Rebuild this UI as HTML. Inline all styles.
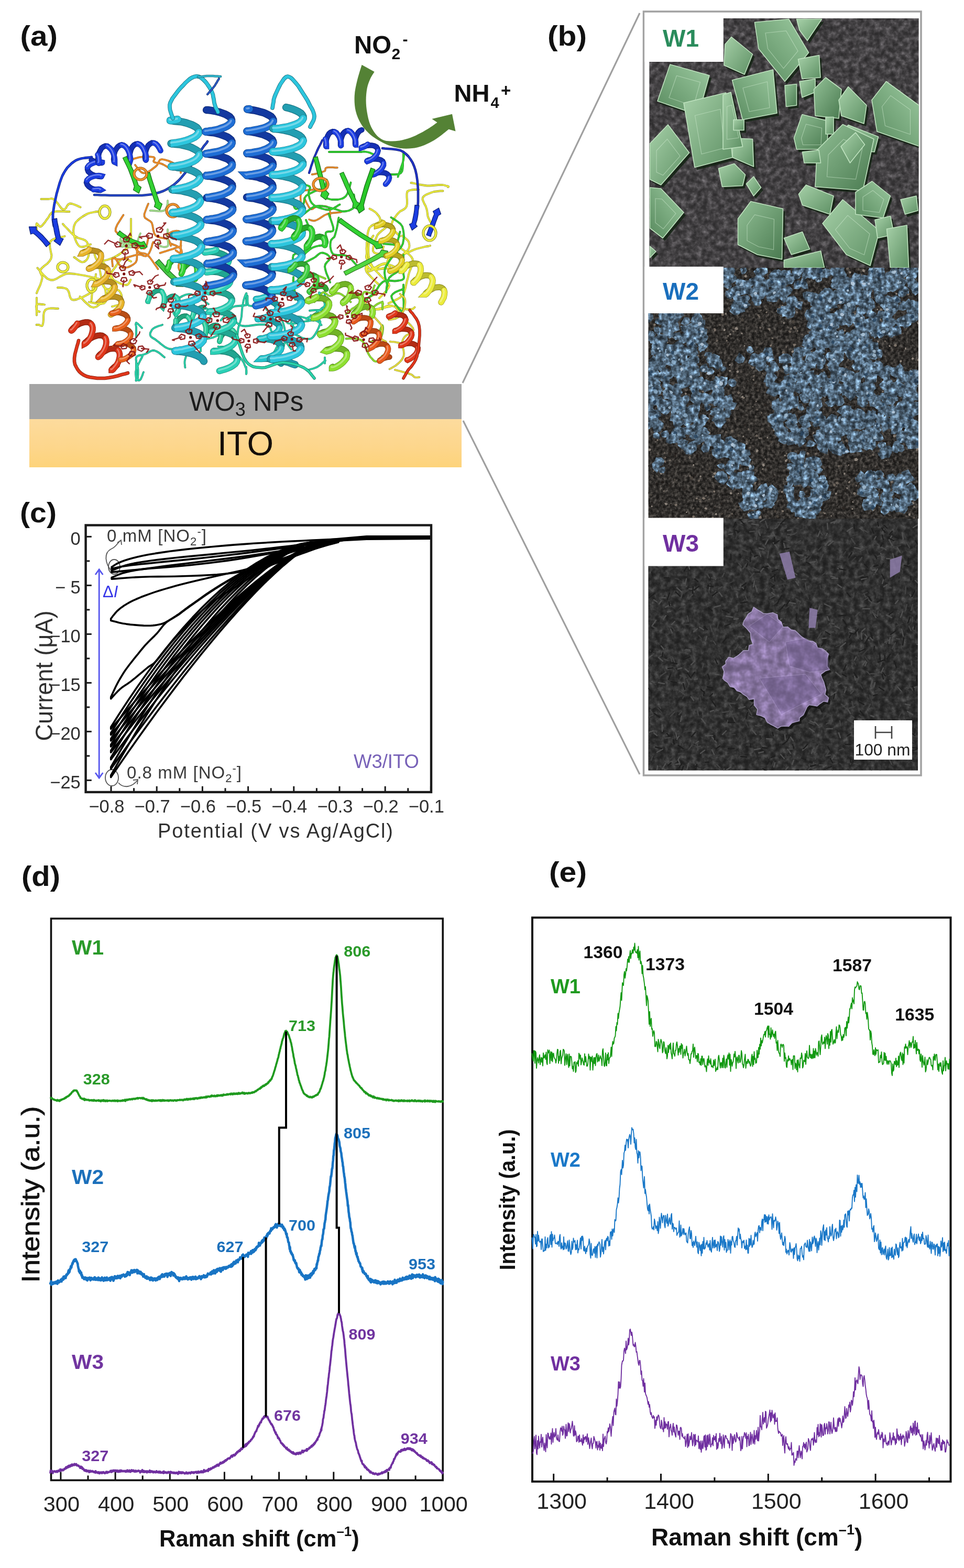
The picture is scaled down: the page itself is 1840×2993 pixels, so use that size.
<!DOCTYPE html>
<html><head><meta charset="utf-8"><title>Figure</title>
<style>html,body{margin:0;padding:0;background:#fff;} svg{display:block;}</style>
</head><body>
<svg width="1840" height="2993" viewBox="0 0 1840 2993">
<defs><linearGradient id="itog" x1="0" y1="0" x2="0" y2="1"><stop offset="0" stop-color="#fddb9d"/><stop offset="0.6" stop-color="#fdd68b"/><stop offset="1" stop-color="#fdd37a"/></linearGradient><filter id="n1" x="0" y="0" width="100%" height="100%" color-interpolation-filters="sRGB"><feTurbulence type="fractalNoise" baseFrequency="0.1" numOctaves="3" seed="5"/><feColorMatrix type="matrix" values="1 0 0 0 0 1 0 0 0 0 1 0 0 0 0 0 0 0 0 1"/><feComponentTransfer><feFuncR type="gamma" amplitude="0.4" exponent="2" offset="0.165"/><feFuncG type="gamma" amplitude="0.388" exponent="2" offset="0.16005"/><feFuncB type="gamma" amplitude="0.4" exponent="2" offset="0.165"/></feComponentTransfer></filter><clipPath id="c1"><rect x="1239.5" y="35" width="514.0" height="476"/></clipPath><linearGradient id="gc1" x1="0" y1="0" x2="1" y2="1"><stop offset="0" stop-color="#a6d0a8"/><stop offset="1" stop-color="#5e9064"/></linearGradient><linearGradient id="gc2" x1="0" y1="0" x2="1" y2="1"><stop offset="0" stop-color="#92c096"/><stop offset="1" stop-color="#4a7a50"/></linearGradient><linearGradient id="gc3" x1="1" y1="0" x2="0" y2="1"><stop offset="0" stop-color="#9ccaa0"/><stop offset="1" stop-color="#588a5e"/></linearGradient><filter id="n2" x="0" y="0" width="100%" height="100%" color-interpolation-filters="sRGB"><feTurbulence type="fractalNoise" baseFrequency="0.17" numOctaves="3" seed="9"/><feColorMatrix type="matrix" values="1 0 0 0 0 1 0 0 0 0 1 0 0 0 0 0 0 0 0 1"/><feComponentTransfer><feFuncR type="gamma" amplitude="0.45" exponent="2" offset="0.08"/><feFuncG type="gamma" amplitude="0.4275" exponent="2" offset="0.076"/><feFuncB type="gamma" amplitude="0.405" exponent="2" offset="0.07200000000000001"/></feComponentTransfer></filter><filter id="n2b" x="0" y="0" width="100%" height="100%" color-interpolation-filters="sRGB"><feTurbulence type="fractalNoise" baseFrequency="0.12" numOctaves="3" seed="13"/><feColorMatrix type="matrix" values="1 0 0 0 0 1 0 0 0 0 1 0 0 0 0 0 0 0 0 1"/><feComponentTransfer><feFuncR type="gamma" amplitude="0.81" exponent="2" offset="0.11399999999999999"/><feFuncG type="gamma" amplitude="1.026" exponent="2" offset="0.1444"/><feFuncB type="gamma" amplitude="1.215" exponent="2" offset="0.171"/></feComponentTransfer></filter><clipPath id="c2"><rect x="1237.5" y="511" width="515.5" height="479"/></clipPath><clipPath id="c2b"><path d="M1644,791l11,3l-3,11l-5,5l-10,7l-2,-12l0,-10zM1608,553l-9,1l-3,-9l2,-10l10,2l6,3l2,9zM1452,545l10,3l1,8l-4,7l-8,4l-9,-5l4,-10zM1740,833l6,3l-1,8l-8,3l-7,-3l-1,-8l6,-4zM1334,830l6,0l1,7l-4,3l-5,2l-2,-4l-1,-5zM1678,845l5,-2l8,2l0,8l-7,2l-6,1l-4,-6zM1360,736l5,-3l4,-4l4,4l2,6l-5,3l-6,0zM1648,810l-13,1l-12,5l-5,-13l7,-11l12,-4l7,10zM1635,587l9,-4l7,4l5,7l-6,6l-6,1l-10,-3zM1615,743l7,3l-2,7l-6,1l-7,1l0,-7l2,-7zM1511,701l-2,-12l8,-9l9,5l10,4l-3,12l-10,-1zM1577,646l-8,-1l-12,0l1,-12l9,-6l8,4l10,6zM1718,847l7,3l2,8l-5,5l-7,-1l-3,-5l-4,-10zM1536,711l-11,-3l6,-10l4,-7l8,3l7,6l-6,9zM1654,630l5,-7l7,3l3,4l-1,5l-4,4l-5,-4zM1607,550l-11,-1l-1,-11l3,-10l10,2l4,6l0,6zM1554,663l-8,7l-7,-5l-9,-6l4,-12l12,1l5,7zM1521,824l8,-6l7,8l1,7l-4,5l-8,2l-2,-8zM1625,793l-1,-5l1,-4l4,-2l3,3l2,4l-3,4zM1644,556l9,-6l7,4l3,6l0,7l-9,7l-9,-7zM1298,854l-5,-4l4,-5l6,-1l6,3l-3,5l-3,6zM1393,913l0,-10l11,-1l6,7l2,10l-9,5l-10,-1zM1603,812l-2,9l-2,6l-8,3l-4,-7l1,-8l6,-4zM1539,959l3,-7l6,-8l9,6l4,9l-9,4l-7,1zM1676,520l-6,3l-7,-4l-5,-9l9,-8l11,2l4,10zM1753,726l-8,-4l-2,-8l5,-5l8,-5l5,9l0,9zM1373,913l-4,-6l2,-6l6,-2l4,4l1,5l-3,3zM1625,549l9,-2l9,3l2,10l-8,5l-8,-2l-4,-5zM1631,670l7,7l-5,8l-8,3l-7,-4l-5,-10l10,-5zM1522,745l-4,-10l5,-11l11,3l10,4l-5,10l-7,3zM1586,673l4,-6l7,1l1,5l2,5l-5,1l-6,0zM1541,688l1,-5l5,0l4,2l1,5l-4,5l-7,0zM1547,787l6,7l-7,5l-7,5l-4,-7l2,-6l3,-6zM1252,873l10,0l6,5l-1,7l-4,4l-7,1l-8,-7zM1324,712l1,-7l7,0l4,5l0,7l-6,4l-5,-5zM1681,978l0,-8l4,-5l9,-5l8,9l-6,9l-8,6zM1588,680l-2,-5l4,-4l6,-1l4,5l1,8l-8,3zM1620,729l-1,-5l5,-2l6,0l2,6l-5,4l-5,2zM1524,834l-4,8l-5,6l-12,2l-4,-12l5,-12l13,-3zM1540,512l-3,6l-4,2l-7,1l-3,-7l5,-6l5,3zM1666,740l-2,8l-5,8l-10,-4l-6,-9l5,-11l11,5zM1249,722l-10,3l-4,-9l-1,-9l8,-5l9,4l5,9zM1722,505l8,4l9,2l-5,8l-5,7l-7,-5l-3,-7zM1550,617l-10,-6l-5,-10l5,-10l12,-1l8,7l1,13zM1385,835l11,-3l5,9l3,7l-4,10l-11,-2l-5,-9zM1255,659l-4,-12l5,-9l10,0l7,4l2,10l-8,7zM1703,701l2,8l-5,5l-8,4l-9,-6l4,-11l9,-3zM1701,743l3,-13l12,-2l9,5l5,10l-9,7l-9,-2zM1531,687l-1,6l-6,-2l-2,-4l0,-4l4,-3l5,1zM1653,667l-2,9l-6,3l-8,0l-5,-8l5,-8l9,-2zM1666,695l-3,6l-7,4l-8,-4l1,-9l6,-9l9,5zM1303,699l4,9l-1,9l-10,2l-10,-3l0,-11l7,-10zM1255,689l0,9l-8,3l-5,-3l-3,-4l0,-8l9,-4zM1560,917l-1,7l-6,1l-8,0l1,-8l5,-3l6,-2zM1589,626l-7,-5l0,-9l7,-5l8,3l7,7l-6,8zM1447,967l-2,-8l9,-1l7,3l-3,7l-4,4l-6,1zM1499,841l-1,-8l6,-9l8,7l8,8l-7,10l-10,-2zM1400,882l2,12l-1,8l-7,6l-8,-6l-5,-9l7,-9zM1528,885l10,1l-2,9l-3,9l-10,-1l-9,-7l7,-9zM1325,788l7,4l2,7l-3,8l-9,-1l-4,-6l1,-8zM1267,673l1,-4l5,-2l3,3l2,5l-4,4l-6,-1zM1577,648l-6,-7l0,-12l12,-2l6,7l1,7l-4,7zM1363,775l-4,-9l6,-6l7,-7l6,9l-1,7l-5,5zM1248,653l-1,-5l0,-5l5,0l6,1l-3,5l-2,3zM1412,513l6,-2l6,0l2,6l-4,5l-6,2l-2,-6zM1601,615l3,-13l1,-13l13,5l8,6l1,13l-12,2zM1513,774l-3,6l-3,6l-5,-5l-1,-4l1,-5l6,-3zM1709,962l6,-1l2,6l0,6l-6,1l-5,-3l-1,-6zM1471,699l-2,-10l10,0l5,7l3,7l-6,6l-9,-2zM1494,770l4,-9l9,3l8,2l1,11l-9,6l-8,-5zM1732,716l1,-7l8,-1l2,7l3,7l-7,6l-7,-6zM1565,573l2,-9l5,-2l6,-2l5,6l-5,5l-5,6zM1528,912l-4,9l-11,-2l-1,-9l2,-7l8,-5l10,4zM1416,859l7,-1l8,1l2,9l-8,5l-8,1l-7,-8zM1396,878l-5,-6l3,-7l7,-11l12,7l-1,12l-7,7zM1260,692l10,-2l0,10l3,12l-12,-3l-5,-4l-3,-8zM1601,532l-3,6l-6,2l-6,-3l3,-6l3,-3l5,0zM1703,751l1,10l-5,6l-7,2l-9,-3l0,-10l8,-8zM1288,754l4,5l-5,5l-5,-1l-3,-3l-1,-5l5,-3zM1451,943l-6,-9l7,-9l11,-3l3,10l5,10l-11,3zM1537,760l-4,-7l4,-6l8,-5l6,7l-1,8l-5,6zM1568,901l-4,3l-6,0l0,-6l3,-4l5,-2l5,4zM1725,943l2,-12l12,2l4,10l-1,8l-8,4l-9,-3zM1681,550l6,-10l9,-5l9,7l1,10l-8,5l-9,2zM1645,534l-5,2l-8,0l2,-7l3,-4l6,-3l2,7zM1576,570l2,-9l10,-2l6,7l-2,8l-6,3l-8,1zM1607,842l4,6l3,7l-7,7l-9,-2l-5,-9l8,-5zM1365,769l-4,2l-6,-1l-1,-7l5,-4l6,-1l1,7zM1636,624l2,-6l6,1l6,4l-4,5l-5,4l-5,-3zM1586,614l7,-1l9,2l0,10l-8,5l-8,-1l-5,-8zM1658,572l3,9l-4,9l-10,0l-3,-8l1,-5l4,-6zM1707,517l3,10l-5,9l-10,1l-3,-9l-2,-7l7,-3zM1339,822l8,-3l8,6l-5,8l-6,4l-7,-2l-6,-8zM1426,588l-7,1l-6,-4l-1,-8l6,-8l7,7l8,6zM1312,768l-6,-1l-6,-5l4,-6l7,-2l5,3l0,7zM1632,747l-3,5l-6,-2l-4,-4l1,-6l6,-3l6,4zM1581,618l-7,0l-6,-2l2,-6l4,-4l6,-1l5,6zM1700,576l1,-8l8,-5l9,5l-2,9l-5,5l-10,5zM1391,893l-3,-9l8,-7l9,0l7,7l-2,12l-11,2zM1296,841l-6,5l-8,0l-7,-9l7,-8l8,1l6,4zM1288,633l-5,5l-7,2l-9,-3l3,-10l8,-2l7,1zM1723,567l-7,0l-3,-6l2,-6l7,-6l7,6l1,8zM1645,604l5,0l1,5l-1,6l-6,-1l-6,-2l0,-8zM1659,675l-2,-9l4,-6l8,-7l5,10l2,9l-8,4zM1509,907l3,-4l5,-5l5,5l-2,5l-2,5l-7,0zM1287,697l-10,1l-7,-3l-1,-8l5,-6l10,-5l5,11zM1710,625l9,1l2,11l-10,4l-7,-2l-7,-6l4,-10zM1524,956l4,-4l5,-6l6,5l-3,6l-3,5l-7,0zM1518,840l-3,-6l4,-7l7,1l9,4l-5,8l-6,5zM1733,835l-1,-7l1,-6l7,-1l5,5l-3,5l-2,7zM1505,583l-6,-8l6,-9l11,-2l7,8l-3,10l-8,2zM1623,834l-10,-5l-9,-6l4,-11l10,-7l10,8l-2,10zM1740,790l-7,2l-5,-3l-1,-5l2,-5l6,-1l6,4zM1307,605l8,1l3,8l-5,5l-6,2l-8,-3l4,-7zM1539,820l-1,4l-3,5l-5,-3l-1,-4l0,-7l7,1zM1733,511l9,0l10,0l2,11l-6,10l-12,-2l-6,-9zM1689,699l5,-2l4,2l4,5l-4,4l-6,2l-4,-5zM1237,702l2,-8l6,-8l9,5l3,9l-6,6l-8,3zM1540,689l0,-8l5,-5l6,3l7,5l-5,7l-7,-1zM1424,904l1,8l-8,2l-5,-1l-3,-5l3,-6l6,-2zM1521,924l-5,-11l2,-11l10,-1l10,2l4,11l-10,4zM1529,796l6,-5l5,5l3,5l-3,8l-8,0l-7,-6zM1633,545l-5,-2l-3,-6l5,-4l7,-2l6,6l-2,9zM1746,725l-6,-5l2,-7l4,-6l9,1l4,9l-5,7zM1466,742l7,-2l8,1l5,9l-7,8l-9,-4l-8,-4zM1612,729l7,-5l7,7l6,9l-11,3l-7,0l-10,-6zM1563,647l-6,7l-7,5l-5,-6l-4,-8l8,-3l6,1zM1364,768l-12,-3l4,-11l5,-7l11,-4l6,11l-3,12zM1605,564l9,1l3,8l-6,6l-7,2l-3,-6l0,-6zM1562,972l-8,-5l-9,-9l10,-7l9,-1l7,6l-2,9zM1667,549l5,-5l5,5l0,6l-3,2l-5,2l-2,-5zM1411,673l7,6l4,5l-3,8l-9,2l-8,-6l5,-8zM1741,583l-5,5l-3,-6l-5,-6l6,-6l6,4l3,4zM1322,688l-1,-6l5,-3l6,0l3,6l-1,8l-9,1zM1505,959l-3,-5l-2,-8l8,-2l7,2l2,8l-5,4zM1264,641l8,6l-2,10l-10,3l-6,-6l-6,-7l7,-7zM1738,706l7,5l5,7l-5,7l-8,2l-5,-7l-1,-8zM1612,517l5,8l-5,7l-9,8l-11,-7l6,-11l5,-10zM1530,678l-5,4l-8,0l1,-8l1,-7l7,-1l6,5zM1588,750l-10,0l-9,-7l2,-12l11,-5l9,7l4,9zM1497,745l0,6l-7,0l-3,-3l-2,-5l4,-6l5,5zM1614,821l-6,3l-7,-5l0,-9l9,-5l8,4l4,9zM1309,835l-7,1l-7,2l1,-8l0,-8l7,3l3,3zM1326,823l5,-5l7,-1l6,4l-4,6l-4,3l-5,-1zM1619,831l-5,-6l-1,-9l8,-5l6,5l2,6l1,10zM1641,707l-2,-10l9,-3l10,2l-1,9l-3,8l-9,1zM1728,776l10,5l-2,12l-8,4l-10,3l-3,-11l4,-8zM1304,700l5,-1l8,3l-5,6l-4,7l-8,-2l-1,-9zM1301,732l0,12l-1,8l-9,7l-6,-10l-4,-9l8,-8zM1634,649l8,3l-3,8l-5,6l-8,-2l-3,-8l4,-7zM1729,849l-4,-9l9,-6l8,4l4,6l-3,7l-8,6zM1302,665l8,3l4,7l-3,8l-8,3l-9,-4l-1,-11zM1362,832l5,-3l9,0l0,8l-4,9l-9,0l-6,-8zM1337,738l-3,-2l-1,-5l3,-3l5,0l1,5l2,7zM1516,676l-1,-12l11,-2l13,2l2,13l-11,5l-11,6zM1537,969l0,-7l7,0l5,2l2,6l-4,4l-6,-2zM1514,891l7,-7l8,7l3,10l-9,5l-8,-3l-7,-5zM1652,948l3,-6l4,-5l7,2l2,8l-5,5l-6,0zM1492,524l1,13l2,12l-13,2l-7,-8l1,-9l5,-4zM1272,627l-1,-12l13,-6l11,8l2,13l-11,4l-9,1zM1513,877l-1,-5l1,-7l8,-1l2,6l1,6l-6,4zM1395,522l3,3l0,6l-6,-1l-5,-2l-1,-6l5,-5zM1373,777l8,0l0,8l-7,2l-5,1l-3,-5l3,-5zM1611,791l4,10l3,9l-9,4l-9,-2l-3,-9l4,-8zM1258,733l7,10l-5,10l-10,4l-6,-7l-3,-8l7,-5zM1629,662l-5,-10l9,-6l9,3l9,5l-5,9l-9,3zM1536,832l0,8l-7,5l-7,-2l-2,-6l3,-6l6,-4zM1283,709l4,-8l10,-2l6,8l0,10l-10,1l-8,-1zM1536,527l1,-10l8,-5l7,5l8,7l-6,10l-10,-3zM1685,934l-11,-2l-1,-13l12,-9l11,7l2,10l-4,8zM1412,933l-8,0l-6,-8l7,-6l7,-6l7,7l1,9zM1595,567l2,-12l11,-2l7,7l4,9l-9,4l-7,0zM1379,766l-8,5l-5,-7l-8,-7l8,-7l8,2l7,5zM1679,698l5,10l-5,10l-9,-3l-10,-1l4,-9l5,-5zM1503,885l8,-1l7,2l3,8l-8,3l-5,1l-6,-4zM1733,811l4,-9l10,-1l9,6l-6,9l-6,4l-9,0zM1647,620l8,-10l8,-9l8,10l3,8l-7,6l-9,2zM1283,831l-2,-6l5,-6l6,4l6,5l-4,6l-7,6zM1342,791l4,1l3,5l-5,5l-5,-2l-3,-3l1,-5zM1489,829l12,-4l13,4l1,14l-11,4l-8,1l-11,-6zM1640,691l1,-7l8,0l3,7l-1,7l-6,1l-5,-3zM1495,819l6,2l3,6l-4,6l-8,3l-7,-7l2,-9zM1332,737l8,-5l7,-2l7,4l-1,9l-8,2l-7,0zM1629,654l-1,8l-3,6l-9,1l-2,-8l-1,-8l8,-3zM1546,639l4,-8l5,-7l11,1l0,10l-3,9l-8,-2zM1558,756l-9,-5l3,-9l4,-10l9,6l4,7l0,10zM1453,555l8,2l0,8l-4,5l-7,3l-7,-6l4,-7zM1440,891l-1,4l-2,3l-6,1l-2,-5l2,-6l6,-1zM1672,966l-6,9l-10,-8l-5,-11l10,-10l10,5l3,8zM1501,746l9,2l5,5l2,10l-9,7l-13,-4l0,-12zM1492,772l9,9l-13,4l-8,1l-7,-7l0,-13l13,-6zM1685,790l-3,-10l2,-9l9,1l6,4l0,6l-4,7zM1526,897l-3,-7l0,-7l8,-1l7,2l2,9l-7,5zM1386,510l6,-11l7,9l5,8l-4,10l-9,-4l-6,-5zM1495,730l3,7l-4,5l-6,0l-4,-4l-1,-6l6,-1zM1616,604l-4,8l-6,8l-9,-4l-1,-9l2,-11l10,5zM1625,710l-5,10l-5,12l-12,-5l-3,-11l3,-11l12,-3zM1745,616l-12,0l-5,-12l5,-12l13,-2l6,10l1,10zM1582,664l-11,-2l-6,-5l0,-8l6,-7l8,4l2,7zM1759,553l-6,6l-6,5l-6,-5l-1,-8l6,-5l6,3zM1660,732l-3,4l-6,-1l0,-5l1,-6l6,-1l5,4zM1602,535l8,-6l9,-1l5,9l-3,8l-8,8l-10,-7zM1501,746l-2,-10l3,-8l7,-3l9,4l0,9l-6,7zM1612,566l-5,8l-4,6l-10,-1l2,-9l2,-5l6,-3zM1507,711l9,2l5,3l2,7l-5,7l-9,-2l-4,-8zM1622,863l-7,3l-6,1l-6,-3l1,-8l7,-5l6,5zM1708,811l-6,1l-6,-4l3,-7l6,-1l8,-1l-1,8zM1410,578l-7,-1l-3,-5l-2,-7l7,-5l8,4l2,8zM1364,792l10,-3l8,5l5,10l-8,9l-10,-5l-11,-5zM1636,680l-5,-5l4,-6l7,0l3,4l-1,5l-3,2zM1471,563l6,-4l6,3l4,7l-4,7l-9,1l-6,-7zM1649,557l-3,-8l-1,-5l4,-6l6,3l6,5l-3,9zM1531,648l7,-9l8,-2l13,1l-6,12l-5,5l-8,-1zM1495,839l-10,-3l-7,-8l2,-12l13,-5l11,8l-1,12zM1626,842l12,0l4,9l5,12l-12,0l-12,2l-2,-12zM1254,774l-9,-3l4,-8l5,-6l9,-1l3,10l-3,8zM1597,697l-5,-3l-5,-5l6,-5l6,1l3,4l1,6zM1655,900l10,3l7,3l1,9l-7,6l-7,-5l-3,-6zM1257,607l4,3l5,5l-5,5l-6,-1l-5,-3l1,-7zM1597,731l-7,3l-4,-7l3,-6l6,-6l5,6l1,7zM1690,927l8,0l2,7l-3,6l-5,1l-6,-3l-1,-6zM1647,841l7,-6l7,-1l7,4l-1,8l-6,7l-6,-6zM1373,692l-8,7l-11,2l-2,-11l-1,-12l12,-3l11,5zM1276,684l-6,2l-5,-2l-2,-5l1,-7l6,2l6,2zM1641,653l-12,0l-3,-10l-3,-11l10,-6l8,8l5,8zM1550,693l-6,-5l1,-7l4,-8l7,6l3,5l-1,8zM1408,686l2,-6l6,1l6,1l-2,5l-2,5l-4,-3zM1709,705l2,5l-3,5l-7,2l-3,-7l1,-7l6,-2zM1644,910l3,-4l7,-3l1,8l-2,4l-3,7l-8,-4zM1631,856l-2,-8l6,-7l7,3l5,6l-5,5l-5,3zM1613,653l5,8l-2,10l-10,0l-6,-5l0,-7l5,-4zM1309,859l3,-10l5,-5l9,-4l5,10l-2,10l-10,5zM1484,809l-12,2l-6,-11l3,-9l7,-2l12,-3l-1,12zM1260,737l-7,1l-4,-5l-3,-5l5,-5l6,2l4,5zM1642,738l3,-6l5,-3l6,1l3,5l-4,6l-6,-1zM1739,587l9,4l-2,9l-1,9l-8,-5l-9,-2l6,-8zM1689,560l-5,-3l-1,-4l1,-6l6,-3l5,5l-2,6zM1522,726l4,-5l5,4l3,7l-6,3l-6,1l-2,-5zM1403,927l-4,9l-7,-7l-6,-5l4,-8l9,-6l7,9zM1648,953l10,-2l12,3l-2,12l-7,7l-12,2l-4,-11zM1259,716l7,-5l11,-2l0,10l2,11l-11,2l-8,-6zM1664,730l-5,-5l-4,-5l4,-5l5,1l7,2l-4,6zM1720,714l3,6l1,6l-6,3l-5,-3l-1,-5l2,-4zM1633,539l-9,-3l2,-9l5,-7l8,3l6,7l-6,6zM1638,720l-11,7l-9,-1l-7,-6l0,-11l10,-3l9,4zM1635,843l-5,-5l3,-8l7,3l8,0l-3,7l-4,3zM1276,767l-1,-6l6,-3l6,-1l0,6l2,7l-8,1zM1348,694l4,9l-5,8l-8,-1l-6,-3l3,-6l4,-4zM1552,559l7,8l-7,8l-8,0l-5,-4l0,-7l4,-8zM1632,567l3,7l-6,8l-9,-2l-6,-8l6,-6l6,-6zM1247,775l-1,9l-8,3l-6,-2l-2,-6l2,-6l8,-3zM1488,760l0,-8l3,-7l7,3l4,5l1,8l-8,2zM1380,845l3,5l-5,4l-6,-1l0,-6l1,-4l4,-1zM1677,560l-11,-7l2,-13l13,0l8,2l0,9l-2,9zM1566,564l6,-2l4,7l-6,5l-5,0l-5,-3l-1,-7zM1261,786l1,8l-6,4l-8,1l-3,-7l0,-9l9,-1zM1572,957l-10,-5l-3,-12l11,-6l9,3l6,8l-5,9zM1329,737l-10,-4l4,-10l8,-3l10,-1l6,11l-8,9zM1236,751l11,1l3,9l1,10l-10,2l-7,-5l-1,-8zM1660,929l-7,-3l2,-8l7,-3l6,5l1,5l-4,6zM1653,800l0,-8l4,-9l11,3l9,9l-8,10l-10,4zM1716,834l2,-6l7,0l6,4l-2,7l-6,1l-6,0zM1496,598l5,-9l7,-9l9,7l1,9l-3,9l-12,4zM1293,674l-1,11l-5,6l-8,1l-6,-5l0,-9l9,-3zM1681,811l-7,-4l-3,-5l2,-6l6,0l5,2l1,6zM1529,749l1,-5l4,-5l5,3l3,4l-1,6l-7,-1zM1531,901l5,5l-1,7l-3,7l-8,-3l-3,-7l1,-8zM1547,797l-3,9l-4,7l-9,-1l-8,-8l6,-10l9,1zM1567,585l1,10l-9,3l-10,2l-3,-11l6,-6l8,-6zM1382,844l0,13l-13,3l-8,-6l-2,-9l3,-12l12,2zM1360,853l9,-9l11,-2l12,6l-5,12l-9,8l-10,-5zM1469,740l-7,-3l-1,-6l3,-10l10,2l3,8l-1,8zM1633,830l5,5l-3,8l-7,6l-7,-6l-6,-10l10,-4zM1378,781l-5,2l-3,-4l-1,-4l2,-4l7,-1l1,6zM1551,911l8,4l2,11l-8,7l-8,-6l-10,-5l7,-10zM1725,547l-7,3l-10,-1l1,-10l5,-6l10,-3l6,9zM1275,747l3,-4l5,0l2,5l1,8l-7,-2l-4,-3zM1426,545l-3,-4l2,-5l5,-1l8,1l1,8l-7,4zM1737,953l6,10l-11,4l-11,5l-3,-12l0,-13l12,-6zM1620,574l7,3l1,8l-7,1l-5,2l-6,-5l4,-6zM1694,546l5,-10l11,2l3,8l-1,7l-6,4l-8,-3zM1526,783l-4,-4l1,-7l7,-2l3,6l3,5l-5,3zM1659,512l9,-2l1,9l0,6l-6,1l-5,-2l-2,-6zM1316,639l-9,-2l-6,-5l-2,-10l10,-1l7,2l4,7zM1553,805l5,-4l6,2l-2,7l-2,5l-6,0l-3,-5zM1627,652l-5,12l-12,-1l-11,-4l-1,-14l11,-8l9,8zM1560,683l1,-6l5,0l5,2l1,5l-3,6l-6,-2zM1552,830l10,-2l9,1l-1,9l-3,8l-9,0l-4,-7zM1640,691l-12,-4l-4,-9l-1,-12l12,-3l11,5l-1,12zM1628,841l5,3l4,7l-7,5l-8,-1l-4,-7l3,-7zM1366,849l-11,3l-9,-10l11,-8l7,-3l11,3l-4,10zM1744,793l-6,3l-3,-5l0,-5l2,-6l7,3l1,5zM1419,919l13,-4l5,12l0,12l-12,3l-6,-6l-5,-8zM1705,611l-5,7l-9,6l-6,-9l-1,-9l7,-8l11,3zM1708,784l-2,7l-9,1l-4,-8l4,-6l6,-7l7,6zM1383,862l-3,-8l5,-7l8,-1l3,6l2,7l-7,4zM1606,616l-11,2l-5,-9l0,-9l8,-9l7,10l4,6zM1515,765l4,3l4,5l-3,6l-8,0l-4,-5l2,-6zM1671,687l-11,-2l-9,-8l6,-9l8,-8l12,5l3,13zM1664,911l-6,1l-8,-1l1,-8l5,-5l8,-1l2,8zM1723,574l9,3l2,8l-4,6l-7,2l-10,-2l4,-10zM1247,677l7,7l3,8l-5,9l-10,0l-4,-9l4,-6zM1442,951l-3,-8l6,-5l7,2l6,5l-4,6l-6,2zM1253,661l-5,0l-4,-5l4,-6l5,1l5,2l-1,6zM1320,807l-7,9l-10,-7l4,-10l4,-8l7,4l6,6zM1640,631l-3,-14l10,-6l10,-3l6,8l1,11l-11,2zM1665,936l-3,5l-5,2l-4,-3l-1,-4l4,-3l4,-1zM1329,840l5,-3l5,5l-2,6l-5,1l-5,0l-3,-6zM1272,603l1,-11l10,-2l7,7l0,8l-4,11l-10,-6zM1514,957l1,6l1,8l-8,1l-7,-3l2,-7l5,-3zM1261,696l0,-4l3,-4l4,2l5,4l-3,6l-6,1zM1708,615l5,-7l7,-4l7,4l1,8l-5,7l-9,0zM1572,824l-8,-8l8,-9l8,-5l8,6l5,11l-10,9zM1570,838l-8,-1l-5,-7l1,-9l9,-2l7,5l2,8zM1525,806l7,-8l9,0l4,7l3,8l-8,6l-9,-5zM1647,704l-7,3l-9,0l-6,-8l7,-8l9,-4l9,7zM1270,662l-2,6l0,8l-9,0l-2,-8l0,-7l7,-1zM1653,669l6,-9l5,-8l12,2l1,11l-4,10l-10,-2zM1501,700l5,3l2,5l-2,5l-6,2l-4,-5l0,-6zM1674,601l3,-8l8,0l6,3l1,7l-7,3l-8,4zM1717,959l1,-11l9,-7l7,8l6,6l-6,6l-8,4zM1522,532l-11,-6l1,-10l0,-11l11,1l11,6l-4,11zM1666,708l-5,-2l-1,-5l2,-6l8,-2l2,7l1,7zM1489,588l5,0l4,5l-3,6l-6,1l-6,-3l0,-8zM1357,679l6,3l-1,6l-4,6l-7,-1l-4,-6l4,-7zM1560,664l-7,-6l2,-9l5,-7l10,2l8,9l-10,7zM1744,723l-9,-3l3,-9l7,-5l9,1l-1,9l-1,8zM1714,747l0,-10l11,0l5,8l1,8l-8,6l-9,-3zM1687,572l10,-4l11,-2l5,10l-3,11l-11,-1l-10,-2zM1587,540l5,-4l7,3l0,6l-3,5l-7,1l-4,-5zM1719,924l-7,1l-7,-6l4,-9l7,-7l10,6l3,11zM1296,722l-10,-3l-8,-6l3,-11l10,-3l8,5l2,9zM1539,874l8,-2l9,2l4,10l-6,12l-14,-1l-4,-12zM1385,757l11,-5l3,12l-5,9l-8,2l-10,-4l-2,-11zM1653,969l0,-9l8,-3l10,-2l1,10l-5,6l-7,2zM1385,555l9,-1l8,4l-2,9l-6,4l-6,-2l-4,-6zM1747,832l-7,-4l-1,-8l4,-4l8,-4l6,6l-2,10zM1663,967l-7,-3l-4,-9l8,-4l10,-6l4,11l-2,9zM1422,587l0,8l-8,2l-6,-5l-1,-8l7,-2l7,-3zM1333,699l2,7l-3,7l-10,1l-4,-8l2,-7l7,-4zM1292,844l8,-6l7,1l7,3l-3,8l-6,6l-9,-3zM1554,707l-1,10l-2,10l-11,2l-4,-10l-1,-9l9,-2zM1529,710l12,-1l3,12l-8,10l-12,0l-3,-11l1,-8zM1318,739l-5,-11l11,-6l9,5l7,10l-7,9l-10,0zM1718,516l-7,6l-6,8l-8,-6l2,-8l3,-6l8,-1zM1508,770l-2,6l-8,5l-3,-9l-5,-9l10,-2l9,-1zM1489,530l-6,10l-11,-3l-6,-10l6,-8l8,-5l11,4zM1336,770l0,12l-4,12l-12,-4l-12,-5l7,-11l9,-2zM1420,551l4,-8l8,3l4,5l0,7l-7,5l-6,-5zM1429,890l-14,-2l-10,-9l6,-11l8,-10l8,11l7,8zM1681,861l8,-3l2,9l-1,7l-7,3l-5,-6l-3,-6zM1741,798l-5,-10l1,-9l9,-6l6,8l3,6l-6,5zM1276,670l2,-10l9,-4l10,3l-3,9l-2,8l-8,-2zM1429,944l-7,-2l4,-6l5,-4l6,2l3,7l-6,4zM1598,730l-7,4l-8,-1l-2,-8l5,-6l7,-3l7,6zM1402,922l-8,0l-3,-6l4,-6l6,-4l7,4l1,9zM1700,829l2,-11l2,-9l11,-5l9,10l-5,11l-8,3zM1706,744l1,8l-6,6l-8,-2l-6,-7l3,-10l11,-5zM1296,649l6,7l8,8l-9,6l-7,-1l-10,-4l4,-10zM1437,921l-7,-3l0,-8l7,-4l6,4l4,5l-4,5zM1733,929l4,4l-2,6l-6,-2l-3,-2l-2,-5l5,-4zM1542,612l11,-4l7,1l7,6l-1,11l-11,2l-8,-6zM1504,789l8,-1l0,9l-2,8l-8,-3l-5,-4l1,-6zM1483,943l-5,2l-6,1l-3,-7l5,-4l6,-2l6,3zM1450,508l7,4l-1,8l-5,6l-8,0l-5,-8l6,-5zM1238,726l10,-5l9,6l-1,9l-4,7l-7,-3l-8,-4zM1754,791l-12,5l-4,-12l0,-10l10,-2l13,-1l-4,12zM1661,532l-3,8l-6,8l-6,-9l-5,-6l5,-9l9,2zM1439,686l3,6l-2,8l-8,-4l-4,-3l2,-6l4,-3zM1716,806l3,7l-4,9l-10,-2l-5,-8l2,-9l8,-5zM1269,835l-6,-1l-2,-7l6,-4l7,-2l3,7l-2,6zM1280,712l3,5l-2,5l-6,2l-6,-3l-1,-7l7,-4zM1745,587l-8,0l0,-8l3,-7l7,3l6,3l-3,7zM1235,735l4,-8l6,-1l7,-1l0,8l-4,4l-7,5zM1539,922l4,-6l5,-3l4,3l2,5l-4,4l-6,3zM1512,542l-9,1l-3,-8l3,-8l8,-1l6,4l-1,7zM1539,520l-10,-4l7,-6l6,-2l8,0l2,9l-7,6zM1656,649l-7,6l-7,5l-8,-5l3,-9l5,-3l5,1zM1576,638l6,7l5,10l-9,10l-9,-9l-12,-6l9,-10zM1322,678l8,3l0,9l-7,7l-6,-6l-6,-4l5,-6zM1259,725l-8,2l-9,-1l-3,-10l6,-7l10,-1l7,8zM1313,756l1,12l-6,6l-9,6l-9,-7l3,-11l8,-4zM1545,889l3,5l-3,6l-6,0l-4,-4l0,-6l5,-2zM1747,837l2,7l-5,7l-8,-1l-4,-7l2,-8l7,0zM1663,840l-4,-6l4,-7l7,0l6,4l0,8l-7,4zM1553,953l5,-8l5,-6l9,1l0,9l-2,7l-7,-1zM1625,550l8,-2l7,7l-5,8l-7,2l-5,-4l-4,-6zM1475,801l8,-7l10,8l-5,10l-6,7l-9,-2l-1,-9zM1583,692l-1,-4l3,-5l7,-1l1,7l0,7l-7,3zM1630,686l6,-10l11,2l11,5l-3,12l-10,2l-12,2zM1614,745l-1,-4l1,-8l7,3l4,4l-1,6l-5,6zM1415,571l2,3l-2,4l-5,5l-5,-6l-1,-7l7,-1zM1450,688l1,8l-9,3l-6,-6l1,-7l5,-6l7,2zM1264,807l0,7l-3,10l-13,1l-3,-12l1,-11l11,1zM1277,627l6,4l1,7l-5,7l-8,-3l-5,-6l3,-8zM1390,919l4,-8l8,4l1,7l-3,7l-8,1l-3,-6zM1276,613l-12,0l0,-13l6,-6l9,-3l12,6l-6,11zM1279,625l-1,-7l0,-7l7,0l7,2l0,8l-6,3zM1257,752l-3,8l-8,2l-6,-4l-4,-9l6,-8l12,0zM1639,726l-6,3l-4,-5l2,-5l3,-8l7,5l1,6zM1570,928l-8,-7l1,-8l3,-6l8,0l3,6l-1,7zM1549,566l7,-7l9,4l0,8l-1,9l-9,1l-7,-6zM1686,627l-5,2l-5,-3l-2,-6l7,-2l4,0l2,4zM1375,702l3,-3l4,0l5,3l-3,5l-5,3l-4,-3zM1594,687l-7,3l-7,-2l-6,-7l5,-8l10,-2l2,9zM1242,800l-4,-8l2,-9l8,0l7,2l0,8l-4,8zM1580,722l-5,6l-7,-1l-3,-6l1,-7l7,-6l5,8zM1496,592l6,-4l5,6l-3,6l-4,5l-6,-4l-2,-5zM1413,571l9,-2l7,8l-5,8l-6,4l-9,-2l0,-9zM1399,540l-8,1l-3,-8l5,-5l6,-5l8,6l-3,8zM1508,699l6,4l4,3l1,7l-8,4l-5,-5l-4,-7zM1386,868l5,-7l8,0l8,4l-1,10l-9,6l-6,-7zM1636,626l8,5l6,8l-8,5l-7,1l-7,-4l-1,-10zM1446,558l-1,6l-6,-1l-3,-4l0,-3l3,-4l4,2zM1653,759l4,11l-10,8l-11,-6l0,-11l4,-7l7,1zM1686,725l0,-7l6,-4l7,3l0,6l0,7l-7,-2zM1528,697l-1,7l-3,9l-9,-4l-4,-6l4,-6l6,-3zM1612,661l7,-7l3,8l1,6l-4,4l-7,1l-5,-6zM1495,593l-2,-6l6,-3l6,-4l4,6l-2,6l-5,2zM1646,763l5,4l4,6l-5,5l-6,-3l-3,-3l-1,-6zM1501,835l7,-1l5,1l1,5l-2,4l-6,4l-6,-5zM1589,827l-3,-5l1,-6l6,-2l5,3l2,5l-4,6zM1314,812l12,-2l0,12l-1,12l-11,-4l-10,-2l1,-11zM1408,544l6,11l0,7l-5,6l-8,1l-8,-7l2,-12zM1508,729l3,-3l4,0l4,3l-1,5l-5,5l-5,-4zM1279,613l2,9l-6,6l-7,2l-5,-6l-2,-9l9,-4zM1506,568l6,-2l3,5l-2,5l-4,5l-6,-4l-1,-6zM1527,539l4,-8l8,5l2,5l2,10l-10,1l-6,-6zM1589,820l-9,-1l-5,-3l-3,-6l6,-3l6,-1l4,5zM1565,788l5,8l-4,9l-9,-1l-5,-4l-5,-9l9,-7zM1721,738l9,-5l11,8l-6,12l-10,3l-7,-4l-2,-8zM1303,699l3,11l-8,10l-9,-7l-8,-5l4,-8l8,-5zM1328,666l-5,1l-7,-1l1,-7l5,-2l5,-1l5,5zM1692,734l4,0l7,2l-4,5l-4,5l-5,-3l-1,-5zM1556,629l-2,-8l-1,-10l10,-3l7,7l2,8l-7,4zM1526,925l-10,2l-2,-10l0,-8l8,-4l8,4l5,10zM1330,710l3,10l-4,6l-6,5l-5,-6l-7,-8l8,-8zM1302,828l-5,6l-5,6l-6,-6l-2,-7l5,-7l9,0zM1397,857l-6,-4l3,-7l3,-8l7,7l7,5l-6,8zM1742,809l-8,0l-5,-6l-3,-10l10,-5l7,7l2,7zM1455,561l-2,8l-7,7l-8,-5l-7,-9l9,-6l10,-5zM1272,678l-9,1l-4,-9l1,-10l11,-5l13,5l-6,12zM1553,950l-6,-3l0,-6l0,-7l8,-1l3,7l0,5zM1717,798l-11,-5l-3,-14l12,-6l10,3l10,8l-7,11zM1737,954l-3,-9l2,-9l10,-6l8,8l0,11l-7,7zM1614,520l0,9l-8,-1l-5,-2l-3,-6l4,-7l7,2zM1660,647l-7,9l-12,-3l-4,-10l2,-11l11,0l8,4zM1674,519l3,-5l9,-4l3,9l0,10l-10,3l-8,-4zM1634,734l-6,-1l-8,-5l6,-7l7,-1l5,3l5,8zM1465,931l8,-6l8,6l6,12l-13,2l-11,5l-7,-11zM1555,735l-2,-6l4,-8l7,5l6,4l-1,9l-9,0zM1450,547l13,1l-6,12l-6,5l-13,4l-6,-13l7,-11zM1653,648l5,-1l7,0l0,7l-5,4l-6,-1l-3,-4zM1589,645l-3,-7l0,-8l8,-3l4,6l7,7l-8,4zM1422,945l5,-2l7,-3l3,8l-2,7l-8,1l-7,-4zM1457,550l-3,-13l11,-4l8,-3l7,7l1,12l-12,-1zM1732,857l-1,-11l4,-10l12,-4l3,12l4,11l-11,2zM1735,771l-8,10l-6,11l-11,-7l0,-10l4,-7l9,-3zM1293,784l-4,-10l10,-3l7,2l11,8l-10,8l-11,7zM1268,663l0,8l-1,6l-7,5l-4,-8l-3,-7l7,-3zM1730,785l9,1l5,9l-4,7l-7,0l-5,-2l-2,-6zM1349,638l-9,8l-7,-7l-3,-8l5,-5l6,-1l9,3zM1594,598l7,-3l7,1l3,8l-6,5l-6,2l-6,-6zM1545,669l5,4l6,4l-4,7l-6,0l-5,-3l1,-5zM1616,572l0,-6l6,-4l5,5l1,6l-3,5l-8,1zM1600,687l0,7l-8,2l-7,-5l4,-7l4,-5l6,3zM1519,842l-6,2l-4,-5l1,-6l4,-2l5,0l3,5zM1711,744l-5,-1l-7,-4l5,-5l5,-4l7,3l0,7zM1558,783l10,2l3,7l-3,6l-6,7l-5,-7l-1,-6zM1683,764l-5,-6l3,-8l9,0l4,7l-1,6l-5,5zM1320,868l-11,-1l-5,-9l4,-7l7,-5l11,1l2,12zM1358,780l10,-3l7,2l6,7l-6,6l-9,5l-5,-7zM1535,973l-1,-8l2,-6l7,-7l7,7l1,9l-7,5zM1619,840l1,-5l5,-4l5,4l-2,6l-2,6l-6,-1zM1703,788l-3,7l-8,1l-5,-5l0,-8l6,-6l8,4zM1660,816l10,-1l8,-2l5,8l-6,7l-9,4l-9,-5zM1694,962l5,-8l9,1l7,8l-5,9l-8,5l-9,-6zM1434,903l6,7l-5,9l-10,-2l-7,-5l1,-10l9,-1zM1659,740l8,7l6,9l-9,9l-12,1l-2,-11l3,-7zM1520,973l7,-8l7,7l9,5l-6,9l-10,2l-6,-6zM1503,562l0,8l-7,9l-8,-9l-5,-7l4,-13l13,1zM1498,765l1,7l-3,4l-4,3l-6,-2l0,-7l5,-4zM1242,772l2,-7l3,-8l9,0l2,9l-3,6l-6,2zM1681,721l-4,-8l-1,-6l3,-8l9,1l6,8l-4,9zM1538,688l7,-5l13,-3l-1,13l-2,9l-10,1l-6,-6zM1257,890l-1,7l-6,-3l-5,-2l-1,-7l6,-5l5,5zM1621,597l-4,10l-11,5l-11,-5l1,-12l8,-6l8,2zM1581,638l-1,8l-7,4l-5,-5l-2,-5l3,-3l6,-4zM1533,576l-2,7l-1,10l-8,-5l-9,-4l4,-9l8,0zM1661,917l6,10l-3,12l-11,-2l-6,-4l-7,-10l9,-9zM1566,524l1,-8l8,-4l10,3l1,10l-7,6l-7,-2zM1478,822l-5,-10l3,-8l8,-7l10,5l2,11l-8,6zM1589,515l7,1l5,3l0,6l-5,5l-6,-2l-4,-6zM1362,726l9,-7l8,-1l9,5l0,10l-9,5l-10,-2zM1246,797l-11,0l-4,-9l3,-9l8,-4l6,6l3,8zM1744,725l3,-5l5,2l6,2l-2,7l-5,4l-6,-4zM1574,834l13,7l-6,12l-2,14l-13,-4l-7,-9l4,-12zM1290,657l10,9l-1,13l-11,5l-9,-5l-3,-8l0,-13zM1669,902l6,-4l7,0l5,6l-2,8l-8,0l-6,-2zM1748,932l-1,5l-5,5l-6,-5l-4,-6l6,-6l7,0zM1688,852l9,-2l7,6l-2,9l-6,8l-9,-5l-5,-8zM1313,823l-6,8l-4,7l-9,-2l-5,-9l8,-6l8,-5zM1349,651l-9,-1l-4,-3l-2,-5l4,-4l7,-2l7,6zM1652,932l5,8l-5,9l-9,-1l-7,-5l1,-8l7,-7zM1564,539l-6,0l-2,-6l0,-7l8,-1l5,4l0,6zM1402,876l6,7l-4,9l-8,4l-4,-7l-4,-7l5,-5zM1362,732l3,-14l12,2l12,0l-1,12l-6,8l-12,3zM1498,549l-10,1l-4,-9l-1,-10l10,-6l12,5l-1,12zM1569,674l-3,6l-3,3l-7,1l-2,-6l2,-6l7,-1zM1497,518l6,-2l6,-1l0,6l-1,4l-4,3l-4,-4zM1444,520l1,-4l5,-5l7,3l-1,7l-4,4l-7,3zM1540,556l8,4l1,8l-6,4l-7,1l-3,-6l-1,-8zM1351,773l6,2l-2,7l-6,3l-4,-5l-1,-4l1,-6zM1488,791l-5,2l-6,-3l1,-6l5,-4l5,2l2,4zM1650,640l-4,8l-8,-1l-6,-5l-1,-9l9,-1l6,2zM1551,968l-10,-1l-11,-4l4,-12l9,-2l10,0l1,10zM1742,843l-4,-8l-2,-10l10,-4l10,2l-3,10l-1,9zM1496,541l-4,-11l-6,-11l11,-4l9,3l4,8l-1,12zM1297,634l5,7l-5,7l-8,1l-5,-5l-1,-7l7,-2zM1668,558l9,-3l10,2l2,11l-9,3l-7,4l-4,-8zM1461,724l3,-9l9,-1l7,3l0,8l-5,5l-6,-3zM1698,854l6,5l-4,7l-7,4l-7,-4l0,-8l5,-5zM1516,816l-8,4l-7,-6l-3,-8l8,-4l9,-5l4,10zM1688,630l3,-6l9,-3l5,8l-3,8l-6,4l-7,-4zM1668,836l3,-8l8,-2l5,4l3,8l-6,4l-8,0zM1493,780l2,4l-5,3l-6,1l-3,-7l3,-6l7,1zM1629,558l5,7l-2,6l-5,6l-6,-5l-5,-5l6,-6zM1418,584l-9,-3l-3,-10l8,-5l9,-2l6,7l-6,7zM1484,934l-7,5l-6,0l-7,-3l4,-8l5,-4l5,5zM1658,634l2,8l-8,4l-8,0l1,-9l0,-7l8,-3zM1247,656l-6,-1l-1,-6l4,-3l4,0l3,3l1,5zM1726,778l1,-9l7,-6l10,2l2,10l-4,9l-9,-3zM1371,522l-1,-11l9,-5l9,-2l6,8l-2,11l-10,8zM1472,567l-9,-5l4,-9l8,-5l9,3l-2,9l-1,9zM1326,808l6,-4l5,6l0,8l-7,5l-5,-6l-6,-5zM1678,941l-4,7l-8,3l-5,-6l-5,-9l9,-4l8,2zM1520,729l-10,5l-8,-1l-6,-5l0,-10l9,-2l8,4zM1453,936l2,12l3,13l-13,5l-12,-7l0,-12l7,-10zM1628,808l6,-9l10,1l8,4l2,12l-11,4l-10,-2zM1715,589l-7,-2l-7,-1l3,-6l3,-7l6,4l2,5zM1672,785l-1,6l0,7l-7,1l-3,-7l1,-4l3,-6zM1668,606l-8,0l-8,-3l3,-8l3,-9l7,7l8,5zM1535,753l-5,-9l8,-6l6,-2l5,5l4,9l-9,4zM1452,674l4,7l2,7l-6,4l-8,2l0,-9l1,-7zM1608,586l9,-5l11,5l-2,12l-8,4l-9,2l-2,-10zM1746,929l1,9l-5,10l-11,-3l-5,-9l4,-9l9,-7zM1294,774l-4,-9l10,-2l9,0l0,9l-2,8l-11,6zM1484,720l-7,10l-9,3l-11,-4l4,-10l4,-10l11,2zM1439,543l-4,-9l8,-8l12,-2l6,11l-7,9l-8,7zM1595,524l8,-1l8,-1l-1,8l-1,8l-9,0l-3,-7zM1667,822l9,0l-3,9l-3,7l-8,-3l-5,-5l5,-6zM1516,938l-2,10l-12,-1l-7,-9l2,-12l12,1l7,3zM1519,867l9,4l-2,9l-2,9l-9,-4l-6,-5l2,-9zM1270,685l-6,-4l-1,-6l4,-4l7,-3l2,6l1,7zM1465,696l5,4l2,5l-2,7l-7,-2l-4,-4l3,-5zM1580,857l-8,-4l-4,-4l0,-6l6,-3l6,1l1,7zM1717,560l1,-9l3,-8l8,4l6,4l0,10l-9,-1zM1359,673l-1,5l-1,8l-6,-5l-7,-2l3,-7l6,0zM1568,710l8,8l7,8l-6,10l-12,2l-5,-10l0,-9zM1255,763l5,7l-7,3l-6,-2l-3,-5l3,-4l5,-5zM1707,965l-3,-4l-1,-6l6,-5l7,3l2,8l-6,3zM1715,852l-6,3l-5,-3l1,-5l2,-4l6,-2l5,5zM1704,644l-7,0l-3,-6l2,-5l4,-5l7,3l0,7zM1599,803l-8,6l-7,-3l-5,-4l2,-7l6,-5l9,3zM1579,921l-7,8l-8,-3l-10,-3l3,-10l10,-1l8,0zM1728,542l-5,7l-7,-5l0,-6l-1,-9l9,2l6,4zM1280,687l5,2l5,3l-1,6l-6,1l-4,-1l0,-5zM1441,975l5,6l2,10l-10,2l-8,-3l-4,-9l8,-4zM1402,859l-1,13l-13,2l-13,-3l3,-13l5,-10l11,5zM1652,633l-1,-10l3,-9l10,-2l4,8l-1,7l-5,5zM1555,651l6,-10l12,0l7,10l-2,13l-12,2l-12,-3zM1270,635l-5,1l-5,-2l0,-5l3,-6l5,4l6,3zM1626,544l8,8l-6,9l-8,5l-12,-2l-1,-13l9,-8zM1443,957l5,4l-5,4l-4,2l-4,-3l-4,-7l7,-3zM1688,788l-1,7l-8,4l-4,-7l0,-6l3,-6l7,3zM1375,725l3,10l-1,9l-9,3l-10,-3l0,-10l5,-11zM1653,824l-2,5l-2,6l-5,-2l-5,-4l3,-6l5,0zM1547,874l8,-2l8,5l1,9l-8,4l-7,-1l-4,-6zM1541,731l-1,-9l2,-9l9,1l12,2l-5,11l-8,4zM1334,805l5,6l2,9l-9,2l-10,2l1,-10l1,-9zM1753,839l4,6l-1,5l-2,5l-6,-1l-1,-6l0,-5zM1372,734l-5,8l-8,-2l-10,-1l2,-10l8,-2l6,1zM1708,629l8,6l-8,6l-6,1l-6,-3l0,-8l5,-8zM1733,741l3,-7l7,0l5,2l1,7l-5,7l-6,-5zM1604,693l-9,-1l-6,-7l2,-10l10,-3l4,7l6,7zM1286,666l9,0l0,9l-2,7l-9,7l-5,-10l-2,-10zM1639,710l7,-1l5,7l-5,6l-6,2l-6,-4l-1,-7zM1574,679l-6,10l-5,7l-9,-2l-3,-8l1,-11l12,-4zM1586,648l1,-9l9,-5l6,7l7,8l-10,4l-9,4zM1443,694l6,-5l9,-1l6,8l-5,9l-10,4l-7,-6zM1305,656l-11,-2l3,-10l6,-8l10,2l7,9l-9,6zM1649,707l-2,-7l0,-7l7,2l5,1l1,6l-4,4zM1736,737l2,6l1,6l-6,1l-5,-3l-1,-5l3,-5zM1703,591l-1,6l-3,3l-6,1l-3,-6l0,-7l7,1zM1428,957l7,8l-6,9l-9,2l-6,-6l-5,-10l10,-4zM1401,865l1,-12l8,-10l13,5l-1,11l0,12l-12,0zM1569,812l-6,-3l-2,-8l7,-4l8,-1l1,8l1,9zM1660,816l-11,1l-3,-11l2,-11l10,-1l11,3l2,13zM1541,908l5,-9l9,2l7,5l2,11l-11,4l-10,-3zM1384,854l4,-11l10,-8l10,6l1,11l-6,7l-8,-2zM1758,773l-3,6l-6,-1l-4,-2l-4,-7l7,-2l6,0zM1534,520l6,2l6,4l-6,5l-5,4l-4,-6l-1,-5zM1339,645l-8,3l-8,-5l0,-10l7,-8l13,1l5,12zM1515,551l0,-9l2,-5l6,-2l7,2l1,9l-7,6zM1659,901l10,-2l5,6l2,7l-4,8l-9,-1l-6,-8zM1657,544l1,6l-6,3l-5,-1l-5,-5l5,-4l6,-6zM1686,807l-3,-10l10,-4l5,8l4,8l-5,8l-10,-2zM1281,792l1,-10l10,3l4,6l5,11l-12,2l-11,-1zM1521,522l4,1l4,4l-3,4l-6,3l-3,-5l0,-5zM1627,571l3,-10l10,-5l8,8l4,10l-8,9l-13,-1zM1631,743l4,8l-7,7l-7,-6l-5,-5l4,-7l7,-4zM1337,643l2,8l-4,7l-7,-3l-9,-2l5,-8l6,-7zM1560,728l2,6l0,6l-6,7l-6,-7l-5,-7l6,-7zM1468,557l-7,5l-6,0l-4,-5l-3,-9l9,-1l10,0zM1443,986l-3,-5l3,-5l6,-3l4,5l-2,5l-3,4zM1723,523l0,6l-6,3l-8,-1l-2,-8l7,-4l6,-2zM1591,582l-6,-6l4,-7l6,-2l6,3l0,6l-3,6zM1626,726l-5,-10l12,-3l10,-2l1,10l-1,9l-9,2zM1577,569l12,-2l4,10l6,10l-11,2l-8,-1l-7,-7zM1266,662l8,6l0,11l-11,1l-8,-2l-10,-10l11,-8zM1283,720l-11,3l-11,3l-4,-12l7,-8l10,-3l8,6zM1636,779l12,4l7,11l-6,12l-13,3l-4,-11l-5,-10zM1700,706l-3,6l-5,6l-10,-3l1,-10l7,-4l8,-4zM1421,911l-8,3l-6,-2l-4,-6l5,-5l5,0l6,2zM1570,758l-8,7l-11,-3l-2,-9l5,-6l7,-5l7,6zM1564,572l0,8l-7,6l-10,-3l0,-10l5,-5l7,-3zM1715,922l-1,6l0,7l-7,1l-6,-5l2,-7l5,-3zM1540,908l9,7l-5,10l-10,7l-6,-9l-6,-9l8,-7zM1466,702l8,2l3,5l0,6l-5,1l-8,2l-1,-8zM1755,759l-4,6l-6,-4l-1,-4l0,-5l5,-3l6,4zM1310,622l7,-5l11,-2l3,11l-2,12l-13,3l-8,-10zM1493,787l7,1l3,6l0,7l-7,0l-5,-3l0,-5zM1353,695l0,-12l12,0l11,2l4,12l-10,9l-9,-6zM1502,799l-11,-4l-5,-6l2,-7l5,-8l10,4l1,9zM1716,589l-6,8l-7,7l-9,-4l2,-9l3,-8l9,-1zM1583,689l7,-3l11,1l0,11l-7,7l-9,-1l-7,-7zM1333,662l5,-4l6,0l0,6l1,6l-6,-1l-6,0zM1461,949l4,-10l11,-1l9,5l-2,11l-6,7l-10,-4zM1245,726l6,9l-3,8l-8,3l-9,-1l1,-9l3,-8zM1312,708l-7,-10l-2,-12l12,-3l8,4l8,7l-7,11zM1645,669l12,-1l8,5l0,10l-7,4l-9,3l-3,-9zM1491,560l-5,5l-7,2l-7,-4l2,-8l6,-6l10,0zM1686,826l-4,-10l0,-8l6,-5l11,-1l5,11l-9,6zM1499,729l4,6l2,7l-7,3l-5,-3l-4,-5l4,-4zM1413,588l-4,3l-6,3l-2,-6l1,-6l5,-1l6,1zM1330,728l-5,3l-4,5l-4,-4l0,-6l3,-5l5,3zM1574,549l9,3l5,7l-6,6l-6,5l-8,-5l1,-9zM1585,763l5,4l-4,5l-3,3l-4,-2l-5,-5l6,-3zM1736,721l-2,12l-12,-3l-11,-4l1,-13l11,-4l12,0zM1401,782l-11,0l-6,-4l-3,-8l4,-10l10,4l8,6zM1661,661l6,5l5,6l-6,5l-6,1l-8,-3l3,-8zM1712,612l-4,9l-7,5l-11,0l1,-11l4,-7l9,-1zM1249,746l-9,6l-4,-11l2,-7l6,-3l10,-1l0,10zM1331,653l-11,3l-6,-11l4,-13l13,-2l9,8l3,12zM1721,843l-8,-1l-3,-8l3,-10l11,-2l4,10l3,10zM1229,765l6,-8l9,5l3,6l0,9l-9,4l-10,-5zM1746,750l4,7l-1,6l-6,3l-7,-2l-2,-7l4,-7zM1690,626l-4,8l-10,4l-5,-10l-4,-10l11,-4l11,1zM1741,816l7,-3l11,1l3,14l-12,5l-11,2l-6,-12zM1385,783l-4,-9l4,-9l9,2l13,2l-5,11l-9,3zM1614,617l-1,-7l4,-8l8,4l3,5l-1,7l-7,7zM1519,748l-4,-5l1,-7l7,-1l9,1l-1,9l-5,7zM1441,567l7,1l4,4l2,6l-5,6l-9,-1l-3,-8zM1666,747l-8,-1l-3,-6l-3,-8l9,-6l8,7l4,8zM1577,688l-3,8l-8,0l-8,-3l4,-8l5,-2l7,-1zM1724,701l3,11l-10,3l-7,-3l-8,-6l8,-6l8,-7zM1546,853l-8,0l3,-9l4,-5l6,3l8,5l-7,5zM1493,605l-2,-10l-1,-11l10,0l6,6l3,7l-6,5zM1580,933l-3,8l-11,0l-2,-10l6,-6l5,-2l8,3zM1368,745l-5,-4l1,-7l7,-1l4,3l4,5l-5,4zM1345,833l-5,0l-5,-3l-1,-8l8,-2l4,4l1,4zM1708,578l-6,8l-9,-2l-9,-3l1,-11l9,-7l10,5zM1636,635l-4,-10l-4,-11l11,-1l8,3l5,8l-4,11zM1266,745l5,-3l9,2l-2,8l-4,5l-7,1l-2,-6zM1520,965l-4,2l-4,-2l-3,-4l3,-6l7,0l1,6zM1339,628l-5,3l-6,-2l-1,-4l0,-6l6,0l5,3zM1473,746l1,-7l6,-1l4,3l3,4l-3,5l-7,3zM1570,514l8,7l-6,10l-11,-3l-9,-4l0,-12l11,-4zM1526,969l-5,8l-10,1l-5,-8l1,-8l7,-5l9,3zM1544,769l-11,1l-5,-8l-3,-8l8,-5l8,1l2,8zM1730,528l9,-3l6,6l-1,7l-5,4l-7,1l-3,-7zM1502,929l1,-6l1,-6l5,1l7,2l-3,7l-4,4zM1703,597l-4,6l-5,6l-6,-4l-3,-7l6,-4l6,-3zM1679,580l-6,-2l-4,-7l7,-5l9,-6l7,9l-4,11zM1537,961l8,5l-5,10l-10,-1l-4,-6l-4,-7l8,-4zM1333,800l7,4l7,6l-7,6l-8,4l-8,-6l3,-9zM1511,811l10,-1l4,8l3,10l-10,5l-6,-7l-5,-7zM1335,752l-11,4l-5,-9l-4,-8l8,-4l7,1l3,6zM1292,760l-4,-7l0,-6l5,-3l6,-1l4,6l-4,6zM1282,754l-6,8l-9,-1l-2,-8l0,-7l7,-4l8,3zM1701,759l5,-3l4,0l5,3l-1,6l-6,1l-5,-1zM1250,673l9,-7l9,5l9,9l-9,9l-11,5l-5,-11zM1430,535l2,12l3,9l-10,2l-11,1l-6,-12l8,-11zM1539,691l2,-10l9,-6l9,6l2,10l-6,8l-10,-1zM1498,803l-5,3l-4,-5l0,-7l6,-3l6,2l2,6zM1713,614l8,-10l11,2l9,4l-2,10l-8,6l-8,-4zM1454,569l-8,8l-11,-2l0,-11l2,-8l8,-3l7,6zM1560,941l-3,-5l3,-4l4,-4l4,5l3,5l-5,6zM1599,605l-2,10l-10,3l-11,-3l4,-10l4,-7l9,0zM1598,774l-2,-7l6,-3l6,0l2,5l-2,5l-5,1zM1616,715l6,3l2,6l-1,6l-7,2l-6,-4l2,-7zM1751,553l-7,3l-5,-7l1,-9l8,0l9,0l2,9zM1664,532l4,6l-4,4l-4,2l-5,-1l0,-6l3,-3zM1327,653l2,10l-9,1l-9,4l-1,-10l1,-8l9,-4zM1694,540l2,12l-3,9l-11,5l-9,-8l1,-11l8,-7zM1705,784l1,4l-3,3l-4,0l-3,-3l-1,-7l7,-2zM1560,606l-5,-5l-3,-7l4,-8l9,2l7,7l-4,8zM1671,636l-7,-2l-4,-7l2,-10l11,-2l7,8l-3,9zM1648,857l2,-7l6,-4l4,5l1,4l-2,3l-5,2zM1594,710l-9,0l-5,-8l6,-5l6,-8l6,7l1,7zM1489,705l-7,3l-6,4l-6,-7l2,-8l7,-4l6,5zM1681,533l-10,4l-6,-6l-5,-6l4,-8l10,-2l2,9zM1567,942l-9,2l-5,-6l1,-7l3,-8l7,5l2,6zM1584,818l10,3l5,9l-4,8l-9,6l-9,-7l-2,-11zM1390,916l-9,9l-11,-5l-7,-10l7,-10l10,-1l7,6zM1534,666l4,-4l8,-1l1,7l-3,5l-6,5l-4,-6zM1318,614l4,-12l9,-8l8,8l3,7l-1,12l-13,1zM1616,634l9,0l10,2l-4,10l-5,7l-8,-3l-8,-7zM1275,764l8,5l7,6l-5,7l-7,2l-6,-5l-3,-7zM1704,851l6,-4l9,3l-2,8l-4,7l-8,-2l-4,-6zM1567,626l5,4l-1,5l-2,6l-6,-2l-5,-4l3,-6zM1404,552l-1,9l-7,3l-5,-4l-2,-5l3,-4l5,0zM1399,506l2,9l-3,9l-10,3l-4,-9l-6,-11l11,-7zM1655,570l9,-1l5,7l2,11l-11,7l-9,-8l-4,-9zM1671,672l3,-7l9,3l2,8l-3,8l-8,-2l-9,-3zM1692,709l1,5l-2,10l-9,-2l-6,-8l5,-7l6,-1zM1283,711l2,4l-4,4l-6,0l-2,-5l2,-5l5,0zM1527,937l7,0l3,7l-3,4l-5,3l-5,-4l1,-5zM1697,547l5,-2l7,1l-3,6l-1,6l-5,-2l-5,-3zM1731,932l1,5l-2,6l-6,-4l-2,-4l-1,-7l6,0zM1547,631l4,-2l7,2l-2,7l-5,3l-4,-2l-4,-4zM1695,954l8,0l4,9l-4,10l-10,-3l-10,-4l4,-10zM1692,553l-8,-5l3,-9l7,-7l7,6l6,8l-5,9zM1734,808l4,-1l5,1l-2,6l-3,4l-5,-3l-1,-3zM1748,734l-1,6l-3,7l-7,-3l-5,-5l1,-9l9,-2zM1354,791l4,-5l3,-3l6,0l2,7l-5,2l-4,1zM1685,952l0,-8l6,-6l5,6l4,4l-3,5l-6,3zM1441,956l6,0l5,3l0,5l-4,3l-5,-1l-4,-4zM1652,848l-10,5l-11,-8l0,-13l12,-4l8,4l8,7zM1525,818l9,-2l9,4l1,10l-8,7l-11,-1l-4,-9zM1645,825l5,-3l7,1l3,8l-6,5l-7,4l-3,-8zM1520,908l-8,0l-6,-6l3,-8l8,-3l9,2l4,11zM1546,883l6,-2l4,1l4,4l-1,7l-7,2l-7,-4zM1484,794l1,-7l3,-6l9,-4l5,9l-5,7l-5,8zM1667,758l4,7l0,4l-2,7l-8,0l-2,-7l0,-8zM1264,761l12,4l-2,12l-7,7l-13,2l1,-12l-2,-11zM1598,756l8,-1l4,6l1,8l-8,0l-7,1l-1,-8zM1527,968l8,5l5,6l-1,11l-11,-3l-11,-1l0,-12zM1667,526l9,1l7,7l-3,10l-9,0l-6,-3l-6,-8zM1375,842l6,10l1,9l-6,9l-12,-2l-3,-11l6,-6zM1429,916l5,-4l5,1l1,5l-1,5l-5,2l-5,-3zM1346,841l9,6l0,8l-3,8l-9,1l-6,-7l4,-7zM1644,531l2,8l-6,4l-7,5l-4,-7l-1,-8l8,-1zM1558,799l7,-7l10,2l3,11l-5,8l-10,1l-5,-8zM1662,802l-4,-5l1,-6l4,-5l5,5l5,5l-4,5zM1646,913l-7,3l-4,-7l4,-5l4,-6l6,5l1,6zM1699,746l6,-2l7,0l5,6l-5,6l-8,4l-6,-6zM1658,621l-7,3l-8,1l-4,-8l5,-6l7,-2l9,2zM1325,659l5,7l3,10l-10,7l-8,-8l-3,-7l5,-6zM1592,766l2,7l-7,4l-7,-1l-2,-6l3,-6l6,0zM1703,555l-6,-10l2,-11l12,-5l6,9l5,9l-8,6zM1637,538l8,11l0,14l-13,5l-14,-3l2,-13l3,-13zM1713,963l5,3l1,6l-3,5l-6,1l-4,-6l3,-5zM1650,752l-11,-2l-8,-6l4,-8l5,-8l8,6l8,7zM1732,583l8,-8l13,0l0,12l0,11l-11,0l-12,-3zM1687,959l-7,-6l1,-9l8,-9l10,7l5,10l-6,11zM1656,711l8,1l10,4l-1,13l-12,4l-10,-5l0,-10zM1471,686l-6,0l-7,-5l6,-6l5,-3l6,3l2,7zM1517,911l1,9l-8,0l-9,-1l1,-8l5,-5l9,-5zM1694,745l-10,-1l-7,-9l8,-8l9,-7l10,7l-5,11zM1675,701l-5,7l-9,-1l-5,-7l6,-5l4,-4l5,3zM1612,769l-6,5l-7,1l-6,-5l0,-9l8,-3l9,2zM1279,848l-8,-4l1,-8l3,-5l7,-4l2,9l3,8zM1499,548l8,-2l7,7l-5,8l-7,5l-8,-4l-5,-10zM1500,706l-6,-4l-1,-5l4,-4l5,0l3,4l1,6zM1603,745l-5,4l-6,2l-3,-6l1,-6l5,-3l8,1zM1353,702l6,2l5,4l-3,6l-5,1l-5,-2l-4,-6zM1284,805l-4,-6l8,-3l8,-3l3,9l-5,5l-6,5zM1612,590l0,-6l4,-6l6,3l4,5l-2,7l-8,2zM1685,768l7,0l-1,8l-2,5l-6,2l-7,-4l1,-9zM1490,752l-12,3l-6,-9l-5,-9l8,-9l11,4l5,8zM1559,696l5,-3l6,1l2,4l-1,5l-5,2l-6,-2zM1536,868l-1,11l-2,11l-10,-3l-10,-5l4,-10l8,-6zM1632,819l-9,4l-7,-9l6,-9l7,-3l11,2l1,11zM1732,767l5,-1l3,3l5,5l-5,6l-7,-3l-4,-4zM1565,832l6,2l5,6l-5,8l-9,2l-6,-8l5,-6zM1503,586l-3,-11l7,-6l9,-1l2,7l1,6l-6,6zM1497,590l6,1l-2,6l-1,4l-5,0l-2,-4l0,-4zM1647,621l5,2l-2,5l-3,4l-6,0l0,-6l3,-3zM1597,851l13,-3l0,13l-4,10l-9,-3l-9,-3l-3,-12zM1685,740l8,-4l7,3l5,7l-7,4l-5,1l-5,-3zM1633,565l-3,-9l10,-5l10,5l-4,10l-3,8l-8,-2zM1611,675l-1,9l-8,-4l-4,-4l-2,-8l8,0l9,-3zM1511,837l5,-5l7,3l2,4l-1,5l-5,5l-5,-5zM1473,663l2,12l3,11l-12,6l-8,-9l-3,-9l5,-11zM1595,687l-3,4l-7,-1l-2,-7l5,-6l6,2l4,3zM1510,733l4,12l1,11l-12,7l-10,-8l0,-11l4,-10zM1382,850l11,-5l10,-3l8,9l-7,8l-8,2l-8,-1zM1761,707l1,10l-7,6l-9,0l-6,-7l1,-11l11,1zM1691,630l-6,-1l-7,-4l5,-8l8,-4l7,6l-3,8zM1329,650l10,-5l8,6l6,8l-7,8l-9,-1l-5,-7zM1688,594l2,-7l7,-4l6,5l2,7l-4,7l-9,-1zM1588,832l-7,-5l1,-7l5,-4l8,-1l1,7l-2,5zM1468,540l2,-5l6,0l2,5l0,5l-5,4l-6,-2zM1722,907l10,-2l3,9l0,7l-7,5l-7,-4l-3,-7zM1511,740l3,-2l4,2l-1,4l-1,5l-6,0l-1,-5zM1666,530l6,6l0,7l-6,2l-6,0l-4,-5l2,-8zM1561,608l13,-3l11,7l0,13l-9,8l-10,-4l-11,-8zM1530,833l5,3l4,6l-5,6l-8,6l-6,-10l2,-8zM1300,591l6,10l-7,7l-7,9l-8,-9l-1,-9l5,-11zM1359,830l9,0l4,10l-9,4l-7,3l-10,-5l2,-12zM1624,535l-3,10l-10,0l-7,-6l0,-9l8,-3l7,1zM1575,646l-4,-4l-2,-6l6,-7l7,5l4,6l-3,9zM1691,760l-2,-10l10,-6l12,5l1,12l-6,11l-14,1zM1295,688l3,8l-6,10l-11,-1l-3,-10l2,-8l8,-5zM1615,806l-4,-7l7,-4l8,-4l2,9l1,8l-8,4zM1728,506l3,10l3,8l-8,6l-10,-2l-4,-10l6,-8zM1397,546l-4,6l-7,-2l-5,-3l3,-6l4,-2l7,0zM1598,523l-11,3l-3,-11l6,-6l7,-2l6,3l2,8zM1432,962l5,-7l8,2l4,6l-1,7l-7,4l-5,-6zM1678,633l5,1l5,6l-5,5l-5,1l-3,-4l-2,-5zM1267,612l-8,-1l-3,-11l8,-7l10,1l5,8l-6,7zM1599,575l-11,-2l0,-10l4,-9l11,0l2,9l3,9zM1506,903l2,-7l7,0l5,4l1,7l-6,1l-6,1zM1586,583l-1,6l-3,5l-7,2l-1,-7l0,-6l6,-4zM1309,845l-4,5l-5,-1l-7,-2l3,-7l5,-2l6,1zM1353,764l-2,-6l5,-4l5,1l5,3l-2,6l-6,4zM1259,761l7,3l3,5l-2,5l-5,1l-8,1l-1,-9zM1284,819l12,-5l11,3l3,10l-5,8l-9,1l-8,-5zM1631,662l3,11l-11,7l-11,-7l0,-9l3,-10l12,-4zM1739,829l6,-9l8,6l4,7l-3,6l-7,5l-7,-6zM1697,634l-6,7l-8,-3l-4,-4l2,-6l5,-4l5,4zM1273,659l-7,8l-11,1l-3,-11l0,-9l9,-6l7,8zM1243,613l-8,5l-3,-9l0,-7l6,-7l8,5l1,8zM1732,547l3,-8l9,-7l9,7l0,11l-6,8l-9,-6zM1332,826l0,8l-5,4l-6,1l-6,-4l3,-8l6,-5zM1261,903l-4,-3l1,-6l5,-2l6,-1l1,7l-3,5zM1412,550l-6,-6l-3,-13l13,2l7,3l2,8l-5,6zM1610,716l-11,4l-14,0l1,-13l7,-6l8,-2l8,5zM1486,514l7,4l-2,7l-5,2l-4,-1l-3,-4l1,-5zM1273,684l-8,5l-6,-8l1,-8l6,-6l8,4l11,7zM1613,831l-6,2l-6,-4l-1,-6l5,-6l6,3l6,4zM1570,655l5,8l-1,11l-9,3l-7,-6l-1,-7l1,-10zM1339,816l6,-1l6,4l-4,6l-4,6l-7,-3l-2,-8zM1592,676l-4,-6l3,-5l4,-5l6,4l3,6l-5,5zM1670,623l11,1l2,11l-6,6l-8,5l-3,-9l-5,-9zM1253,812l-12,4l-7,-12l5,-11l12,-6l5,10l3,8zM1719,915l2,-14l13,-5l6,11l8,9l-11,4l-12,7zM1650,618l3,6l-5,3l-4,1l-5,-1l0,-6l5,-3zM1661,712l-4,4l-4,-2l-3,-4l2,-5l5,-3l6,4zM1751,577l-4,7l-6,3l-5,-5l-3,-6l6,-3l5,0zM1287,737l-3,7l-8,5l-6,-5l-1,-8l5,-4l6,2zM1368,761l-9,-10l2,-10l6,-7l10,2l6,8l-1,13zM1358,755l4,-7l7,4l2,6l-4,5l-6,2l-7,-3zM1638,911l6,-1l1,6l-4,4l-5,1l-3,-4l-1,-6zM1558,680l-6,-1l1,-6l4,-5l4,4l4,3l-2,6zM1718,727l3,5l-2,6l-6,3l-6,-5l1,-6l4,-5zM1576,841l6,-3l3,6l-3,5l-4,3l-5,-3l-3,-6zM1253,637l-4,-4l-1,-8l8,-2l6,4l-1,7l-2,7zM1538,862l-1,5l-2,7l-6,-3l-3,-5l2,-5l5,-1zM1664,836l-9,-3l-5,-7l2,-8l7,-4l9,3l0,10zM1545,969l2,-10l10,-1l6,6l5,9l-8,10l-10,-7zM1707,916l-7,3l-7,-4l-1,-8l6,-2l6,-1l5,5zM1582,794l8,6l7,7l-7,6l-8,2l-6,-5l0,-8zM1604,616l-5,-8l5,-7l5,-7l11,3l-1,11l-7,4zM1665,625l-9,-8l5,-9l4,-12l9,7l6,8l-6,7zM1340,769l-6,-12l10,-8l11,4l4,8l-3,8l-8,6zM1545,966l-5,-9l7,-9l9,0l12,3l-3,12l-9,8zM1695,968l3,-6l5,-4l5,3l6,6l-6,7l-8,-1zM1588,655l-7,-10l2,-10l7,-5l9,2l1,8l-3,7zM1695,941l4,-3l5,0l3,4l-3,4l-5,5l-4,-5zM1387,523l8,1l7,7l-5,10l-10,2l-12,-4l3,-13zM1720,577l-6,2l-7,-1l0,-7l3,-4l5,-1l4,4zM1266,727l0,-7l0,-7l7,1l7,3l-2,7l-5,4zM1611,521l-8,11l-9,-10l-10,-6l5,-13l13,1l10,5zM1457,946l-5,5l-7,-3l-2,-7l4,-6l7,1l4,4zM1561,615l-11,-3l5,-10l7,-5l10,-1l4,10l-3,11zM1326,772l-9,-8l3,-12l8,-7l8,7l9,7l-10,6zM1682,772l-8,7l-9,-3l-6,-9l3,-11l12,-2l7,9zM1680,523l13,-1l4,12l-2,8l-6,8l-10,-5l-3,-10zM1614,608l3,11l-11,3l-8,-5l-4,-8l4,-10l12,0zM1306,676l-1,8l-2,10l-10,-2l-8,-7l3,-11l10,-1zM1406,729l-2,8l-7,2l-5,-4l-4,-6l5,-6l8,0zM1367,814l-4,-8l4,-9l9,3l4,4l0,6l-4,9zM1674,642l-5,1l-7,-1l-2,-9l7,-6l9,2l2,8zM1679,859l5,-7l9,4l10,7l-6,11l-11,-1l-7,-5zM1579,813l0,-12l7,-7l12,-1l0,11l3,10l-11,4zM1720,846l-7,-2l-3,-8l5,-5l7,0l7,4l-1,9zM1665,695l7,-7l8,1l5,5l3,9l-10,3l-5,-5zM1648,604l0,8l-9,6l-8,-6l0,-10l6,-7l9,2zM1269,741l-6,-4l3,-7l7,-2l5,4l-1,6l-2,5zM1731,759l-6,-7l4,-9l9,-4l5,7l3,8l-8,3zM1667,553l-6,-1l-1,-7l5,-5l7,-1l4,7l-4,5zM1668,538l-7,5l-6,-6l-2,-10l8,-5l9,3l2,8zM1556,966l-7,2l-9,3l-1,-9l3,-7l8,-2l6,5zM1357,744l-12,5l-7,-8l-7,-8l7,-6l10,-3l11,6zM1638,595l1,-9l3,-7l9,-3l3,10l2,10l-10,3zM1368,888l6,-3l4,-1l5,2l-1,7l-5,2l-5,-2zM1544,887l5,11l0,10l-9,7l-13,-2l-4,-14l7,-12zM1622,568l2,-7l5,-5l8,2l2,8l-6,4l-5,4zM1473,956l6,7l-6,7l-7,0l-7,-2l-1,-8l7,-6zM1567,580l-10,-5l3,-11l9,-10l11,8l3,10l-5,12zM1252,638l-5,8l-8,5l-11,-4l0,-13l10,-3l8,1zM1666,734l3,5l-1,5l-6,0l-6,-1l-1,-7l6,-3zM1294,734l-4,-14l13,-5l13,0l4,13l-6,10l-12,4zM1523,708l6,-3l6,-2l1,7l0,5l-5,3l-5,-4zM1721,632l-6,6l-7,-4l-1,-6l2,-5l6,-2l4,4zM1690,804l5,-5l11,-3l-1,11l1,12l-11,-1l-11,-4zM1698,590l-11,-2l-7,-10l8,-8l9,-1l8,3l1,10zM1521,870l-4,8l-7,1l-7,-4l0,-8l6,-4l8,0zM1346,758l2,5l-5,2l-6,3l-2,-7l2,-5l5,-2zM1616,653l1,-10l8,-4l9,2l4,9l-5,9l-9,-3zM1585,669l-4,-9l9,-4l9,-2l6,8l-7,7l-6,7zM1412,911l5,-12l11,-2l12,3l-1,13l-9,5l-11,3zM1326,647l0,7l-6,8l-8,-5l-6,-9l6,-8l11,-2zM1578,590l-6,4l-8,1l-7,-9l6,-11l11,0l4,9zM1393,587l6,-10l4,-10l11,2l0,11l-3,6l-6,2zM1294,792l-9,2l-5,-8l3,-7l6,-4l6,4l7,7zM1752,750l-1,6l-3,5l-5,0l-8,-4l2,-9l9,-3zM1340,796l7,-2l7,5l-5,6l-4,7l-7,-3l-5,-8zM1438,957l1,-8l8,-4l4,8l3,7l-6,4l-8,-1zM1431,930l2,12l0,9l-8,5l-8,-6l-1,-8l2,-11zM1432,683l3,-6l5,-2l8,2l0,9l-4,9l-10,-4zM1620,774l5,1l0,5l-3,3l-4,1l-4,-4l-1,-7zM1320,785l3,9l-9,8l-12,-4l0,-12l6,-6l9,-3zM1341,611l3,7l-4,6l-7,4l-5,-6l-1,-8l6,-3zM1574,735l11,-5l12,-1l-1,12l-3,7l-8,3l-5,-6zM1632,783l3,6l-1,7l-8,7l-11,-4l-2,-13l10,-7zM1649,715l5,-2l5,3l1,5l-3,6l-6,-3l-2,-4zM1627,836l3,-7l8,1l2,7l-3,6l-6,2l-6,-3zM1686,589l-6,-5l-3,-7l7,-3l5,0l9,4l-7,6zM1676,964l-3,-3l-3,-6l7,-3l5,3l2,5l-2,6zM1283,627l3,9l-1,7l-7,3l-6,-3l-7,-7l8,-7zM1304,786l6,3l4,5l-2,8l-8,0l-5,-5l-2,-7zM1300,666l12,-3l7,0l9,6l-5,10l-10,0l-7,-3zM1283,825l9,-1l6,3l6,6l-8,4l-6,3l-4,-6zM1275,724l-6,-5l-3,-9l9,-3l8,0l3,8l-3,7zM1703,938l3,-12l9,-5l10,1l2,10l0,13l-13,-2zM1464,687l-3,11l-11,-3l-5,-7l-1,-9l9,-6l11,3zM1577,587l8,5l-1,8l-3,9l-9,-4l-4,-6l3,-6zM1624,542l5,8l-9,3l-7,0l-5,-6l3,-8l8,0zM1444,963l-2,11l-11,-2l-7,-4l-5,-12l12,-2l8,2zM1272,676l-7,2l-1,-7l-2,-6l6,-3l5,5l3,5zM1546,975l8,2l4,8l-1,9l-9,-2l-10,-1l0,-11zM1719,716l-10,5l-8,-5l-1,-9l5,-6l7,1l3,6zM1723,812l-11,-6l6,-11l9,-2l8,2l2,8l-4,9zM1639,534l3,3l1,7l-6,1l-5,-3l-2,-6l5,-3zM1631,652l-7,-6l-1,-9l8,-6l9,3l5,8l-7,7zM1600,557l-7,-8l-4,-11l11,-5l11,-1l5,11l-6,9zM1682,759l-2,7l-6,2l-8,2l1,-9l3,-5l7,-3zM1494,733l9,1l4,8l-5,6l-5,3l-8,-1l-2,-10zM1625,530l11,3l8,7l-6,8l-7,5l-11,-1l1,-11zM1564,746l6,-3l6,1l4,4l0,7l-7,3l-6,-5zM1729,752l5,7l3,5l-4,4l-6,4l-5,-6l0,-8zM1647,844l2,-11l11,2l7,5l1,10l-8,7l-11,-3zM1587,938l-2,9l-2,5l-6,0l-4,-4l0,-6l5,-5zM1539,624l3,-10l8,-3l6,5l0,6l-1,9l-8,-2zM1676,514l2,-6l6,3l5,1l-2,5l-4,3l-4,-1zM1284,776l-8,-10l12,-7l9,6l4,7l-2,11l-10,-1zM1680,785l-8,-5l-4,-5l2,-6l6,-6l8,4l3,10zM1251,818l-5,-9l6,-8l9,2l6,5l-1,8l-7,5zM1249,796l4,12l-8,7l-8,5l-8,-6l-4,-11l11,-4zM1386,845l3,7l-5,6l-8,0l-7,-5l2,-9l8,-5zM1306,716l7,-12l14,-1l4,13l0,9l-9,6l-11,-3zM1336,634l3,6l-5,6l-8,0l-3,-7l4,-5l5,-5zM1297,766l5,-6l5,-2l7,3l-2,6l-3,8l-7,-4zM1596,632l-9,2l-7,-3l0,-8l4,-4l6,1l6,3zM1544,879l10,-1l9,0l5,10l-6,10l-10,-4l-10,-4zM1597,838l3,10l-5,8l-10,6l-6,-10l2,-9l5,-9zM1551,782l-8,-9l4,-11l11,-1l10,2l2,12l-8,9zM1654,747l2,-7l6,1l4,4l2,6l-6,3l-7,0zM1522,713l6,8l-7,6l-6,0l-8,0l2,-8l5,-5zM1720,513l6,-6l8,1l3,7l-3,6l-5,0l-4,-2zM1728,741l-2,-11l3,-12l12,5l7,6l-2,9l-8,4zM1517,773l-9,-2l0,-9l7,-6l9,0l0,9l1,8zM1615,599l-3,-10l6,-7l7,-4l8,4l0,10l-7,5zM1256,711l-9,6l-8,-7l-3,-8l5,-9l11,-1l5,9zM1669,917l10,-2l6,9l-8,7l-8,2l-4,-5l-2,-7zM1504,967l1,-8l2,-11l10,5l10,6l-8,8l-8,6zM1710,780l7,2l4,9l-7,7l-9,-2l-6,-6l4,-7zM1435,675l7,-1l5,4l-1,6l-5,2l-5,0l-4,-5zM1576,625l-5,-9l-1,-10l10,-6l8,6l7,9l-7,10zM1461,522l-2,5l-5,-1l-4,-1l-2,-6l6,-4l6,1zM1408,576l8,9l2,10l-8,5l-8,2l-10,-8l7,-10zM1655,799l-1,-7l5,-3l5,-4l5,6l-3,6l-4,4zM1551,895l8,6l-7,6l-7,3l-4,-6l-4,-8l8,-5zM1638,847l-8,-5l-9,-9l8,-11l13,2l9,7l-1,13zM1664,683l-3,-6l-1,-6l5,-4l8,1l2,7l-4,6zM1702,725l3,7l-6,4l-5,4l-8,-3l2,-9l6,-5zM1627,792l-5,1l-5,-1l-4,-5l4,-6l6,2l3,3zM1379,861l2,12l-12,4l-9,-8l-2,-10l9,-5l8,0zM1647,912l9,-5l8,3l3,8l-6,5l-7,4l-4,-7zM1739,748l-5,-5l2,-8l8,-4l8,6l-4,7l-2,7zM1602,727l-3,7l-6,9l-8,-7l-2,-9l5,-8l11,-3zM1352,830l-4,11l-9,4l-11,-1l-5,-11l10,-6l9,-6zM1620,596l9,1l5,9l-5,11l-10,-3l-11,-3l6,-10zM1604,641l-6,-1l0,-6l4,-3l6,-3l4,6l-3,6zM1676,807l5,5l0,7l-5,6l-9,0l-1,-9l0,-10zM1589,744l10,-5l5,11l-3,9l-8,8l-12,-5l-4,-13zM1622,719l5,4l5,6l-5,6l-8,1l-4,-7l3,-5zM1277,788l-7,5l-7,-5l-6,-11l11,-4l11,-2l1,11zM1301,686l-7,-2l3,-7l5,-5l7,4l3,7l-5,6zM1558,744l6,7l-5,9l-12,3l-7,-9l-1,-11l11,-8zM1656,548l8,1l1,7l-4,7l-7,-1l-4,-5l-1,-7zM1429,947l12,2l-2,12l-3,12l-10,-7l-10,-4l3,-12zM1285,633l-8,7l-9,-7l2,-10l7,-7l9,3l3,8zM1625,737l3,10l-7,7l-8,-3l-5,-5l-1,-9l10,0zM1329,630l-2,-12l3,-8l7,-1l9,2l0,9l-4,11zM1536,738l-4,7l-7,1l-9,-1l2,-10l6,-6l9,0zM1709,588l-9,5l-6,2l-9,-4l1,-10l9,-8l9,6zM1513,682l-3,11l-11,1l-12,-1l-1,-12l9,-6l9,0zM1465,805l-1,-12l12,0l8,0l3,9l-5,6l-8,2zM1250,733l-6,7l-8,3l-6,-7l1,-9l7,-3l5,4zM1580,721l7,4l6,4l-1,9l-9,-1l-9,-1l4,-8zM1652,750l0,9l-9,0l-7,-1l-5,-7l8,-5l8,-3zM1334,631l6,5l-4,7l-6,4l-8,-3l0,-9l5,-6zM1305,636l8,-7l8,8l3,10l-10,3l-7,2l-9,-7zM1694,770l-7,-4l5,-7l5,-3l5,4l4,6l-5,6zM1311,699l6,5l0,6l-4,3l-4,0l-5,-3l1,-7zM1456,964l-4,5l-5,-1l-7,-2l2,-7l6,-2l7,0zM1574,551l8,-2l6,3l4,8l-5,9l-11,-1l-10,-8zM1601,654l-7,7l-8,-3l-8,-6l7,-8l8,-8l12,7zM1269,658l-9,4l-7,5l-10,-6l5,-10l7,-5l9,2zM1319,764l1,-12l10,-5l11,4l0,11l-4,10l-11,0zM1294,771l-5,-4l-2,-10l10,-3l6,6l0,7l-2,7zM1726,741l4,-11l12,-3l6,10l1,10l-10,3l-8,-2zM1259,830l1,8l-7,-1l-6,-2l-1,-6l5,-5l5,2zM1657,672l-9,0l-7,-5l3,-7l6,-4l8,-1l0,9zM1452,513l5,-3l8,2l1,9l-8,4l-7,-1l-3,-6zM1557,559l7,3l1,10l-9,6l-8,-5l-1,-8l3,-6zM1336,673l-2,-11l-1,-6l6,-8l7,6l6,7l-7,6zM1262,672l-8,4l-11,2l-1,-11l4,-9l9,1l12,2zM1530,974l4,-5l5,0l6,1l1,7l-7,2l-5,1zM1665,952l-2,-5l4,-3l4,0l7,3l-1,8l-8,1zM1464,575l-2,-9l5,-5l7,-5l8,7l-2,9l-7,4zM1580,853l-5,5l-7,-3l0,-7l2,-6l7,-1l6,6zM1429,564l3,5l-3,5l-6,1l-3,-4l0,-5l4,-3zM1249,898l-5,-6l6,-3l5,-1l5,3l-3,6l-3,6zM1448,537l-5,7l-7,1l-3,-5l-4,-7l7,-3l7,0zM1658,716l-6,2l-10,2l-2,-10l4,-9l10,1l8,5zM1718,813l1,-8l8,-1l7,1l2,9l-7,3l-5,-1zM1310,715l-9,8l-9,-8l1,-13l10,-3l12,-3l2,12zM1624,722l9,5l13,5l-10,9l-8,11l-9,-10l-1,-10zM1396,790l-4,7l-9,1l-6,-7l5,-7l5,-3l8,0zM1310,700l-5,1l-5,1l1,-6l1,-5l5,0l3,4zM1642,532l6,-1l6,5l-5,5l-4,6l-6,-4l-2,-7zM1548,741l6,-3l7,-1l1,8l-2,6l-7,-1l-7,-2zM1731,962l2,10l-7,9l-11,-5l-3,-9l1,-12l12,-3zM1728,828l5,3l1,5l-1,6l-6,-1l-8,-3l2,-8zM1741,824l1,-8l0,-9l9,-1l4,8l2,8l-7,5zM1422,556l-9,0l-5,-6l-5,-10l10,-6l8,8l9,6zM1532,519l6,-6l6,-5l8,4l0,9l-6,6l-9,-1zM1500,525l7,-6l7,5l8,6l-7,6l-8,6l-6,-8zM1724,934l-7,-1l-6,-5l5,-6l4,-2l5,2l4,6zM1618,581l-7,-6l6,-7l9,-5l3,10l0,6l-5,7zM1469,555l9,1l-1,8l-2,7l-8,4l-3,-9l-1,-7zM1295,791l-6,2l-5,-4l2,-5l4,-3l4,0l2,5zM1410,921l-4,7l-7,4l-5,-7l-2,-8l8,-2l6,1zM1421,562l-9,2l-3,-10l5,-7l9,-5l8,7l-1,11zM1557,577l-7,1l-9,-3l2,-9l7,-9l10,5l0,9zM1566,954l-2,4l-5,-1l-3,-3l1,-5l4,-2l6,1zM1536,688l4,-12l13,-5l11,9l-5,11l-3,12l-13,-4zM1457,933l8,10l-3,12l-12,3l-7,-6l-7,-10l10,-7zM1724,603l11,-6l7,11l-4,11l-11,8l-9,-9l-1,-10zM1652,835l12,3l7,4l2,10l-8,8l-9,-6l-8,-7zM1434,661l3,5l2,5l-6,4l-6,-2l-3,-6l4,-6zM1267,774l7,3l-2,7l-4,5l-6,-1l-2,-6l0,-7zM1659,847l-6,11l-12,-3l-3,-11l1,-11l10,3l8,2zM1595,753l-7,-8l3,-11l11,-2l10,4l-2,11l-6,5zM1569,914l10,3l2,10l-7,7l-9,-2l-3,-7l-1,-8zM1521,673l5,4l-1,8l-8,2l-4,-6l-1,-5l4,-4zM1494,739l-5,-9l9,-7l11,1l2,10l-2,10l-10,6zM1501,776l-2,6l-7,4l-4,-7l-3,-7l7,-5l7,2zM1668,740l0,10l-7,5l-10,2l0,-10l2,-5l6,-8zM1646,820l10,1l8,3l4,10l-10,5l-11,2l-3,-11zM1267,675l-9,8l-9,-8l-5,-12l11,-9l12,3l6,10zM1555,808l-8,-4l-4,-6l0,-11l11,-5l5,11l0,7zM1461,942l1,5l-1,7l-7,-2l-3,-5l0,-6l6,-3zM1386,755l9,6l4,11l-10,6l-9,1l-6,-8l1,-11zM1617,618l-3,-5l1,-7l7,-5l5,6l3,7l-6,4zM1554,805l-1,-5l-2,-7l7,-1l6,3l0,6l-3,6zM1385,864l-8,0l1,-7l1,-7l8,0l5,5l-1,7zM1619,789l-7,7l-7,-5l-8,-5l6,-8l9,-5l6,8zM1602,826l4,5l-1,10l-11,3l-8,-7l5,-9l4,-7zM1608,712l-5,-1l-2,-5l3,-5l5,0l5,3l-1,6zM1661,531l7,-5l6,-1l7,4l-3,7l-5,4l-8,0zM1595,712l8,-5l8,-4l6,7l-2,9l-7,5l-7,-5zM1500,799l8,-6l9,-4l4,9l2,9l-9,5l-9,-5zM1667,617l-7,-2l-2,-8l7,-5l8,-2l5,8l-3,8zM1608,751l11,-5l8,0l9,5l-6,9l-7,5l-6,-6zM1565,874l5,13l-10,10l-11,-2l-12,-6l5,-12l10,-7zM1540,776l6,0l5,4l-1,7l-6,2l-5,-3l0,-5zM1731,739l7,4l-2,9l-8,1l-6,-3l-2,-7l6,-3zM1698,791l8,-7l11,-1l3,9l0,10l-9,0l-11,0zM1626,530l4,9l-2,9l-9,5l-9,-6l-2,-11l8,-6zM1256,706l4,8l-8,5l-8,-3l1,-7l0,-6l7,0zM1543,922l1,-5l5,-3l5,2l2,5l-3,7l-6,-2zM1299,800l10,6l-9,7l-8,8l-7,-10l0,-8l5,-9zM1458,553l7,-4l3,6l3,7l-7,2l-7,1l0,-7zM1739,830l-7,-2l-8,-1l3,-8l5,-6l6,5l5,5z"/></clipPath><filter id="n3" x="0" y="0" width="100%" height="100%" color-interpolation-filters="sRGB"><feTurbulence type="fractalNoise" baseFrequency="0.1" numOctaves="4" seed="17"/><feColorMatrix type="matrix" values="1 0 0 0 0 1 0 0 0 0 1 0 0 0 0 0 0 0 0 1"/><feComponentTransfer><feFuncR type="gamma" amplitude="0.3" exponent="2" offset="0.116"/><feFuncG type="gamma" amplitude="0.3" exponent="2" offset="0.116"/><feFuncB type="gamma" amplitude="0.3" exponent="2" offset="0.116"/></feComponentTransfer></filter><clipPath id="c3"><rect x="1237.5" y="990" width="514.5" height="480.5"/></clipPath><filter id="n3p" x="0" y="0" width="100%" height="100%" color-interpolation-filters="sRGB"><feTurbulence type="fractalNoise" baseFrequency="0.06" numOctaves="3" seed="23"/><feColorMatrix type="matrix" values="1 0 0 0 0 1 0 0 0 0 1 0 0 0 0 0 0 0 0 1"/><feComponentTransfer><feFuncR type="gamma" amplitude="0.44000000000000006" exponent="2" offset="0.41200000000000003"/><feFuncG type="gamma" amplitude="0.3795" exponent="2" offset="0.35535"/><feFuncB type="gamma" amplitude="0.5225" exponent="2" offset="0.48924999999999996"/></feComponentTransfer></filter><clipPath id="c3p"><path d="M1418,1192.5l2,-7.5l4.5,-6.5l3.5,-6.5l7,-4.5l3.5,-8.5l6,4l6.5,4l6,4l7.5,0.5l10,-2l9,3.5l1.5,9l6.5,5.5l3,9.5l9,-0.5l6.5,5.5l7.5,1.5l6,5.5l6,6l7,4.5l6.5,3.5l8.5,1l6,4l3,9l8.5,1l6,4l6.5,6.5l-2.5,8l0,7.5l0,8l4,6l-8,3l-8.5,6.5l2.5,7l3.5,7.5l2,7.5l2,7.5l-2,8.5l7,6.5l-2,8l-7.5,-1.5l-6.5,4.5l-6,5l-7.5,-1.5l-7.5,-1l-4,4l-3.5,7.5l-3.5,7.5l-7.5,5.5l-0.5,6l-7.5,2l-6.5,2l-6,6.5l-8,-0.5l-7,0.5l-6,3.5l-7,-4l-7,-3.5l-6.5,-4.5l-4,-8l-7,-3.5l-9,-2.5l2,-10l-6.5,-8l0,-12l-9.5,1.5l-4.5,-6l-6.5,-4l-5.5,-4.5l-7,-2.5l-5,-6l-8,-2l-4.5,-7.5l-6,-4l-3.5,-4l1.5,-6.5l1,-7l-3.5,-8.5l7,-5.5l-0.5,-5.5l6,-7.5l9,2l7.5,-4.5l6,-5l5.5,-5l9.5,-0.5l1.5,-9.5l7,-2.5l-3.5,-9.5l-1,-11.5l-6.5,-8z"/></clipPath></defs>
<rect width="1840" height="2993" fill="#fff"/>
<text x="38.5" y="87" font-family="Liberation Sans, sans-serif" font-size="54" font-weight="bold" fill="#111" text-anchor="start" textLength="71.5" lengthAdjust="spacingAndGlyphs">(a)</text>
<text x="1045" y="87" font-family="Liberation Sans, sans-serif" font-size="54" font-weight="bold" fill="#111" text-anchor="start" textLength="75" lengthAdjust="spacingAndGlyphs">(b)</text>
<text x="38" y="996.8" font-family="Liberation Sans, sans-serif" font-size="54" font-weight="bold" fill="#111" text-anchor="start" textLength="70" lengthAdjust="spacingAndGlyphs">(c)</text>
<text x="41" y="1690.5" font-family="Liberation Sans, sans-serif" font-size="54" font-weight="bold" fill="#111" text-anchor="start" textLength="74" lengthAdjust="spacingAndGlyphs">(d)</text>
<text x="1048" y="1682.7" font-family="Liberation Sans, sans-serif" font-size="54" font-weight="bold" fill="#111" text-anchor="start" textLength="72" lengthAdjust="spacingAndGlyphs">(e)</text>
<line x1="883" y1="731" x2="1221" y2="25" stroke="#a0a0a0" stroke-width="3.2" />
<line x1="884" y1="803" x2="1221" y2="1478" stroke="#a0a0a0" stroke-width="3.2" />
<rect x="56" y="733" width="825" height="67" fill="#a5a5a5"/>
<rect x="56" y="800" width="825" height="92" fill="url(#itog)"/>
<text x="361" y="784" font-family="Liberation Sans, sans-serif" font-size="51" fill="#1c1c1c">WO<tspan font-size="36" dy="10">3</tspan><tspan dy="-10"> NPs</tspan></text>
<text x="415" y="869.3" font-family="Liberation Sans, sans-serif" font-size="65" fill="#150f0a">ITO</text>
<text x="676" y="102.4" font-family="Liberation Sans, sans-serif" font-size="48" font-weight="bold" fill="#111" text-anchor="start" textLength="71" lengthAdjust="spacingAndGlyphs">NO</text>
<text x="747.5" y="112.6" font-family="Liberation Sans, sans-serif" font-size="30" font-weight="bold" fill="#111" text-anchor="start" >2</text>
<text x="768.5" y="85" font-family="Liberation Sans, sans-serif" font-size="30" font-weight="bold" fill="#111" text-anchor="start" >-</text>
<text x="866.5" y="193.6" font-family="Liberation Sans, sans-serif" font-size="46" font-weight="bold" fill="#111" text-anchor="start" textLength="68" lengthAdjust="spacingAndGlyphs">NH</text>
<text x="936.5" y="205.5" font-family="Liberation Sans, sans-serif" font-size="29" font-weight="bold" fill="#111" text-anchor="start" >4</text>
<text x="956" y="183.5" font-family="Liberation Sans, sans-serif" font-size="33" font-weight="bold" fill="#111" text-anchor="start" >+</text>
<path d="M690.6,123.8 C689.1,128.8 684.1,143.8 681.8,153.6 C679.5,163.4 677.2,173 676.7,182.7 C676.2,192.4 676.8,202.8 678.9,211.8 C681,220.8 685,229.6 689.1,236.6 C693.2,243.6 698.3,248.9 703.6,254 C708.9,259.1 714.8,263.2 721.1,267.1 C727.4,271 734.2,274.6 741.5,277.3 C748.8,280 757.3,282.1 764.8,283.1 C772.3,284.1 779.8,283.8 786.6,283.1 C793.4,282.4 799.2,281 805.5,278.8 C811.8,276.6 818.3,273.4 824.4,270 C830.5,266.6 836.6,262.3 841.9,258.4 C847.2,254.5 854,248.7 856.4,246.8 L869.5,250.4 L863.0,217.7 L824.4,227.1 L834.6,233.7 C832.2,235.4 825.3,240.5 820,243.9 C814.7,247.3 808.6,250.8 802.6,254 C796.6,257.1 790.5,260.4 783.7,262.8 C776.9,265.2 768.8,267.5 761.8,268.6 C754.8,269.7 747.1,269.8 741.5,269.3 C735.9,268.8 732.5,268 728.4,265.7 C724.3,263.4 720.3,260.1 716.7,255.5 C713.1,250.9 709.3,244.8 706.6,238 C703.9,231.2 702,222.6 700.7,214.8 C699.4,207.1 698.6,199.3 698.6,191.5 C698.6,183.7 699.4,175 700.7,168.2 C702,161.4 704.3,155.9 706.6,150.7 C708.9,145.5 713.3,139.2 714.6,136.9 Z" fill="#548235"/>
<path d="M240,466.5l1.5,-3l2,-4l2.5,-4.5l2,-4l1.5,-2l0.5,0.5l0.5,2l-0.5,3l0,2.5l0,1l0,0.5l0,-1l0,-1.5l0,-2.5l0,-4l0,-5.5l0,-6l0,-5.5l0,-4.5l0,-3.5l0,-2.5l0,-1.5l0,-1.5l0,-1M75.5,595l-1,-0.5l-1,0l-1.5,-0.5l-1,-0.5l-1,-1l-0.5,-2l0,-2l0,-2.5l0.5,-2.5l0,-2.5l0,-3l0,-3.5l0,-3l0,-2l0,-1l0,1.5l0,3l0,4l0,3l0,2l0,-0.5l0,-2l0,-2.5l0,-2l0,-2M190,493l1.5,1.5l2.5,2.5l2.5,3l2.5,3.5l2.5,4l3.5,5l3.5,6.5l3.5,6.5l3,6l1,5.5l0,4.5l-2,4l-2.5,3.5l-2.5,3.5l-2,3.5l-1.5,5l-1,5l-1.5,5.5l-1.5,4.5l-3,3l-5,1l-6.5,-0.5l-6.5,-1l-6,-1l-4.5,-1M141.5,491l2.5,1.5l3,2.5l3.5,2.5l3.5,2l3,1l3,-0.5l2.5,-1.5l2.5,-2l2,-3l1.5,-3.5l1,-4.5l0,-6l-0.5,-6.5l-1,-6l-2,-5l-3,-3l-4.5,-2l-5,-1.5l-5,-1.5l-5,-3l-5,-4l-5.5,-5.5l-5,-5.5l-5,-5l-3,-3.5M152.5,566l3.5,3.5l5,5.5l6,5.5l6,5l5.5,1.5l5.5,-1.5l5.5,-4l5.5,-5.5l4,-6l2.5,-5l0.5,-5.5l-1,-6.5l-2,-6l-3,-5l-2.5,-3.5l-2.5,-1.5l-3,-0.5l-3.5,1l-3,1.5l-2,3l-2,5.5l-1,7l-1,7.5l-0.5,7l-0.5,5M211,539l-3,-1l-4.5,-1.5l-5,-1.5l-5.5,-1.5l-5.5,-1.5l-6,-1.5l-6.5,-1.5l-6.5,-1.5l-7,-1.5l-6,-1l-6,-1l-6,-1l-5.5,-0.5l-5.5,-0.5l-6,0.5l-6,2.5l-6,3l-6.5,4l-6,2.5l-5.5,0l-6,-2.5l-5.5,-5l-5.5,-6l-4.5,-5.5l-3.5,-4M111,589l-4,0l-5,-0.5l-6,0l-5.5,1l-4,2l-2.5,4.5l-1,6.5l0,7l-0.5,6l-1,4.5l-1,2l-1.5,0l-2,-0.5l-1.5,-1l-1,-0.5l-1.5,0l-1,0l-0.5,0l-1,0l-0.5,0l-0.5,0l0.5,0M153.5,395.5l-2.5,-1l-4,-2l-5,-2l-4.5,-1.5l-4,-0.5l-3,1.5l-2.5,3l-2,4l-2.5,2.5l-2.5,0.5l-3.5,-2l-3.5,-4.5l-3.5,-5l-4,-4.5l-3,-3l-3,-1.5l-2.5,-0.5l-2.5,0.5l-2.5,0.5l-2.5,0l-2.5,0l-3,0l-2.5,0l-2.5,0l-1.5,0M179.5,477l0.5,3.5l0.5,5l1.5,5l2,4.5l3,3l5,0.5l6,-1l7,-1.5l7,-2.5l6,-2.5l5.5,-3l5,-3l5,-4l4,-3.5l3.5,-3l3,-2l2,-1l2,-1.5l1,-1l1,-1.5l0.5,-2.5l0,-2.5l0,-2.5l-0.5,-2l0,-1.5M188,404l-3,0l-4,0.5l-4.5,1l-5,1l-4.5,1.5l-4.5,2.5l-5,3l-5,3.5l-4.5,4l-3.5,3.5l-2,4l-1.5,4l-0.5,4l-0.5,4l0.5,4.5l1,5.5l2,6l2.5,6l3,5l3,3l4,1l4.5,-0.5l5,-2l4.5,-1.5l3,-1M249.5,534l-1,1.5l-1,3l-2,3l-2,2l-3.5,0.5l-5,-1l-7,-2.5l-7,-3.5l-6,-4l-3.5,-3.5l-0.5,-4l1.5,-4.5l2.5,-4.5l3.5,-4.5l3,-4l2,-3.5l2.5,-3.5l3,-3.5l2.5,-2.5l3,-1.5l3,0l3.5,1l4,2l3,1.5l2,1M123.5,451l-4.5,1l-6,1l-7,2l-6,2.5l-4,3.5l-1,5.5l0.5,6.5l1.5,7.5l1.5,7l-1,6l-3,5l-4.5,5l-5.5,4l-4.5,4l-3,4l-0.5,3.5l1,2.5l1.5,3l1.5,3l0,4l-1.5,5.5l-2,6.5l-3,6.5l-2.5,5.5l-1.5,4M132.5,404l-4.5,0l-6.5,-0.5l-7.5,0l-6.5,0l-5.5,1l-3.5,1.5l-2,2.5l-2,2.5l-1.5,3l-2,3l-2.5,3l-2.5,4l-3,3.5l-2.5,3l-2.5,2l-2,0l-2,-1.5l-1.5,-2.5l-1.5,-1.5l-1,-0.5l-0.5,2l0,2.5l0,3.5l0.5,3.5l0,2M110,549l2.5,0l4,0l4.5,0.5l4,1l3,1.5l2.5,3.5l1.5,4l1,5l1.5,4l2,3l2.5,1l3,0l3.5,-0.5l3.5,-1.5l4,-1.5l5,-2l6,-3l5.5,-3l5.5,-4l4,-4.5l2,-5.5l1.5,-6.5l0,-7l0,-6l0.5,-4M85,581.5l-2.5,-0.5l-3,0l-3.5,-0.5l-3.5,0l-2,0.5l-1,1.5l-0.5,2.5l0.5,3l0.5,2.5l0,2.5l0,1.5l0,1.5l0,1.5l0,1l0,1l0,1l0,0.5l0,0.5l0,-1l0,-2l0,-3.5l0,-4l0,-3.5l0,-2.5M189.5,507.5l0.5,3l0.5,5l1,5l1,5.5l1,4.5l1,4.5l0.5,4.5l1,4l2,4l2.5,2.5l4.5,2l6,0.5l6.5,0l6,0.5l4,2l2.5,3.5l2,5l0.5,5.5l0,5l-1,4l-2.5,2.5l-4,2l-4.5,1l-3.5,1l-3,0.5" fill="none" stroke="#8d8d24" stroke-width="3.8" stroke-linecap="round" stroke-linejoin="round"/>
<path d="M240,466.5l1.5,-3l2,-4l2.5,-4.5l2,-4l1.5,-2l0.5,0.5l0.5,2l-0.5,3l0,2.5l0,1l0,0.5l0,-1l0,-1.5l0,-2.5l0,-4l0,-5.5l0,-6l0,-5.5l0,-4.5l0,-3.5l0,-2.5l0,-1.5l0,-1.5l0,-1M75.5,595l-1,-0.5l-1,0l-1.5,-0.5l-1,-0.5l-1,-1l-0.5,-2l0,-2l0,-2.5l0.5,-2.5l0,-2.5l0,-3l0,-3.5l0,-3l0,-2l0,-1l0,1.5l0,3l0,4l0,3l0,2l0,-0.5l0,-2l0,-2.5l0,-2l0,-2M190,493l1.5,1.5l2.5,2.5l2.5,3l2.5,3.5l2.5,4l3.5,5l3.5,6.5l3.5,6.5l3,6l1,5.5l0,4.5l-2,4l-2.5,3.5l-2.5,3.5l-2,3.5l-1.5,5l-1,5l-1.5,5.5l-1.5,4.5l-3,3l-5,1l-6.5,-0.5l-6.5,-1l-6,-1l-4.5,-1M141.5,491l2.5,1.5l3,2.5l3.5,2.5l3.5,2l3,1l3,-0.5l2.5,-1.5l2.5,-2l2,-3l1.5,-3.5l1,-4.5l0,-6l-0.5,-6.5l-1,-6l-2,-5l-3,-3l-4.5,-2l-5,-1.5l-5,-1.5l-5,-3l-5,-4l-5.5,-5.5l-5,-5.5l-5,-5l-3,-3.5M152.5,566l3.5,3.5l5,5.5l6,5.5l6,5l5.5,1.5l5.5,-1.5l5.5,-4l5.5,-5.5l4,-6l2.5,-5l0.5,-5.5l-1,-6.5l-2,-6l-3,-5l-2.5,-3.5l-2.5,-1.5l-3,-0.5l-3.5,1l-3,1.5l-2,3l-2,5.5l-1,7l-1,7.5l-0.5,7l-0.5,5M211,539l-3,-1l-4.5,-1.5l-5,-1.5l-5.5,-1.5l-5.5,-1.5l-6,-1.5l-6.5,-1.5l-6.5,-1.5l-7,-1.5l-6,-1l-6,-1l-6,-1l-5.5,-0.5l-5.5,-0.5l-6,0.5l-6,2.5l-6,3l-6.5,4l-6,2.5l-5.5,0l-6,-2.5l-5.5,-5l-5.5,-6l-4.5,-5.5l-3.5,-4M111,589l-4,0l-5,-0.5l-6,0l-5.5,1l-4,2l-2.5,4.5l-1,6.5l0,7l-0.5,6l-1,4.5l-1,2l-1.5,0l-2,-0.5l-1.5,-1l-1,-0.5l-1.5,0l-1,0l-0.5,0l-1,0l-0.5,0l-0.5,0l0.5,0M153.5,395.5l-2.5,-1l-4,-2l-5,-2l-4.5,-1.5l-4,-0.5l-3,1.5l-2.5,3l-2,4l-2.5,2.5l-2.5,0.5l-3.5,-2l-3.5,-4.5l-3.5,-5l-4,-4.5l-3,-3l-3,-1.5l-2.5,-0.5l-2.5,0.5l-2.5,0.5l-2.5,0l-2.5,0l-3,0l-2.5,0l-2.5,0l-1.5,0M179.5,477l0.5,3.5l0.5,5l1.5,5l2,4.5l3,3l5,0.5l6,-1l7,-1.5l7,-2.5l6,-2.5l5.5,-3l5,-3l5,-4l4,-3.5l3.5,-3l3,-2l2,-1l2,-1.5l1,-1l1,-1.5l0.5,-2.5l0,-2.5l0,-2.5l-0.5,-2l0,-1.5M188,404l-3,0l-4,0.5l-4.5,1l-5,1l-4.5,1.5l-4.5,2.5l-5,3l-5,3.5l-4.5,4l-3.5,3.5l-2,4l-1.5,4l-0.5,4l-0.5,4l0.5,4.5l1,5.5l2,6l2.5,6l3,5l3,3l4,1l4.5,-0.5l5,-2l4.5,-1.5l3,-1M249.5,534l-1,1.5l-1,3l-2,3l-2,2l-3.5,0.5l-5,-1l-7,-2.5l-7,-3.5l-6,-4l-3.5,-3.5l-0.5,-4l1.5,-4.5l2.5,-4.5l3.5,-4.5l3,-4l2,-3.5l2.5,-3.5l3,-3.5l2.5,-2.5l3,-1.5l3,0l3.5,1l4,2l3,1.5l2,1M123.5,451l-4.5,1l-6,1l-7,2l-6,2.5l-4,3.5l-1,5.5l0.5,6.5l1.5,7.5l1.5,7l-1,6l-3,5l-4.5,5l-5.5,4l-4.5,4l-3,4l-0.5,3.5l1,2.5l1.5,3l1.5,3l0,4l-1.5,5.5l-2,6.5l-3,6.5l-2.5,5.5l-1.5,4M132.5,404l-4.5,0l-6.5,-0.5l-7.5,0l-6.5,0l-5.5,1l-3.5,1.5l-2,2.5l-2,2.5l-1.5,3l-2,3l-2.5,3l-2.5,4l-3,3.5l-2.5,3l-2.5,2l-2,0l-2,-1.5l-1.5,-2.5l-1.5,-1.5l-1,-0.5l-0.5,2l0,2.5l0,3.5l0.5,3.5l0,2M110,549l2.5,0l4,0l4.5,0.5l4,1l3,1.5l2.5,3.5l1.5,4l1,5l1.5,4l2,3l2.5,1l3,0l3.5,-0.5l3.5,-1.5l4,-1.5l5,-2l6,-3l5.5,-3l5.5,-4l4,-4.5l2,-5.5l1.5,-6.5l0,-7l0,-6l0.5,-4M85,581.5l-2.5,-0.5l-3,0l-3.5,-0.5l-3.5,0l-2,0.5l-1,1.5l-0.5,2.5l0.5,3l0.5,2.5l0,2.5l0,1.5l0,1.5l0,1.5l0,1l0,1l0,1l0,0.5l0,0.5l0,-1l0,-2l0,-3.5l0,-4l0,-3.5l0,-2.5M189.5,507.5l0.5,3l0.5,5l1,5l1,5.5l1,4.5l1,4.5l0.5,4.5l1,4l2,4l2.5,2.5l4.5,2l6,0.5l6.5,0l6,0.5l4,2l2.5,3.5l2,5l0.5,5.5l0,5l-1,4l-2.5,2.5l-4,2l-4.5,1l-3.5,1l-3,0.5" fill="none" stroke="#ecec3c" stroke-width="2.6" stroke-linecap="round" stroke-linejoin="round"/>
<path d="M741.5,579l3,-1.5l5,-2l5,-2.5l5,-2.5l4,-2.5l2.5,-2l2,-1.5l1.5,-2l1,-2.5l1.5,-3.5l1.5,-5.5l1.5,-6.5l1.5,-7l2,-7l1.5,-7l2,-6l2.5,-6l2,-6l1.5,-6l-0.5,-5l-2.5,-4.5l-5,-5l-5,-4l-5,-3.5l-3.5,-2.5M791.5,586.5l-0.5,0.5l-1,1l-1,1l-1,0.5l-2,0.5l-1.5,0.5l-2,0l-2.5,0l-3,0l-4,-0.5l-5,-1l-6,-1.5l-7,-2l-6.5,-1.5l-5,-0.5l-4.5,0.5l-3.5,1.5l-3.5,2l-3,1.5l-3,1l-3.5,0.5l-3,0l-3.5,0l-2.5,-0.5l-2,0M724,569l3.5,-3.5l4.5,-4.5l5,-5.5l4,-5.5l2,-4.5l-1,-4l-3,-3.5l-4,-4l-4.5,-3.5l-4,-4l-4,-4.5l-4.5,-4.5l-4.5,-5l-3.5,-5.5l-3,-5.5l-2,-6.5l-1.5,-7l-0.5,-7.5l0,-6.5l0.5,-6l1,-5l2,-4l2.5,-4l2,-3l1.5,-2M845.5,364.5l-2.5,0l-3,0l-4,0.5l-4,0.5l-4,0.5l-4.5,1.5l-5,2l-5,2l-4,2.5l-2.5,3l-0.5,3.5l1.5,4l2,4.5l2.5,4.5l1.5,4.5l1,3.5l0.5,3.5l0.5,3.5l0.5,4l1.5,4l2.5,5l3.5,6l3.5,6l3,5l2,4M729.5,420.5l1.5,1.5l2.5,2.5l2.5,2l2,3l0,2.5l-2,3l-3.5,2.5l-4.5,3.5l-4,3.5l-3.5,4l-2.5,5.5l-2.5,7l-2,7l-1.5,6.5l0,4.5l2,3l3,1.5l4,1l3.5,0l2.5,-0.5l2,-2l1,-3l1,-3.5l0.5,-3l0.5,-2M700.5,494l0,-3l-0.5,-5l0,-5.5l-0.5,-6l0.5,-6l0.5,-6.5l0.5,-7l0.5,-7.5l1.5,-7l2,-5.5l3.5,-3.5l5,-3l5,-2l4.5,-2l2.5,-2.5l0.5,-2.5l-1,-3.5l-1.5,-3l-2.5,-3l-2,-2.5l-2.5,-2.5l-3,-2l-3,-2l-3,-1.5l-2,-1M799,362l-3.5,0l-4.5,0l-5.5,0.5l-4.5,1l-3.5,2l-1,4.5l0,6l0.5,6.5l0,6.5l-1,5l-2,3l-3,2.5l-3.5,2l-4,2l-3,3l-3.5,4l-3.5,5l-3.5,5l-2,5.5l-1,4.5l2,5l3.5,4.5l4,4.5l4.5,4l2.5,2.5M753,516.5l-2.5,-0.5l-3.5,-1.5l-4,-1l-4.5,-1l-4,-0.5l-4,0l-4,1l-4,1l-4,0.5l-3.5,-1l-3.5,-2.5l-3.5,-4l-3.5,-4.5l-2.5,-5l-2,-3.5l-1,-3l0,-2l0.5,-2.5l0.5,-2l0,-2.5l0,-4l0,-4l0,-4.5l0,-3.5l0,-3M784.5,349l4,0.5l6,1.5l7,1.5l7,1l6.5,1l5.5,0l5.5,-0.5l5.5,-0.5l5,-0.5l4.5,0l4,0l3,0.5l3,1l2.5,0.5l1.5,0.5l1,0.5l0,0.5l-0.5,0.5l-0.5,0l0,-0.5l0,-0.5l0,-0.5M746.5,584.5l-4,1l-5.5,1l-6.5,1.5l-6.5,1l-5,1l-3.5,0.5l-3.5,0l-2.5,0l-2.5,-0.5l-2,0l-1.5,0.5l-1.5,0.5l-1,0.5l-0.5,-0.5l-0.5,-1l-0.5,-2.5l-1,-4l-0.5,-4.5l0.5,-4.5l1.5,-3.5l3,-3l5,-2.5l5,-2.5l5,-2l3,-1.5M821,469l-3.5,1l-4.5,0.5l-6,1.5l-6,1.5l-6,1.5l-5.5,2l-6.5,3l-6.5,2.5l-6,3l-5.5,2l-5,1l-5,0.5l-4.5,0.5l-4,0.5l-3,2l-2.5,3l-1.5,4l-1,4.5l-1,4l-2,3l-3,2l-4,0.5l-4,0.5l-3.5,0l-2,0M771.5,502.5l-1,1.5l-2.5,2l-2,2.5l-3,2l-2.5,1l-2.5,0l-3,-1l-3,-1.5l-3,-1.5l-2.5,-1l-3,-1l-2.5,-0.5l-3,-1l-3,0l-4,0.5l-5,2l-5.5,3.5l-6,3.5l-5.5,3l-4,1.5l-2.5,-0.5l-1.5,-2.5l-0.5,-3l0,-3l-0.5,-2M746.5,513.5l-1,-1.5l-2,-3l-2.5,-3l-3,-2.5l-3.5,-1l-4.5,1l-5.5,2.5l-6,3.5l-5.5,2.5l-4.5,1.5l-3,-0.5l-2,-2l-1.5,-2l-1,-2l-1,-0.5l-1,1l-0.5,2l-0.5,3l0.5,3.5l1.5,3.5l3.5,4l5,5.5l5.5,5.5l5,5l3.5,3M767.5,450l1.5,1.5l3,2l2.5,2l3,2.5l2,2.5l1,2.5l0.5,3l0.5,3l-0.5,3l-1,3l-2.5,3.5l-4,3.5l-4,3.5l-3.5,3.5l-2,4l-0.5,3.5l0,4.5l1,4l2,3.5l3,2l4.5,0l7,-1l7.5,-2l6.5,-1.5l4.5,-1" fill="none" stroke="#8d8d24" stroke-width="3.8" stroke-linecap="round" stroke-linejoin="round"/>
<path d="M741.5,579l3,-1.5l5,-2l5,-2.5l5,-2.5l4,-2.5l2.5,-2l2,-1.5l1.5,-2l1,-2.5l1.5,-3.5l1.5,-5.5l1.5,-6.5l1.5,-7l2,-7l1.5,-7l2,-6l2.5,-6l2,-6l1.5,-6l-0.5,-5l-2.5,-4.5l-5,-5l-5,-4l-5,-3.5l-3.5,-2.5M791.5,586.5l-0.5,0.5l-1,1l-1,1l-1,0.5l-2,0.5l-1.5,0.5l-2,0l-2.5,0l-3,0l-4,-0.5l-5,-1l-6,-1.5l-7,-2l-6.5,-1.5l-5,-0.5l-4.5,0.5l-3.5,1.5l-3.5,2l-3,1.5l-3,1l-3.5,0.5l-3,0l-3.5,0l-2.5,-0.5l-2,0M724,569l3.5,-3.5l4.5,-4.5l5,-5.5l4,-5.5l2,-4.5l-1,-4l-3,-3.5l-4,-4l-4.5,-3.5l-4,-4l-4,-4.5l-4.5,-4.5l-4.5,-5l-3.5,-5.5l-3,-5.5l-2,-6.5l-1.5,-7l-0.5,-7.5l0,-6.5l0.5,-6l1,-5l2,-4l2.5,-4l2,-3l1.5,-2M845.5,364.5l-2.5,0l-3,0l-4,0.5l-4,0.5l-4,0.5l-4.5,1.5l-5,2l-5,2l-4,2.5l-2.5,3l-0.5,3.5l1.5,4l2,4.5l2.5,4.5l1.5,4.5l1,3.5l0.5,3.5l0.5,3.5l0.5,4l1.5,4l2.5,5l3.5,6l3.5,6l3,5l2,4M729.5,420.5l1.5,1.5l2.5,2.5l2.5,2l2,3l0,2.5l-2,3l-3.5,2.5l-4.5,3.5l-4,3.5l-3.5,4l-2.5,5.5l-2.5,7l-2,7l-1.5,6.5l0,4.5l2,3l3,1.5l4,1l3.5,0l2.5,-0.5l2,-2l1,-3l1,-3.5l0.5,-3l0.5,-2M700.5,494l0,-3l-0.5,-5l0,-5.5l-0.5,-6l0.5,-6l0.5,-6.5l0.5,-7l0.5,-7.5l1.5,-7l2,-5.5l3.5,-3.5l5,-3l5,-2l4.5,-2l2.5,-2.5l0.5,-2.5l-1,-3.5l-1.5,-3l-2.5,-3l-2,-2.5l-2.5,-2.5l-3,-2l-3,-2l-3,-1.5l-2,-1M799,362l-3.5,0l-4.5,0l-5.5,0.5l-4.5,1l-3.5,2l-1,4.5l0,6l0.5,6.5l0,6.5l-1,5l-2,3l-3,2.5l-3.5,2l-4,2l-3,3l-3.5,4l-3.5,5l-3.5,5l-2,5.5l-1,4.5l2,5l3.5,4.5l4,4.5l4.5,4l2.5,2.5M753,516.5l-2.5,-0.5l-3.5,-1.5l-4,-1l-4.5,-1l-4,-0.5l-4,0l-4,1l-4,1l-4,0.5l-3.5,-1l-3.5,-2.5l-3.5,-4l-3.5,-4.5l-2.5,-5l-2,-3.5l-1,-3l0,-2l0.5,-2.5l0.5,-2l0,-2.5l0,-4l0,-4l0,-4.5l0,-3.5l0,-3M784.5,349l4,0.5l6,1.5l7,1.5l7,1l6.5,1l5.5,0l5.5,-0.5l5.5,-0.5l5,-0.5l4.5,0l4,0l3,0.5l3,1l2.5,0.5l1.5,0.5l1,0.5l0,0.5l-0.5,0.5l-0.5,0l0,-0.5l0,-0.5l0,-0.5M746.5,584.5l-4,1l-5.5,1l-6.5,1.5l-6.5,1l-5,1l-3.5,0.5l-3.5,0l-2.5,0l-2.5,-0.5l-2,0l-1.5,0.5l-1.5,0.5l-1,0.5l-0.5,-0.5l-0.5,-1l-0.5,-2.5l-1,-4l-0.5,-4.5l0.5,-4.5l1.5,-3.5l3,-3l5,-2.5l5,-2.5l5,-2l3,-1.5M821,469l-3.5,1l-4.5,0.5l-6,1.5l-6,1.5l-6,1.5l-5.5,2l-6.5,3l-6.5,2.5l-6,3l-5.5,2l-5,1l-5,0.5l-4.5,0.5l-4,0.5l-3,2l-2.5,3l-1.5,4l-1,4.5l-1,4l-2,3l-3,2l-4,0.5l-4,0.5l-3.5,0l-2,0M771.5,502.5l-1,1.5l-2.5,2l-2,2.5l-3,2l-2.5,1l-2.5,0l-3,-1l-3,-1.5l-3,-1.5l-2.5,-1l-3,-1l-2.5,-0.5l-3,-1l-3,0l-4,0.5l-5,2l-5.5,3.5l-6,3.5l-5.5,3l-4,1.5l-2.5,-0.5l-1.5,-2.5l-0.5,-3l0,-3l-0.5,-2M746.5,513.5l-1,-1.5l-2,-3l-2.5,-3l-3,-2.5l-3.5,-1l-4.5,1l-5.5,2.5l-6,3.5l-5.5,2.5l-4.5,1.5l-3,-0.5l-2,-2l-1.5,-2l-1,-2l-1,-0.5l-1,1l-0.5,2l-0.5,3l0.5,3.5l1.5,3.5l3.5,4l5,5.5l5.5,5.5l5,5l3.5,3M767.5,450l1.5,1.5l3,2l2.5,2l3,2.5l2,2.5l1,2.5l0.5,3l0.5,3l-0.5,3l-1,3l-2.5,3.5l-4,3.5l-4,3.5l-3.5,3.5l-2,4l-0.5,3.5l0,4.5l1,4l2,3.5l3,2l4.5,0l7,-1l7.5,-2l6.5,-1.5l4.5,-1" fill="none" stroke="#ecec3c" stroke-width="2.6" stroke-linecap="round" stroke-linejoin="round"/>
<path d="M292.5,462l-1.5,3.5l-1.5,6l-2.5,6.5l-2.5,5.5l-3,4l-3,1.5l-3.5,-0.5l-3.5,-1.5l-4,-1l-5,0l-6,1.5l-7,2l-7,2l-7,2.5l-5.5,1l-4.5,0l-3.5,-0.5l-3,-1l-2,-0.5l-2,0.5l-1,2l0,3.5l0.5,4l0.5,3.5l0,2M335.5,478l1.5,1l2,1.5l2.5,1.5l2,1l1.5,0l0.5,-1l0,-1.5l0,-2.5l-0.5,-3l0,-3.5l0,-5l0.5,-6l0.5,-6.5l0,-5.5l-1,-4.5l-2,-2l-2.5,-1l-3.5,-0.5l-3,0.5l-3,0.5l-3,1l-3,1.5l-3,2l-3,1.5l-1.5,1.5M326,469l-0.5,-1.5l-0.5,-2.5l-1,-3l-1.5,-3l-2.5,-2.5l-3.5,-1l-5,-1l-5.5,-1l-5,-1.5l-4,-2.5l-2.5,-3.5l-1.5,-5.5l-1,-5.5l-1,-5.5l-1.5,-4.5l-3,-3l-3.5,-2l-3,-2l-3,-2l-1.5,-3l0,-4.5l2,-5.5l2,-5.5l2,-5l1.5,-3.5M326,322.5l-2.5,-1.5l-3.5,-2l-4,-2.5l-4.5,-2.5l-3.5,-1.5l-3.5,-1l-3.5,-0.5l-3,-0.5l-2.5,-0.5l-2,-1l-0.5,-1.5l1,-2l1,-2l0,-2l-1.5,-1.5l-3.5,-0.5l-5.5,-0.5l-6,0l-6.5,0.5l-5.5,0.5l-5.5,1.5l-5.5,1.5l-5.5,2.5l-4.5,2l-3.5,1M301.5,513.5l-2.5,-4l-4,-5.5l-4.5,-6.5l-4.5,-6l-4,-4.5l-4,-2.5l-4,-1l-4,-0.5l-4,-1l-3,-2.5l-3,-3.5l-2.5,-5l-2,-5l-2.5,-5l-3.5,-4.5l-5.5,-3l-7,-3l-7.5,-2.5l-5.5,-3l-3.5,-4l0.5,-5.5l3,-7l4.5,-7l4,-6.5l3,-4.5M305.5,483l4.5,-1.5l6.5,-2l7.5,-2.5l7,-2l5,-2l3.5,-1l2,-0.5l1.5,-0.5l1,-0.5l1,0l0.5,-1l0,-0.5l0,-1l-0.5,0l0,1l0,2l0,3.5l0,4l0,4l0,3l0,3l0,3l0,3l0,2l0,2M323,463.5l3,1.5l5,2l5.5,2l5,3l3.5,2.5l1.5,3.5l0.5,3.5l-0.5,4l-1,3.5l-0.5,3.5l-0.5,3.5l-1.5,3.5l-1,3.5l-1,3l0,3l0,2.5l1,3l1,2l1.5,2l0.5,1.5l0.5,0.5l0,0.5l-0.5,-0.5l0,-0.5M258,315l2,2.5l3,4l3.5,4l3.5,3.5l4,1.5l4.5,-0.5l5,-2.5l5,-3l4.5,-3.5l4,-3l3,-3l2,-4l1.5,-3l2,-3l3.5,-1l5.5,1l7,2l7.5,3.5l6.5,3l5,3l2.5,3l1.5,3l0.5,3l0,2.5l0,2M283.5,454l-1,3l-1,4.5l-1,5l-1.5,4l-2,3l-2.5,1l-3,-1l-3.5,-1l-3,-0.5l-2.5,1.5l-1,4l0,6l0,6.5l-0.5,6.5l-2,4.5l-4,3.5l-5,3l-5.5,2.5l-5.5,1l-4.5,0l-4,-2.5l-3.5,-4l-3,-5l-2.5,-4.5l-2,-3" fill="none" stroke="#905619" stroke-width="3.5999999999999996" stroke-linecap="round" stroke-linejoin="round"/>
<path d="M292.5,462l-1.5,3.5l-1.5,6l-2.5,6.5l-2.5,5.5l-3,4l-3,1.5l-3.5,-0.5l-3.5,-1.5l-4,-1l-5,0l-6,1.5l-7,2l-7,2l-7,2.5l-5.5,1l-4.5,0l-3.5,-0.5l-3,-1l-2,-0.5l-2,0.5l-1,2l0,3.5l0.5,4l0.5,3.5l0,2M335.5,478l1.5,1l2,1.5l2.5,1.5l2,1l1.5,0l0.5,-1l0,-1.5l0,-2.5l-0.5,-3l0,-3.5l0,-5l0.5,-6l0.5,-6.5l0,-5.5l-1,-4.5l-2,-2l-2.5,-1l-3.5,-0.5l-3,0.5l-3,0.5l-3,1l-3,1.5l-3,2l-3,1.5l-1.5,1.5M326,469l-0.5,-1.5l-0.5,-2.5l-1,-3l-1.5,-3l-2.5,-2.5l-3.5,-1l-5,-1l-5.5,-1l-5,-1.5l-4,-2.5l-2.5,-3.5l-1.5,-5.5l-1,-5.5l-1,-5.5l-1.5,-4.5l-3,-3l-3.5,-2l-3,-2l-3,-2l-1.5,-3l0,-4.5l2,-5.5l2,-5.5l2,-5l1.5,-3.5M326,322.5l-2.5,-1.5l-3.5,-2l-4,-2.5l-4.5,-2.5l-3.5,-1.5l-3.5,-1l-3.5,-0.5l-3,-0.5l-2.5,-0.5l-2,-1l-0.5,-1.5l1,-2l1,-2l0,-2l-1.5,-1.5l-3.5,-0.5l-5.5,-0.5l-6,0l-6.5,0.5l-5.5,0.5l-5.5,1.5l-5.5,1.5l-5.5,2.5l-4.5,2l-3.5,1M301.5,513.5l-2.5,-4l-4,-5.5l-4.5,-6.5l-4.5,-6l-4,-4.5l-4,-2.5l-4,-1l-4,-0.5l-4,-1l-3,-2.5l-3,-3.5l-2.5,-5l-2,-5l-2.5,-5l-3.5,-4.5l-5.5,-3l-7,-3l-7.5,-2.5l-5.5,-3l-3.5,-4l0.5,-5.5l3,-7l4.5,-7l4,-6.5l3,-4.5M305.5,483l4.5,-1.5l6.5,-2l7.5,-2.5l7,-2l5,-2l3.5,-1l2,-0.5l1.5,-0.5l1,-0.5l1,0l0.5,-1l0,-0.5l0,-1l-0.5,0l0,1l0,2l0,3.5l0,4l0,4l0,3l0,3l0,3l0,3l0,2l0,2M323,463.5l3,1.5l5,2l5.5,2l5,3l3.5,2.5l1.5,3.5l0.5,3.5l-0.5,4l-1,3.5l-0.5,3.5l-0.5,3.5l-1.5,3.5l-1,3.5l-1,3l0,3l0,2.5l1,3l1,2l1.5,2l0.5,1.5l0.5,0.5l0,0.5l-0.5,-0.5l0,-0.5M258,315l2,2.5l3,4l3.5,4l3.5,3.5l4,1.5l4.5,-0.5l5,-2.5l5,-3l4.5,-3.5l4,-3l3,-3l2,-4l1.5,-3l2,-3l3.5,-1l5.5,1l7,2l7.5,3.5l6.5,3l5,3l2.5,3l1.5,3l0.5,3l0,2.5l0,2M283.5,454l-1,3l-1,4.5l-1,5l-1.5,4l-2,3l-2.5,1l-3,-1l-3.5,-1l-3,-0.5l-2.5,1.5l-1,4l0,6l0,6.5l-0.5,6.5l-2,4.5l-4,3.5l-5,3l-5.5,2.5l-5.5,1l-4.5,0l-4,-2.5l-3.5,-4l-3,-5l-2.5,-4.5l-2,-3" fill="none" stroke="#f0902a" stroke-width="2.4" stroke-linecap="round" stroke-linejoin="round"/>
<path d="M624,367.5l-2.5,-1l-3.5,-1.5l-3.5,-1.5l-4,-1l-3.5,-1l-2.5,-0.5l-2.5,0.5l-2.5,0l-2.5,0.5l-3,0.5l-3.5,0.5l-4.5,0l-4.5,0.5l-4,1l-2.5,2l-1,4.5l-0.5,6l0.5,6.5l0.5,6l0.5,4M590,419l1.5,0.5l2,1l2.5,0.5l3,0.5l3,-0.5l3.5,-1.5l4.5,-2.5l4.5,-3l4.5,-3l4.5,-2l5.5,-1.5l6,-1l6,-0.5l5,-0.5l3.5,-0.5l2,-0.5l0,-0.5l-0.5,-0.5l-0.5,-0.5l-0.5,-0.5M581,378l1.5,3.5l2,4.5l3,5.5l2.5,4.5l3,2.5l2,1l2.5,-1l2.5,-2l3,-1.5l3,-1l4,0l5,-0.5l4.5,0l4.5,1l3,1.5l2,3l1,4.5l0,4.5l0,4l0.5,3M595.5,333l3.5,-0.5l5,-1l5.5,-1.5l5,-1.5l4,-1.5l2,-1l0.5,-2l0,-1.5l0.5,-1.5l2,-1l3,-0.5l4.5,0l4.5,0l4,0.5l3,0l1.5,0l-0.5,0l-0.5,0" fill="none" stroke="#905619" stroke-width="3.4000000000000004" stroke-linecap="round" stroke-linejoin="round"/>
<path d="M624,367.5l-2.5,-1l-3.5,-1.5l-3.5,-1.5l-4,-1l-3.5,-1l-2.5,-0.5l-2.5,0.5l-2.5,0l-2.5,0.5l-3,0.5l-3.5,0.5l-4.5,0l-4.5,0.5l-4,1l-2.5,2l-1,4.5l-0.5,6l0.5,6.5l0.5,6l0.5,4M590,419l1.5,0.5l2,1l2.5,0.5l3,0.5l3,-0.5l3.5,-1.5l4.5,-2.5l4.5,-3l4.5,-3l4.5,-2l5.5,-1.5l6,-1l6,-0.5l5,-0.5l3.5,-0.5l2,-0.5l0,-0.5l-0.5,-0.5l-0.5,-0.5l-0.5,-0.5M581,378l1.5,3.5l2,4.5l3,5.5l2.5,4.5l3,2.5l2,1l2.5,-1l2.5,-2l3,-1.5l3,-1l4,0l5,-0.5l4.5,0l4.5,1l3,1.5l2,3l1,4.5l0,4.5l0,4l0.5,3M595.5,333l3.5,-0.5l5,-1l5.5,-1.5l5,-1.5l4,-1.5l2,-1l0.5,-2l0,-1.5l0.5,-1.5l2,-1l3,-0.5l4.5,0l4.5,0l4,0.5l3,0l1.5,0l-0.5,0l-0.5,0" fill="none" stroke="#f0902a" stroke-width="2.2" stroke-linecap="round" stroke-linejoin="round"/>
<path d="M398,580.5l-1.5,-1l-2,-1.5l-3,-2l-3,-2.5l-3.5,-2l-4.5,-2l-5,-3l-5,-2.5l-5.5,-2l-5,-0.5l-5.5,1l-6,2.5l-6,3.5l-5,4l-3.5,4l-2,5l-1.5,6l0,6l1,5l2.5,4l5.5,2l7.5,1l8.5,0l7.5,0l5,0M370.5,599.5l2.5,-2l2.5,-2.5l3.5,-3l4,-2.5l3,-1l4,0l4,0.5l4,2l3,2.5l2,3.5l-0.5,5l-2,7l-3,7.5l-2.5,7l-2.5,5.5l-2,4l-2,2l-1.5,2l-1.5,2.5l-1.5,3.5l-0.5,5l-0.5,6l0,7l0,5.5l0,4M338.5,667.5l-3,-0.5l-3.5,0l-4.5,-0.5l-4.5,-0.5l-4,-1.5l-4,-2l-4,-3l-4,-3l-4,-3.5l-3.5,-2.5l-3,-2.5l-3.5,-2l-2.5,-1.5l-2.5,-2l-1,-2l-0.5,-2.5l0.5,-3l1.5,-2.5l1.5,-3l2,-2l3,-2l4.5,-2l4,-1.5l4,-1l2.5,-1M421.5,611.5l3,-3.5l4,-5.5l5,-6l5,-5.5l5,-4.5l5.5,-2l6,-0.5l6,-0.5l5.5,-0.5l3.5,-1.5l1.5,-2.5l0.5,-4l-0.5,-4l-1,-3.5l-0.5,-2.5l0,-1.5l0,-0.5l0,-0.5l0,0.5l0,1.5l0,2.5l0,4l0,4.5l0,4l0,3M452.5,644.5l0.5,-3l0.5,-4.5l0.5,-4.5l0.5,-5l1,-4l1,-3l0.5,-2l1,-2.5l1,-3l1,-3.5l1,-5.5l0.5,-6.5l0.5,-7l1,-7l1,-5.5l1,-5l1.5,-4.5l1.5,-4l1,-2.5l1,-2l0.5,0l0,1l0,2l-0.5,2l0,1M314,682l-2.5,-2l-4,-3.5l-4.5,-3.5l-4.5,-2.5l-4,-1.5l-3.5,0l-4,1.5l-3.5,2l-3.5,2l-3.5,1.5l-3.5,1l-4,1l-4,0.5l-3,1.5l-2,2l-0.5,4l0.5,4.5l1.5,5.5l1.5,5l0.5,5l0,4.5l0,4.5l-0.5,4l0,3.5l-0.5,2.5M271,626l-1.5,-1.5l-2.5,-2.5l-3,-3l-2.5,-2l-1.5,-1l-0.5,1l-0.5,2l0.5,2.5l0.5,2.5l0,1.5l0,1.5l0,0.5l0,1l0,0.5l0,0.5l0,0.5l0,0.5l0,0.5l0,1l0,1.5l0,3l0,3l0,2.5l0,1.5M425,635l-2.5,1.5l-3.5,2l-4,2l-4.5,2l-4.5,2l-4.5,1l-5,1l-5,1l-5,1l-4.5,2l-4.5,2.5l-4,3l-4,3.5l-4,3.5l-3,3.5l-3,4l-2,4.5l-2,4l-1.5,4.5l-1,3.5l-0.5,3.5l0,3.5l0.5,3l0,2.5l0.5,2M274,710.5l-1,2l-1,3.5l-1.5,3.5l-1.5,3.5l-1.5,2l-1.5,1l-2,0l-1.5,-0.5l-1.5,-0.5l-1,0l-0.5,0.5l0,0.5l0,0.5l0.5,0l0,-1.5l0,-3.5l0,-4.5l0,-5.5l0,-5.5l0,-4.5l0,-3.5l0,-3.5l0,-3l0,-2.5l0,-1.5M272.5,678l-1.5,4l-3,5.5l-3,6l-3,6.5l-2,5.5l-1,4.5l0,4.5l0.5,4.5l0.5,3.5l0,2.5l0,1.5l0,-0.5l0,-0.5l0,-0.5M416.5,661.5l3,0.5l4.5,0l5,0.5l5,1l5,1.5l4.5,3.5l5,4l4.5,4.5l4.5,4.5l3.5,4.5l3,4l2,4l1.5,4l1.5,3.5l1,3l0.5,3l0,2.5l0,2.5l-0.5,1.5l0,-1.5l0,-3l0,-3.5l0,-3l0,-2.5" fill="none" stroke="#197e66" stroke-width="3.8" stroke-linecap="round" stroke-linejoin="round"/>
<path d="M398,580.5l-1.5,-1l-2,-1.5l-3,-2l-3,-2.5l-3.5,-2l-4.5,-2l-5,-3l-5,-2.5l-5.5,-2l-5,-0.5l-5.5,1l-6,2.5l-6,3.5l-5,4l-3.5,4l-2,5l-1.5,6l0,6l1,5l2.5,4l5.5,2l7.5,1l8.5,0l7.5,0l5,0M370.5,599.5l2.5,-2l2.5,-2.5l3.5,-3l4,-2.5l3,-1l4,0l4,0.5l4,2l3,2.5l2,3.5l-0.5,5l-2,7l-3,7.5l-2.5,7l-2.5,5.5l-2,4l-2,2l-1.5,2l-1.5,2.5l-1.5,3.5l-0.5,5l-0.5,6l0,7l0,5.5l0,4M338.5,667.5l-3,-0.5l-3.5,0l-4.5,-0.5l-4.5,-0.5l-4,-1.5l-4,-2l-4,-3l-4,-3l-4,-3.5l-3.5,-2.5l-3,-2.5l-3.5,-2l-2.5,-1.5l-2.5,-2l-1,-2l-0.5,-2.5l0.5,-3l1.5,-2.5l1.5,-3l2,-2l3,-2l4.5,-2l4,-1.5l4,-1l2.5,-1M421.5,611.5l3,-3.5l4,-5.5l5,-6l5,-5.5l5,-4.5l5.5,-2l6,-0.5l6,-0.5l5.5,-0.5l3.5,-1.5l1.5,-2.5l0.5,-4l-0.5,-4l-1,-3.5l-0.5,-2.5l0,-1.5l0,-0.5l0,-0.5l0,0.5l0,1.5l0,2.5l0,4l0,4.5l0,4l0,3M452.5,644.5l0.5,-3l0.5,-4.5l0.5,-4.5l0.5,-5l1,-4l1,-3l0.5,-2l1,-2.5l1,-3l1,-3.5l1,-5.5l0.5,-6.5l0.5,-7l1,-7l1,-5.5l1,-5l1.5,-4.5l1.5,-4l1,-2.5l1,-2l0.5,0l0,1l0,2l-0.5,2l0,1M314,682l-2.5,-2l-4,-3.5l-4.5,-3.5l-4.5,-2.5l-4,-1.5l-3.5,0l-4,1.5l-3.5,2l-3.5,2l-3.5,1.5l-3.5,1l-4,1l-4,0.5l-3,1.5l-2,2l-0.5,4l0.5,4.5l1.5,5.5l1.5,5l0.5,5l0,4.5l0,4.5l-0.5,4l0,3.5l-0.5,2.5M271,626l-1.5,-1.5l-2.5,-2.5l-3,-3l-2.5,-2l-1.5,-1l-0.5,1l-0.5,2l0.5,2.5l0.5,2.5l0,1.5l0,1.5l0,0.5l0,1l0,0.5l0,0.5l0,0.5l0,0.5l0,0.5l0,1l0,1.5l0,3l0,3l0,2.5l0,1.5M425,635l-2.5,1.5l-3.5,2l-4,2l-4.5,2l-4.5,2l-4.5,1l-5,1l-5,1l-5,1l-4.5,2l-4.5,2.5l-4,3l-4,3.5l-4,3.5l-3,3.5l-3,4l-2,4.5l-2,4l-1.5,4.5l-1,3.5l-0.5,3.5l0,3.5l0.5,3l0,2.5l0.5,2M274,710.5l-1,2l-1,3.5l-1.5,3.5l-1.5,3.5l-1.5,2l-1.5,1l-2,0l-1.5,-0.5l-1.5,-0.5l-1,0l-0.5,0.5l0,0.5l0,0.5l0.5,0l0,-1.5l0,-3.5l0,-4.5l0,-5.5l0,-5.5l0,-4.5l0,-3.5l0,-3.5l0,-3l0,-2.5l0,-1.5M272.5,678l-1.5,4l-3,5.5l-3,6l-3,6.5l-2,5.5l-1,4.5l0,4.5l0.5,4.5l0.5,3.5l0,2.5l0,1.5l0,-0.5l0,-0.5l0,-0.5M416.5,661.5l3,0.5l4.5,0l5,0.5l5,1l5,1.5l4.5,3.5l5,4l4.5,4.5l4.5,4.5l3.5,4.5l3,4l2,4l1.5,4l1.5,3.5l1,3l0.5,3l0,2.5l0,2.5l-0.5,1.5l0,-1.5l0,-3l0,-3.5l0,-3l0,-2.5" fill="none" stroke="#2ad2aa" stroke-width="2.6" stroke-linecap="round" stroke-linejoin="round"/>
<path d="M523,672.5l1.5,-2.5l1.5,-3l2,-4l2.5,-4l2,-4l2.5,-3.5l2.5,-3l3,-3.5l2,-3.5l1.5,-4.5l0,-5l-1,-6l-1.5,-6l-2,-6l-2.5,-5l-4,-3.5l-5.5,-3l-5.5,-2.5l-5.5,-2.5l-4,-3l-3.5,-3.5l-2.5,-4l-2,-4l-1.5,-3.5l-1,-2M584.5,608.5l1.5,-1l2.5,-1.5l3,-1.5l3.5,-2l3,-1.5l2.5,-2l3,-2l3,-2.5l3,-2l2.5,-2l2,-2l2.5,-1.5l2,-1.5l1,-2l0.5,-3l-1,-3.5l-2.5,-5l-3.5,-4.5l-2.5,-4.5l-1.5,-3l0,-1.5l0.5,0l1,0.5l1.5,0.5l0.5,0.5M539.5,668l1.5,-5l2,-7.5l2,-8l3,-7l3.5,-4l5,-0.5l6,2l6.5,3l6,3.5l5.5,1.5l4,1l3.5,0l3.5,0l3,-1l3,-2.5l3.5,-4.5l3.5,-6l3.5,-7l2.5,-6.5l1,-5l-2,-4l-4,-3l-5,-2.5l-4.5,-1.5l-3,-1.5M591,593l4,-0.5l6.5,-0.5l6.5,0l6.5,0l4.5,0l2,1l0.5,2l-0.5,1.5l-0.5,1.5l-0.5,-0.5l0,-2l0,-3.5l0,-4l0,-4l0,-4l0,-3.5l0,-3.5l0,-3.5l0,-3l0,-2.5l0,-1.5l0,-1l0,-0.5l0,-0.5l0,-0.5M588.5,706l2,-0.5l3.5,-1l4,-1l4,-1.5l3.5,-1.5l3,-2l3.5,-2.5l3.5,-3l2.5,-2.5l2,-1.5l1,-1l0,0.5l-0.5,0l-0.5,0.5l0,-1l0,-2l0,-1.5l0,-1.5l0,-0.5l0,1.5l0,2l0,3l0,2.5l0,2M519,634l-1,-2l-1,-2.5l-1,-3.5l-1.5,-2.5l-2.5,-2.5l-2.5,-1l-3,-0.5l-3.5,0l-4,0l-4.5,0l-5.5,0.5l-7,1l-7,1l-7,0.5l-5.5,-0.5l-5,-1.5l-4,-3l-3.5,-3.5l-3,-3l-2.5,-2.5l-2,-1.5l-1,-1l-0.5,-0.5l-0.5,-0.5l-0.5,-0.5M556,667l-2.5,-3.5l-4,-5.5l-4.5,-6.5l-3,-5.5l-1.5,-5l2.5,-3l4.5,-2.5l5.5,-2.5l5,-2l3,-2l0.5,-3l-1.5,-3l-2,-3.5l-2,-3l0,-2.5l1.5,-2.5l2,-2.5l3,-2.5l3.5,-1.5l4,-0.5l5.5,0.5l6,1.5l7,2.5l5.5,2l4,1M513,594.5l3.5,0l6,-0.5l6,0l6,0.5l5,1.5l2.5,3.5l1.5,5l1.5,5l1.5,4.5l3,3l5,1l6,-0.5l7,-1l6.5,-1.5l6,-1l5,-1l5,-0.5l4.5,-1l4.5,0l3.5,0l3,1.5l3,2l2,2l2,2l1,1.5M472.5,565l0,2.5l0,4l0,4.5l0.5,4l1,2.5l2,1l3,0.5l3,0l3.5,-0.5l3.5,-1l4,-1.5l5,-2l4.5,-2l4,-2.5l3,-2.5l1.5,-2.5l0,-2.5l-0.5,-3l0,-2.5l0.5,-1.5l1.5,-1l2.5,0l2.5,0.5l2,0.5l1.5,0" fill="none" stroke="#197e66" stroke-width="3.8" stroke-linecap="round" stroke-linejoin="round"/>
<path d="M523,672.5l1.5,-2.5l1.5,-3l2,-4l2.5,-4l2,-4l2.5,-3.5l2.5,-3l3,-3.5l2,-3.5l1.5,-4.5l0,-5l-1,-6l-1.5,-6l-2,-6l-2.5,-5l-4,-3.5l-5.5,-3l-5.5,-2.5l-5.5,-2.5l-4,-3l-3.5,-3.5l-2.5,-4l-2,-4l-1.5,-3.5l-1,-2M584.5,608.5l1.5,-1l2.5,-1.5l3,-1.5l3.5,-2l3,-1.5l2.5,-2l3,-2l3,-2.5l3,-2l2.5,-2l2,-2l2.5,-1.5l2,-1.5l1,-2l0.5,-3l-1,-3.5l-2.5,-5l-3.5,-4.5l-2.5,-4.5l-1.5,-3l0,-1.5l0.5,0l1,0.5l1.5,0.5l0.5,0.5M539.5,668l1.5,-5l2,-7.5l2,-8l3,-7l3.5,-4l5,-0.5l6,2l6.5,3l6,3.5l5.5,1.5l4,1l3.5,0l3.5,0l3,-1l3,-2.5l3.5,-4.5l3.5,-6l3.5,-7l2.5,-6.5l1,-5l-2,-4l-4,-3l-5,-2.5l-4.5,-1.5l-3,-1.5M591,593l4,-0.5l6.5,-0.5l6.5,0l6.5,0l4.5,0l2,1l0.5,2l-0.5,1.5l-0.5,1.5l-0.5,-0.5l0,-2l0,-3.5l0,-4l0,-4l0,-4l0,-3.5l0,-3.5l0,-3.5l0,-3l0,-2.5l0,-1.5l0,-1l0,-0.5l0,-0.5l0,-0.5M588.5,706l2,-0.5l3.5,-1l4,-1l4,-1.5l3.5,-1.5l3,-2l3.5,-2.5l3.5,-3l2.5,-2.5l2,-1.5l1,-1l0,0.5l-0.5,0l-0.5,0.5l0,-1l0,-2l0,-1.5l0,-1.5l0,-0.5l0,1.5l0,2l0,3l0,2.5l0,2M519,634l-1,-2l-1,-2.5l-1,-3.5l-1.5,-2.5l-2.5,-2.5l-2.5,-1l-3,-0.5l-3.5,0l-4,0l-4.5,0l-5.5,0.5l-7,1l-7,1l-7,0.5l-5.5,-0.5l-5,-1.5l-4,-3l-3.5,-3.5l-3,-3l-2.5,-2.5l-2,-1.5l-1,-1l-0.5,-0.5l-0.5,-0.5l-0.5,-0.5M556,667l-2.5,-3.5l-4,-5.5l-4.5,-6.5l-3,-5.5l-1.5,-5l2.5,-3l4.5,-2.5l5.5,-2.5l5,-2l3,-2l0.5,-3l-1.5,-3l-2,-3.5l-2,-3l0,-2.5l1.5,-2.5l2,-2.5l3,-2.5l3.5,-1.5l4,-0.5l5.5,0.5l6,1.5l7,2.5l5.5,2l4,1M513,594.5l3.5,0l6,-0.5l6,0l6,0.5l5,1.5l2.5,3.5l1.5,5l1.5,5l1.5,4.5l3,3l5,1l6,-0.5l7,-1l6.5,-1.5l6,-1l5,-1l5,-0.5l4.5,-1l4.5,0l3.5,0l3,1.5l3,2l2,2l2,2l1,1.5M472.5,565l0,2.5l0,4l0,4.5l0.5,4l1,2.5l2,1l3,0.5l3,0l3.5,-0.5l3.5,-1l4,-1.5l5,-2l4.5,-2l4,-2.5l3,-2.5l1.5,-2.5l0,-2.5l-0.5,-3l0,-2.5l0.5,-1.5l1.5,-1l2.5,0l2.5,0.5l2,0.5l1.5,0" fill="none" stroke="#2ad2aa" stroke-width="2.6" stroke-linecap="round" stroke-linejoin="round"/>
<path d="M669.5,348.5l-1,4l-1.5,5.5l-2,6l-2,6l-3,4.5l-3,2.5l-3.5,2l-4,1l-4.5,1l-3.5,0l-4,0l-4.5,0l-4,-1l-3.5,-1l-2.5,-1.5l-1.5,-2.5l-1,-3l0,-3.5l0,-3.5l0,-4l0.5,-3.5l0.5,-4l1,-4.5l0.5,-3.5l0.5,-2.5M627.5,408l1.5,5l2.5,6.5l2.5,7.5l2,6.5l0.5,5l-1.5,2.5l-3.5,1l-4,0l-3.5,0.5l-2,1.5l-0.5,3.5l1.5,4.5l1.5,5l1,5l-1,3.5l-3.5,2l-5.5,1l-6.5,0.5l-6.5,1.5l-5.5,2l-5.5,3.5l-6,5l-5.5,5.5l-4.5,4.5l-3.5,3.5M746.5,415l3,2l5,3l5,3.5l5,4l3.5,5l1.5,6l1,6.5l0.5,7l-1,7l-1,6l-2.5,5l-3,4l-4,4l-4,4l-3.5,4.5l-4,5l-4,5.5l-4,6l-3.5,6l-2,5.5l-0.5,6.5l1,7.5l2,7l1.5,6l1,4M610,361.5l-3.5,1.5l-6,2l-6,3l-6,3l-4,2.5l-2.5,3.5l-1,3l-0.5,3.5l-0.5,3.5l-1,2.5l-2.5,3l-3,2.5l-3,2l-3,1.5l-2.5,0.5l-1.5,-1l-1.5,-2l-1,-2.5l-0.5,-3l-0.5,-2.5l-0.5,-3.5l0,-4l0.5,-4l0,-3.5l0,-2.5M695,574l3,-1.5l3.5,-3l4,-3l4.5,-3.5l4,-3.5l3.5,-4l3,-5l3,-5l4,-4.5l4,-3.5l5,-1.5l5.5,-0.5l6,0.5l5.5,0.5l4.5,-0.5l3.5,-0.5l3,-0.5l2.5,-0.5l1.5,-1l1.5,-1l1,-2l0,-2.5l-0.5,-2.5l-0.5,-2.5l0,-1.5M570.5,351l3,0.5l4.5,0.5l5.5,1l4.5,1.5l3,1.5l1,2.5l-1,2.5l-1,3l-1,3.5l0,3.5l1,4l1,4l1.5,4.5l2.5,4l3.5,3.5l4.5,3l6,2.5l6.5,2l6,1.5l5.5,0.5l5,-1l5,-2l5,-3l3.5,-2.5l3,-1.5M763.5,442.5l-1,4l-1.5,6.5l-2,7l-1.5,7l-1,5.5l0,4l0.5,2.5l1,2.5l1,2.5l1.5,3.5l1.5,5l2,6l2.5,6l2,5.5l1.5,4l0.5,2l0,1l0,-0.5l-0.5,-1l0,-2l0,-4.5l0,-6l0,-6.5l0,-6l0,-4M736,332.5l4,0l6.5,0.5l7,0l6.5,-0.5l5,-2l2.5,-3.5l1,-5l0.5,-6l0,-5.5l0.5,-4.5l0.5,-4.5l0,-4l0,-4l0,-2.5l0,-1l0,1l0.5,2l0.5,3.5l-0.5,4.5l-0.5,4.5l-1.5,6l-2.5,7l-2.5,7.5l-2.5,7l-1.5,4.5M768.5,552l-3.5,1.5l-5.5,2l-5.5,2.5l-4.5,3.5l-2.5,3.5l1,4.5l3,6l4,6l4.5,5.5l3,3.5l2,2l2,1.5l1.5,0l1,-0.5l1,-2l0.5,-4l0,-5.5l0,-6l-0.5,-6.5l0,-5.5l0,-5l0,-4.5l0,-4.5l0,-4l0,-2.5M571,506.5l4,-2l5.5,-2.5l6,-3l6.5,-3.5l5,-2.5l4,-2.5l3.5,-3l3,-2.5l3,-2l3,-0.5l3.5,0.5l4,1.5l3.5,2l3,3l1.5,2.5l-0.5,2.5l-2.5,3l-3,3l-3,4l-1,4.5l1,5.5l2,7l3,7l2.5,6l1.5,4.5M564,563l-0.5,-3l-1,-4.5l-1,-5l-1,-5l-0.5,-4l0,-3.5l-0.5,-3l0.5,-2.5l0,-2l0,-1l0,-0.5l0,0.5l0,1.5l0,2l0,2.5l0,3l0,4.5l-0.5,5l0.5,4.5l0,4.5l0.5,3.5l1,3.5l0.5,3.5l1,3l0.5,1.5M713.5,294.5l-2,-0.5l-2.5,-1l-3,-1.5l-3.5,-1l-3,-0.5l-3,-0.5l-3,0l-3,0.5l-3.5,0l-4,0l-4.5,0l-4.5,0l-5.5,0l-5,0l-4.5,0l-4.5,0l-4,0l-4,0l-3.5,0l-3.5,0l-3,0l-2.5,0l-2.5,0l-2,0l-1.5,0M646.5,415.5l-1,5l-1,7l-1.5,8l-2,7.5l-1.5,5.5l-1.5,4l-2.5,2l-2,2l-1.5,2l-1,3l-0.5,4.5l0,5l1,5.5l1.5,4.5l2.5,4l4,1.5l5.5,0.5l5.5,0l6,0l5.5,1.5l4.5,3l4.5,4l4,4.5l3.5,4l2.5,2.5M675.5,371.5l0.5,3.5l0.5,5l0.5,5.5l0.5,5.5l-1.5,4l-2.5,3l-3.5,2l-4,2l-4.5,1l-4,0.5l-4,0l-4,-1l-4,-1.5l-4.5,-1.5l-5,-1.5l-6,-1.5l-6.5,-1.5l-7,-1.5l-6.5,-0.5l-6.5,0.5l-6,2l-6,4l-6,4.5l-5,4l-3.5,2.5M580.5,521.5l-2,-0.5l-3,0l-3.5,-0.5l-3.5,-1.5l-2.5,-2.5l-2.5,-4.5l-2,-6.5l-2,-7l-0.5,-6.5l1,-5l3.5,-2.5l6,-1.5l6.5,-0.5l6.5,-1.5l4.5,-2.5l3.5,-4l2,-5l1.5,-5.5l1,-6l0,-6l-1.5,-6.5l-2,-7.5l-3,-7.5l-2.5,-6l-2,-4.5M731.5,465l4,0.5l6,0.5l6,0.5l6,1l4,2l1,2l0,3l-1,3.5l-1,4l0.5,4l2.5,4.5l3.5,4.5l4,5l2.5,4.5l0.5,5l-3,4l-6,4l-6.5,4l-6.5,4l-5,4.5l-2.5,5.5l-1.5,6.5l-1,6.5l-0.5,5.5l-0.5,4" fill="none" stroke="#1e7e1e" stroke-width="3.8" stroke-linecap="round" stroke-linejoin="round"/>
<path d="M669.5,348.5l-1,4l-1.5,5.5l-2,6l-2,6l-3,4.5l-3,2.5l-3.5,2l-4,1l-4.5,1l-3.5,0l-4,0l-4.5,0l-4,-1l-3.5,-1l-2.5,-1.5l-1.5,-2.5l-1,-3l0,-3.5l0,-3.5l0,-4l0.5,-3.5l0.5,-4l1,-4.5l0.5,-3.5l0.5,-2.5M627.5,408l1.5,5l2.5,6.5l2.5,7.5l2,6.5l0.5,5l-1.5,2.5l-3.5,1l-4,0l-3.5,0.5l-2,1.5l-0.5,3.5l1.5,4.5l1.5,5l1,5l-1,3.5l-3.5,2l-5.5,1l-6.5,0.5l-6.5,1.5l-5.5,2l-5.5,3.5l-6,5l-5.5,5.5l-4.5,4.5l-3.5,3.5M746.5,415l3,2l5,3l5,3.5l5,4l3.5,5l1.5,6l1,6.5l0.5,7l-1,7l-1,6l-2.5,5l-3,4l-4,4l-4,4l-3.5,4.5l-4,5l-4,5.5l-4,6l-3.5,6l-2,5.5l-0.5,6.5l1,7.5l2,7l1.5,6l1,4M610,361.5l-3.5,1.5l-6,2l-6,3l-6,3l-4,2.5l-2.5,3.5l-1,3l-0.5,3.5l-0.5,3.5l-1,2.5l-2.5,3l-3,2.5l-3,2l-3,1.5l-2.5,0.5l-1.5,-1l-1.5,-2l-1,-2.5l-0.5,-3l-0.5,-2.5l-0.5,-3.5l0,-4l0.5,-4l0,-3.5l0,-2.5M695,574l3,-1.5l3.5,-3l4,-3l4.5,-3.5l4,-3.5l3.5,-4l3,-5l3,-5l4,-4.5l4,-3.5l5,-1.5l5.5,-0.5l6,0.5l5.5,0.5l4.5,-0.5l3.5,-0.5l3,-0.5l2.5,-0.5l1.5,-1l1.5,-1l1,-2l0,-2.5l-0.5,-2.5l-0.5,-2.5l0,-1.5M570.5,351l3,0.5l4.5,0.5l5.5,1l4.5,1.5l3,1.5l1,2.5l-1,2.5l-1,3l-1,3.5l0,3.5l1,4l1,4l1.5,4.5l2.5,4l3.5,3.5l4.5,3l6,2.5l6.5,2l6,1.5l5.5,0.5l5,-1l5,-2l5,-3l3.5,-2.5l3,-1.5M763.5,442.5l-1,4l-1.5,6.5l-2,7l-1.5,7l-1,5.5l0,4l0.5,2.5l1,2.5l1,2.5l1.5,3.5l1.5,5l2,6l2.5,6l2,5.5l1.5,4l0.5,2l0,1l0,-0.5l-0.5,-1l0,-2l0,-4.5l0,-6l0,-6.5l0,-6l0,-4M736,332.5l4,0l6.5,0.5l7,0l6.5,-0.5l5,-2l2.5,-3.5l1,-5l0.5,-6l0,-5.5l0.5,-4.5l0.5,-4.5l0,-4l0,-4l0,-2.5l0,-1l0,1l0.5,2l0.5,3.5l-0.5,4.5l-0.5,4.5l-1.5,6l-2.5,7l-2.5,7.5l-2.5,7l-1.5,4.5M768.5,552l-3.5,1.5l-5.5,2l-5.5,2.5l-4.5,3.5l-2.5,3.5l1,4.5l3,6l4,6l4.5,5.5l3,3.5l2,2l2,1.5l1.5,0l1,-0.5l1,-2l0.5,-4l0,-5.5l0,-6l-0.5,-6.5l0,-5.5l0,-5l0,-4.5l0,-4.5l0,-4l0,-2.5M571,506.5l4,-2l5.5,-2.5l6,-3l6.5,-3.5l5,-2.5l4,-2.5l3.5,-3l3,-2.5l3,-2l3,-0.5l3.5,0.5l4,1.5l3.5,2l3,3l1.5,2.5l-0.5,2.5l-2.5,3l-3,3l-3,4l-1,4.5l1,5.5l2,7l3,7l2.5,6l1.5,4.5M564,563l-0.5,-3l-1,-4.5l-1,-5l-1,-5l-0.5,-4l0,-3.5l-0.5,-3l0.5,-2.5l0,-2l0,-1l0,-0.5l0,0.5l0,1.5l0,2l0,2.5l0,3l0,4.5l-0.5,5l0.5,4.5l0,4.5l0.5,3.5l1,3.5l0.5,3.5l1,3l0.5,1.5M713.5,294.5l-2,-0.5l-2.5,-1l-3,-1.5l-3.5,-1l-3,-0.5l-3,-0.5l-3,0l-3,0.5l-3.5,0l-4,0l-4.5,0l-4.5,0l-5.5,0l-5,0l-4.5,0l-4.5,0l-4,0l-4,0l-3.5,0l-3.5,0l-3,0l-2.5,0l-2.5,0l-2,0l-1.5,0M646.5,415.5l-1,5l-1,7l-1.5,8l-2,7.5l-1.5,5.5l-1.5,4l-2.5,2l-2,2l-1.5,2l-1,3l-0.5,4.5l0,5l1,5.5l1.5,4.5l2.5,4l4,1.5l5.5,0.5l5.5,0l6,0l5.5,1.5l4.5,3l4.5,4l4,4.5l3.5,4l2.5,2.5M675.5,371.5l0.5,3.5l0.5,5l0.5,5.5l0.5,5.5l-1.5,4l-2.5,3l-3.5,2l-4,2l-4.5,1l-4,0.5l-4,0l-4,-1l-4,-1.5l-4.5,-1.5l-5,-1.5l-6,-1.5l-6.5,-1.5l-7,-1.5l-6.5,-0.5l-6.5,0.5l-6,2l-6,4l-6,4.5l-5,4l-3.5,2.5M580.5,521.5l-2,-0.5l-3,0l-3.5,-0.5l-3.5,-1.5l-2.5,-2.5l-2.5,-4.5l-2,-6.5l-2,-7l-0.5,-6.5l1,-5l3.5,-2.5l6,-1.5l6.5,-0.5l6.5,-1.5l4.5,-2.5l3.5,-4l2,-5l1.5,-5.5l1,-6l0,-6l-1.5,-6.5l-2,-7.5l-3,-7.5l-2.5,-6l-2,-4.5M731.5,465l4,0.5l6,0.5l6,0.5l6,1l4,2l1,2l0,3l-1,3.5l-1,4l0.5,4l2.5,4.5l3.5,4.5l4,5l2.5,4.5l0.5,5l-3,4l-6,4l-6.5,4l-6.5,4l-5,4.5l-2.5,5.5l-1.5,6.5l-1,6.5l-0.5,5.5l-0.5,4" fill="none" stroke="#32d232" stroke-width="2.6" stroke-linecap="round" stroke-linejoin="round"/>
<path d="M621,532l-3,-1.5l-5,-2l-5,-2l-4.5,-2l-3.5,-1.5l-1,-0.5l-0.5,0l0.5,0l0.5,0.5l0.5,1l0,2l0,2.5l0,2.5l0,2.5l0,1.5l0,0.5l0,-0.5l0,0.5l0,2l0,2.5l0,3l0,3l0,1.5M706,631.5l2.5,1l3,1.5l3.5,1l3.5,1l2.5,-0.5l2.5,-2l2,-4l2,-4l1.5,-3.5l1,-1l0.5,1l0.5,2.5l0,3.5l-0.5,4l-0.5,3l-0.5,3l-1,2.5l-1,3l-1.5,2l-2,2l-3,1.5l-4,1.5l-4.5,0.5l-3.5,1l-2.5,0.5M669.5,576.5l-3,-2.5l-4.5,-4l-5,-4.5l-5,-3.5l-4.5,-2l-4,-0.5l-4,1.5l-3.5,1.5l-3.5,2l-3,0.5l-3,-1l-2.5,-2l-2.5,-2l-2.5,-2l-2,0l-2,1l-1.5,2l-2,2.5l-1.5,3l-1.5,2l-2,2l-2,2l-2,1.5l-1.5,1.5l-1,1M660.5,600l1.5,-1.5l2,-2l3,-2l2.5,-2.5l2.5,-2.5l3,-1.5l3,-2l2.5,-2l3,-2.5l2.5,-2.5l2,-4l1.5,-5l1.5,-5l1.5,-4l2,-3l2.5,-1l3,0.5l3,1l3,0.5l2.5,0l1.5,-2l2,-3.5l1,-3.5l1,-3l1,-2M707,595l1,-1.5l1.5,-2.5l2,-3l2,-2.5l2.5,-2l2.5,-2l3.5,-2l3,-1.5l3,-1l1.5,0l1,1l0.5,2l-0.5,2.5l-0.5,2l0,0.5l0,-1l0,-2.5l0,-2.5l0,-2l0,-1l0,2l0,3l0,3.5l0,3.5l0,2.5M660.5,646.5l2.5,0l3.5,-0.5l4.5,0l4,0l3.5,0.5l3.5,0.5l3,0.5l2.5,1l3,1.5l2.5,2.5l2.5,4l2,5.5l2.5,5.5l2,5.5l2.5,4.5l2.5,4l3,3l2.5,3l2.5,2l2.5,0.5l3,-0.5l3,-2.5l2.5,-3.5l2.5,-2.5l1.5,-2" fill="none" stroke="#55861c" stroke-width="3.8" stroke-linecap="round" stroke-linejoin="round"/>
<path d="M621,532l-3,-1.5l-5,-2l-5,-2l-4.5,-2l-3.5,-1.5l-1,-0.5l-0.5,0l0.5,0l0.5,0.5l0.5,1l0,2l0,2.5l0,2.5l0,2.5l0,1.5l0,0.5l0,-0.5l0,0.5l0,2l0,2.5l0,3l0,3l0,1.5M706,631.5l2.5,1l3,1.5l3.5,1l3.5,1l2.5,-0.5l2.5,-2l2,-4l2,-4l1.5,-3.5l1,-1l0.5,1l0.5,2.5l0,3.5l-0.5,4l-0.5,3l-0.5,3l-1,2.5l-1,3l-1.5,2l-2,2l-3,1.5l-4,1.5l-4.5,0.5l-3.5,1l-2.5,0.5M669.5,576.5l-3,-2.5l-4.5,-4l-5,-4.5l-5,-3.5l-4.5,-2l-4,-0.5l-4,1.5l-3.5,1.5l-3.5,2l-3,0.5l-3,-1l-2.5,-2l-2.5,-2l-2.5,-2l-2,0l-2,1l-1.5,2l-2,2.5l-1.5,3l-1.5,2l-2,2l-2,2l-2,1.5l-1.5,1.5l-1,1M660.5,600l1.5,-1.5l2,-2l3,-2l2.5,-2.5l2.5,-2.5l3,-1.5l3,-2l2.5,-2l3,-2.5l2.5,-2.5l2,-4l1.5,-5l1.5,-5l1.5,-4l2,-3l2.5,-1l3,0.5l3,1l3,0.5l2.5,0l1.5,-2l2,-3.5l1,-3.5l1,-3l1,-2M707,595l1,-1.5l1.5,-2.5l2,-3l2,-2.5l2.5,-2l2.5,-2l3.5,-2l3,-1.5l3,-1l1.5,0l1,1l0.5,2l-0.5,2.5l-0.5,2l0,0.5l0,-1l0,-2.5l0,-2.5l0,-2l0,-1l0,2l0,3l0,3.5l0,3.5l0,2.5M660.5,646.5l2.5,0l3.5,-0.5l4.5,0l4,0l3.5,0.5l3.5,0.5l3,0.5l2.5,1l3,1.5l2.5,2.5l2.5,4l2,5.5l2.5,5.5l2,5.5l2.5,4.5l2.5,4l3,3l2.5,3l2.5,2l2.5,0.5l3,-0.5l3,-2.5l2.5,-3.5l2.5,-2.5l1.5,-2" fill="none" stroke="#8ee030" stroke-width="2.6" stroke-linecap="round" stroke-linejoin="round"/>
<path d="M264.5,465l-2.5,0l-3.5,-0.5l-4,0l-4,-0.5l-4,0l-3.5,-1l-4,-1l-3.5,-1l-3.5,-1l-2,0.5l-1,1.5l0,2.5l0,3l0.5,2l0.5,0.5l0,-1.5l0,-3.5l0,-4l0,-3.5l0,-2.5M246.5,458.5l-2,2l-3,2.5l-3,2.5l-2.5,3l-2,1.5l-0.5,0.5l-0.5,0.5l0,-0.5l1,-0.5l1.5,0l3,0.5l4.5,0.5l5,1l4.5,-0.5l4,-1.5l3,-3.5l3,-5.5l2,-6.5l2,-5.5l1.5,-3.5M240,459l0.5,1.5l1.5,2l1.5,2.5l1.5,2.5l2,1.5l2,1l3,0l3,0l2,0l1,0l-0.5,0l-1.5,0.5l-2,0l-3,0l-2.5,-0.5l-3.5,-1l-4,-1.5l-4.5,-1.5l-4,-1.5l-2.5,-1M286.5,402l4,0l5.5,0.5l6.5,0.5l6,0l4.5,-1l2.5,-2l2,-3l1,-3.5l1,-3.5l0.5,-1.5l0.5,0l0,1l0,1.5l-0.5,1l0,-1l0,-2l0,-2.5l0,-2l0,-1.5M302.5,462.5l0.5,1l0.5,2l0.5,1.5l1,2l1.5,1l2,0.5l3,1l3.5,0l3,-0.5l2,-1l1,-2.5l0,-3l-0.5,-4l-0.5,-4l0,-3.5l0,-3l0,-4l0,-3l0,-3l0,-2" fill="none" stroke="#648b56" stroke-width="3.4000000000000004" stroke-linecap="round" stroke-linejoin="round"/>
<path d="M264.5,465l-2.5,0l-3.5,-0.5l-4,0l-4,-0.5l-4,0l-3.5,-1l-4,-1l-3.5,-1l-3.5,-1l-2,0.5l-1,1.5l0,2.5l0,3l0.5,2l0.5,0.5l0,-1.5l0,-3.5l0,-4l0,-3.5l0,-2.5M246.5,458.5l-2,2l-3,2.5l-3,2.5l-2.5,3l-2,1.5l-0.5,0.5l-0.5,0.5l0,-0.5l1,-0.5l1.5,0l3,0.5l4.5,0.5l5,1l4.5,-0.5l4,-1.5l3,-3.5l3,-5.5l2,-6.5l2,-5.5l1.5,-3.5M240,459l0.5,1.5l1.5,2l1.5,2.5l1.5,2.5l2,1.5l2,1l3,0l3,0l2,0l1,0l-0.5,0l-1.5,0.5l-2,0l-3,0l-2.5,-0.5l-3.5,-1l-4,-1.5l-4.5,-1.5l-4,-1.5l-2.5,-1M286.5,402l4,0l5.5,0.5l6.5,0.5l6,0l4.5,-1l2.5,-2l2,-3l1,-3.5l1,-3.5l0.5,-1.5l0.5,0l0,1l0,1.5l-0.5,1l0,-1l0,-2l0,-2.5l0,-2l0,-1.5M302.5,462.5l0.5,1l0.5,2l0.5,1.5l1,2l1.5,1l2,0.5l3,1l3.5,0l3,-0.5l2,-1l1,-2.5l0,-3l-0.5,-4l-0.5,-4l0,-3.5l0,-3l0,-4l0,-3l0,-3l0,-2" fill="none" stroke="#a8e890" stroke-width="2.2" stroke-linecap="round" stroke-linejoin="round"/>
<path d="M754.5,585.5l2,3l3.5,4.5l3.5,5l4,5l3.5,5l4.5,4.5l4.5,4.5l4.5,4.5l3.5,4.5l1,3.5l-1,3.5l-4,2.5l-4.5,2.5l-4.5,2.5l-3,3l-2,3l-1.5,3.5l-1,3l-0.5,3l-0.5,2M754,706l4,1l6,1.5l7,2l6.5,1.5l5,2l3,1l2,1.5l1.5,1.5l1,1l1.5,1l2,0.5l2,0l2,0l1.5,-0.5l1,0l0.5,0l-0.5,0M704,579l1,2.5l0.5,4l1.5,5l1.5,4.5l2,5l3.5,4.5l4,4.5l4.5,5l4,4.5l2.5,4.5l0.5,4.5l-0.5,5l-1.5,4.5l-1,4l0,3.5l1.5,2.5l2.5,2l2.5,1.5l2.5,1l1.5,1M743.5,704.5l2,-1l2.5,-1.5l3.5,-2l3.5,-2l3,-2.5l3,-2.5l3,-3l3,-3.5l2,-3.5l1.5,-3.5l0.5,-4.5l-0.5,-5l-1,-5l-1.5,-5l-2.5,-3.5l-3.5,-2l-5,-1l-5,-1l-4.5,0l-3,-0.5M742.5,610.5l3,-0.5l3.5,-0.5l4.5,-1l4,-1.5l3.5,-2l2.5,-2l2.5,-3l2,-3l2,-3.5l1.5,-3.5l1,-4l0.5,-4l0.5,-4l0,-4l-0.5,-3l-1.5,-3l-2,-2l-2.5,-2l-2,-1.5l-1.5,-1.5" fill="none" stroke="#8b8626" stroke-width="3.5999999999999996" stroke-linecap="round" stroke-linejoin="round"/>
<path d="M754.5,585.5l2,3l3.5,4.5l3.5,5l4,5l3.5,5l4.5,4.5l4.5,4.5l4.5,4.5l3.5,4.5l1,3.5l-1,3.5l-4,2.5l-4.5,2.5l-4.5,2.5l-3,3l-2,3l-1.5,3.5l-1,3l-0.5,3l-0.5,2M754,706l4,1l6,1.5l7,2l6.5,1.5l5,2l3,1l2,1.5l1.5,1.5l1,1l1.5,1l2,0.5l2,0l2,0l1.5,-0.5l1,0l0.5,0l-0.5,0M704,579l1,2.5l0.5,4l1.5,5l1.5,4.5l2,5l3.5,4.5l4,4.5l4.5,5l4,4.5l2.5,4.5l0.5,4.5l-0.5,5l-1.5,4.5l-1,4l0,3.5l1.5,2.5l2.5,2l2.5,1.5l2.5,1l1.5,1M743.5,704.5l2,-1l2.5,-1.5l3.5,-2l3.5,-2l3,-2.5l3,-2.5l3,-3l3,-3.5l2,-3.5l1.5,-3.5l0.5,-4.5l-0.5,-5l-1,-5l-1.5,-5l-2.5,-3.5l-3.5,-2l-5,-1l-5,-1l-4.5,0l-3,-0.5M742.5,610.5l3,-0.5l3.5,-0.5l4.5,-1l4,-1.5l3.5,-2l2.5,-2l2.5,-3l2,-3l2,-3.5l1.5,-3.5l1,-4l0.5,-4l0.5,-4l0,-4l-0.5,-3l-1.5,-3l-2,-2l-2.5,-2l-2,-1.5l-1.5,-1.5" fill="none" stroke="#e8e040" stroke-width="2.4" stroke-linecap="round" stroke-linejoin="round"/>
<path d="M175,300l-3.5,0.5l-4.5,0.5l-5.5,0.5l-6,1l-5.5,1.5l-5,2l-4.5,3l-4,3l-4,4l-4,4l-3.5,5l-3,5l-3,5.5l-2.5,6.5l-2.5,7l-2,7l-2,7l-2,7l-1.5,7l-1.5,7l-1.5,7l-1,7l-1,6.5l-0.5,5.5l0,5l0,4.5l0.5,4l0.5,3.5l0.5,3l0.5,2" fill="none" stroke="#0e217c" stroke-width="4.800000000000001" stroke-linecap="round" stroke-linejoin="round"/>
<path d="M175,300l-3.5,0.5l-4.5,0.5l-5.5,0.5l-6,1l-5.5,1.5l-5,2l-4.5,3l-4,3l-4,4l-4,4l-3.5,5l-3,5l-3,5.5l-2.5,6.5l-2.5,7l-2,7l-2,7l-2,7l-1.5,7l-1.5,7l-1.5,7l-1,7l-1,6.5l-0.5,5.5l0,5l0,4.5l0.5,4l0.5,3.5l0.5,3l0.5,2" fill="none" stroke="#1b3de2" stroke-width="3.2" stroke-linecap="round" stroke-linejoin="round"/>
<path d="M180,372l5.5,0l7,0.5l8.5,0l9.5,0.5l10,0l9.5,0l9.5,0l10.5,0l10.5,0l10.5,0l10,-1l9,-1l8,-2l7,-2l7,-2.5l6,-3l6,-3.5l6,-4l5.5,-4.5l5.5,-5l5,-5.5l5,-6l4.5,-5.5l4.5,-5.5l4,-5l3.5,-5.5l3.5,-5l3,-5l3,-5l3,-4.5l3,-4.5l3,-4l3,-4.5l3,-3.5l2.5,-3l1.5,-2.5" fill="none" stroke="#13266e" stroke-width="4.6" stroke-linecap="round" stroke-linejoin="round"/>
<path d="M180,372l5.5,0l7,0.5l8.5,0l9.5,0.5l10,0l9.5,0l9.5,0l10.5,0l10.5,0l10.5,0l10,-1l9,-1l8,-2l7,-2l7,-2.5l6,-3l6,-3.5l6,-4l5.5,-4.5l5.5,-5l5,-5.5l5,-6l4.5,-5.5l4.5,-5.5l4,-5l3.5,-5.5l3.5,-5l3,-5l3,-5l3,-4.5l3,-4.5l3,-4l3,-4.5l3,-3.5l2.5,-3l1.5,-2.5" fill="none" stroke="#2446c8" stroke-width="3.0" stroke-linecap="round" stroke-linejoin="round"/>
<path d="M99.5,419l1,4l1,5.5l1,6.5l1,6l1,5l1.5,5.5l1,4.5l-4,4l11.5,8.5l6.5,-12.5l-5.5,-2l-1,-4.5l-1,-5.5l-1,-5l-1,-5.5l-1.5,-6.5l-1,-5.5l-0.5,-4.5z" fill="#1b3de2" stroke="#0e217c" stroke-width="1.3" stroke-linejoin="round"/>
<path d="M95.5,465l-2.5,-3l-3.5,-4l-4.5,-5l-4,-4.5l-4,-3.5l-4,-3.5l-3.5,-3l0,-5.5l-14,0l3,14l5,-1.5l4,3l4,3.5l3.5,3.5l3.5,3.5l4,4.5l3.5,4.5l2.5,3z" fill="#1b3de2" stroke="#0e217c" stroke-width="1.3" stroke-linejoin="round"/>
<path d="M191.5,363l-3,0l-4.5,-0.5l-5,-1.5l-5,-2l-4.5,-3l-3,-3.5l-1.5,-4l1,-4M193.5,337l-2.5,0l-4,-0.5l-5,-1l-5.5,-2l-4.5,-3l-3.5,-3l-1.5,-4l0,-4M195,310.5l-1.5,0.5l-4,0l-4.5,-1l-5.5,-2l-5,-2.5" fill="none" stroke="#102487" stroke-width="10.4" stroke-linecap="round"/>
<path d="M191.5,363l-3,0l-4.5,-0.5l-5,-1.5l-5,-2l-4.5,-3l-3,-3.5l-1.5,-4l1,-4M193.5,337l-2.5,0l-4,-0.5l-5,-1l-5.5,-2l-4.5,-3l-3.5,-3l-1.5,-4l0,-4M195,310.5l-1.5,0.5l-4,0l-4.5,-1l-5.5,-2l-5,-2.5" fill="none" stroke="#1530b4" stroke-width="8" stroke-linecap="round"/>
<path d="M178.5,362l5,-0.5l4.5,-0.5l3,0.5l1.5,1l-1,0.5M166,344.5l3,-3.5l4,-2.5l5.5,-2l5.5,-1l4.5,-0.5l3.5,0.5l2,0.5l-0.5,1M167,319.5l2.5,-3.5l4,-3l5,-2l5.5,-1.5l5,-0.5l4,0.5l2,0.5l0,0.5" fill="none" stroke="#122999" stroke-width="10.6" stroke-linecap="round"/>
<path d="M178.5,362l5,-0.5l4.5,-0.5l3,0.5l1.5,1l-1,0.5M166,344.5l3,-3.5l4,-2.5l5.5,-2l5.5,-1l4.5,-0.5l3.5,0.5l2,0.5l-0.5,1M167,319.5l2.5,-3.5l4,-3l5,-2l5.5,-1.5l5,-0.5l4,0.5l2,0.5l0,0.5" fill="none" stroke="#1b3de2" stroke-width="9" stroke-linecap="round"/>
<path d="M178.5,362l5,-0.5l4.5,-0.5l3,0.5l1.5,1l-1,0.5M166,344.5l3,-3.5l4,-2.5l5.5,-2l5.5,-1l4.5,-0.5l3.5,0.5l2,0.5l-0.5,1M167,319.5l2.5,-3.5l4,-3l5,-2l5.5,-1.5l5,-0.5l4,0.5l2,0.5l0,0.5" fill="none" stroke="#6a80ec" stroke-width="2.5200000000000005" stroke-linecap="round" transform="translate(-1,-1.5)"/>
<path d="M188.5,311.5l-1,-1.5l-0.5,-3l0,-4.5l1,-5l1,-5.5l2.5,-5l2.5,-4.5l3.5,-2.5l3.5,-1.5l4,0.5M218,309l-0.5,-1.5l-0.5,-3.5l0.5,-4.5l0.5,-5.5l1.5,-5.5l2.5,-4.5l3,-4l3.5,-2.5l3.5,-1M248,307l-0.5,-2.5l-0.5,-3.5l0.5,-5l1,-5l1.5,-5.5l2.5,-5l3,-3.5l3.5,-2l4,-0.5M278.5,305.5l-1,-1l-0.5,-2.5l0,-4l0.5,-5l1,-5.5l2,-5.5l2.5,-4.5l3.5,-3l3.5,-2l4,0.5" fill="none" stroke="#102487" stroke-width="10.4" stroke-linecap="round"/>
<path d="M188.5,311.5l-1,-1.5l-0.5,-3l0,-4.5l1,-5l1,-5.5l2.5,-5l2.5,-4.5l3.5,-2.5l3.5,-1.5l4,0.5M218,309l-0.5,-1.5l-0.5,-3.5l0.5,-4.5l0.5,-5.5l1.5,-5.5l2.5,-4.5l3,-4l3.5,-2.5l3.5,-1M248,307l-0.5,-2.5l-0.5,-3.5l0.5,-5l1,-5l1.5,-5.5l2.5,-5l3,-3.5l3.5,-2l4,-0.5M278.5,305.5l-1,-1l-0.5,-2.5l0,-4l0.5,-5l1,-5.5l2,-5.5l2.5,-4.5l3.5,-3l3.5,-2l4,0.5" fill="none" stroke="#1530b4" stroke-width="8" stroke-linecap="round"/>
<path d="M186.5,295.5l2,5l0.5,5l0.5,3.5l-0.5,2l-0.5,0.5M205,279l3.5,2.5l3.5,3.5l3,4.5l2,5.5l1.5,5l0.5,4.5l0,3l0,2l-1,-0.5M232,276.5l4,1l3.5,2.5l3.5,4l2.5,5l2,5l1,5l0.5,4.5l0,2.5l-0.5,1.5l-0.5,-0.5M263,274.5l4,1.5l3.5,3l3,4l2.5,5.5l2,5l1,5l0,3.5l0,2.5l-0.5,1M294,273l3.5,1.5l3.5,3.5l3,4.5l2.5,5" fill="none" stroke="#122999" stroke-width="10.6" stroke-linecap="round"/>
<path d="M186.5,295.5l2,5l0.5,5l0.5,3.5l-0.5,2l-0.5,0.5M205,279l3.5,2.5l3.5,3.5l3,4.5l2,5.5l1.5,5l0.5,4.5l0,3l0,2l-1,-0.5M232,276.5l4,1l3.5,2.5l3.5,4l2.5,5l2,5l1,5l0.5,4.5l0,2.5l-0.5,1.5l-0.5,-0.5M263,274.5l4,1.5l3.5,3l3,4l2.5,5.5l2,5l1,5l0,3.5l0,2.5l-0.5,1M294,273l3.5,1.5l3.5,3.5l3,4.5l2.5,5" fill="none" stroke="#1b3de2" stroke-width="9" stroke-linecap="round"/>
<path d="M186.5,295.5l2,5l0.5,5l0.5,3.5l-0.5,2l-0.5,0.5M205,279l3.5,2.5l3.5,3.5l3,4.5l2,5.5l1.5,5l0.5,4.5l0,3l0,2l-1,-0.5M232,276.5l4,1l3.5,2.5l3.5,4l2.5,5l2,5l1,5l0.5,4.5l0,2.5l-0.5,1.5l-0.5,-0.5M263,274.5l4,1.5l3.5,3l3,4l2.5,5.5l2,5l1,5l0,3.5l0,2.5l-0.5,1M294,273l3.5,1.5l3.5,3.5l3,4.5l2.5,5" fill="none" stroke="#6a80ec" stroke-width="2.5200000000000005" stroke-linecap="round" transform="translate(-1,-1.5)"/>
<path d="M234.5,301.5l2.5,5.5l4,8l4,8.5l3,8l3,8l3,8.5l2.5,8l-2,6.5l10.5,6.5l4.5,-11.5l-5.5,-4l-2.5,-8l-2.5,-8.5l-3,-8.5l-4,-8.5l-4,-8.5l-4,-8l-2.5,-5z" fill="#32d232" stroke="#1b731b" stroke-width="1.3" stroke-linejoin="round"/>
<path d="M278,331l2,6l2.5,8.5l3,9l2.5,8.5l3,8.5l3,9l2.5,7.5l-2,6.5l10.5,6.5l4.5,-11.5l-5.5,-4l-2.5,-8l-3,-8.5l-2.5,-8l-3,-9l-3,-9l-2.5,-8.5l-1.5,-5.5z" fill="#32d232" stroke="#1b731b" stroke-width="1.3" stroke-linejoin="round"/>
<path d="M223.5,447.5l4,2.5l5,3.5l6.5,4.5l6.5,3.5l6.5,3l7.5,3l6.5,2.5l3,5.5l12,-4l-6,-11l-6,2l-7,-2.5l-7,-2.5l-6.5,-3l-5.5,-3.5l-6,-4l-5,-3.5l-3.5,-3z" fill="#32d232" stroke="#1b731b" stroke-width="1.3" stroke-linejoin="round"/>
<path d="M296.5,501l3.5,4l5.5,6l5.5,6l6,6.5l6,5.5l6.5,5.5l5.5,5.5l1,6.5l14,0.5l-2,-13.5l-7,-0.5l-6,-5l-6,-5.5l-6,-6l-5.5,-5.5l-5.5,-6.5l-5,-5.5l-3.5,-4z" fill="#44c844" stroke="#256e25" stroke-width="1.3" stroke-linejoin="round"/>
<path d="M280,332l0,0.5l0,0.5l-0.5,1l0,1l0,0.5l-0.5,1l-0.5,0.5l-0.5,1l-0.5,0.5l-0.5,0.5l-0.5,0.5l-0.5,0.5l-0.5,0.5l-1,0.5l-0.5,0.5l-1,0.5l-0.5,0l-1,0.5l-0.5,0l-1,0.5l-0.5,0l-1,0l-1,0l-1,0l-0.5,0l-1,-0.5l-0.5,0l-1,-0.5l-1,0l-0.5,-0.5l-0.5,-0.5l-1,-0.5l-0.5,-0.5l-0.5,-0.5l-0.5,-0.5l-0.5,-0.5l-0.5,-0.5l-0.5,-1l-0.5,-0.5l-0.5,-0.5l0,-1l0,-0.5l-0.5,-1l0,-0.5l0,-1l0,-1l0,-0.5l0.5,-1l0,-0.5l0,-1l0.5,-0.5l0.5,-0.5l0.5,-1l0.5,-0.5l0.5,-0.5l0.5,-0.5l0.5,-0.5l0.5,-0.5l1,-0.5l0.5,-0.5l0.5,-0.5l1,0l1,-0.5l0.5,0l1,-0.5l0.5,0l1,0l1,0l1,0l0.5,0l1,0.5l0.5,0l1,0.5l0.5,0l1,0.5l0.5,0.5l1,0.5l0.5,0.5l0.5,0.5l0.5,0.5l0.5,0.5l0.5,0.5l0.5,1l0.5,0.5l0.5,1l0,0.5l0,1l0.5,1l0,0.5l0,0.5" fill="none" stroke="#844f17" stroke-width="5.1" stroke-linecap="round" stroke-linejoin="round"/>
<path d="M280,332l0,0.5l0,0.5l-0.5,1l0,1l0,0.5l-0.5,1l-0.5,0.5l-0.5,1l-0.5,0.5l-0.5,0.5l-0.5,0.5l-0.5,0.5l-0.5,0.5l-1,0.5l-0.5,0.5l-1,0.5l-0.5,0l-1,0.5l-0.5,0l-1,0.5l-0.5,0l-1,0l-1,0l-1,0l-0.5,0l-1,-0.5l-0.5,0l-1,-0.5l-1,0l-0.5,-0.5l-0.5,-0.5l-1,-0.5l-0.5,-0.5l-0.5,-0.5l-0.5,-0.5l-0.5,-0.5l-0.5,-0.5l-0.5,-1l-0.5,-0.5l-0.5,-0.5l0,-1l0,-0.5l-0.5,-1l0,-0.5l0,-1l0,-1l0,-0.5l0.5,-1l0,-0.5l0,-1l0.5,-0.5l0.5,-0.5l0.5,-1l0.5,-0.5l0.5,-0.5l0.5,-0.5l0.5,-0.5l0.5,-0.5l1,-0.5l0.5,-0.5l0.5,-0.5l1,0l1,-0.5l0.5,0l1,-0.5l0.5,0l1,0l1,0l1,0l0.5,0l1,0.5l0.5,0l1,0.5l0.5,0l1,0.5l0.5,0.5l1,0.5l0.5,0.5l0.5,0.5l0.5,0.5l0.5,0.5l0.5,0.5l0.5,1l0.5,0.5l0.5,1l0,0.5l0,1l0.5,1l0,0.5l0,0.5" fill="none" stroke="#f0902a" stroke-width="3.5" stroke-linecap="round" stroke-linejoin="round"/>
<path d="M342,402l0,0.5l0,1l-0.5,0.5l0,1l0,1l-0.5,1l-0.5,0.5l-0.5,1l-0.5,0.5l-0.5,0.5l-0.5,1l-0.5,0.5l-0.5,0.5l-1,0.5l-0.5,0.5l-1,0.5l-0.5,0l-1,0.5l-0.5,0l-1,0.5l-0.5,0l-1,0l-1,0l-1,0l-0.5,0l-1,-0.5l-0.5,0l-1,-0.5l-1,0l-0.5,-0.5l-0.5,-0.5l-1,-0.5l-0.5,-0.5l-0.5,-0.5l-0.5,-1l-0.5,-0.5l-0.5,-0.5l-0.5,-1l-0.5,-0.5l-0.5,-1l0,-0.5l0,-1l-0.5,-1l0,-0.5l0,-1l0,-1l0,-0.5l0.5,-1l0,-1l0,-0.5l0.5,-1l0.5,-0.5l0.5,-1l0.5,-0.5l0.5,-0.5l0.5,-1l0.5,-0.5l0.5,-0.5l1,-0.5l0.5,-0.5l0.5,-0.5l1,0l1,-0.5l0.5,0l1,-0.5l0.5,0l1,0l1,0l1,0l0.5,0l1,0.5l0.5,0l1,0.5l0.5,0l1,0.5l0.5,0.5l1,0.5l0.5,0.5l0.5,0.5l0.5,1l0.5,0.5l0.5,0.5l0.5,1l0.5,0.5l0.5,1l0,1l0,1l0.5,0.5l0,1l0,0.5" fill="none" stroke="#844f17" stroke-width="5.1" stroke-linecap="round" stroke-linejoin="round"/>
<path d="M342,402l0,0.5l0,1l-0.5,0.5l0,1l0,1l-0.5,1l-0.5,0.5l-0.5,1l-0.5,0.5l-0.5,0.5l-0.5,1l-0.5,0.5l-0.5,0.5l-1,0.5l-0.5,0.5l-1,0.5l-0.5,0l-1,0.5l-0.5,0l-1,0.5l-0.5,0l-1,0l-1,0l-1,0l-0.5,0l-1,-0.5l-0.5,0l-1,-0.5l-1,0l-0.5,-0.5l-0.5,-0.5l-1,-0.5l-0.5,-0.5l-0.5,-0.5l-0.5,-1l-0.5,-0.5l-0.5,-0.5l-0.5,-1l-0.5,-0.5l-0.5,-1l0,-0.5l0,-1l-0.5,-1l0,-0.5l0,-1l0,-1l0,-0.5l0.5,-1l0,-1l0,-0.5l0.5,-1l0.5,-0.5l0.5,-1l0.5,-0.5l0.5,-0.5l0.5,-1l0.5,-0.5l0.5,-0.5l1,-0.5l0.5,-0.5l0.5,-0.5l1,0l1,-0.5l0.5,0l1,-0.5l0.5,0l1,0l1,0l1,0l0.5,0l1,0.5l0.5,0l1,0.5l0.5,0l1,0.5l0.5,0.5l1,0.5l0.5,0.5l0.5,0.5l0.5,1l0.5,0.5l0.5,0.5l0.5,1l0.5,0.5l0.5,1l0,1l0,1l0.5,0.5l0,1l0,0.5" fill="none" stroke="#f0902a" stroke-width="3.5" stroke-linecap="round" stroke-linejoin="round"/>
<path d="M210,405l0,0.5l0,1l-0.5,0.5l0,1l0,1l-0.5,1l0,0.5l-0.5,1l-0.5,0.5l-0.5,0.5l-0.5,1l-0.5,0.5l-0.5,0.5l-0.5,0.5l-0.5,0.5l-0.5,0.5l-1,0l-0.5,0.5l-0.5,0l-1,0.5l-0.5,0l-0.5,0l-1,0l-0.5,0l-0.5,0l-1,-0.5l-0.5,0l-1,-0.5l-0.5,0l-0.5,-0.5l-0.5,-0.5l-0.5,-0.5l-0.5,-0.5l-0.5,-0.5l-0.5,-1l-0.5,-0.5l-0.5,-0.5l-0.5,-1l0,-0.5l-0.5,-1l0,-0.5l-0.5,-1l0,-1l0,-0.5l0,-1l0,-1l0,-0.5l0,-1l0.5,-1l0,-0.5l0.5,-1l0,-0.5l0.5,-1l0.5,-0.5l0.5,-0.5l0.5,-1l0.5,-0.5l0.5,-0.5l0.5,-0.5l0.5,-0.5l0.5,-0.5l0.5,0l1,-0.5l0.5,0l1,-0.5l0.5,0l0.5,0l1,0l0.5,0l0.5,0l1,0.5l0.5,0l0.5,0.5l1,0l0.5,0.5l0.5,0.5l0.5,0.5l0.5,0.5l0.5,0.5l0.5,1l0.5,0.5l0.5,0.5l0.5,1l0,0.5l0.5,1l0,1l0,1l0.5,0.5l0,1l0,0.5" fill="none" stroke="#818121" stroke-width="5.1" stroke-linecap="round" stroke-linejoin="round"/>
<path d="M210,405l0,0.5l0,1l-0.5,0.5l0,1l0,1l-0.5,1l0,0.5l-0.5,1l-0.5,0.5l-0.5,0.5l-0.5,1l-0.5,0.5l-0.5,0.5l-0.5,0.5l-0.5,0.5l-0.5,0.5l-1,0l-0.5,0.5l-0.5,0l-1,0.5l-0.5,0l-0.5,0l-1,0l-0.5,0l-0.5,0l-1,-0.5l-0.5,0l-1,-0.5l-0.5,0l-0.5,-0.5l-0.5,-0.5l-0.5,-0.5l-0.5,-0.5l-0.5,-0.5l-0.5,-1l-0.5,-0.5l-0.5,-0.5l-0.5,-1l0,-0.5l-0.5,-1l0,-0.5l-0.5,-1l0,-1l0,-0.5l0,-1l0,-1l0,-0.5l0,-1l0.5,-1l0,-0.5l0.5,-1l0,-0.5l0.5,-1l0.5,-0.5l0.5,-0.5l0.5,-1l0.5,-0.5l0.5,-0.5l0.5,-0.5l0.5,-0.5l0.5,-0.5l0.5,0l1,-0.5l0.5,0l1,-0.5l0.5,0l0.5,0l1,0l0.5,0l0.5,0l1,0.5l0.5,0l0.5,0.5l1,0l0.5,0.5l0.5,0.5l0.5,0.5l0.5,0.5l0.5,0.5l0.5,1l0.5,0.5l0.5,0.5l0.5,1l0,0.5l0.5,1l0,1l0,1l0.5,0.5l0,1l0,0.5" fill="none" stroke="#ecec3c" stroke-width="3.5" stroke-linecap="round" stroke-linejoin="round"/>
<path d="M130,510l0,0.5l0,0.5l-0.5,0.5l0,1l0,0.5l-0.5,0.5l0,0.5l-0.5,1l-0.5,0.5l-0.5,0.5l-0.5,0.5l-0.5,0l-0.5,0.5l-0.5,0.5l-0.5,0.5l-0.5,0l-1,0.5l-0.5,0l-0.5,0l-1,0.5l-0.5,0l-0.5,0l-1,0l-0.5,0l-0.5,0l-1,-0.5l-0.5,0l-1,0l-0.5,-0.5l-0.5,0l-0.5,-0.5l-0.5,-0.5l-0.5,-0.5l-0.5,-0.5l-0.5,0l-0.5,-0.5l-0.5,-0.5l-0.5,-1l0,-0.5l-0.5,-0.5l0,-0.5l-0.5,-0.5l0,-0.5l0,-1l0,-0.5l0,-0.5l0,-1l0,-0.5l0.5,-0.5l0,-0.5l0.5,-0.5l0,-0.5l0.5,-1l0.5,-0.5l0.5,-0.5l0.5,0l0.5,-0.5l0.5,-0.5l0.5,-0.5l0.5,-0.5l0.5,0l0.5,-0.5l1,0l0.5,0l1,-0.5l0.5,0l0.5,0l1,0l0.5,0l0.5,0l1,0.5l0.5,0l0.5,0l1,0.5l0.5,0l0.5,0.5l0.5,0.5l0.5,0.5l0.5,0l0.5,0.5l0.5,0.5l0.5,0.5l0.5,1l0,0.5l0.5,0.5l0,0.5l0,1l0.5,0.5l0,0.5l0,0.5" fill="none" stroke="#818121" stroke-width="5.1" stroke-linecap="round" stroke-linejoin="round"/>
<path d="M130,510l0,0.5l0,0.5l-0.5,0.5l0,1l0,0.5l-0.5,0.5l0,0.5l-0.5,1l-0.5,0.5l-0.5,0.5l-0.5,0.5l-0.5,0l-0.5,0.5l-0.5,0.5l-0.5,0.5l-0.5,0l-1,0.5l-0.5,0l-0.5,0l-1,0.5l-0.5,0l-0.5,0l-1,0l-0.5,0l-0.5,0l-1,-0.5l-0.5,0l-1,0l-0.5,-0.5l-0.5,0l-0.5,-0.5l-0.5,-0.5l-0.5,-0.5l-0.5,-0.5l-0.5,0l-0.5,-0.5l-0.5,-0.5l-0.5,-1l0,-0.5l-0.5,-0.5l0,-0.5l-0.5,-0.5l0,-0.5l0,-1l0,-0.5l0,-0.5l0,-1l0,-0.5l0.5,-0.5l0,-0.5l0.5,-0.5l0,-0.5l0.5,-1l0.5,-0.5l0.5,-0.5l0.5,0l0.5,-0.5l0.5,-0.5l0.5,-0.5l0.5,-0.5l0.5,0l0.5,-0.5l1,0l0.5,0l1,-0.5l0.5,0l0.5,0l1,0l0.5,0l0.5,0l1,0.5l0.5,0l0.5,0l1,0.5l0.5,0l0.5,0.5l0.5,0.5l0.5,0.5l0.5,0l0.5,0.5l0.5,0.5l0.5,0.5l0.5,1l0,0.5l0.5,0.5l0,0.5l0,1l0.5,0.5l0,0.5l0,0.5" fill="none" stroke="#ecec3c" stroke-width="3.5" stroke-linecap="round" stroke-linejoin="round"/>
<path d="M184,545l0,0.5l0,1l-0.5,0.5l0,1l0,1l-0.5,1l0,0.5l-0.5,1l0,0.5l-0.5,0.5l-0.5,1l-0.5,0.5l-0.5,0.5l-0.5,0.5l-0.5,0.5l-0.5,0.5l-0.5,0l-0.5,0.5l-1,0l-0.5,0.5l-0.5,0l-0.5,0l-1,0l-0.5,0l-0.5,0l-0.5,-0.5l-1,0l-0.5,-0.5l-0.5,0l-0.5,-0.5l-0.5,-0.5l-0.5,-0.5l-0.5,-0.5l-0.5,-0.5l-0.5,-1l-0.5,-0.5l0,-0.5l-0.5,-1l0,-0.5l-0.5,-1l0,-0.5l-0.5,-1l0,-1l0,-0.5l0,-1l0,-1l0,-0.5l0,-1l0.5,-1l0,-0.5l0.5,-1l0,-0.5l0.5,-1l0,-0.5l0.5,-0.5l0.5,-1l0.5,-0.5l0.5,-0.5l0.5,-0.5l0.5,-0.5l0.5,-0.5l0.5,0l0.5,-0.5l1,0l0.5,-0.5l0.5,0l0.5,0l1,0l0.5,0l0.5,0l0.5,0.5l1,0l0.5,0.5l0.5,0l0.5,0.5l0.5,0.5l0.5,0.5l0.5,0.5l0.5,0.5l0.5,1l0.5,0.5l0,0.5l0.5,1l0,0.5l0.5,1l0,1l0,1l0.5,0.5l0,1l0,0.5" fill="none" stroke="#818121" stroke-width="5.1" stroke-linecap="round" stroke-linejoin="round"/>
<path d="M184,545l0,0.5l0,1l-0.5,0.5l0,1l0,1l-0.5,1l0,0.5l-0.5,1l0,0.5l-0.5,0.5l-0.5,1l-0.5,0.5l-0.5,0.5l-0.5,0.5l-0.5,0.5l-0.5,0.5l-0.5,0l-0.5,0.5l-1,0l-0.5,0.5l-0.5,0l-0.5,0l-1,0l-0.5,0l-0.5,0l-0.5,-0.5l-1,0l-0.5,-0.5l-0.5,0l-0.5,-0.5l-0.5,-0.5l-0.5,-0.5l-0.5,-0.5l-0.5,-0.5l-0.5,-1l-0.5,-0.5l0,-0.5l-0.5,-1l0,-0.5l-0.5,-1l0,-0.5l-0.5,-1l0,-1l0,-0.5l0,-1l0,-1l0,-0.5l0,-1l0.5,-1l0,-0.5l0.5,-1l0,-0.5l0.5,-1l0,-0.5l0.5,-0.5l0.5,-1l0.5,-0.5l0.5,-0.5l0.5,-0.5l0.5,-0.5l0.5,-0.5l0.5,0l0.5,-0.5l1,0l0.5,-0.5l0.5,0l0.5,0l1,0l0.5,0l0.5,0l0.5,0.5l1,0l0.5,0.5l0.5,0l0.5,0.5l0.5,0.5l0.5,0.5l0.5,0.5l0.5,0.5l0.5,1l0.5,0.5l0,0.5l0.5,1l0,0.5l0.5,1l0,1l0,1l0.5,0.5l0,1l0,0.5" fill="none" stroke="#ecec3c" stroke-width="3.5" stroke-linecap="round" stroke-linejoin="round"/>
<path d="M157,483l2,-1l3.5,-1.5l4,-1l5.5,-1l5,-0.5l5,1l4.5,1l3.5,2.5l2.5,3M169.5,513l0.5,-0.5l2,-1.5l3.5,-1l4,-1.5l5,-1l5.5,0l5,0.5l4.5,1.5l3.5,2l2.5,3M183,541.5l2,-1l3.5,-1.5l4,-1l5,-1l5.5,0l5,0.5l4.5,1l3.5,2.5l2,3l1,3.5M196,571l2,-1.5l3,-1l4.5,-1.5l5,-0.5l5.5,-0.5l5,0.5l4.5,1.5l3.5,2l2,3.5l1,3.5" fill="none" stroke="#8b6c19" stroke-width="11.4" stroke-linecap="round"/>
<path d="M157,483l2,-1l3.5,-1.5l4,-1l5.5,-1l5,-0.5l5,1l4.5,1l3.5,2.5l2.5,3M169.5,513l0.5,-0.5l2,-1.5l3.5,-1l4,-1.5l5,-1l5.5,0l5,0.5l4.5,1.5l3.5,2l2.5,3M183,541.5l2,-1l3.5,-1.5l4,-1l5,-1l5.5,0l5,0.5l4.5,1l3.5,2.5l2,3l1,3.5M196,571l2,-1.5l3,-1l4.5,-1.5l5,-0.5l5.5,-0.5l5,0.5l4.5,1.5l3.5,2l2,3.5l1,3.5" fill="none" stroke="#b99021" stroke-width="9" stroke-linecap="round"/>
<path d="M170.5,476l-4,3.5l-3.5,2l-3.5,1.5l-2,1l-1,0l0.5,-1M192.5,485.5l0.5,3.5l-0.5,4l-2,4.5l-3,4l-4,4l-4,3l-3.5,2.5l-3.5,1.5l-2,0.5l-1,0M205.5,514.5l0.5,4l-0.5,4l-2,4.5l-3,4l-4,3.5l-4,3.5l-3.5,2l-3.5,2l-2,0.5l-1,0l0.5,-1M219,547.5l-0.5,4.5l-2,4l-3,4l-4,4l-4,3l-3.5,2.5l-3.5,1.5l-2,0.5l-1,0l0.5,-0.5M232,577l-0.5,4l-2,4.5l-3,4l-4,3.5l-4,3.5l-4,2.5l-3,1.5" fill="none" stroke="#9d7a1c" stroke-width="11.6" stroke-linecap="round"/>
<path d="M170.5,476l-4,3.5l-3.5,2l-3.5,1.5l-2,1l-1,0l0.5,-1M192.5,485.5l0.5,3.5l-0.5,4l-2,4.5l-3,4l-4,4l-4,3l-3.5,2.5l-3.5,1.5l-2,0.5l-1,0M205.5,514.5l0.5,4l-0.5,4l-2,4.5l-3,4l-4,3.5l-4,3.5l-3.5,2l-3.5,2l-2,0.5l-1,0l0.5,-1M219,547.5l-0.5,4.5l-2,4l-3,4l-4,4l-4,3l-3.5,2.5l-3.5,1.5l-2,0.5l-1,0l0.5,-0.5M232,577l-0.5,4l-2,4.5l-3,4l-4,3.5l-4,3.5l-4,2.5l-3,1.5" fill="none" stroke="#e8b42a" stroke-width="10" stroke-linecap="round"/>
<path d="M170.5,476l-4,3.5l-3.5,2l-3.5,1.5l-2,1l-1,0l0.5,-1M192.5,485.5l0.5,3.5l-0.5,4l-2,4.5l-3,4l-4,4l-4,3l-3.5,2.5l-3.5,1.5l-2,0.5l-1,0M205.5,514.5l0.5,4l-0.5,4l-2,4.5l-3,4l-4,3.5l-4,3.5l-3.5,2l-3.5,2l-2,0.5l-1,0l0.5,-1M219,547.5l-0.5,4.5l-2,4l-3,4l-4,4l-4,3l-3.5,2.5l-3.5,1.5l-2,0.5l-1,0l0.5,-0.5M232,577l-0.5,4l-2,4.5l-3,4l-4,3.5l-4,3.5l-4,2.5l-3,1.5" fill="none" stroke="#f0ce74" stroke-width="2.8000000000000003" stroke-linecap="round" transform="translate(-1,-1.5)"/>
<path d="M136,631l0.5,-1l1.5,-2l2.5,-2.5l3.5,-3l4.5,-2.5l4.5,-2.5l5,-1.5l5,-1l4.5,0l3.5,1l3,2.5M161.5,655.5l1,-1.5l2.5,-2l3,-3l4,-2.5l4.5,-2.5l5,-2l4.5,-1.5l5,-0.5l4,0.5l3.5,2l2.5,2.5M187.5,681.5l0.5,-1.5l1.5,-2l2.5,-2.5l3.5,-2.5l4.5,-2.5l4.5,-2.5l5,-2l5,-0.5l4.5,0l3.5,1l3,2M213,706l1,-1.5l2.5,-2.5l3,-2.5l4,-2.5" fill="none" stroke="#86200f" stroke-width="11.4" stroke-linecap="round"/>
<path d="M136,631l0.5,-1l1.5,-2l2.5,-2.5l3.5,-3l4.5,-2.5l4.5,-2.5l5,-1.5l5,-1l4.5,0l3.5,1l3,2.5M161.5,655.5l1,-1.5l2.5,-2l3,-3l4,-2.5l4.5,-2.5l5,-2l4.5,-1.5l5,-0.5l4,0.5l3.5,2l2.5,2.5M187.5,681.5l0.5,-1.5l1.5,-2l2.5,-2.5l3.5,-2.5l4.5,-2.5l4.5,-2.5l5,-2l5,-0.5l4.5,0l3.5,1l3,2M213,706l1,-1.5l2.5,-2.5l3,-2.5l4,-2.5" fill="none" stroke="#b32b14" stroke-width="9" stroke-linecap="round"/>
<path d="M147.5,617.5l-2.5,4l-3,4l-2.5,3l-2,2l-1,0.5l-0.5,0M174,618.5l2,3l1,4l0,4.5l-1,5l-1.5,5l-2.5,5l-2.5,4l-3,3.5l-2,2l-2,1.5l-1,0.5l0,-1M201,645l1.5,3.5l0.5,4.5l-0.5,5l-1.5,5l-2,4.5l-2.5,4.5l-3,4l-2.5,3l-2,1.5l-1.5,1M225.5,668.5l2,3.5l1,4l0,4.5l-1,5l-1.5,5l-2.5,4.5l-2.5,4l-3,3.5l-2,2.5l-2,1.5l-1,0l0,-0.5" fill="none" stroke="#982411" stroke-width="11.6" stroke-linecap="round"/>
<path d="M147.5,617.5l-2.5,4l-3,4l-2.5,3l-2,2l-1,0.5l-0.5,0M174,618.5l2,3l1,4l0,4.5l-1,5l-1.5,5l-2.5,5l-2.5,4l-3,3.5l-2,2l-2,1.5l-1,0.5l0,-1M201,645l1.5,3.5l0.5,4.5l-0.5,5l-1.5,5l-2,4.5l-2.5,4.5l-3,4l-2.5,3l-2,1.5l-1.5,1M225.5,668.5l2,3.5l1,4l0,4.5l-1,5l-1.5,5l-2.5,4.5l-2.5,4l-3,3.5l-2,2.5l-2,1.5l-1,0l0,-0.5" fill="none" stroke="#e0361a" stroke-width="10" stroke-linecap="round"/>
<path d="M147.5,617.5l-2.5,4l-3,4l-2.5,3l-2,2l-1,0.5l-0.5,0M174,618.5l2,3l1,4l0,4.5l-1,5l-1.5,5l-2.5,5l-2.5,4l-3,3.5l-2,2l-2,1.5l-1,0.5l0,-1M201,645l1.5,3.5l0.5,4.5l-0.5,5l-1.5,5l-2,4.5l-2.5,4.5l-3,4l-2.5,3l-2,1.5l-1.5,1M225.5,668.5l2,3.5l1,4l0,4.5l-1,5l-1.5,5l-2.5,4.5l-2.5,4l-3,3.5l-2,2.5l-2,1.5l-1,0l0,-0.5" fill="none" stroke="#ea7c6a" stroke-width="2.8000000000000003" stroke-linecap="round" transform="translate(-1,-1.5)"/>
<path d="M150,650l-1,4.5l-2,6.5l-2,7.5l-2,7.5l-1,7.5l0,6.5l1,5.5l2.5,5l2.5,4.5l3.5,4.5l4,3.5l4.5,3l5.5,2.5l6,1.5l7,1l7,1l7.5,0l7,0l7.5,-1l8.5,-1.5l8.5,-2l8,-2.5l6.5,-1.5l5,-1.5" fill="none" stroke="#7b1d0e" stroke-width="6.6" stroke-linecap="round" stroke-linejoin="round"/>
<path d="M150,650l-1,4.5l-2,6.5l-2,7.5l-2,7.5l-1,7.5l0,6.5l1,5.5l2.5,5l2.5,4.5l3.5,4.5l4,3.5l4.5,3l5.5,2.5l6,1.5l7,1l7,1l7.5,0l7,0l7.5,-1l8.5,-1.5l8.5,-2l8,-2.5l6.5,-1.5l5,-1.5" fill="none" stroke="#e0361a" stroke-width="5" stroke-linecap="round" stroke-linejoin="round"/>
<path d="M213.5,598l1.5,-0.5l2.5,-0.5l4,-0.5l4.5,0l4.5,1l5,1.5l4,2l3,3l1.5,3.5l0,3.5M219.5,627l1.5,-0.5l3,-0.5l4,0l4.5,0.5l5,1l4.5,1.5l4,2.5l2.5,3l1,3M225,656.5l2,-0.5l3.5,-0.5l4,0l5,0.5l4.5,1l4.5,2l3.5,2.5l2.5,3l0.5,3.5M230,686.5" fill="none" stroke="#8b3a10" stroke-width="10.4" stroke-linecap="round"/>
<path d="M213.5,598l1.5,-0.5l2.5,-0.5l4,-0.5l4.5,0l4.5,1l5,1.5l4,2l3,3l1.5,3.5l0,3.5M219.5,627l1.5,-0.5l3,-0.5l4,0l4.5,0.5l5,1l4.5,1.5l4,2.5l2.5,3l1,3M225,656.5l2,-0.5l3.5,-0.5l4,0l5,0.5l4.5,1l4.5,2l3.5,2.5l2.5,3l0.5,3.5M230,686.5" fill="none" stroke="#b94e16" stroke-width="8" stroke-linecap="round"/>
<path d="M227,594l-4,2l-4,1.5l-3,0.5l-2,0l-0.5,0M244,611l-1.5,3.5l-3,3.5l-3.5,3.5l-4.5,2.5l-4,2l-4,1l-2.5,0.5l-1.5,0l0,-0.5M249.5,637.5l-0.5,4l-1.5,3.5l-3.5,3.5l-3.5,3l-4.5,2.5l-4,1.5l-3.5,1l-2.5,0.5l-1.5,0l0.5,-0.5M255,668l-0.5,3.5l-2.5,4l-3,3l-4.5,3l-4,2.5l-4,1.5l-3.5,1l-2,0l-1,0" fill="none" stroke="#9d4213" stroke-width="10.6" stroke-linecap="round"/>
<path d="M227,594l-4,2l-4,1.5l-3,0.5l-2,0l-0.5,0M244,611l-1.5,3.5l-3,3.5l-3.5,3.5l-4.5,2.5l-4,2l-4,1l-2.5,0.5l-1.5,0l0,-0.5M249.5,637.5l-0.5,4l-1.5,3.5l-3.5,3.5l-3.5,3l-4.5,2.5l-4,1.5l-3.5,1l-2.5,0.5l-1.5,0l0.5,-0.5M255,668l-0.5,3.5l-2.5,4l-3,3l-4.5,3l-4,2.5l-4,1.5l-3.5,1l-2,0l-1,0" fill="none" stroke="#e8621c" stroke-width="9" stroke-linecap="round"/>
<path d="M227,594l-4,2l-4,1.5l-3,0.5l-2,0l-0.5,0M244,611l-1.5,3.5l-3,3.5l-3.5,3.5l-4.5,2.5l-4,2l-4,1l-2.5,0.5l-1.5,0l0,-0.5M249.5,637.5l-0.5,4l-1.5,3.5l-3.5,3.5l-3.5,3l-4.5,2.5l-4,1.5l-3.5,1l-2.5,0.5l-1.5,0l0.5,-0.5M255,668l-0.5,3.5l-2.5,4l-3,3l-4.5,3l-4,2.5l-4,1.5l-3.5,1l-2,0l-1,0" fill="none" stroke="#f0986b" stroke-width="2.5200000000000005" stroke-linecap="round" transform="translate(-1,-1.5)"/>
<path d="M282,575.5l0,-1l1,-2.5l2,-3.5l2.5,-4l3,-3.5l4,-3.5l4,-2l3.5,-1l4,0.5l3,1.5M310,586l0.5,-1.5l1,-2.5l2,-4l2.5,-3.5l3.5,-4l4,-3l4,-2l3.5,-0.5l3.5,1M338,596.5l0.5,-2l1.5,-3l2,-3.5l3,-4l3.5,-3.5l4,-2.5l4,-2l3.5,0l3.5,1M366,608l0,-1l1,-2.5l1.5,-3l2.5,-4l3,-3.5l3.5,-3.5l4,-2.5l4,-1.5l3.5,0" fill="none" stroke="#197e66" stroke-width="9.4" stroke-linecap="round"/>
<path d="M282,575.5l0,-1l1,-2.5l2,-3.5l2.5,-4l3,-3.5l4,-3.5l4,-2l3.5,-1l4,0.5l3,1.5M310,586l0.5,-1.5l1,-2.5l2,-4l2.5,-3.5l3.5,-4l4,-3l4,-2l3.5,-0.5l3.5,1M338,596.5l0.5,-2l1.5,-3l2,-3.5l3,-4l3.5,-3.5l4,-2.5l4,-2l3.5,0l3.5,1M366,608l0,-1l1,-2.5l1.5,-3l2.5,-4l3,-3.5l3.5,-3.5l4,-2.5l4,-1.5l3.5,0" fill="none" stroke="#21a888" stroke-width="7" stroke-linecap="round"/>
<path d="M285.5,562l-0.5,5l-1,4l-1,3l-0.5,1.5l-0.5,0M309,556.5l2,3.5l2,4l0.5,5l0,5l-0.5,4.5l-1,4l-1,2.5l-0.5,1.5l-0.5,-0.5M334.5,566l3,2l2,3.5l1.5,4.5l0.5,5l0,5l-1,4.5l-0.5,3.5l-1,2l-1,1l0,-0.5M363.5,577l2.5,2.5l2,4l1.5,4.5l0,5l0,4.5l-1,4.5l-1,3.5l-1,2l-0.5,0.5" fill="none" stroke="#1c8e73" stroke-width="9.6" stroke-linecap="round"/>
<path d="M285.5,562l-0.5,5l-1,4l-1,3l-0.5,1.5l-0.5,0M309,556.5l2,3.5l2,4l0.5,5l0,5l-0.5,4.5l-1,4l-1,2.5l-0.5,1.5l-0.5,-0.5M334.5,566l3,2l2,3.5l1.5,4.5l0.5,5l0,5l-1,4.5l-0.5,3.5l-1,2l-1,1l0,-0.5M363.5,577l2.5,2.5l2,4l1.5,4.5l0,5l0,4.5l-1,4.5l-1,3.5l-1,2l-0.5,0.5" fill="none" stroke="#2ad2aa" stroke-width="8" stroke-linecap="round"/>
<path d="M285.5,562l-0.5,5l-1,4l-1,3l-0.5,1.5l-0.5,0M309,556.5l2,3.5l2,4l0.5,5l0,5l-0.5,4.5l-1,4l-1,2.5l-0.5,1.5l-0.5,-0.5M334.5,566l3,2l2,3.5l1.5,4.5l0.5,5l0,5l-1,4.5l-0.5,3.5l-1,2l-1,1l0,-0.5M363.5,577l2.5,2.5l2,4l1.5,4.5l0,5l0,4.5l-1,4.5l-1,3.5l-1,2l-0.5,0.5" fill="none" stroke="#74e1c7" stroke-width="2.24" stroke-linecap="round" transform="translate(-1,-1.5)"/>
<path d="M333,625.5l0,-1.5l1,-2.5l1.5,-3.5l2,-4l3,-4l3.5,-3.5l4,-2.5l4,-1l3.5,0l3,2M361.5,634l0.5,-1.5l1,-3l1.5,-3.5l2.5,-4l3,-4l4,-3.5l3.5,-2l4,-1l3.5,0.5M390.5,642.5l0.5,-2l1,-3l2,-4l2.5,-4l3,-3.5l4,-3l4,-2l3.5,-0.5l3.5,0.5M419,652l0,-1l0.5,-2.5l1.5,-3l2,-4l3,-4l3.5,-4l3.5,-2.5l4,-1.5l3.5,-0.5l3.5,1.5" fill="none" stroke="#187a5d" stroke-width="9.4" stroke-linecap="round"/>
<path d="M333,625.5l0,-1.5l1,-2.5l1.5,-3.5l2,-4l3,-4l3.5,-3.5l4,-2.5l4,-1l3.5,0l3,2M361.5,634l0.5,-1.5l1,-3l1.5,-3.5l2.5,-4l3,-4l4,-3.5l3.5,-2l4,-1l3.5,0.5M390.5,642.5l0.5,-2l1,-3l2,-4l2.5,-4l3,-3.5l4,-3l4,-2l3.5,-0.5l3.5,0.5M419,652l0,-1l0.5,-2.5l1.5,-3l2,-4l3,-4l3.5,-4l3.5,-2.5l4,-1.5l3.5,-0.5l3.5,1.5" fill="none" stroke="#20a37c" stroke-width="7" stroke-linecap="round"/>
<path d="M335.5,611.5l0,5l-0.5,4l-1,3l-0.5,2l-0.5,0M358.5,605l2.5,3l2,4l1,4.5l0.5,5l-0.5,5l-0.5,3.5l-1,3l-0.5,1l-0.5,0M385,612l3,2l2.5,3.5l1.5,4.5l1,4.5l0,5l-0.5,4.5l-0.5,3.5l-1,2.5l-0.5,1l0,-0.5M414.5,621l3,2.5l2,3.5l1.5,4.5l0.5,5l0,5l-0.5,4.5l-0.5,3l-1,2l-0.5,1M444,630.5l2.5,2.5l2,4l1.5,4.5l0.5,5" fill="none" stroke="#1b8a6a" stroke-width="9.6" stroke-linecap="round"/>
<path d="M335.5,611.5l0,5l-0.5,4l-1,3l-0.5,2l-0.5,0M358.5,605l2.5,3l2,4l1,4.5l0.5,5l-0.5,5l-0.5,3.5l-1,3l-0.5,1l-0.5,0M385,612l3,2l2.5,3.5l1.5,4.5l1,4.5l0,5l-0.5,4.5l-0.5,3.5l-1,2.5l-0.5,1l0,-0.5M414.5,621l3,2.5l2,3.5l1.5,4.5l0.5,5l0,5l-0.5,4.5l-0.5,3l-1,2l-0.5,1M444,630.5l2.5,2.5l2,4l1.5,4.5l0.5,5" fill="none" stroke="#28cc9c" stroke-width="8" stroke-linecap="round"/>
<path d="M335.5,611.5l0,5l-0.5,4l-1,3l-0.5,2l-0.5,0M358.5,605l2.5,3l2,4l1,4.5l0.5,5l-0.5,5l-0.5,3.5l-1,3l-0.5,1l-0.5,0M385,612l3,2l2.5,3.5l1.5,4.5l1,4.5l0,5l-0.5,4.5l-0.5,3.5l-1,2.5l-0.5,1l0,-0.5M414.5,621l3,2.5l2,3.5l1.5,4.5l0.5,5l0,5l-0.5,4.5l-0.5,3l-1,2l-0.5,1M444,630.5l2.5,2.5l2,4l1.5,4.5l0.5,5" fill="none" stroke="#73ddbe" stroke-width="2.24" stroke-linecap="round" transform="translate(-1,-1.5)"/>
<path d="M319.5,513l0.5,-2l1,-3l2.5,-4l3,-4l3.5,-4l4,-3l4.5,-1.5l3.5,0.5l3.5,2M346,523l0,-1l1,-2.5l1.5,-4l2.5,-4l3.5,-4l4,-3.5l4,-2l4,-0.5l3.5,1" fill="none" stroke="#1e7e1e" stroke-width="10.4" stroke-linecap="round"/>
<path d="M319.5,513l0.5,-2l1,-3l2.5,-4l3,-4l3.5,-4l4,-3l4.5,-1.5l3.5,0.5l3.5,2M346,523l0,-1l1,-2.5l1.5,-4l2.5,-4l3.5,-4l4,-3.5l4,-2l4,-0.5l3.5,1" fill="none" stroke="#28a828" stroke-width="8" stroke-linecap="round"/>
<path d="M323.5,500l-0.5,5l-1,4.5l-1,2.5l-1,1.5l-0.5,-0.5M345.5,494l2,3l1.5,5l1,5l-0.5,5.5l-0.5,4.5l-1.5,3.5l-1,2l-0.5,0.5M370,502.5l3,2.5l2,4l1,5l0,5.5l-0.5,5l-1,4l-1,3l-1,1.5" fill="none" stroke="#228e22" stroke-width="10.6" stroke-linecap="round"/>
<path d="M323.5,500l-0.5,5l-1,4.5l-1,2.5l-1,1.5l-0.5,-0.5M345.5,494l2,3l1.5,5l1,5l-0.5,5.5l-0.5,4.5l-1.5,3.5l-1,2l-0.5,0.5M370,502.5l3,2.5l2,4l1,5l0,5.5l-0.5,5l-1,4l-1,3l-1,1.5" fill="none" stroke="#32d232" stroke-width="9" stroke-linecap="round"/>
<path d="M323.5,500l-0.5,5l-1,4.5l-1,2.5l-1,1.5l-0.5,-0.5M345.5,494l2,3l1.5,5l1,5l-0.5,5.5l-0.5,4.5l-1.5,3.5l-1,2l-0.5,0.5M370,502.5l3,2.5l2,4l1,5l0,5.5l-0.5,5l-1,4l-1,3l-1,1.5" fill="none" stroke="#79e179" stroke-width="2.5200000000000005" stroke-linecap="round" transform="translate(-1,-1.5)"/>
<path d="M391,481.5l0.5,-0.5l2.5,-0.5l3.5,0l5,0l5.5,0.5l6,1l5.5,1.5l5.5,2l5,2.5l3.5,2.5l2,3.5l1,3M394,519l1.5,0l2.5,-0.5l4,0l5,0l5.5,0.5l6,1l6,2l5,2l4.5,2.5l3.5,2.5l1.5,3.5l0.5,3.5M397.5,557l1.5,-0.5l3,0l4.5,0l5,0l6,1l6,1l5.5,1.5l5,2l4.5,3l2.5,3l1.5,3l0,3.5M401,594.5l2,0l3.5,-0.5l4.5,0l5.5,0.5l5.5,1l6,1l5.5,2l5,2l4,3l2.5,3l1,3.5l0,3.5M404,633l1,-0.5l2,-0.5l3.5,0l5,0l5.5,0.5l6,1l5.5,1.5l5.5,2l5,2l3.5,3l2,3l1,3.5M407.5,670.5l1,-0.5l2.5,0l4,0l5,0l5.5,0.5l6,1l6,1.5l5,2l4.5,2.5l3.5,3l2,3.5l0,3.5" fill="none" stroke="#197c6d" stroke-width="12.4" stroke-linecap="round"/>
<path d="M391,481.5l0.5,-0.5l2.5,-0.5l3.5,0l5,0l5.5,0.5l6,1l5.5,1.5l5.5,2l5,2.5l3.5,2.5l2,3.5l1,3M394,519l1.5,0l2.5,-0.5l4,0l5,0l5.5,0.5l6,1l6,2l5,2l4.5,2.5l3.5,2.5l1.5,3.5l0.5,3.5M397.5,557l1.5,-0.5l3,0l4.5,0l5,0l6,1l6,1l5.5,1.5l5,2l4.5,3l2.5,3l1.5,3l0,3.5M401,594.5l2,0l3.5,-0.5l4.5,0l5.5,0.5l5.5,1l6,1l5.5,2l5,2l4,3l2.5,3l1,3.5l0,3.5M404,633l1,-0.5l2,-0.5l3.5,0l5,0l5.5,0.5l6,1l5.5,1.5l5.5,2l5,2l3.5,3l2,3l1,3.5M407.5,670.5l1,-0.5l2.5,0l4,0l5,0l5.5,0.5l6,1l6,1.5l5,2l4.5,2.5l3.5,3l2,3.5l0,3.5" fill="none" stroke="#21a691" stroke-width="10" stroke-linecap="round"/>
<path d="M412.5,477l-5.5,2l-5.5,1l-4.5,1l-3.5,0.5l-2,0l-0.5,0M436.5,497l-1,3.5l-2,3.5l-3.5,3.5l-4.5,3l-5.5,2.5l-5.5,2.5l-5.5,1.5l-5,1.5l-4.5,0.5l-3,0.5l-2,0l-0.5,-0.5M439.5,536l-1,3.5l-2.5,3.5l-4,3l-4.5,3l-5.5,2.5l-5.5,2l-5.5,2l-5,1l-4,0.5l-3,0.5l-1.5,-0.5M442.5,574.5l-1.5,3.5l-2.5,3.5l-4,3l-5,3l-5.5,2.5l-6,2l-5,1.5l-5,1l-3.5,0.5l-2.5,0l-1.5,0l0.5,-0.5M446,613.5l-2,3.5l-3.5,3l-4,3.5l-5.5,2.5l-5.5,2.5l-5.5,2l-5,1l-4.5,1l-3.5,0.5l-2.5,0l-0.5,0M449.5,648.5l-1,3.5l-2,3.5l-3.5,3.5l-4.5,3l-5.5,2.5l-5.5,2.5l-5.5,1.5l-5,1.5l-4.5,0.5l-3,0.5l-2,0l0,-0.5M452.5,687.5l-1,3.5l-2.5,3.5l-4,3l-4.5,3l-5.5,2.5l-5.5,2l-5.5,1.5l-5,1.5" fill="none" stroke="#1c8d7b" stroke-width="12.6" stroke-linecap="round"/>
<path d="M412.5,477l-5.5,2l-5.5,1l-4.5,1l-3.5,0.5l-2,0l-0.5,0M436.5,497l-1,3.5l-2,3.5l-3.5,3.5l-4.5,3l-5.5,2.5l-5.5,2.5l-5.5,1.5l-5,1.5l-4.5,0.5l-3,0.5l-2,0l-0.5,-0.5M439.5,536l-1,3.5l-2.5,3.5l-4,3l-4.5,3l-5.5,2.5l-5.5,2l-5.5,2l-5,1l-4,0.5l-3,0.5l-1.5,-0.5M442.5,574.5l-1.5,3.5l-2.5,3.5l-4,3l-5,3l-5.5,2.5l-6,2l-5,1.5l-5,1l-3.5,0.5l-2.5,0l-1.5,0l0.5,-0.5M446,613.5l-2,3.5l-3.5,3l-4,3.5l-5.5,2.5l-5.5,2.5l-5.5,2l-5,1l-4.5,1l-3.5,0.5l-2.5,0l-0.5,0M449.5,648.5l-1,3.5l-2,3.5l-3.5,3.5l-4.5,3l-5.5,2.5l-5.5,2.5l-5.5,1.5l-5,1.5l-4.5,0.5l-3,0.5l-2,0l0,-0.5M452.5,687.5l-1,3.5l-2.5,3.5l-4,3l-4.5,3l-5.5,2.5l-5.5,2l-5.5,1.5l-5,1.5" fill="none" stroke="#2ad0b6" stroke-width="11" stroke-linecap="round"/>
<path d="M412.5,477l-5.5,2l-5.5,1l-4.5,1l-3.5,0.5l-2,0l-0.5,0M436.5,497l-1,3.5l-2,3.5l-3.5,3.5l-4.5,3l-5.5,2.5l-5.5,2.5l-5.5,1.5l-5,1.5l-4.5,0.5l-3,0.5l-2,0l-0.5,-0.5M439.5,536l-1,3.5l-2.5,3.5l-4,3l-4.5,3l-5.5,2.5l-5.5,2l-5.5,2l-5,1l-4,0.5l-3,0.5l-1.5,-0.5M442.5,574.5l-1.5,3.5l-2.5,3.5l-4,3l-5,3l-5.5,2.5l-6,2l-5,1.5l-5,1l-3.5,0.5l-2.5,0l-1.5,0l0.5,-0.5M446,613.5l-2,3.5l-3.5,3l-4,3.5l-5.5,2.5l-5.5,2.5l-5.5,2l-5,1l-4.5,1l-3.5,0.5l-2.5,0l-0.5,0M449.5,648.5l-1,3.5l-2,3.5l-3.5,3.5l-4.5,3l-5.5,2.5l-5.5,2.5l-5.5,1.5l-5,1.5l-4.5,0.5l-3,0.5l-2,0l0,-0.5M452.5,687.5l-1,3.5l-2.5,3.5l-4,3l-4.5,3l-5.5,2.5l-5.5,2l-5.5,1.5l-5,1.5" fill="none" stroke="#74e0cf" stroke-width="3.08" stroke-linecap="round" transform="translate(-1,-1.5)"/>
<path d="M489,571l0.5,0l2.5,0l3,0l4.5,0l5,0.5l5.5,1l5,1.5l5,2l4.5,2.5l3,2.5l2,3l1,3.5M492,609l1.5,0l2,-0.5l4,0.5l4.5,0l5,1l5.5,1l5,1.5l5,2l4,2.5l3,2.5l1.5,3l0.5,3.5M495.5,647l1.5,-0.5l3,0l3.5,0l5,0.5l5,1l5.5,1l5,1.5l5,2.5l3.5,2.5l3,2.5l1,3.5l0,3M499,684.5l2,0l3,0l4,0l5,0.5l5,1l5.5,1.5l5,1.5l4.5,2.5l3.5,2.5" fill="none" stroke="#15757a" stroke-width="12.4" stroke-linecap="round"/>
<path d="M489,571l0.5,0l2.5,0l3,0l4.5,0l5,0.5l5.5,1l5,1.5l5,2l4.5,2.5l3,2.5l2,3l1,3.5M492,609l1.5,0l2,-0.5l4,0.5l4.5,0l5,1l5.5,1l5,1.5l5,2l4,2.5l3,2.5l1.5,3l0.5,3.5M495.5,647l1.5,-0.5l3,0l3.5,0l5,0.5l5,1l5.5,1l5,1.5l5,2.5l3.5,2.5l3,2.5l1,3.5l0,3M499,684.5l2,0l3,0l4,0l5,0.5l5,1l5.5,1.5l5,1.5l4.5,2.5l3.5,2.5" fill="none" stroke="#1c9ca3" stroke-width="10" stroke-linecap="round"/>
<path d="M508.5,566.5l-5,1.5l-5,1.5l-4,1l-3,0.5l-2,0l-0.5,0M530.5,587.5l-1,3l-2,3.5l-3,3l-4,3l-5,2.5l-5,2l-5,2l-4.5,1l-4,1l-3,0.5l-1.5,0l-0.5,0M533.5,626l-1,3.5l-2,3l-3.5,3l-4.5,3l-5,2.5l-5,2l-5,1.5l-4.5,1.5l-3.5,0.5l-2.5,0.5l-1.5,0M536.5,664.5l-1,3.5l-3,3.5l-3.5,3l-4.5,2.5l-5,2.5l-5,2l-5,1.5l-4,1l-3.5,0.5l-2.5,0.5l-1,0l0.5,-0.5" fill="none" stroke="#18858a" stroke-width="12.6" stroke-linecap="round"/>
<path d="M508.5,566.5l-5,1.5l-5,1.5l-4,1l-3,0.5l-2,0l-0.5,0M530.5,587.5l-1,3l-2,3.5l-3,3l-4,3l-5,2.5l-5,2l-5,2l-4.5,1l-4,1l-3,0.5l-1.5,0l-0.5,0M533.5,626l-1,3.5l-2,3l-3.5,3l-4.5,3l-5,2.5l-5,2l-5,1.5l-4.5,1.5l-3.5,0.5l-2.5,0.5l-1.5,0M536.5,664.5l-1,3.5l-3,3.5l-3.5,3l-4.5,2.5l-5,2.5l-5,2l-5,1.5l-4,1l-3.5,0.5l-2.5,0.5l-1,0l0.5,-0.5" fill="none" stroke="#24c4cc" stroke-width="11" stroke-linecap="round"/>
<path d="M508.5,566.5l-5,1.5l-5,1.5l-4,1l-3,0.5l-2,0l-0.5,0M530.5,587.5l-1,3l-2,3.5l-3,3l-4,3l-5,2.5l-5,2l-5,2l-4.5,1l-4,1l-3,0.5l-1.5,0l-0.5,0M533.5,626l-1,3.5l-2,3l-3.5,3l-4.5,3l-5,2.5l-5,2l-5,1.5l-4.5,1.5l-3.5,0.5l-2.5,0.5l-1.5,0M536.5,664.5l-1,3.5l-3,3.5l-3.5,3l-4.5,2.5l-5,2.5l-5,2l-5,1.5l-4,1l-3.5,0.5l-2.5,0.5l-1,0l0.5,-0.5" fill="none" stroke="#70d8dd" stroke-width="3.08" stroke-linecap="round" transform="translate(-1,-1.5)"/>
<path d="M325,230l1.5,0l2.5,0.5l3.5,0.5l5,0.5l5.5,0.5l6,1l6,1.5l6,2l5.5,2l5,2.5l4,2.5l2.5,3l1.5,3l0,3M326.5,274l2,0.5l3,0l4,0.5l5.5,0.5l5.5,1l6.5,1.5l6,1.5l6,2l5,2.5l4.5,2.5l3.5,2.5l2,3l0.5,3M327,318l1,0l2.5,0.5l4,0l4.5,1l5.5,0.5l6,1l6.5,1.5l6,2l5.5,2l5,2.5l4,2.5l2.5,3l1.5,3l0,3M328.5,362l2,0.5l3,0l4,0.5l5.5,0.5l5.5,1l6,1.5l6.5,1.5l5.5,2l5.5,2l4.5,3l3,2.5l2.5,3l0.5,3M329,406l1,0l2.5,0.5l4,0l4.5,1l5.5,0.5l6,1l6,1.5l6.5,2l5.5,2l4.5,2.5l4,2.5l3,3l1,3l0,3M330.5,450l1.5,0.5l3,0l4.5,0.5l5,0.5l6,1l6,1.5l6,1.5l6,2l5.5,2l4.5,3l3,2.5l2,3l1,3M331,494l1,0l2.5,0.5l3.5,0l5,1l5.5,0.5l6,1l6,1.5l6,2l5.5,2l5,2.5l4,2.5l2.5,3l1.5,3l0,3M332,538l2,0l3,0.5l4.5,0.5l5,0.5l6,1l6,1.5l6,1.5l6,2l5,2l4.5,2.5l3.5,3l2,3l0.5,3M332.5,582l1.5,0l2.5,0.5l3.5,0l5,0.5l5.5,1l6,1l6,1.5l6,2l5.5,2l5,2.5l4,2.5l2.5,3l1.5,3l0,3M334,626l2,0l3,0.5l4,0.5l5.5,0.5l5.5,1l6.5,1.5l6,1.5l6,2l5,2l4.5,2.5l3.5,3l2,3l0.5,3M334.5,670l1,0l2.5,0.5l4,0l4.5,0.5l5.5,1l6,1l6.5,1.5l6,2l5.5,2l5,2.5l3.5,2.5l3,3l1.5,3" fill="none" stroke="#1a7685" stroke-width="14.4" stroke-linecap="round"/>
<path d="M325,230l1.5,0l2.5,0.5l3.5,0.5l5,0.5l5.5,0.5l6,1l6,1.5l6,2l5.5,2l5,2.5l4,2.5l2.5,3l1.5,3l0,3M326.5,274l2,0.5l3,0l4,0.5l5.5,0.5l5.5,1l6.5,1.5l6,1.5l6,2l5,2.5l4.5,2.5l3.5,2.5l2,3l0.5,3M327,318l1,0l2.5,0.5l4,0l4.5,1l5.5,0.5l6,1l6.5,1.5l6,2l5.5,2l5,2.5l4,2.5l2.5,3l1.5,3l0,3M328.5,362l2,0.5l3,0l4,0.5l5.5,0.5l5.5,1l6,1.5l6.5,1.5l5.5,2l5.5,2l4.5,3l3,2.5l2.5,3l0.5,3M329,406l1,0l2.5,0.5l4,0l4.5,1l5.5,0.5l6,1l6,1.5l6.5,2l5.5,2l4.5,2.5l4,2.5l3,3l1,3l0,3M330.5,450l1.5,0.5l3,0l4.5,0.5l5,0.5l6,1l6,1.5l6,1.5l6,2l5.5,2l4.5,3l3,2.5l2,3l1,3M331,494l1,0l2.5,0.5l3.5,0l5,1l5.5,0.5l6,1l6,1.5l6,2l5.5,2l5,2.5l4,2.5l2.5,3l1.5,3l0,3M332,538l2,0l3,0.5l4.5,0.5l5,0.5l6,1l6,1.5l6,1.5l6,2l5,2l4.5,2.5l3.5,3l2,3l0.5,3M332.5,582l1.5,0l2.5,0.5l3.5,0l5,0.5l5.5,1l6,1l6,1.5l6,2l5.5,2l5,2.5l4,2.5l2.5,3l1.5,3l0,3M334,626l2,0l3,0.5l4,0.5l5.5,0.5l5.5,1l6.5,1.5l6,1.5l6,2l5,2l4.5,2.5l3.5,3l2,3l0.5,3M334.5,670l1,0l2.5,0.5l4,0l4.5,0.5l5.5,1l6,1l6.5,1.5l6,2l5.5,2l5,2.5l3.5,2.5l3,3l1.5,3" fill="none" stroke="#239eb1" stroke-width="12" stroke-linecap="round"/>
<path d="M339,228l-5,1l-4,0.5l-3,0.5l-1.5,0l-0.5,0M379.5,252.5l-1.5,3l-2.5,3l-4,3l-5,2.5l-5.5,2.5l-6,2l-6,1.5l-6,1.5l-5.5,1l-4.5,0.5l-3.5,0.5l-2.5,0.5l-1,0l0.5,0M380.5,295l-0.5,3l-2.5,3l-3,3l-4.5,3l-5.5,2.5l-5.5,2l-6,2l-6.5,1.5l-5.5,1l-5,1l-4,0.5l-3,0l-1.5,0.5l-0.5,0M381.5,340.5l-1.5,3l-3,3l-3.5,3l-5,2.5l-5.5,2.5l-6,2l-6.5,1.5l-5.5,1.5l-5.5,1l-4.5,0.5l-3.5,0.5l-2.5,0.5l-1,0l0.5,0M382.5,383l-1,3l-2,3l-3,3l-4.5,3l-5.5,2.5l-5.5,2l-6.5,2l-6,1.5l-5.5,1l-5,1l-4,0.5l-3,0l-2,0.5M383,428.5l-1,3l-3,3l-4,3l-5,2.5l-5.5,2.5l-6,2l-6,1.5l-6,1.5l-5,1l-5,0.5l-3.5,0.5l-2,0.5l-1,0l0.5,0M384.5,471l-1,3l-2,3l-3.5,3l-4.5,3l-5,2l-6,2.5l-6,1.5l-6,1.5l-5.5,1.5l-5,1l-4.5,0.5l-2.5,0l-2,0.5M385,516.5l-1.5,3l-2.5,3l-4,3l-5,2.5l-5.5,2.5l-6,2l-6,1.5l-6,1.5l-5.5,1l-4.5,0.5l-3.5,0.5l-2.5,0.5l-1,0l0.5,0M386,559l-0.5,3l-2,3l-3.5,3l-4.5,3l-5,2l-6,2.5l-6,1.5l-6,1.5l-6,1.5l-5,0.5l-4,1l-3,0l-1.5,0.5l-0.5,0M387,604.5l-1.5,3l-2.5,3l-4,3l-5,2.5l-5.5,2.5l-6,2l-6,1.5l-6,1.5l-5.5,1l-4.5,0.5l-3.5,0.5l-2.5,0.5l-1,0l0.5,0M388,647l-0.5,3l-2.5,3l-3,3l-4.5,2.5l-5.5,2.5l-5.5,2.5l-6,1.5l-6.5,1.5l-5.5,1.5l-5,0.5l-4,1l-3,0l-1.5,0.5l-0.5,0" fill="none" stroke="#1d8696" stroke-width="14.6" stroke-linecap="round"/>
<path d="M339,228l-5,1l-4,0.5l-3,0.5l-1.5,0l-0.5,0M379.5,252.5l-1.5,3l-2.5,3l-4,3l-5,2.5l-5.5,2.5l-6,2l-6,1.5l-6,1.5l-5.5,1l-4.5,0.5l-3.5,0.5l-2.5,0.5l-1,0l0.5,0M380.5,295l-0.5,3l-2.5,3l-3,3l-4.5,3l-5.5,2.5l-5.5,2l-6,2l-6.5,1.5l-5.5,1l-5,1l-4,0.5l-3,0l-1.5,0.5l-0.5,0M381.5,340.5l-1.5,3l-3,3l-3.5,3l-5,2.5l-5.5,2.5l-6,2l-6.5,1.5l-5.5,1.5l-5.5,1l-4.5,0.5l-3.5,0.5l-2.5,0.5l-1,0l0.5,0M382.5,383l-1,3l-2,3l-3,3l-4.5,3l-5.5,2.5l-5.5,2l-6.5,2l-6,1.5l-5.5,1l-5,1l-4,0.5l-3,0l-2,0.5M383,428.5l-1,3l-3,3l-4,3l-5,2.5l-5.5,2.5l-6,2l-6,1.5l-6,1.5l-5,1l-5,0.5l-3.5,0.5l-2,0.5l-1,0l0.5,0M384.5,471l-1,3l-2,3l-3.5,3l-4.5,3l-5,2l-6,2.5l-6,1.5l-6,1.5l-5.5,1.5l-5,1l-4.5,0.5l-2.5,0l-2,0.5M385,516.5l-1.5,3l-2.5,3l-4,3l-5,2.5l-5.5,2.5l-6,2l-6,1.5l-6,1.5l-5.5,1l-4.5,0.5l-3.5,0.5l-2.5,0.5l-1,0l0.5,0M386,559l-0.5,3l-2,3l-3.5,3l-4.5,3l-5,2l-6,2.5l-6,1.5l-6,1.5l-6,1.5l-5,0.5l-4,1l-3,0l-1.5,0.5l-0.5,0M387,604.5l-1.5,3l-2.5,3l-4,3l-5,2.5l-5.5,2.5l-6,2l-6,1.5l-6,1.5l-5.5,1l-4.5,0.5l-3.5,0.5l-2.5,0.5l-1,0l0.5,0M388,647l-0.5,3l-2.5,3l-3,3l-4.5,2.5l-5.5,2.5l-5.5,2.5l-6,1.5l-6.5,1.5l-5.5,1.5l-5,0.5l-4,1l-3,0l-1.5,0.5l-0.5,0" fill="none" stroke="#2cc6de" stroke-width="13" stroke-linecap="round"/>
<path d="M339,228l-5,1l-4,0.5l-3,0.5l-1.5,0l-0.5,0M379.5,252.5l-1.5,3l-2.5,3l-4,3l-5,2.5l-5.5,2.5l-6,2l-6,1.5l-6,1.5l-5.5,1l-4.5,0.5l-3.5,0.5l-2.5,0.5l-1,0l0.5,0M380.5,295l-0.5,3l-2.5,3l-3,3l-4.5,3l-5.5,2.5l-5.5,2l-6,2l-6.5,1.5l-5.5,1l-5,1l-4,0.5l-3,0l-1.5,0.5l-0.5,0M381.5,340.5l-1.5,3l-3,3l-3.5,3l-5,2.5l-5.5,2.5l-6,2l-6.5,1.5l-5.5,1.5l-5.5,1l-4.5,0.5l-3.5,0.5l-2.5,0.5l-1,0l0.5,0M382.5,383l-1,3l-2,3l-3,3l-4.5,3l-5.5,2.5l-5.5,2l-6.5,2l-6,1.5l-5.5,1l-5,1l-4,0.5l-3,0l-2,0.5M383,428.5l-1,3l-3,3l-4,3l-5,2.5l-5.5,2.5l-6,2l-6,1.5l-6,1.5l-5,1l-5,0.5l-3.5,0.5l-2,0.5l-1,0l0.5,0M384.5,471l-1,3l-2,3l-3.5,3l-4.5,3l-5,2l-6,2.5l-6,1.5l-6,1.5l-5.5,1.5l-5,1l-4.5,0.5l-2.5,0l-2,0.5M385,516.5l-1.5,3l-2.5,3l-4,3l-5,2.5l-5.5,2.5l-6,2l-6,1.5l-6,1.5l-5.5,1l-4.5,0.5l-3.5,0.5l-2.5,0.5l-1,0l0.5,0M386,559l-0.5,3l-2,3l-3.5,3l-4.5,3l-5,2l-6,2.5l-6,1.5l-6,1.5l-6,1.5l-5,0.5l-4,1l-3,0l-1.5,0.5l-0.5,0M387,604.5l-1.5,3l-2.5,3l-4,3l-5,2.5l-5.5,2.5l-6,2l-6,1.5l-6,1.5l-5.5,1l-4.5,0.5l-3.5,0.5l-2.5,0.5l-1,0l0.5,0M388,647l-0.5,3l-2.5,3l-3,3l-4.5,2.5l-5.5,2.5l-5.5,2.5l-6,1.5l-6.5,1.5l-5.5,1.5l-5,0.5l-4,1l-3,0l-1.5,0.5l-0.5,0" fill="none" stroke="#75d9e9" stroke-width="3.6400000000000006" stroke-linecap="round" transform="translate(-1,-1.5)"/>
<path d="M394,210l3.5,0l4,0.5l5,1l6,1l6,1.5l6,2l5.5,2l4.5,2.5l4,2.5l2.5,3l1,3l0,3M392.5,251.5l1.5,0l3,0.5l4,0.5l5,0.5l5.5,1l6,1.5l6,2l5.5,2l5,2l4,3l3,2.5l1.5,3l0,3M393,293.5l1,0l2.5,0.5l4,0.5l4.5,0.5l5.5,1l6,1l6,2l5.5,2l5.5,2l4,2.5l3.5,3l1.5,3l0.5,3M393.5,335.5l1,0l2,0.5l3.5,0l4.5,1l5,0.5l6,1.5l6,1.5l5.5,2l5.5,2l4.5,2.5l3.5,2.5l2.5,3l0.5,3l-0.5,3M394.5,377.5l2,0.5l3,0l4,0.5l5,1l6,1l6,1.5l6,2l5.5,2l4.5,2.5l4,2.5l2.5,3l1,3l0,3M394.5,419.5l1.5,0l3,0.5l4,0.5l5,0.5l5.5,1l6,1.5l6,2l5.5,2l5,2l4,3l3,2.5l1.5,3l0,3M395,461.5l1,0l2.5,0.5l4,0.5l4.5,0.5l5.5,1l6,1l6,2l5.5,2l5.5,2l4,2.5l3.5,3l1.5,3l0.5,3M395.5,503.5l1,0l2,0.5l3.5,0l4.5,1l5,0.5l6,1.5l6,1.5l6,1.5l5,2.5l4.5,2.5l3.5,2.5l2.5,3l0.5,3l-0.5,3" fill="none" stroke="#0e2b78" stroke-width="14.4" stroke-linecap="round"/>
<path d="M394,210l3.5,0l4,0.5l5,1l6,1l6,1.5l6,2l5.5,2l4.5,2.5l4,2.5l2.5,3l1,3l0,3M392.5,251.5l1.5,0l3,0.5l4,0.5l5,0.5l5.5,1l6,1.5l6,2l5.5,2l5,2l4,3l3,2.5l1.5,3l0,3M393,293.5l1,0l2.5,0.5l4,0.5l4.5,0.5l5.5,1l6,1l6,2l5.5,2l5.5,2l4,2.5l3.5,3l1.5,3l0.5,3M393.5,335.5l1,0l2,0.5l3.5,0l4.5,1l5,0.5l6,1.5l6,1.5l5.5,2l5.5,2l4.5,2.5l3.5,2.5l2.5,3l0.5,3l-0.5,3M394.5,377.5l2,0.5l3,0l4,0.5l5,1l6,1l6,1.5l6,2l5.5,2l4.5,2.5l4,2.5l2.5,3l1,3l0,3M394.5,419.5l1.5,0l3,0.5l4,0.5l5,0.5l5.5,1l6,1.5l6,2l5.5,2l5,2l4,3l3,2.5l1.5,3l0,3M395,461.5l1,0l2.5,0.5l4,0.5l4.5,0.5l5.5,1l6,1l6,2l5.5,2l5.5,2l4,2.5l3.5,3l1.5,3l0.5,3M395.5,503.5l1,0l2,0.5l3.5,0l4.5,1l5,0.5l6,1.5l6,1.5l6,1.5l5,2.5l4.5,2.5l3.5,2.5l2.5,3l0.5,3l-0.5,3" fill="none" stroke="#1339a0" stroke-width="12" stroke-linecap="round"/>
<path d="M442,232l-1.5,3l-3,2.5l-4,3l-5,2.5l-6,2l-5.5,2l-6,1.5l-5.5,1l-5,0.5l-4,1l-2.5,0l-1.5,0.5M442.5,273l-1,3l-3,3l-3.5,3l-5,2.5l-5.5,2l-5.5,2l-6,1.5l-6,1l-5,1l-4,0.5l-3,0.5l-1.5,0.5l-0.5,0M443,314.5l-0.5,3l-2.5,3l-3.5,2.5l-4.5,2.5l-5.5,2.5l-5.5,2l-6,1.5l-6,1.5l-5,1l-4.5,0.5l-3.5,0.5l-2,0l-0.5,0.5M443,358.5l-2,3l-3,3l-4.5,2.5l-5,2.5l-5.5,2l-6,1.5l-6,1.5l-5.5,1l-4.5,1l-3.5,0.5l-2.5,0l-1,0.5l0.5,0M444,400l-1.5,3l-3,2.5l-4,3l-5,2.5l-6,2l-5.5,2l-6,1.5l-5.5,1l-5,0.5l-4,1l-2.5,0l-1.5,0.5M444.5,441l-1,3l-2.5,3l-4,3l-5,2.5l-5.5,2l-5.5,2l-6,1.5l-6,1l-5,1l-4,0.5l-3,0.5l-1.5,0.5l-0.5,0M445,482.5l-0.5,3l-2.5,3l-3.5,2.5l-4.5,2.5l-5.5,2.5l-5.5,2l-6,1.5l-6,1.5l-5,1l-4.5,0.5l-3.5,0.5l-2,0l-0.5,0.5M445,526.5l-2,3l-3,3l-4.5,2.5l-5,2.5l-5.5,2l-6,1.5l-6,1.5l-5.5,1l-4.5,1l-3.5,0.5l-2.5,0l-1,0.5" fill="none" stroke="#144a91" stroke-width="14.6" stroke-linecap="round"/>
<path d="M442,232l-1.5,3l-3,2.5l-4,3l-5,2.5l-6,2l-5.5,2l-6,1.5l-5.5,1l-5,0.5l-4,1l-2.5,0l-1.5,0.5M442.5,273l-1,3l-3,3l-3.5,3l-5,2.5l-5.5,2l-5.5,2l-6,1.5l-6,1l-5,1l-4,0.5l-3,0.5l-1.5,0.5l-0.5,0M443,314.5l-0.5,3l-2.5,3l-3.5,2.5l-4.5,2.5l-5.5,2.5l-5.5,2l-6,1.5l-6,1.5l-5,1l-4.5,0.5l-3.5,0.5l-2,0l-0.5,0.5M443,358.5l-2,3l-3,3l-4.5,2.5l-5,2.5l-5.5,2l-6,1.5l-6,1.5l-5.5,1l-4.5,1l-3.5,0.5l-2.5,0l-1,0.5l0.5,0M444,400l-1.5,3l-3,2.5l-4,3l-5,2.5l-6,2l-5.5,2l-6,1.5l-5.5,1l-5,0.5l-4,1l-2.5,0l-1.5,0.5M444.5,441l-1,3l-2.5,3l-4,3l-5,2.5l-5.5,2l-5.5,2l-6,1.5l-6,1l-5,1l-4,0.5l-3,0.5l-1.5,0.5l-0.5,0M445,482.5l-0.5,3l-2.5,3l-3.5,2.5l-4.5,2.5l-5.5,2.5l-5.5,2l-6,1.5l-6,1.5l-5,1l-4.5,0.5l-3.5,0.5l-2,0l-0.5,0.5M445,526.5l-2,3l-3,3l-4.5,2.5l-5,2.5l-5.5,2l-6,1.5l-6,1.5l-5.5,1l-4.5,1l-3.5,0.5l-2.5,0l-1,0.5" fill="none" stroke="#1e6ed6" stroke-width="13" stroke-linecap="round"/>
<path d="M442,232l-1.5,3l-3,2.5l-4,3l-5,2.5l-6,2l-5.5,2l-6,1.5l-5.5,1l-5,0.5l-4,1l-2.5,0l-1.5,0.5M442.5,273l-1,3l-3,3l-3.5,3l-5,2.5l-5.5,2l-5.5,2l-6,1.5l-6,1l-5,1l-4,0.5l-3,0.5l-1.5,0.5l-0.5,0M443,314.5l-0.5,3l-2.5,3l-3.5,2.5l-4.5,2.5l-5.5,2.5l-5.5,2l-6,1.5l-6,1.5l-5,1l-4.5,0.5l-3.5,0.5l-2,0l-0.5,0.5M443,358.5l-2,3l-3,3l-4.5,2.5l-5,2.5l-5.5,2l-6,1.5l-6,1.5l-5.5,1l-4.5,1l-3.5,0.5l-2.5,0l-1,0.5l0.5,0M444,400l-1.5,3l-3,2.5l-4,3l-5,2.5l-6,2l-5.5,2l-6,1.5l-5.5,1l-5,0.5l-4,1l-2.5,0l-1.5,0.5M444.5,441l-1,3l-2.5,3l-4,3l-5,2.5l-5.5,2l-5.5,2l-6,1.5l-6,1l-5,1l-4,0.5l-3,0.5l-1.5,0.5l-0.5,0M445,482.5l-0.5,3l-2.5,3l-3.5,2.5l-4.5,2.5l-5.5,2.5l-5.5,2l-6,1.5l-6,1.5l-5,1l-4.5,0.5l-3.5,0.5l-2,0l-0.5,0.5M445,526.5l-2,3l-3,3l-4.5,2.5l-5,2.5l-5.5,2l-6,1.5l-6,1.5l-5.5,1l-4.5,1l-3.5,0.5l-2.5,0l-1,0.5" fill="none" stroke="#6ca0e4" stroke-width="3.6400000000000006" stroke-linecap="round" transform="translate(-1,-1.5)"/>
<path d="M472,208.5l2,0.5l2.5,0.5l4.5,0.5l4.5,0.5l6,1.5l5.5,1.5l6,1.5l5.5,2.5l5,2.5l4,2.5l2.5,3l1.5,3l0,3M471.5,250.5l1.5,0.5l2.5,0l4,0.5l4.5,1l5.5,1l6,1.5l6,1.5l5.5,2.5l5,2l4.5,3l3,2.5l1.5,3l0.5,3M471.5,292.5l0.5,0.5l2.5,0l3.5,0.5l4.5,1l5.5,1l5.5,1l6,2l6,2l5,2l4.5,2.5l3.5,3l2,3l0.5,3l-0.5,3M471.5,335l2,0l3,0.5l4.5,0.5l5,1l6,1l5.5,2l6,1.5l5.5,2.5l4.5,2.5l4,3l2,2.5l1,3l0,3.5M471,376.5l1.5,0.5l3,0.5l4,0.5l5,0.5l5.5,1.5l6,1.5l6,1.5l5.5,2.5l4.5,2.5l4,2.5l3,3l1.5,3l0,3M470.5,418.5l1,0.5l2.5,0l4,0.5l4.5,1l5.5,1l6,1.5l6,1.5l5.5,2.5l5,2l4.5,3l3,2.5l1.5,3l0.5,3M470,460.5l1,0.5l2,0l3.5,0.5l4.5,1l5.5,1l5.5,1l6,2l6,2l5,2l4.5,2.5l3.5,3l2,3l1,3l-1,3M470,503l2,0l3.5,0.5l4,0.5l5,1l6,1l6,2l5.5,1.5l5.5,2.5l5,2.5l3.5,3l2.5,2.5l1,3l-0.5,3M469.5,544.5l1.5,0.5l3,0.5l4,0.5l5,0.5l5.5,1.5l6,1.5l6,1.5l5.5,2.5l5,2.5l4,2.5l2.5,3l1.5,3l0,3" fill="none" stroke="#0e2b78" stroke-width="14.4" stroke-linecap="round"/>
<path d="M472,208.5l2,0.5l2.5,0.5l4.5,0.5l4.5,0.5l6,1.5l5.5,1.5l6,1.5l5.5,2.5l5,2.5l4,2.5l2.5,3l1.5,3l0,3M471.5,250.5l1.5,0.5l2.5,0l4,0.5l4.5,1l5.5,1l6,1.5l6,1.5l5.5,2.5l5,2l4.5,3l3,2.5l1.5,3l0.5,3M471.5,292.5l0.5,0.5l2.5,0l3.5,0.5l4.5,1l5.5,1l5.5,1l6,2l6,2l5,2l4.5,2.5l3.5,3l2,3l0.5,3l-0.5,3M471.5,335l2,0l3,0.5l4.5,0.5l5,1l6,1l5.5,2l6,1.5l5.5,2.5l4.5,2.5l4,3l2,2.5l1,3l0,3.5M471,376.5l1.5,0.5l3,0.5l4,0.5l5,0.5l5.5,1.5l6,1.5l6,1.5l5.5,2.5l4.5,2.5l4,2.5l3,3l1.5,3l0,3M470.5,418.5l1,0.5l2.5,0l4,0.5l4.5,1l5.5,1l6,1.5l6,1.5l5.5,2.5l5,2l4.5,3l3,2.5l1.5,3l0.5,3M470,460.5l1,0.5l2,0l3.5,0.5l4.5,1l5.5,1l5.5,1l6,2l6,2l5,2l4.5,2.5l3.5,3l2,3l1,3l-1,3M470,503l2,0l3.5,0.5l4,0.5l5,1l6,1l6,2l5.5,1.5l5.5,2.5l5,2.5l3.5,3l2.5,2.5l1,3l-0.5,3M469.5,544.5l1.5,0.5l3,0.5l4,0.5l5,0.5l5.5,1.5l6,1.5l6,1.5l5.5,2.5l5,2.5l4,2.5l2.5,3l1.5,3l0,3" fill="none" stroke="#1339a0" stroke-width="12" stroke-linecap="round"/>
<path d="M476,208l-2.5,0.5l-1.5,0M521.5,231.5l-1.5,3l-2.5,3l-4,2.5l-5,2.5l-5.5,2l-6,1.5l-6,1.5l-5.5,1l-5,1l-4,0.5l-3,0.5l-1.5,0l-0.5,0M521.5,272.5l-1,3l-2.5,3l-4,3l-4.5,2.5l-5.5,2l-5.5,2l-6,1.5l-6,1l-5,1l-4.5,0.5l-3,0l-2,0.5l-0.5,0M520.5,317l-2,3l-3.5,2.5l-4.5,2.5l-5.5,2.5l-5.5,2l-6,1.5l-6,1l-5.5,1l-4.5,0.5l-3.5,0.5l-2,0.5l-1,0l0.5,0.5M520.5,358.5l-2,2.5l-3,3l-4,2.5l-5.5,2.5l-5.5,2l-6,1.5l-6,1.5l-5.5,1l-4.5,0.5l-4,0.5l-2.5,0.5l-1.5,0l0.5,0M520.5,399.5l-1.5,3l-3,3l-4,2.5l-5,2.5l-5.5,2l-6,1.5l-5.5,1.5l-6,1l-5,1l-4,0.5l-3,0.5l-1.5,0M520,440.5l-1,3l-2.5,3l-3.5,3l-5,2.5l-5,2l-6,2l-6,1.5l-6,1l-5,1l-4.5,0.5l-3,0l-2,0.5l-0.5,0M519,485l-2,3l-3.5,2.5l-4.5,2.5l-5,2.5l-6,2l-6,1.5l-6,1l-5,1l-4.5,0.5l-3.5,0.5l-2.5,0.5l-1,0l0.5,0.5M519,526l-1.5,3l-3.5,3l-4,2.5l-5,2.5l-6,2l-6,1.5l-5.5,1.5l-5.5,1l-5,0.5l-4,0.5l-2.5,0.5l-1,0M519,567.5l-1.5,3l-3,3l-3.5,2.5l-5,2.5l-5.5,2l-6,1.5l-6,1.5" fill="none" stroke="#144a91" stroke-width="14.6" stroke-linecap="round"/>
<path d="M476,208l-2.5,0.5l-1.5,0M521.5,231.5l-1.5,3l-2.5,3l-4,2.5l-5,2.5l-5.5,2l-6,1.5l-6,1.5l-5.5,1l-5,1l-4,0.5l-3,0.5l-1.5,0l-0.5,0M521.5,272.5l-1,3l-2.5,3l-4,3l-4.5,2.5l-5.5,2l-5.5,2l-6,1.5l-6,1l-5,1l-4.5,0.5l-3,0l-2,0.5l-0.5,0M520.5,317l-2,3l-3.5,2.5l-4.5,2.5l-5.5,2.5l-5.5,2l-6,1.5l-6,1l-5.5,1l-4.5,0.5l-3.5,0.5l-2,0.5l-1,0l0.5,0.5M520.5,358.5l-2,2.5l-3,3l-4,2.5l-5.5,2.5l-5.5,2l-6,1.5l-6,1.5l-5.5,1l-4.5,0.5l-4,0.5l-2.5,0.5l-1.5,0l0.5,0M520.5,399.5l-1.5,3l-3,3l-4,2.5l-5,2.5l-5.5,2l-6,1.5l-5.5,1.5l-6,1l-5,1l-4,0.5l-3,0.5l-1.5,0M520,440.5l-1,3l-2.5,3l-3.5,3l-5,2.5l-5,2l-6,2l-6,1.5l-6,1l-5,1l-4.5,0.5l-3,0l-2,0.5l-0.5,0M519,485l-2,3l-3.5,2.5l-4.5,2.5l-5,2.5l-6,2l-6,1.5l-6,1l-5,1l-4.5,0.5l-3.5,0.5l-2.5,0.5l-1,0l0.5,0.5M519,526l-1.5,3l-3.5,3l-4,2.5l-5,2.5l-6,2l-6,1.5l-5.5,1.5l-5.5,1l-5,0.5l-4,0.5l-2.5,0.5l-1,0M519,567.5l-1.5,3l-3,3l-3.5,2.5l-5,2.5l-5.5,2l-6,1.5l-6,1.5" fill="none" stroke="#1e6ed6" stroke-width="13" stroke-linecap="round"/>
<path d="M476,208l-2.5,0.5l-1.5,0M521.5,231.5l-1.5,3l-2.5,3l-4,2.5l-5,2.5l-5.5,2l-6,1.5l-6,1.5l-5.5,1l-5,1l-4,0.5l-3,0.5l-1.5,0l-0.5,0M521.5,272.5l-1,3l-2.5,3l-4,3l-4.5,2.5l-5.5,2l-5.5,2l-6,1.5l-6,1l-5,1l-4.5,0.5l-3,0l-2,0.5l-0.5,0M520.5,317l-2,3l-3.5,2.5l-4.5,2.5l-5.5,2.5l-5.5,2l-6,1.5l-6,1l-5.5,1l-4.5,0.5l-3.5,0.5l-2,0.5l-1,0l0.5,0.5M520.5,358.5l-2,2.5l-3,3l-4,2.5l-5.5,2.5l-5.5,2l-6,1.5l-6,1.5l-5.5,1l-4.5,0.5l-4,0.5l-2.5,0.5l-1.5,0l0.5,0M520.5,399.5l-1.5,3l-3,3l-4,2.5l-5,2.5l-5.5,2l-6,1.5l-5.5,1.5l-6,1l-5,1l-4,0.5l-3,0.5l-1.5,0M520,440.5l-1,3l-2.5,3l-3.5,3l-5,2.5l-5,2l-6,2l-6,1.5l-6,1l-5,1l-4.5,0.5l-3,0l-2,0.5l-0.5,0M519,485l-2,3l-3.5,2.5l-4.5,2.5l-5,2.5l-6,2l-6,1.5l-6,1l-5,1l-4.5,0.5l-3.5,0.5l-2.5,0.5l-1,0l0.5,0.5M519,526l-1.5,3l-3.5,3l-4,2.5l-5,2.5l-6,2l-6,1.5l-5.5,1.5l-5.5,1l-5,0.5l-4,0.5l-2.5,0.5l-1,0M519,567.5l-1.5,3l-3,3l-3.5,2.5l-5,2.5l-5.5,2l-6,1.5l-6,1.5" fill="none" stroke="#6ca0e4" stroke-width="3.6400000000000006" stroke-linecap="round" transform="translate(-1,-1.5)"/>
<path d="M546,205l6.5,1.5l6.5,2l6,2.5l5,2.5l4.5,3l2.5,3l1.5,3l0,3.5M521,245.5l2,0.5l3,0l4.5,0.5l5.5,1l6.5,1l6.5,1.5l6.5,1.5l6,2.5l6,2.5l4.5,2.5l3.5,3l2,3l1,3.5M520.5,289.5l1,0l2.5,0.5l4,0.5l5,0.5l5.5,1l6.5,1l6.5,1.5l6.5,2l6,2.5l5.5,2.5l4,3l3,3l1.5,3l0,3.5M520,333.5l2,0.5l3.5,0l4.5,0.5l5,1l6.5,1l6.5,1.5l6.5,1.5l6.5,2.5l5.5,2.5l4.5,2.5l3.5,3l2.5,3l0.5,3.5M519.5,377.5l1,0l2.5,0.5l4,0.5l5,0.5l6,1l6,1l7,1.5l6,2l6,2.5l5.5,2.5l4,3l3,3l1.5,3l0,3.5M519.5,421.5l1.5,0.5l3.5,0l4.5,0.5l5.5,1l6,1l6.5,1.5l6.5,1.5l6.5,2.5l5.5,2.5l4.5,2.5l3.5,3l2.5,3l0.5,3.5M518.5,465.5l1,0l2.5,0.5l4,0.5l5,0.5l6,1l6.5,1l6.5,1.5l6.5,2l6,2.5l5,2.5l4,3l3,3l1.5,3l0,3.5M518.5,509.5l2,0.5l3,0l4.5,0.5l5.5,1l6,1l6.5,1.5l6.5,1.5l6.5,2.5l5.5,2.5l5,2.5l3.5,3l2,3l0.5,3.5M517.5,553.5l1,0l3,0.5l3.5,0.5l5,0.5l6,1l6.5,1l6.5,1.5l6.5,2l6,2.5l5,2.5l4.5,3l2.5,3l1.5,3l0,3.5M517.5,597.5l2,0.5l3,0l4.5,0.5l5.5,1l6,1l6.5,1.5l7,1.5l6,2.5l5.5,2.5l5,2.5l3.5,3l2,3l1,3.5M516.5,641.5l1.5,0l2.5,0.5l4,0l5,1l5.5,1l6.5,1l6.5,1.5l6.5,2l6,2.5l5,2.5l4.5,3l3,3l1,3l0,3.5M516.5,685.5l2,0.5l3,0l4.5,0.5l5.5,1l6.5,1l6.5,1.5l6.5,1.5l6,2.5l6,2" fill="none" stroke="#1a7685" stroke-width="14.4" stroke-linecap="round"/>
<path d="M546,205l6.5,1.5l6.5,2l6,2.5l5,2.5l4.5,3l2.5,3l1.5,3l0,3.5M521,245.5l2,0.5l3,0l4.5,0.5l5.5,1l6.5,1l6.5,1.5l6.5,1.5l6,2.5l6,2.5l4.5,2.5l3.5,3l2,3l1,3.5M520.5,289.5l1,0l2.5,0.5l4,0.5l5,0.5l5.5,1l6.5,1l6.5,1.5l6.5,2l6,2.5l5.5,2.5l4,3l3,3l1.5,3l0,3.5M520,333.5l2,0.5l3.5,0l4.5,0.5l5,1l6.5,1l6.5,1.5l6.5,1.5l6.5,2.5l5.5,2.5l4.5,2.5l3.5,3l2.5,3l0.5,3.5M519.5,377.5l1,0l2.5,0.5l4,0.5l5,0.5l6,1l6,1l7,1.5l6,2l6,2.5l5.5,2.5l4,3l3,3l1.5,3l0,3.5M519.5,421.5l1.5,0.5l3.5,0l4.5,0.5l5.5,1l6,1l6.5,1.5l6.5,1.5l6.5,2.5l5.5,2.5l4.5,2.5l3.5,3l2.5,3l0.5,3.5M518.5,465.5l1,0l2.5,0.5l4,0.5l5,0.5l6,1l6.5,1l6.5,1.5l6.5,2l6,2.5l5,2.5l4,3l3,3l1.5,3l0,3.5M518.5,509.5l2,0.5l3,0l4.5,0.5l5.5,1l6,1l6.5,1.5l6.5,1.5l6.5,2.5l5.5,2.5l5,2.5l3.5,3l2,3l0.5,3.5M517.5,553.5l1,0l3,0.5l3.5,0.5l5,0.5l6,1l6.5,1l6.5,1.5l6.5,2l6,2.5l5,2.5l4.5,3l2.5,3l1.5,3l0,3.5M517.5,597.5l2,0.5l3,0l4.5,0.5l5.5,1l6,1l6.5,1.5l7,1.5l6,2.5l5.5,2.5l5,2.5l3.5,3l2,3l1,3.5M516.5,641.5l1.5,0l2.5,0.5l4,0l5,1l5.5,1l6.5,1l6.5,1.5l6.5,2l6,2.5l5,2.5l4.5,3l3,3l1,3l0,3.5M516.5,685.5l2,0.5l3,0l4.5,0.5l5.5,1l6.5,1l6.5,1.5l6.5,1.5l6,2.5l6,2" fill="none" stroke="#239eb1" stroke-width="12" stroke-linecap="round"/>
<path d="M578.5,226l-1.5,3l-3,3l-4,3l-5.5,2.5l-6,2l-6.5,2l-6.5,1.5l-6.5,1l-5.5,1l-5,0.5l-4,0l-2.5,0l-1.5,0l0.5,0M578.5,268.5l-1,3l-2,3l-3.5,3l-5,2.5l-5.5,2.5l-6.5,2l-6.5,1.5l-6.5,1.5l-6.5,1l-5.5,0.5l-4.5,0.5l-3,0l-2,0M578,314l-2,3l-2.5,3l-4.5,3l-5,2.5l-6,2l-7,2l-6.5,1.5l-6.5,1l-5.5,1l-5,0.5l-4,0l-2.5,0l-1,0M577.5,356.5l-1,3l-2,3l-3.5,3l-5,2.5l-5.5,2.5l-6.5,2l-6.5,1.5l-6.5,1.5l-6,1l-5.5,0.5l-4.5,0.5l-3.5,0l-2,0M577,402l-1.5,3l-3,3l-4.5,3l-5,2.5l-6,2l-6.5,2l-7,1.5l-6,1l-6,1l-5,0.5l-4,0l-2.5,0l-1,0l0.5,0M576.5,444.5l-0.5,3l-2.5,3l-3.5,3l-5,2.5l-5.5,2.5l-6.5,2l-6.5,1.5l-6.5,1.5l-6,1l-5.5,0.5l-4.5,0.5l-3.5,0l-1.5,0l-0.5,0M576,490l-1.5,3l-3,3l-4,3l-5.5,2.5l-6,2l-6.5,2l-6.5,1.5l-6.5,1l-6,1l-5,0.5l-4,0l-2.5,0l-1,0l0.5,0M575.5,532.5l-0.5,3l-2.5,3l-3.5,3l-4.5,2.5l-6,2.5l-6,2l-7,1.5l-6.5,1.5l-6,1l-5.5,0.5l-4.5,0.5l-3,0l-2,0l-0.5,0M575,578l-1.5,3l-3,3l-4,3l-5.5,2.5l-6,2l-6.5,2l-6.5,1.5l-6.5,1l-6,1l-5,0.5l-3.5,0l-3,0l-1,0l0.5,0M575,620.5l-1,3l-2,3l-4,3l-4.5,2.5l-6,2.5l-6,2l-6.5,1.5l-7,1.5l-6,1l-5.5,0.5l-4.5,0.5l-3,0l-2,0l-0.5,0M574,666l-1.5,3l-3,3l-4,3l-5.5,2.5l-6,2l-6.5,2l-6.5,1.5l-6.5,1l-5.5,0.5l-5,1l-4,0l-2.5,0l-1.5,0l0.5,0" fill="none" stroke="#1d8696" stroke-width="14.6" stroke-linecap="round"/>
<path d="M578.5,226l-1.5,3l-3,3l-4,3l-5.5,2.5l-6,2l-6.5,2l-6.5,1.5l-6.5,1l-5.5,1l-5,0.5l-4,0l-2.5,0l-1.5,0l0.5,0M578.5,268.5l-1,3l-2,3l-3.5,3l-5,2.5l-5.5,2.5l-6.5,2l-6.5,1.5l-6.5,1.5l-6.5,1l-5.5,0.5l-4.5,0.5l-3,0l-2,0M578,314l-2,3l-2.5,3l-4.5,3l-5,2.5l-6,2l-7,2l-6.5,1.5l-6.5,1l-5.5,1l-5,0.5l-4,0l-2.5,0l-1,0M577.5,356.5l-1,3l-2,3l-3.5,3l-5,2.5l-5.5,2.5l-6.5,2l-6.5,1.5l-6.5,1.5l-6,1l-5.5,0.5l-4.5,0.5l-3.5,0l-2,0M577,402l-1.5,3l-3,3l-4.5,3l-5,2.5l-6,2l-6.5,2l-7,1.5l-6,1l-6,1l-5,0.5l-4,0l-2.5,0l-1,0l0.5,0M576.5,444.5l-0.5,3l-2.5,3l-3.5,3l-5,2.5l-5.5,2.5l-6.5,2l-6.5,1.5l-6.5,1.5l-6,1l-5.5,0.5l-4.5,0.5l-3.5,0l-1.5,0l-0.5,0M576,490l-1.5,3l-3,3l-4,3l-5.5,2.5l-6,2l-6.5,2l-6.5,1.5l-6.5,1l-6,1l-5,0.5l-4,0l-2.5,0l-1,0l0.5,0M575.5,532.5l-0.5,3l-2.5,3l-3.5,3l-4.5,2.5l-6,2.5l-6,2l-7,1.5l-6.5,1.5l-6,1l-5.5,0.5l-4.5,0.5l-3,0l-2,0l-0.5,0M575,578l-1.5,3l-3,3l-4,3l-5.5,2.5l-6,2l-6.5,2l-6.5,1.5l-6.5,1l-6,1l-5,0.5l-3.5,0l-3,0l-1,0l0.5,0M575,620.5l-1,3l-2,3l-4,3l-4.5,2.5l-6,2.5l-6,2l-6.5,1.5l-7,1.5l-6,1l-5.5,0.5l-4.5,0.5l-3,0l-2,0l-0.5,0M574,666l-1.5,3l-3,3l-4,3l-5.5,2.5l-6,2l-6.5,2l-6.5,1.5l-6.5,1l-5.5,0.5l-5,1l-4,0l-2.5,0l-1.5,0l0.5,0" fill="none" stroke="#2cc6de" stroke-width="13" stroke-linecap="round"/>
<path d="M578.5,226l-1.5,3l-3,3l-4,3l-5.5,2.5l-6,2l-6.5,2l-6.5,1.5l-6.5,1l-5.5,1l-5,0.5l-4,0l-2.5,0l-1.5,0l0.5,0M578.5,268.5l-1,3l-2,3l-3.5,3l-5,2.5l-5.5,2.5l-6.5,2l-6.5,1.5l-6.5,1.5l-6.5,1l-5.5,0.5l-4.5,0.5l-3,0l-2,0M578,314l-2,3l-2.5,3l-4.5,3l-5,2.5l-6,2l-7,2l-6.5,1.5l-6.5,1l-5.5,1l-5,0.5l-4,0l-2.5,0l-1,0M577.5,356.5l-1,3l-2,3l-3.5,3l-5,2.5l-5.5,2.5l-6.5,2l-6.5,1.5l-6.5,1.5l-6,1l-5.5,0.5l-4.5,0.5l-3.5,0l-2,0M577,402l-1.5,3l-3,3l-4.5,3l-5,2.5l-6,2l-6.5,2l-7,1.5l-6,1l-6,1l-5,0.5l-4,0l-2.5,0l-1,0l0.5,0M576.5,444.5l-0.5,3l-2.5,3l-3.5,3l-5,2.5l-5.5,2.5l-6.5,2l-6.5,1.5l-6.5,1.5l-6,1l-5.5,0.5l-4.5,0.5l-3.5,0l-1.5,0l-0.5,0M576,490l-1.5,3l-3,3l-4,3l-5.5,2.5l-6,2l-6.5,2l-6.5,1.5l-6.5,1l-6,1l-5,0.5l-4,0l-2.5,0l-1,0l0.5,0M575.5,532.5l-0.5,3l-2.5,3l-3.5,3l-4.5,2.5l-6,2.5l-6,2l-7,1.5l-6.5,1.5l-6,1l-5.5,0.5l-4.5,0.5l-3,0l-2,0l-0.5,0M575,578l-1.5,3l-3,3l-4,3l-5.5,2.5l-6,2l-6.5,2l-6.5,1.5l-6.5,1l-6,1l-5,0.5l-3.5,0l-3,0l-1,0l0.5,0M575,620.5l-1,3l-2,3l-4,3l-4.5,2.5l-6,2.5l-6,2l-6.5,1.5l-7,1.5l-6,1l-5.5,0.5l-4.5,0.5l-3,0l-2,0l-0.5,0M574,666l-1.5,3l-3,3l-4,3l-5.5,2.5l-6,2l-6.5,2l-6.5,1.5l-6.5,1l-5.5,0.5l-5,1l-4,0l-2.5,0l-1.5,0l0.5,0" fill="none" stroke="#75d9e9" stroke-width="3.6400000000000006" stroke-linecap="round" transform="translate(-1,-1.5)"/>
<path d="M330,226l-1,-3l-1.5,-4l-1.5,-4.5l-1.5,-5l-0.5,-5l0,-4.5l1,-4l2,-4l2,-4l3,-4l3,-4l3,-4l3.5,-4.5l4,-4.5l4.5,-4.5l4,-4.5l4.5,-4l3.5,-3l3,-2l3,-1.5l2.5,-1l2.5,-0.5l2.5,-0.5l2.5,0.5l2.5,0.5l2.5,1.5l2,1.5l2.5,2l2,2l2.5,2.5l2.5,3l2,3l2.5,3.5l2.5,4l2,4l1.5,3.5l1.5,4l0.5,4l1,4l0.5,4l0.5,3.5l1,3.5l1,3l1,3l1.5,2.5l1,2l1,2l0.5,1.5" fill="none" stroke="#186c7a" stroke-width="7.6" stroke-linecap="round" stroke-linejoin="round"/>
<path d="M330,226l-1,-3l-1.5,-4l-1.5,-4.5l-1.5,-5l-0.5,-5l0,-4.5l1,-4l2,-4l2,-4l3,-4l3,-4l3,-4l3.5,-4.5l4,-4.5l4.5,-4.5l4,-4.5l4.5,-4l3.5,-3l3,-2l3,-1.5l2.5,-1l2.5,-0.5l2.5,-0.5l2.5,0.5l2.5,0.5l2.5,1.5l2,1.5l2.5,2l2,2l2.5,2.5l2.5,3l2,3l2.5,3.5l2.5,4l2,4l1.5,3.5l1.5,4l0.5,4l1,4l0.5,4l0.5,3.5l1,3.5l1,3l1,3l1.5,2.5l1,2l1,2l0.5,1.5" fill="none" stroke="#2cc6de" stroke-width="6" stroke-linecap="round" stroke-linejoin="round"/>
<path d="M378,147l2,-0.5l3,0l3.5,-0.5l4,-0.5l4,-0.5l3.5,0l4,0l4.5,0l4.5,0.5l4,0l3.5,0.5l2.5,0" fill="none" stroke="#1a6572" stroke-width="4.6" stroke-linecap="round" stroke-linejoin="round"/>
<path d="M378,147l2,-0.5l3,0l3.5,-0.5l4,-0.5l4,-0.5l3.5,0l4,0l4.5,0l4.5,0.5l4,0l3.5,0.5l2.5,0" fill="none" stroke="#30b8d0" stroke-width="3" stroke-linecap="round" stroke-linejoin="round"/>
<path d="M396,180l1.5,-1.5l1.5,-2l2.5,-2.5l2,-2.5l2.5,-3l2,-2.5l2,-2.5l2,-3.5l2,-3l1.5,-3l1.5,-2l1,-2" fill="none" stroke="#17316e" stroke-width="4.1" stroke-linecap="round" stroke-linejoin="round"/>
<path d="M396,180l1.5,-1.5l1.5,-2l2.5,-2.5l2,-2.5l2.5,-3l2,-2.5l2,-2.5l2,-3.5l2,-3l1.5,-3l1.5,-2l1,-2" fill="none" stroke="#2a5ac8" stroke-width="2.5" stroke-linecap="round" stroke-linejoin="round"/>
<path d="M520,206l0.5,-2.5l0.5,-4l1,-4.5l0.5,-5l1.5,-5l2,-5l2.5,-5.5l3,-6.5l3.5,-7l4,-6l3.5,-5l3.5,-3l3.5,-1l3,1l3.5,2l3,3l3.5,4l3.5,4l4,5l4,6.5l4.5,7l4.5,7l4,6.5l3,6l2.5,5l2.5,4l2,4l1.5,4l1,3.5l0.5,3.5l-0.5,4l-1,3.5l-2,4l-2,3.5l-1.5,3l-1,2" fill="none" stroke="#186c7a" stroke-width="7.6" stroke-linecap="round" stroke-linejoin="round"/>
<path d="M520,206l0.5,-2.5l0.5,-4l1,-4.5l0.5,-5l1.5,-5l2,-5l2.5,-5.5l3,-6.5l3.5,-7l4,-6l3.5,-5l3.5,-3l3.5,-1l3,1l3.5,2l3,3l3.5,4l3.5,4l4,5l4,6.5l4.5,7l4.5,7l4,6.5l3,6l2.5,5l2.5,4l2,4l1.5,4l1,3.5l0.5,3.5l-0.5,4l-1,3.5l-2,4l-2,3.5l-1.5,3l-1,2" fill="none" stroke="#2cc6de" stroke-width="6" stroke-linecap="round" stroke-linejoin="round"/>
<path d="M730,283l4.5,0.5l6.5,0.5l7.5,0.5l8,1l7.5,1.5l6,3l5,4l4.5,4.5l4,5.5l4,6.5l3,7l2.5,7.5l2,9l1.5,10l1,11l0.5,11l0,10l0,9l-0.5,7.5l-1,7.5l-1.5,6l-1.5,6l-1.5,4.5l-1,3.5" fill="none" stroke="#111c6e" stroke-width="4.6" stroke-linecap="round" stroke-linejoin="round"/>
<path d="M730,283l4.5,0.5l6.5,0.5l7.5,0.5l8,1l7.5,1.5l6,3l5,4l4.5,4.5l4,5.5l4,6.5l3,7l2.5,7.5l2,9l1.5,10l1,11l0.5,11l0,10l0,9l-0.5,7.5l-1,7.5l-1.5,6l-1.5,6l-1.5,4.5l-1,3.5" fill="none" stroke="#2034c8" stroke-width="3" stroke-linecap="round" stroke-linejoin="round"/>
<path d="M615,268l-1.5,3.5l-2.5,5l-3,5.5l-3,6.5l-2.5,6l-2.5,5.5l-2,5.5l-2,6l-2,5.5l-1.5,5.5l-1.5,4.5l-1,3" fill="none" stroke="#111c6e" stroke-width="4.2" stroke-linecap="round" stroke-linejoin="round"/>
<path d="M615,268l-1.5,3.5l-2.5,5l-3,5.5l-3,6.5l-2.5,6l-2.5,5.5l-2,5.5l-2,6l-2,5.5l-1.5,5.5l-1.5,4.5l-1,3" fill="none" stroke="#2034c8" stroke-width="2.6" stroke-linecap="round" stroke-linejoin="round"/>
<path d="M622.5,279.5l-0.5,-2l0,-3.5l0.5,-4.5l1,-5l2,-5l2.5,-4.5l3,-2.5l4,-1.5l3.5,0.5M650.5,278l-0.5,-1l0,-2.5l0,-4l1,-5l1.5,-5l2,-5l3,-3.5l3.5,-2l3.5,-0.5M678.5,276.5l-0.5,-2l0,-3.5l0,-4.5l1.5,-5l2,-5l2.5,-4l3,-3l3.5,-1.5" fill="none" stroke="#102487" stroke-width="10.4" stroke-linecap="round"/>
<path d="M622.5,279.5l-0.5,-2l0,-3.5l0.5,-4.5l1,-5l2,-5l2.5,-4.5l3,-2.5l4,-1.5l3.5,0.5M650.5,278l-0.5,-1l0,-2.5l0,-4l1,-5l1.5,-5l2,-5l3,-3.5l3.5,-2l3.5,-0.5M678.5,276.5l-0.5,-2l0,-3.5l0,-4.5l1.5,-5l2,-5l2.5,-4l3,-3l3.5,-1.5" fill="none" stroke="#1530b4" stroke-width="8" stroke-linecap="round"/>
<path d="M621,265.5l1.5,5l0.5,4.5l0,3l0,1.5l-0.5,0M638.5,251.5l3.5,2l3,3.5l3,5l1.5,4.5l1.5,5l0,3.5l0,2.5l-0.5,0.5M664.5,249.5l4,1.5l3,3l3,4l2.5,5l1.5,4.5l0.5,4.5l0,3l0,1.5l-0.5,0" fill="none" stroke="#122999" stroke-width="10.6" stroke-linecap="round"/>
<path d="M621,265.5l1.5,5l0.5,4.5l0,3l0,1.5l-0.5,0M638.5,251.5l3.5,2l3,3.5l3,5l1.5,4.5l1.5,5l0,3.5l0,2.5l-0.5,0.5M664.5,249.5l4,1.5l3,3l3,4l2.5,5l1.5,4.5l0.5,4.5l0,3l0,1.5l-0.5,0" fill="none" stroke="#1b3de2" stroke-width="9" stroke-linecap="round"/>
<path d="M621,265.5l1.5,5l0.5,4.5l0,3l0,1.5l-0.5,0M638.5,251.5l3.5,2l3,3.5l3,5l1.5,4.5l1.5,5l0,3.5l0,2.5l-0.5,0.5M664.5,249.5l4,1.5l3,3l3,4l2.5,5l1.5,4.5l0.5,4.5l0,3l0,1.5l-0.5,0" fill="none" stroke="#6a80ec" stroke-width="2.5200000000000005" stroke-linecap="round" transform="translate(-1,-1.5)"/>
<path d="M690,281.5l1.5,-1l3.5,-1.5l4.5,-1l5,-0.5l5,0l5,1l4,2l2,3l1,4M700.5,307.5l0.5,-0.5l2.5,-1.5l4,-1l5,-1l5,0l5.5,0.5l4,1.5l3.5,2.5l1.5,3.5M711,333l2,-1l3,-1l4.5,-1l5,-1l5.5,0.5l5,1l3.5,2l2.5,3l1,3.5" fill="none" stroke="#102487" stroke-width="10.4" stroke-linecap="round"/>
<path d="M690,281.5l1.5,-1l3.5,-1.5l4.5,-1l5,-0.5l5,0l5,1l4,2l2,3l1,4M700.5,307.5l0.5,-0.5l2.5,-1.5l4,-1l5,-1l5,0l5.5,0.5l4,1.5l3.5,2.5l1.5,3.5M711,333l2,-1l3,-1l4.5,-1l5,-1l5.5,0.5l5,1l3.5,2l2.5,3l1,3.5" fill="none" stroke="#1530b4" stroke-width="8" stroke-linecap="round"/>
<path d="M702,275.5l-4,3l-3.5,2l-3,1l-1.5,0.5l0,-0.5M721.5,287.5l-1,4l-2,4l-3.5,4l-4,3.5l-4,2.5l-3.5,1.5l-2.5,1l-0.5,-0.5M732,311.5l0,4l-2,4l-2.5,4l-4,3.5l-4,3l-4,2.5l-3,1l-1.5,0l0,-0.5M743,339l-1,4.5l-2.5,4l-3.5,4" fill="none" stroke="#122999" stroke-width="10.6" stroke-linecap="round"/>
<path d="M702,275.5l-4,3l-3.5,2l-3,1l-1.5,0.5l0,-0.5M721.5,287.5l-1,4l-2,4l-3.5,4l-4,3.5l-4,2.5l-3.5,1.5l-2.5,1l-0.5,-0.5M732,311.5l0,4l-2,4l-2.5,4l-4,3.5l-4,3l-4,2.5l-3,1l-1.5,0l0,-0.5M743,339l-1,4.5l-2.5,4l-3.5,4" fill="none" stroke="#1b3de2" stroke-width="9" stroke-linecap="round"/>
<path d="M702,275.5l-4,3l-3.5,2l-3,1l-1.5,0.5l0,-0.5M721.5,287.5l-1,4l-2,4l-3.5,4l-4,3.5l-4,2.5l-3.5,1.5l-2.5,1l-0.5,-0.5M732,311.5l0,4l-2,4l-2.5,4l-4,3.5l-4,3l-4,2.5l-3,1l-1.5,0l0,-0.5M743,339l-1,4.5l-2.5,4l-3.5,4" fill="none" stroke="#6a80ec" stroke-width="2.5200000000000005" stroke-linecap="round" transform="translate(-1,-1.5)"/>
<path d="M792,391.5l-0.5,4l-0.5,6l-1,6.5l-1,5l-1,5l-1,4.5l-1,3.5l-4.5,2l5,11.5l10,-7.5l-3,-3.5l1,-4l1.5,-4.5l1,-5l1,-6l0.5,-6.5l1,-6l0.5,-4z" fill="#1b3de2" stroke="#0e217c" stroke-width="1.3" stroke-linejoin="round"/>
<path d="M822,451.5l1,-4l2.5,-6l2,-6l2.5,-6l2,-6l2.5,-6.5l2,-5.5l5,-3l-4,-11.5l-11,6.5l2.5,5l-2.5,6l-2,6l-2.5,6l-2,6l-2.5,6.5l-2,5.5l-1.5,4z" fill="#1b3de2" stroke="#0e217c" stroke-width="1.3" stroke-linejoin="round"/>
<path d="M598,301l2,6l2,8.5l2.5,10l2.5,9.5l2.5,10l2.5,11l2.5,10l-2.5,8l10,7.5l6,-11.5l-5.5,-6l-2.5,-10l-2.5,-11l-2.5,-10l-2.5,-9.5l-2.5,-10l-2.5,-8.5l-1.5,-6z" fill="#32d232" stroke="#1b731b" stroke-width="1.3" stroke-linejoin="round"/>
<path d="M648.5,331.5l2.5,6l3.5,8l4,9.5l4,8.5l3.5,8.5l4.5,8.5l3.5,8l-1,7l11,5l3,-12l-6,-3.5l-3.5,-7.5l-4,-9l-4,-8l-3.5,-8.5l-4,-9.5l-4,-8.5l-2.5,-5.5z" fill="#32d232" stroke="#1b731b" stroke-width="1.3" stroke-linejoin="round"/>
<path d="M708,320.5l-2,6l-3,8.5l-3.5,10l-3.5,10l-3,11l-3.5,12l-3,11l-6,7l5,11l10,-7l-1.5,-8.5l3,-11.5l3.5,-12l3.5,-11l3,-9.5l3.5,-10l3,-8l2.5,-6z" fill="#28c828" stroke="#166e16" stroke-width="1.3" stroke-linejoin="round"/>
<path d="M645.5,423.5l7.5,5l10.5,7.5l11.5,8l11,7.5l9.5,6l10,5.5l8.5,5l4,7l12.5,-2l-4.5,-12l-8,0l-8.5,-4.5l-10,-6l-9.5,-6l-10.5,-7l-11.5,-8l-10.5,-7.5l-7,-5.5z" fill="#32d232" stroke="#1b731b" stroke-width="1.3" stroke-linejoin="round"/>
<path d="M660,525.5l7,-3.5l10.5,-5.5l12,-5.5l10.5,-5.5l9.5,-5l10,-5l8.5,-5l8,0.5l4.5,-11.5l-12.5,-2.5l-4,6.5l-8.5,4.5l-9.5,5.5l-10,5l-10.5,5.5l-11.5,5.5l-10.5,5.5l-7.5,3.5z" fill="#50d840" stroke="#2c7623" stroke-width="1.3" stroke-linejoin="round"/>
<path d="M536.5,435l0.5,-1.5l1.5,-2.5l3,-3.5l3.5,-3.5l4.5,-3l5,-3l5,-1.5l4,0l4,1.5l2.5,3M561,452.5l0.5,-2l2,-2.5l3,-3.5l4,-3.5l4.5,-3.5l5,-2l5,-1.5l4,0.5l3.5,1.5M585.5,469.5l1,-2l2,-3l3,-3.5l4.5,-3.5l4.5,-3l5,-2l4.5,-1l4.5,1l3,2" fill="none" stroke="#1e7e1e" stroke-width="11.4" stroke-linecap="round"/>
<path d="M536.5,435l0.5,-1.5l1.5,-2.5l3,-3.5l3.5,-3.5l4.5,-3l5,-3l5,-1.5l4,0l4,1.5l2.5,3M561,452.5l0.5,-2l2,-2.5l3,-3.5l4,-3.5l4.5,-3.5l5,-2l5,-1.5l4,0.5l3.5,1.5M585.5,469.5l1,-2l2,-3l3,-3.5l4.5,-3.5l4.5,-3l5,-2l4.5,-1l4.5,1l3,2" fill="none" stroke="#28a828" stroke-width="9" stroke-linecap="round"/>
<path d="M545.5,422l-2,5l-2.5,4l-2,3l-1.5,1.5l-1,-0.5M570,421l1.5,4l0.5,5l-1,5.5l-1.5,5.5l-2.5,4.5l-2,4l-2,2.5l-1.5,1l-0.5,-0.5M592.5,436l2.5,3.5l1,4.5l0,5l-1,5.5l-2,5l-2,4.5l-2.5,3.5l-2,2.5l-1,0.5l0,-1M617.5,454.5l2,3.5l1,4.5l-0.5,5.5" fill="none" stroke="#228e22" stroke-width="11.6" stroke-linecap="round"/>
<path d="M545.5,422l-2,5l-2.5,4l-2,3l-1.5,1.5l-1,-0.5M570,421l1.5,4l0.5,5l-1,5.5l-1.5,5.5l-2.5,4.5l-2,4l-2,2.5l-1.5,1l-0.5,-0.5M592.5,436l2.5,3.5l1,4.5l0,5l-1,5.5l-2,5l-2,4.5l-2.5,3.5l-2,2.5l-1,0.5l0,-1M617.5,454.5l2,3.5l1,4.5l-0.5,5.5" fill="none" stroke="#32d232" stroke-width="10" stroke-linecap="round"/>
<path d="M545.5,422l-2,5l-2.5,4l-2,3l-1.5,1.5l-1,-0.5M570,421l1.5,4l0.5,5l-1,5.5l-1.5,5.5l-2.5,4.5l-2,4l-2,2.5l-1.5,1l-0.5,-0.5M592.5,436l2.5,3.5l1,4.5l0,5l-1,5.5l-2,5l-2,4.5l-2.5,3.5l-2,2.5l-1,0.5l0,-1M617.5,454.5l2,3.5l1,4.5l-0.5,5.5" fill="none" stroke="#79e179" stroke-width="2.8000000000000003" stroke-linecap="round" transform="translate(-1,-1.5)"/>
<path d="M554,514l1.5,-1.5l2.5,-2l4,-2.5l4.5,-2.5l5,-1.5l5,-0.5l4.5,1l3,2l2,3M572.5,535.5l0.5,-1l2,-2l3,-2.5l4.5,-2l5,-2l5,-1l4.5,0l4,1.5l2.5,2.5M590.5,556.5l1.5,-1.5l2.5,-2.5l4,-2.5l4.5,-2l5.5,-1.5l4.5,-0.5l4.5,0.5l3,2l2,3.5" fill="none" stroke="#267c26" stroke-width="10.4" stroke-linecap="round"/>
<path d="M554,514l1.5,-1.5l2.5,-2l4,-2.5l4.5,-2.5l5,-1.5l5,-0.5l4.5,1l3,2l2,3M572.5,535.5l0.5,-1l2,-2l3,-2.5l4.5,-2l5,-2l5,-1l4.5,0l4,1.5l2.5,2.5M590.5,556.5l1.5,-1.5l2.5,-2.5l4,-2.5l4.5,-2l5.5,-1.5l4.5,-0.5l4.5,0.5l3,2l2,3.5" fill="none" stroke="#33a633" stroke-width="8" stroke-linecap="round"/>
<path d="M564,504.5l-3,4l-3,3.5l-2.5,2l-1.5,0.5l0,-0.5M586,509.5l0.5,4l-1,5l-2,5l-2.5,4.5l-3,3.5l-3,2.5l-2,1.5l-0.5,0M603.5,529l1,3.5l0,4.5l-1.5,5l-2.5,5l-3,4l-3,3l-2,2l-1.5,1l-0.5,-0.5M622.5,552" fill="none" stroke="#2b8d2b" stroke-width="10.6" stroke-linecap="round"/>
<path d="M564,504.5l-3,4l-3,3.5l-2.5,2l-1.5,0.5l0,-0.5M586,509.5l0.5,4l-1,5l-2,5l-2.5,4.5l-3,3.5l-3,2.5l-2,1.5l-0.5,0M603.5,529l1,3.5l0,4.5l-1.5,5l-2.5,5l-3,4l-3,3l-2,2l-1.5,1l-0.5,-0.5M622.5,552" fill="none" stroke="#40d040" stroke-width="9" stroke-linecap="round"/>
<path d="M564,504.5l-3,4l-3,3.5l-2.5,2l-1.5,0.5l0,-0.5M586,509.5l0.5,4l-1,5l-2,5l-2.5,4.5l-3,3.5l-3,2.5l-2,1.5l-0.5,0M603.5,529l1,3.5l0,4.5l-1.5,5l-2.5,5l-3,4l-3,3l-2,2l-1.5,1l-0.5,-0.5M622.5,552" fill="none" stroke="#82e082" stroke-width="2.5200000000000005" stroke-linecap="round" transform="translate(-1,-1.5)"/>
<path d="M588,573.5l1.5,-1l3,-1.5l4.5,-1l5,-1l5.5,0l5.5,0l5,1l4.5,2l3,3l2,3M599.5,606l1,-1l2.5,-1.5l4,-1l5,-1l5.5,-0.5l5.5,0l5,1l5,1.5l3.5,2.5l2,3.5l1,3.5M611,638l0.5,-1l2.5,-1l3.5,-1.5l4.5,-1l5.5,-0.5l5.5,0l5.5,0.5l4.5,1.5l4,2.5l2.5,3l1.5,3.5M622.5,669.5l2,-1.5l3.5,-1l4,-1l5.5,-1l5.5,0l5.5,0.5l5,1l4,2.5l3,2.5l1.5,3.5M634,701.5l1.5,-1" fill="none" stroke="#55861c" stroke-width="12.4" stroke-linecap="round"/>
<path d="M588,573.5l1.5,-1l3,-1.5l4.5,-1l5,-1l5.5,0l5.5,0l5,1l4.5,2l3,3l2,3M599.5,606l1,-1l2.5,-1.5l4,-1l5,-1l5.5,-0.5l5.5,0l5,1l5,1.5l3.5,2.5l2,3.5l1,3.5M611,638l0.5,-1l2.5,-1l3.5,-1.5l4.5,-1l5.5,-0.5l5.5,0l5.5,0.5l4.5,1.5l4,2.5l2.5,3l1.5,3.5M622.5,669.5l2,-1.5l3.5,-1l4,-1l5.5,-1l5.5,0l5.5,0.5l5,1l4,2.5l3,2.5l1.5,3.5M634,701.5l1.5,-1" fill="none" stroke="#71b326" stroke-width="10" stroke-linecap="round"/>
<path d="M604.5,567l-4.5,3l-4.5,2.5l-3.5,1l-2.5,1l-1.5,-0.5l0,-0.5M627.5,578l0.5,4l-1,4l-2.5,4.5l-3,4l-4.5,4l-4.5,3l-4.5,2.5l-3.5,1.5l-3,1l-2,0l0,-0.5M639.5,613l-0.5,4l-2,4.5l-3.5,4l-4,4l-4.5,3l-4.5,3l-4,1.5l-3,1l-2,0.5l-0.5,-0.5M651,644l-0.5,4l-1.5,4.5l-3,4l-4,4l-4.5,3.5l-4.5,3l-4,2l-3.5,1l-2,0.5l-1.5,-0.5l0.5,-0.5M662,675l0,4l-1,4.5l-3,4l-3.5,4l-4,3.5l-4.5,3l-4.5,2.5l-3.5,1.5l-3,0.5l-1,0l0,-1" fill="none" stroke="#609820" stroke-width="12.6" stroke-linecap="round"/>
<path d="M604.5,567l-4.5,3l-4.5,2.5l-3.5,1l-2.5,1l-1.5,-0.5l0,-0.5M627.5,578l0.5,4l-1,4l-2.5,4.5l-3,4l-4.5,4l-4.5,3l-4.5,2.5l-3.5,1.5l-3,1l-2,0l0,-0.5M639.5,613l-0.5,4l-2,4.5l-3.5,4l-4,4l-4.5,3l-4.5,3l-4,1.5l-3,1l-2,0.5l-0.5,-0.5M651,644l-0.5,4l-1.5,4.5l-3,4l-4,4l-4.5,3.5l-4.5,3l-4,2l-3.5,1l-2,0.5l-1.5,-0.5l0.5,-0.5M662,675l0,4l-1,4.5l-3,4l-3.5,4l-4,3.5l-4.5,3l-4.5,2.5l-3.5,1.5l-3,0.5l-1,0l0,-1" fill="none" stroke="#8ee030" stroke-width="11" stroke-linecap="round"/>
<path d="M604.5,567l-4.5,3l-4.5,2.5l-3.5,1l-2.5,1l-1.5,-0.5l0,-0.5M627.5,578l0.5,4l-1,4l-2.5,4.5l-3,4l-4.5,4l-4.5,3l-4.5,2.5l-3.5,1.5l-3,1l-2,0l0,-0.5M639.5,613l-0.5,4l-2,4.5l-3.5,4l-4,4l-4.5,3l-4.5,3l-4,1.5l-3,1l-2,0.5l-0.5,-0.5M651,644l-0.5,4l-1.5,4.5l-3,4l-4,4l-4.5,3.5l-4.5,3l-4,2l-3.5,1l-2,0.5l-1.5,-0.5l0.5,-0.5M662,675l0,4l-1,4.5l-3,4l-3.5,4l-4,3.5l-4.5,3l-4.5,2.5l-3.5,1.5l-3,0.5l-1,0l0,-1" fill="none" stroke="#b5ea78" stroke-width="3.08" stroke-linecap="round" transform="translate(-1,-1.5)"/>
<path d="M633.5,556.5l1,-1.5l2,-2.5l3,-2.5l4.5,-3l5,-2.5l5,-2l5,-0.5l4.5,1l3.5,2l2,3M654.5,577.5l1,-1.5l2.5,-2.5l3.5,-3l4.5,-2.5l5,-2.5l5.5,-1.5l5,-0.5l4,1.5l3,2M675.5,599l1.5,-2l2.5,-2.5l4,-3l4.5,-3l5.5,-2l5,-1l5,0l3.5,1.5l3,2.5" fill="none" stroke="#55861c" stroke-width="11.4" stroke-linecap="round"/>
<path d="M633.5,556.5l1,-1.5l2,-2.5l3,-2.5l4.5,-3l5,-2.5l5,-2l5,-0.5l4.5,1l3.5,2l2,3M654.5,577.5l1,-1.5l2.5,-2.5l3.5,-3l4.5,-2.5l5,-2.5l5.5,-1.5l5,-0.5l4,1.5l3,2M675.5,599l1.5,-2l2.5,-2.5l4,-3l4.5,-3l5.5,-2l5,-1l5,0l3.5,1.5l3,2.5" fill="none" stroke="#71b326" stroke-width="9" stroke-linecap="round"/>
<path d="M644.5,545l-3,4.5l-2.5,3.5l-3,2.5l-1.5,1l-1,0M669,548l1,4.5l-1,5l-1.5,5l-2.5,5l-3,4.5l-3,3.5l-2.5,2l-1.5,0.5l-0.5,-0.5M688.5,567l2,3.5l0,4.5l-1,5l-2,5.5l-2.5,5l-3,4l-3,3l-2,1.5l-1.5,0.5l0,-0.5M710,589.5l1.5,4l0,4.5l-1.5,5" fill="none" stroke="#609820" stroke-width="11.6" stroke-linecap="round"/>
<path d="M644.5,545l-3,4.5l-2.5,3.5l-3,2.5l-1.5,1l-1,0M669,548l1,4.5l-1,5l-1.5,5l-2.5,5l-3,4.5l-3,3.5l-2.5,2l-1.5,0.5l-0.5,-0.5M688.5,567l2,3.5l0,4.5l-1,5l-2,5.5l-2.5,5l-3,4l-3,3l-2,1.5l-1.5,0.5l0,-0.5M710,589.5l1.5,4l0,4.5l-1.5,5" fill="none" stroke="#8ee030" stroke-width="10" stroke-linecap="round"/>
<path d="M644.5,545l-3,4.5l-2.5,3.5l-3,2.5l-1.5,1l-1,0M669,548l1,4.5l-1,5l-1.5,5l-2.5,5l-3,4.5l-3,3.5l-2.5,2l-1.5,0.5l-0.5,-0.5M688.5,567l2,3.5l0,4.5l-1,5l-2,5.5l-2.5,5l-3,4l-3,3l-2,1.5l-1.5,0.5l0,-0.5M710,589.5l1.5,4l0,4.5l-1.5,5" fill="none" stroke="#b5ea78" stroke-width="2.8000000000000003" stroke-linecap="round" transform="translate(-1,-1.5)"/>
<path d="M719,431l1,-0.5l2.5,-1l3.5,-0.5l5,-0.5l4.5,0.5l5,1l4.5,1.5l3,2.5l2,3.5l0,3.5M727.5,459.5l1.5,-0.5l3,-1l4,-0.5l4.5,0l5,0.5l5,1l4,2l2.5,2.5l1.5,3.5M736.5,488.5l2,-1l3,-0.5l4,-0.5l5,-0.5l5,1l4.5,1l4,2.5l2.5,2.5l1,3.5M744.5,517.5l1,-0.5l2,-1l3.5,-0.5l4.5,-0.5" fill="none" stroke="#887c15" stroke-width="10.4" stroke-linecap="round"/>
<path d="M719,431l1,-0.5l2.5,-1l3.5,-0.5l5,-0.5l4.5,0.5l5,1l4.5,1.5l3,2.5l2,3.5l0,3.5M727.5,459.5l1.5,-0.5l3,-1l4,-0.5l4.5,0l5,0.5l5,1l4,2l2.5,2.5l1.5,3.5M736.5,488.5l2,-1l3,-0.5l4,-0.5l5,-0.5l5,1l4.5,1l4,2.5l2.5,2.5l1,3.5M744.5,517.5l1,-0.5l2,-1l3.5,-0.5l4.5,-0.5" fill="none" stroke="#b6a61c" stroke-width="8" stroke-linecap="round"/>
<path d="M731.5,425.5l-4,2.5l-3.5,2l-3,1l-2,0.5l0,-0.5M750,441l-1,3.5l-2.5,4l-3.5,3.5l-3.5,3l-4,2.5l-4,1.5l-2.5,1l-1.5,0l0,-0.5M758.5,467l0,3.5l-1.5,4l-2.5,3.5l-3.5,3.5l-4,3l-4,2l-3.5,1.5l-2.5,0.5l-1,0l0.5,0M767.5,496.5l-0.5,4l-2,3.5l-2.5,4l-4,3l-4,3l-4,2l-3,1l-2,0.5l-1,0" fill="none" stroke="#9b8d18" stroke-width="10.6" stroke-linecap="round"/>
<path d="M731.5,425.5l-4,2.5l-3.5,2l-3,1l-2,0.5l0,-0.5M750,441l-1,3.5l-2.5,4l-3.5,3.5l-3.5,3l-4,2.5l-4,1.5l-2.5,1l-1.5,0l0,-0.5M758.5,467l0,3.5l-1.5,4l-2.5,3.5l-3.5,3.5l-4,3l-4,2l-3.5,1.5l-2.5,0.5l-1,0l0.5,0M767.5,496.5l-0.5,4l-2,3.5l-2.5,4l-4,3l-4,3l-4,2l-3,1l-2,0.5l-1,0" fill="none" stroke="#e4d024" stroke-width="9" stroke-linecap="round"/>
<path d="M731.5,425.5l-4,2.5l-3.5,2l-3,1l-2,0.5l0,-0.5M750,441l-1,3.5l-2.5,4l-3.5,3.5l-3.5,3l-4,2.5l-4,1.5l-2.5,1l-1.5,0l0,-0.5M758.5,467l0,3.5l-1.5,4l-2.5,3.5l-3.5,3.5l-4,3l-4,2l-3.5,1.5l-2.5,0.5l-1,0l0.5,0M767.5,496.5l-0.5,4l-2,3.5l-2.5,4l-4,3l-4,3l-4,2l-3,1l-2,0.5l-1,0" fill="none" stroke="#ede070" stroke-width="2.5200000000000005" stroke-linecap="round" transform="translate(-1,-1.5)"/>
<path d="M766.5,516l1.5,-1.5l2.5,-2.5l3.5,-3l4.5,-2.5l5,-2l5,-1.5l4.5,0l4,0.5l3.5,2M789,539.5l0,-1l1.5,-1.5l2.5,-2.5l4,-2.5l4,-3l5,-2l5,-1.5l4.5,0l4.5,0.5l3,2.5M812,561.5l1,-2l3,-2.5l3.5,-2.5l4.5,-2.5l4.5,-2.5l5,-1l5,-0.5l4,1l3,2l2,3" fill="none" stroke="#8d8d24" stroke-width="11.4" stroke-linecap="round"/>
<path d="M766.5,516l1.5,-1.5l2.5,-2.5l3.5,-3l4.5,-2.5l5,-2l5,-1.5l4.5,0l4,0.5l3.5,2M789,539.5l0,-1l1.5,-1.5l2.5,-2.5l4,-2.5l4,-3l5,-2l5,-1.5l4.5,0l4.5,0.5l3,2.5M812,561.5l1,-2l3,-2.5l3.5,-2.5l4.5,-2.5l4.5,-2.5l5,-1l5,-0.5l4,1l3,2l2,3" fill="none" stroke="#bcbc30" stroke-width="9" stroke-linecap="round"/>
<path d="M777,505l-3,4l-2.5,4l-2.5,2.5l-2,1.5l-0.5,0l0,-1M800.5,505.5l2,3.5l0.5,4l0,4.5l-1.5,5l-2,5l-2.5,4.5l-3,3.5l-2.5,2.5l-1.5,1.5l-1,0M823,528.5l2,3l1,4l-0.5,4.5l-1.5,5l-2,5l-2.5,4.5l-3,3.5l-2,2.5l-2,1.5l-1,0l0.5,-0.5M847.5,554l1,4l-0.5,5l-1,5l-2.5,4.5l-2.5,4.5" fill="none" stroke="#a0a028" stroke-width="11.6" stroke-linecap="round"/>
<path d="M777,505l-3,4l-2.5,4l-2.5,2.5l-2,1.5l-0.5,0l0,-1M800.5,505.5l2,3.5l0.5,4l0,4.5l-1.5,5l-2,5l-2.5,4.5l-3,3.5l-2.5,2.5l-1.5,1.5l-1,0M823,528.5l2,3l1,4l-0.5,4.5l-1.5,5l-2,5l-2.5,4.5l-3,3.5l-2,2.5l-2,1.5l-1,0l0.5,-0.5M847.5,554l1,4l-0.5,5l-1,5l-2.5,4.5l-2.5,4.5" fill="none" stroke="#ecec3c" stroke-width="10" stroke-linecap="round"/>
<path d="M777,505l-3,4l-2.5,4l-2.5,2.5l-2,1.5l-0.5,0l0,-1M800.5,505.5l2,3.5l0.5,4l0,4.5l-1.5,5l-2,5l-2.5,4.5l-3,3.5l-2.5,2.5l-1.5,1.5l-1,0M823,528.5l2,3l1,4l-0.5,4.5l-1.5,5l-2,5l-2.5,4.5l-3,3.5l-2,2.5l-2,1.5l-1,0l0.5,-0.5M847.5,554l1,4l-0.5,5l-1,5l-2.5,4.5l-2.5,4.5" fill="none" stroke="#f2f280" stroke-width="2.8000000000000003" stroke-linecap="round" transform="translate(-1,-1.5)"/>
<path d="M674.5,614l1,-1l2,-1.5l3.5,-2l4.5,-1.5l4.5,-1l5,-0.5l4.5,0.5l4,1.5l2.5,2.5l1.5,3M691,638.5l1.5,-1l2.5,-1.5l3.5,-1.5l4.5,-2l5,-1l5,0l4,0.5l3.5,2l2.5,2.5M708,663.5l1.5,-1.5l3,-1.5l4,-1.5l4.5,-1.5l5,-1l4.5,0l4.5,1l3,2l2,3M724.5,689l0.5,-1l2,-1.5l3,-1.5l4,-1.5l5,-1.5l4.5,-0.5" fill="none" stroke="#8b3610" stroke-width="10.4" stroke-linecap="round"/>
<path d="M674.5,614l1,-1l2,-1.5l3.5,-2l4.5,-1.5l4.5,-1l5,-0.5l4.5,0.5l4,1.5l2.5,2.5l1.5,3M691,638.5l1.5,-1l2.5,-1.5l3.5,-1.5l4.5,-2l5,-1l5,0l4,0.5l3.5,2l2.5,2.5M708,663.5l1.5,-1.5l3,-1.5l4,-1.5l4.5,-1.5l5,-1l4.5,0l4.5,1l3,2l2,3M724.5,689l0.5,-1l2,-1.5l3,-1.5l4,-1.5l5,-1.5l4.5,-0.5" fill="none" stroke="#b94816" stroke-width="8" stroke-linecap="round"/>
<path d="M685.5,605l-3.5,3.5l-3,3l-2.5,1.5l-1.5,1l-0.5,0M707.5,614l0,4l-1,4.5l-2.5,4.5l-3,4l-3,3.5l-3,2.5l-2.5,1.5l-1,0.5l-0.5,-0.5M723,636.5l1,3.5l0,4l-1.5,4.5l-2.5,4.5l-3,3.5l-3,3.5l-3,2.5l-2,1l-1,0.5l0,-0.5M740,662.5l1,3.5l-0.5,4l-2,4.5l-2.5,4.5l-3,3.5l-3.5,3l-2.5,2l-2,1.5l-0.5,0" fill="none" stroke="#9d3d13" stroke-width="10.6" stroke-linecap="round"/>
<path d="M685.5,605l-3.5,3.5l-3,3l-2.5,1.5l-1.5,1l-0.5,0M707.5,614l0,4l-1,4.5l-2.5,4.5l-3,4l-3,3.5l-3,2.5l-2.5,1.5l-1,0.5l-0.5,-0.5M723,636.5l1,3.5l0,4l-1.5,4.5l-2.5,4.5l-3,3.5l-3,3.5l-3,2.5l-2,1l-1,0.5l0,-0.5M740,662.5l1,3.5l-0.5,4l-2,4.5l-2.5,4.5l-3,3.5l-3.5,3l-2.5,2l-2,1.5l-0.5,0" fill="none" stroke="#e85a1c" stroke-width="9" stroke-linecap="round"/>
<path d="M685.5,605l-3.5,3.5l-3,3l-2.5,1.5l-1.5,1l-0.5,0M707.5,614l0,4l-1,4.5l-2.5,4.5l-3,4l-3,3.5l-3,2.5l-2.5,1.5l-1,0.5l-0.5,-0.5M723,636.5l1,3.5l0,4l-1.5,4.5l-2.5,4.5l-3,3.5l-3,3.5l-3,2.5l-2,1l-1,0.5l0,-0.5M740,662.5l1,3.5l-0.5,4l-2,4.5l-2.5,4.5l-3,3.5l-3.5,3l-2.5,2l-2,1.5l-0.5,0" fill="none" stroke="#f0936b" stroke-width="2.5200000000000005" stroke-linecap="round" transform="translate(-1,-1.5)"/>
<path d="M742,604l1,-0.5l2.5,-1l3.5,-1l4.5,-1l5,0l5,0.5l4.5,1l3.5,2l2,3l1,3.5M754,631.5l1,-0.5l3,-1l4,-1l4.5,-1l5,0l5,0.5l4,1.5l3,2.5l2,3M765.5,659l2,-1l3,-1l4,-1l5,-0.5l5,0l4.5,1l4,2l3,2.5l1.5,3M777,687" fill="none" stroke="#86200f" stroke-width="10.4" stroke-linecap="round"/>
<path d="M742,604l1,-0.5l2.5,-1l3.5,-1l4.5,-1l5,0l5,0.5l4.5,1l3.5,2l2,3l1,3.5M754,631.5l1,-0.5l3,-1l4,-1l4.5,-1l5,0l5,0.5l4,1.5l3,2.5l2,3M765.5,659l2,-1l3,-1l4,-1l5,-0.5l5,0l4.5,1l4,2l3,2.5l1.5,3M777,687" fill="none" stroke="#b32b14" stroke-width="8" stroke-linecap="round"/>
<path d="M754.5,597.5l-4,3l-3.5,2l-3,1.5l-1.5,0.5l-0.5,-0.5M774.5,610.5l-1,4l-2,4l-3,4l-3.5,3.5l-3.5,2.5l-3.5,2l-2.5,1.5l-1.5,0l0,-0.5M785.5,635.5l0.5,3.5l-1,4l-2.5,4l-3,4l-3.5,3.5l-4,2.5l-3,1.5l-2.5,1l-1,0l0,-0.5M797.5,664l0,4l-1.5,4l-2.5,4l-3.5,3.5l-3.5,3l-3.5,2.5l-3,1.5l-2,1l-1,-0.5" fill="none" stroke="#982411" stroke-width="10.6" stroke-linecap="round"/>
<path d="M754.5,597.5l-4,3l-3.5,2l-3,1.5l-1.5,0.5l-0.5,-0.5M774.5,610.5l-1,4l-2,4l-3,4l-3.5,3.5l-3.5,2.5l-3.5,2l-2.5,1.5l-1.5,0l0,-0.5M785.5,635.5l0.5,3.5l-1,4l-2.5,4l-3,4l-3.5,3.5l-4,2.5l-3,1.5l-2.5,1l-1,0l0,-0.5M797.5,664l0,4l-1.5,4l-2.5,4l-3.5,3.5l-3.5,3l-3.5,2.5l-3,1.5l-2,1l-1,-0.5" fill="none" stroke="#e0361a" stroke-width="9" stroke-linecap="round"/>
<path d="M754.5,597.5l-4,3l-3.5,2l-3,1.5l-1.5,0.5l-0.5,-0.5M774.5,610.5l-1,4l-2,4l-3,4l-3.5,3.5l-3.5,2.5l-3.5,2l-2.5,1.5l-1.5,0l0,-0.5M785.5,635.5l0.5,3.5l-1,4l-2.5,4l-3,4l-3.5,3.5l-4,2.5l-3,1.5l-2.5,1l-1,0l0,-0.5M797.5,664l0,4l-1.5,4l-2.5,4l-3.5,3.5l-3.5,3l-3.5,2.5l-3,1.5l-2,1l-1,-0.5" fill="none" stroke="#ea7c6a" stroke-width="2.5200000000000005" stroke-linecap="round" transform="translate(-1,-1.5)"/>
<path d="M782,592l2,3l3.5,3.5l3.5,5l4,5.5l3,6l2,7l1,8.5l0,10l-1,10.5l-1,11l-1.5,9.5l-1.5,8.5l-2.5,6.5l-3,5.5l-3.5,5l-3,4l-3.5,3.5l-2.5,3.5l-2,3.5l-1.5,2.5l-1.5,3l-1.5,2l-0.5,1.5l-1,1.5" fill="none" stroke="#7b1d0e" stroke-width="5.6" stroke-linecap="round" stroke-linejoin="round"/>
<path d="M782,592l2,3l3.5,3.5l3.5,5l4,5.5l3,6l2,7l1,8.5l0,10l-1,10.5l-1,11l-1.5,9.5l-1.5,8.5l-2.5,6.5l-3,5.5l-3.5,5l-3,4l-3.5,3.5l-2.5,3.5l-2,3.5l-1.5,2.5l-1.5,3l-1.5,2l-0.5,1.5l-1,1.5" fill="none" stroke="#e0361a" stroke-width="4" stroke-linecap="round" stroke-linejoin="round"/>
<path d="M626,352l0,0.5l0,1l-0.5,0.5l0,1l-0.5,1l0,1l-0.5,0.5l-0.5,1l-0.5,0.5l-1,0.5l-0.5,1l-0.5,0.5l-1,0.5l-0.5,0.5l-1,0.5l-1,0.5l-1,0l-0.5,0.5l-1,0l-1,0.5l-1,0l-1,0l-1,0l-1,0l-1,0l-1,-0.5l-1,0l-1,-0.5l-0.5,0l-1,-0.5l-1,-0.5l-0.5,-0.5l-1,-0.5l-0.5,-0.5l-0.5,-1l-1,-0.5l-0.5,-0.5l-0.5,-1l-0.5,-0.5l0,-1l-0.5,-0.5l0,-1l-0.5,-1l0,-0.5l0,-1l0,-1l0,-0.5l0.5,-1l0,-1l0.5,-0.5l0,-1l0.5,-0.5l0.5,-1l0.5,-0.5l1,-0.5l0.5,-1l0.5,-0.5l1,-0.5l0.5,-0.5l1,-0.5l1,-0.5l0.5,0l1,-0.5l1,0l1,-0.5l1,0l1,0l1,0l1,0l1,0l1,0.5l1,0l0.5,0.5l1,0l1,0.5l1,0.5l0.5,0.5l1,0.5l0.5,0.5l0.5,1l1,0.5l0.5,0.5l0.5,1l0.5,0.5l0,1l0.5,1l0,1l0.5,0.5l0,1l0,0.5" fill="none" stroke="#844f17" stroke-width="5.1" stroke-linecap="round" stroke-linejoin="round"/>
<path d="M626,352l0,0.5l0,1l-0.5,0.5l0,1l-0.5,1l0,1l-0.5,0.5l-0.5,1l-0.5,0.5l-1,0.5l-0.5,1l-0.5,0.5l-1,0.5l-0.5,0.5l-1,0.5l-1,0.5l-1,0l-0.5,0.5l-1,0l-1,0.5l-1,0l-1,0l-1,0l-1,0l-1,0l-1,-0.5l-1,0l-1,-0.5l-0.5,0l-1,-0.5l-1,-0.5l-0.5,-0.5l-1,-0.5l-0.5,-0.5l-0.5,-1l-1,-0.5l-0.5,-0.5l-0.5,-1l-0.5,-0.5l0,-1l-0.5,-0.5l0,-1l-0.5,-1l0,-0.5l0,-1l0,-1l0,-0.5l0.5,-1l0,-1l0.5,-0.5l0,-1l0.5,-0.5l0.5,-1l0.5,-0.5l1,-0.5l0.5,-1l0.5,-0.5l1,-0.5l0.5,-0.5l1,-0.5l1,-0.5l0.5,0l1,-0.5l1,0l1,-0.5l1,0l1,0l1,0l1,0l1,0l1,0.5l1,0l0.5,0.5l1,0l1,0.5l1,0.5l0.5,0.5l1,0.5l0.5,0.5l0.5,1l1,0.5l0.5,0.5l0.5,1l0.5,0.5l0,1l0.5,1l0,1l0.5,0.5l0,1l0,0.5" fill="none" stroke="#f0902a" stroke-width="3.5" stroke-linecap="round" stroke-linejoin="round"/>
<path d="M832,445l0,0.5l0,1l-0.5,1l0,1l0,1l-0.5,1l-0.5,1l-0.5,1l-0.5,0.5l-0.5,1l-0.5,0.5l-0.5,1l-0.5,0.5l-1,0.5l-0.5,0.5l-1,0.5l-0.5,0.5l-1,0.5l-0.5,0l-1,0.5l-0.5,0l-1,0l-1,0l-1,0l-0.5,0l-1,-0.5l-0.5,0l-1,-0.5l-1,-0.5l-0.5,-0.5l-0.5,-0.5l-1,-0.5l-0.5,-0.5l-0.5,-1l-0.5,-0.5l-0.5,-1l-0.5,-0.5l-0.5,-1l-0.5,-1l-0.5,-0.5l0,-1l0,-1l-0.5,-1l0,-1l0,-1l0,-1l0,-1l0.5,-1l0,-1l0,-1l0.5,-0.5l0.5,-1l0.5,-1l0.5,-0.5l0.5,-1l0.5,-0.5l0.5,-1l0.5,-0.5l1,-0.5l0.5,-0.5l0.5,-0.5l1,-0.5l1,-0.5l0.5,0l1,-0.5l0.5,0l1,0l1,0l1,0l0.5,0l1,0.5l0.5,0l1,0.5l0.5,0.5l1,0.5l0.5,0.5l1,0.5l0.5,0.5l0.5,1l0.5,0.5l0.5,1l0.5,0.5l0.5,1l0.5,1l0.5,1l0,1l0,1l0.5,1l0,1l0,0.5" fill="none" stroke="#818121" stroke-width="5.1" stroke-linecap="round" stroke-linejoin="round"/>
<path d="M832,445l0,0.5l0,1l-0.5,1l0,1l0,1l-0.5,1l-0.5,1l-0.5,1l-0.5,0.5l-0.5,1l-0.5,0.5l-0.5,1l-0.5,0.5l-1,0.5l-0.5,0.5l-1,0.5l-0.5,0.5l-1,0.5l-0.5,0l-1,0.5l-0.5,0l-1,0l-1,0l-1,0l-0.5,0l-1,-0.5l-0.5,0l-1,-0.5l-1,-0.5l-0.5,-0.5l-0.5,-0.5l-1,-0.5l-0.5,-0.5l-0.5,-1l-0.5,-0.5l-0.5,-1l-0.5,-0.5l-0.5,-1l-0.5,-1l-0.5,-0.5l0,-1l0,-1l-0.5,-1l0,-1l0,-1l0,-1l0,-1l0.5,-1l0,-1l0,-1l0.5,-0.5l0.5,-1l0.5,-1l0.5,-0.5l0.5,-1l0.5,-0.5l0.5,-1l0.5,-0.5l1,-0.5l0.5,-0.5l0.5,-0.5l1,-0.5l1,-0.5l0.5,0l1,-0.5l0.5,0l1,0l1,0l1,0l0.5,0l1,0.5l0.5,0l1,0.5l0.5,0.5l1,0.5l0.5,0.5l1,0.5l0.5,0.5l0.5,1l0.5,0.5l0.5,1l0.5,0.5l0.5,1l0.5,1l0.5,1l0,1l0,1l0.5,1l0,1l0,0.5" fill="none" stroke="#ecec3c" stroke-width="3.5" stroke-linecap="round" stroke-linejoin="round"/>
<path d="M452,640l2,6l2,8.5l3,9.5l3.5,10.5l3.5,9l4,6.5l4,4.5l4.5,3l5,2.5l5.5,1l5.5,0.5l5.5,0.5l6,-0.5l6.5,-2l7,-2.5l7,-2.5l6.5,-1.5l7,-1l7,0.5l7,1l7,1.5l7,2l6.5,2.5l5.5,2.5l4.5,3l4.5,3.5l3.5,4l3,4l2.5,3l2,2.5" fill="none" stroke="#17735d" stroke-width="5.6" stroke-linecap="round" stroke-linejoin="round"/>
<path d="M452,640l2,6l2,8.5l3,9.5l3.5,10.5l3.5,9l4,6.5l4,4.5l4.5,3l5,2.5l5.5,1l5.5,0.5l5.5,0.5l6,-0.5l6.5,-2l7,-2.5l7,-2.5l6.5,-1.5l7,-1l7,0.5l7,1l7,1.5l7,2l6.5,2.5l5.5,2.5l4.5,3l4.5,3.5l3.5,4l3,4l2.5,3l2,2.5" fill="none" stroke="#2ad2aa" stroke-width="4" stroke-linecap="round" stroke-linejoin="round"/>
<path d="M264,468l-4,5.5l-7.5,-1.5l-0.5,-6.5l7,-2l5,4.5M257.5,468.5l18,1.5l-3.5,-2M238,486l-5.5,-4l3.5,-5.5l7.5,0.5l1.5,6l-7,3M239,481l-1,14.5l-3.5,1.5M218.5,466l6,-4.5l6.5,3l-1.5,6l-7.5,1l-3.5,-5.5M225,467l-18.5,-8.5l-7.5,8M241,452l6.5,3.5l-2.5,6l-8,0l-2,-6l6,-3.5M241,457.5l7.5,-12.5l1.5,5.5" fill="none" stroke="#8a1414" stroke-width="2.4" stroke-linejoin="round" opacity="0.9"/>
<circle cx="241.2" cy="469.2" r="2.6" fill="#7a0a0a"/>
<path d="M305,546l-3,4.5l-6.5,-0.5l-1.5,-5l6,-2.5l5,3.5M299.5,546.5l15,-2.5l2,-5M285,563l-5.5,-3.5l2.5,-4.5l6.5,0l2,5l-5.5,3M285,558.5l8,10.5l6.5,-1.5M266.5,549.5l3.5,-4.5l6.5,1.5l0,5l-6,2l-4,-4M272,549l-16.5,-5.5l3,4.5M287,534l5,3.5l-2.5,4.5l-6.5,0l-1.5,-5l5.5,-3M286.5,538.5l10,-11.5l6.5,-2.5" fill="none" stroke="#8a1414" stroke-width="2.4" stroke-linejoin="round" opacity="0.9"/>
<circle cx="285.7" cy="548.5" r="2.6" fill="#7a0a0a"/>
<path d="M345,584.5l-4.5,3.5l-6,-2l0.5,-5l6.5,-1l3.5,4.5M339.5,584l15,1l5,-2.5M325.5,597l-5,-3l2,-4.5l6.5,0l2,4.5l-5.5,3M325.5,593l-1,12l-5,3.5M307,584.5l3,-4.5l6.5,1l0.5,5l-6,2l-4,-3.5M312.5,584l-13.5,5l-1.5,3M326,568.5l5.5,3.5l-2.5,4.5l-6.5,0l-1.5,-5l5,-3M326,573l8,-12.5l-3,6.5" fill="none" stroke="#8a1414" stroke-width="2.4" stroke-linejoin="round" opacity="0.9"/>
<circle cx="325.8" cy="582.9" r="2.6" fill="#7a0a0a"/>
<path d="M438.5,610.5l-4,5.5l-8,-1.5l-0.5,-6l7.5,-2.5l5,4.5M432,611l17.5,-8l-7,-3M413.5,629l-6,-4l3,-5.5l8,0.5l1.5,6l-6.5,3M414,624l-9.5,14.5l-2.5,4M392,611l5,-4.5l7.5,2l-0.5,6l-7.5,2l-4.5,-5.5M398.5,611.5l-19,-4l0.5,-6.5M412,595l7,2.5l-1.5,6.5l-8,0.5l-3.5,-5.5l6,-4M413,600l-4.5,-11.5l-2.5,0" fill="none" stroke="#8a1414" stroke-width="2.4" stroke-linejoin="round" opacity="0.9"/>
<circle cx="415.3" cy="611.9" r="2.6" fill="#7a0a0a"/>
<path d="M494.5,651l-4,4l-6.5,-1.5l0,-5.5l6.5,-1.5l4,4.5M489,651l16,3l3.5,-3M472.5,665l-5,-3.5l3,-4.5l6.5,0.5l1,5.5l-5.5,2M473,661l-2,11.5l-1,-5.5M455.5,650l4,-4l6,2l0,5l-6.5,1.5l-3.5,-4.5M461,650.5l-15.5,-3l-3,-4.5M471.5,636.5l6,2.5l-1,5l-6.5,1l-3,-5l4.5,-3.5M472.5,641l-6,-12.5l-6.5,5" fill="none" stroke="#8a1414" stroke-width="2.4" stroke-linejoin="round" opacity="0.9"/>
<circle cx="474.8" cy="650.8" r="2.6" fill="#7a0a0a"/>
<path d="M559,569l-3,4.5l-7,-1l-1,-5.5l6.5,-2l4.5,4M553.5,569.5l15.5,-4l-4,-7M536,586l-5,-4l3,-5l7,1l1,5l-6,3M537,581l-6.5,13l4,2M518.5,570.5l4,-4.5l7,2l-0.5,5.5l-6.5,1.5l-4,-4.5M524.5,570.5l-16.5,-1.5l0,5M541.5,556l5,3.5l-3,5l-7,-1l-1,-5l6,-2.5M541,560.5l5.5,-13l-6.5,6" fill="none" stroke="#8a1414" stroke-width="2.4" stroke-linejoin="round" opacity="0.9"/>
<circle cx="538.9" cy="570.8" r="2.6" fill="#7a0a0a"/>
<path d="M619,542l-3,5l-6.5,-1l-1,-5l5.5,-2.5l5,3.5M613.5,543l16,-8.5l7.5,-8M598,559l-5,-3.5l3,-5l6.5,1l1,5l-5.5,2.5M598.5,554.5l-6.5,12l1.5,3M581,542.5l5,-3.5l5.5,2l-1,5l-6.5,1l-3,-4.5M586.5,543l-13,-1l-7,4.5M598.5,530.5l5.5,2.5l-1.5,5l-6.5,0.5l-2.5,-4.5l5,-3.5M599,535l-1.5,-11.5l-6,-5.5" fill="none" stroke="#8a1414" stroke-width="2.4" stroke-linejoin="round" opacity="0.9"/>
<circle cx="600.1" cy="544.7" r="2.6" fill="#7a0a0a"/>
<path d="M671.5,492l-4.5,4l-6.5,-2.5l1,-5l6.5,-1l3.5,4.5M665.5,491.5l15,4l1,6.5M653.5,505l-6,-2.5l1.5,-5.5l7,0l2.5,4.5l-5,3.5M653,500.5l-2.5,13l1.5,-2.5M632,491.5l3.5,-4.5l6.5,1.5l0.5,5l-6,2l-4.5,-4M637.5,491.5l-13.5,2l4,1.5M655.5,476l4.5,3.5l-3.5,5l-6.5,-1l-1,-5.5l6.5,-2M654,480.5l-4.5,-13l-6.5,7" fill="none" stroke="#8a1414" stroke-width="2.4" stroke-linejoin="round" opacity="0.9"/>
<circle cx="651.7" cy="490.4" r="2.6" fill="#7a0a0a"/>
<path d="M276,666l-6,4.5l-7,-3l1.5,-6l7.5,-1l4,5.5M269,665l15,1.5l-4.5,7M252,680.5l-6.5,-3.5l3,-6l8,0.5l2,6l-6.5,3M252,675.5l-10,14l5.5,5.5M230,660l5.5,-4l7,3l-1.5,6l-8,1l-3,-6M236.5,661l-19.5,-1l3,-3.5M255,646l6,4.5l-3,5.5l-8,-0.5l-2,-6l7,-3.5M254.5,651.5l11.5,-15l1,-4" fill="none" stroke="#8a1414" stroke-width="2.4" stroke-linejoin="round" opacity="0.9"/>
<circle cx="252.7" cy="663.4" r="2.6" fill="#7a0a0a"/>
<path d="M577.5,649l-4.5,4l-6.5,-2l0.5,-5.5l7,-1l3.5,4.5M571.5,648.5l15.5,-2.5l-1.5,7.5M558,662.5l-6,-3l2,-5l7,-0.5l2.5,5l-5.5,3.5M557.5,658l2.5,12l5,-0.5M537,645.5l4.5,-4l6.5,2.5l-1,5l-7,1l-3,-4.5M543,646l-17.5,5.5l-3.5,6.5M554,632.5l6,2.5l-1,5l-7,1l-3,-4.5l5,-4M555,637l3,-13l-4,-3" fill="none" stroke="#8a1414" stroke-width="2.4" stroke-linejoin="round" opacity="0.9"/>
<circle cx="557.2" cy="647.4" r="2.6" fill="#7a0a0a"/>
<path d="M716.5,650l-5.5,4.5l-7,-2.5l1,-6l7.5,-1l4,5M710,649.5l16,-0.5l-2,-4.5M698,664.5l-6.5,-2.5l1,-6l7.5,-1l3.5,5.5l-5.5,4M697,659.5l2.5,10.5l2,1.5M672,646l5,-4.5l7,2.5l-1,6l-7.5,1l-3.5,-5M678.5,646.5l-19,-7l0,-4.5M695.5,631.5l6,4l-3,5.5l-7.5,-0.5l-2,-5.5l6.5,-3.5M695,636.5l3,-11.5l4.5,4" fill="none" stroke="#8a1414" stroke-width="2.4" stroke-linejoin="round" opacity="0.9"/>
<circle cx="694.1" cy="648.3" r="2.6" fill="#7a0a0a"/>
<path d="M682,604l-3.5,4l-6,-1.5l-0.5,-5l6,-1.5l4,4M676.5,604l14.5,-6l0,4M666.5,618l-5.5,-2l1,-5l6,-1l3,4.5l-4.5,3.5M666,614l5.5,12l-2.5,3.5M644.5,605l3.5,-4l6.5,1l0,5l-6,2l-4,-4M650,605l-15.5,0.5l-6,1M663.5,590.5l5,3l-2,4.5l-6,0l-2,-4.5l5,-3M663.5,594.5l-2,-11l2,3" fill="none" stroke="#8a1414" stroke-width="2.4" stroke-linejoin="round" opacity="0.9"/>
<circle cx="663.4" cy="604.3" r="2.6" fill="#7a0a0a"/>
<path d="M412,560.5l-5,4l-6,-2.5l0.5,-5l7,-1.5l3.5,5M406,560l16,-1.5l-1.5,-1.5M389.5,574l-5,-3.5l2.5,-5l7,0.5l1.5,5.5l-6,2.5M390,569.5l4,13l-6.5,4.5M371,560.5l3.5,-5l7,1.5l0.5,5.5l-6.5,2l-4.5,-4M377,560l-16.5,4l-0.5,5M392.5,543.5l5.5,3.5l-2.5,5l-7,0l-1.5,-5.5l5.5,-3M392.5,548.5l0.5,-11.5l2.5,7.5" fill="none" stroke="#8a1414" stroke-width="2.4" stroke-linejoin="round" opacity="0.9"/>
<circle cx="391.5" cy="558.9" r="2.6" fill="#7a0a0a"/>
<path d="M324.5,450l-4.5,5.5l-7.5,-2l0,-6l7.5,-2l4.5,4.5M318,450.5l18,6l0.5,2.5M300.5,467.5l-6.5,-3.5l3,-6l8,0.5l2,6l-6.5,3M300.5,462.5l2.5,12.5l-7.5,-7M278.5,450l5,-5l7.5,2l-0.5,6.5l-7.5,1.5l-4.5,-5M285,450l-19,2.5l5.5,3M305.5,433.5l5.5,4.5l-3.5,5.5l-8,-1l-1,-6l7,-3M304.5,439l12,-13.5l-5,0.5" fill="none" stroke="#8a1414" stroke-width="2.4" stroke-linejoin="round" opacity="0.9"/>
<circle cx="301.6" cy="450.6" r="2.6" fill="#7a0a0a"/>
<path d="M258,520.5l-3.5,5l-7,-1l-1.5,-5.5l7,-2.5l5,4M252,521l14.5,-2.5l6,6.5M236.5,539l-6,-3.5l2.5,-5.5l7.5,0l2,5.5l-6,3.5M236.5,534l-2,12.5l1,1.5M215.5,525.5l3.5,-5l7,0.5l1.5,6l-6.5,2.5l-5.5,-4M221.5,524.5l-17.5,-3l0,-4.5M233,507l6.5,2.5l-1,6l-7,1l-3.5,-5.5l5,-4M234,512l5,-12l6.5,-6.5" fill="none" stroke="#8a1414" stroke-width="2.4" stroke-linejoin="round" opacity="0.9"/>
<circle cx="236.7" cy="522.9" r="2.6" fill="#7a0a0a"/>
<path d="M386,641l-3.5,5.5l-7.5,-1l-1.5,-6l6.5,-2.5l6,4M379.5,642l15.5,1l6,1M366.5,660.5l-6.5,-2.5l1,-6l8,-1l3.5,5.5l-6,4M366,655.5l11.5,13l5,5.5M341,643l5,-5l7,2.5l-0.5,6l-7.5,1.5l-4,-5M347.5,643l-18.5,6l4.5,1M359.5,627.5l7,2.5l-1,6l-7.5,1l-4,-5l5.5,-4.5M360.5,632.5l3.5,-14.5l2.5,-8" fill="none" stroke="#8a1414" stroke-width="2.4" stroke-linejoin="round" opacity="0.9"/>
<circle cx="363.6" cy="644" r="2.6" fill="#7a0a0a"/>
<path d="M538,609.5l-4.5,4.5l-7,-2l0,-6l7,-1.5l4.5,5M531.5,609l18,5.5l5,-5M512,624.5l-5,-4l4,-5l7,1l1,5.5l-7,2.5M513.5,620l-11.5,13.5l3,-2M495,606.5l5.5,-4l6.5,2.5l-1.5,5.5l-7,1l-3.5,-5M501.5,607l-18,-3l3,-7M515,593l6.5,3l-2,5.5l-7.5,0.5l-2.5,-5.5l5.5,-3.5M515.5,598l-8.5,-12.5l-5,8" fill="none" stroke="#8a1414" stroke-width="2.4" stroke-linejoin="round" opacity="0.9"/>
<circle cx="516.3" cy="608.9" r="2.6" fill="#7a0a0a"/>
<path d="M722.5,557.5l-3.5,5.5l-7.5,-0.5l-1.5,-6l7,-3l5.5,4M716,558.5l19,3.5l-1.5,4M702,577.5l-6.5,-3l1.5,-6l8,-0.5l3,5.5l-6,4M701.5,572.5l5.5,14l-2.5,4.5M677.5,558.5l5.5,-4.5l7,2.5l-1,6l-8,1l-3.5,-5M684,559l-18,0.5l7.5,-4.5M703.5,544l5.5,4.5l-3.5,5l-7.5,-1l-1.5,-5.5l7,-3M702.5,549l10.5,-13l7,-7.5" fill="none" stroke="#8a1414" stroke-width="2.4" stroke-linejoin="round" opacity="0.9"/>
<circle cx="700.1" cy="560.7" r="2.6" fill="#7a0a0a"/>
<rect x="1228.5" y="22" width="529.5" height="1458" fill="#fff" stroke="#a3a3a3" stroke-width="3.6"/>
<g clip-path="url(#c1)">
<rect x="1239.5" y="35" width="514.0" height="476" fill="#3c3a3c"/>
<rect x="1239.5" y="35" width="514.0" height="476" filter="url(#n1)"/>
<path d="M1259,198l24,-70l75,21l-21,75.5zM1244.5,279l34.5,-36l40.5,53.5l-54,61.5l-21,-10.5zM1309,201.5l80.5,-19.5l12.5,123.5l-72,19zM1402,268.5l38.5,2l2,52.5l-40.5,-17.5zM1401.5,158l78,-20l7.5,83l-65.5,12.5zM1388,89.5l12,-14l40.5,33l-15.5,38.5l-39,-17.5zM1444.5,47.5l65,-6l38,64l-45.5,55l-50,-62.5zM1524.5,41.5l48,0l-27.5,41l-15,-20zM1527.5,118l40,-7.5l2.5,42.5l-35,2.5zM1530,160.5l30,-5l0,25.5l-25,10zM1502,168l22.5,-2.5l0,40.5l-20,2.5zM1557.5,175.5l22.5,-22.5l30,22.5l-5,55.5l-45,-5zM1605,196l18,-25.5l35,35.5l-5,35l-43,-15zM1668,196l27.5,-35.5l62.5,45.5l0,78l-80,-28zM1519.5,268.5l15.5,-45l50,12.5l-2.5,54l-58,0zM1610,261l13,-17.5l57.5,22.5l-7.5,29l-58,-5zM1384,186l15,-5l22.5,104l-37.5,5zM1375.5,326.5l30,-9l21,21l-5,21l-39,2zM1428.5,356l14,-14l14,21l-14,16zM1244.5,363l21,2l43.5,45.5l-40,49l-24.5,-19zM1412.5,422.5l24.5,-33l61.5,14l-2,96.5l-47,-9l-37,-19zM1563.5,291.5l49,-49l59.5,28l-21,98l-91,-7zM1609,284.5l28,-26.5l17.5,23l-28,35zM1528.5,375.5l14,-17.5l52.5,21l-7,35l-52.5,-17.5zM1574,431.5l38.5,-45.5l70,59.5l-17.5,66.5l-45.5,-21zM1637,372l31.5,-21l35,28l-14,42l-52.5,-7zM1723,386l30,-7l3,28l-24.5,7zM1674,424.5l29.5,-7l7,35l-31.5,7zM1696.5,442l38.5,-7l3.5,81l-35,0zM1500.5,459.5l35,-12l14,33l-35,10.5zM1500.5,501.5l70,-17.5l7,32l-77,0zM1535.5,295l31.5,-3.5l3.5,24.5l-31.5,0zM1404,233.5l20,0l0,20l-20,0zM1580,228.5l15,0l0,32.5l-15,0zM1244.5,475l11.5,10l-11.5,12z" fill="#132313" opacity="0.85"/>
<path d="M1255,193l24,-70l75,21l-21,75.5z" fill="url(#gc3)" stroke="#bfe2bf" stroke-width="1.6" stroke-linejoin="round"/>
<path d="M1277,186.5l14.5,-42l45,12.5l-12.5,45.5z" fill="none" stroke="#d0ecd0" stroke-width="1.2" opacity="0.5"/>
<path d="M1240.5,274l34.5,-36l40.5,53.5l-54,61.5l-21,-10.5z" fill="url(#gc1)" stroke="#bfe2bf" stroke-width="1.6" stroke-linejoin="round"/>
<path d="M1253,287.5l20.5,-22l24.5,32.5l-32.5,36.5l-12.5,-6z" fill="none" stroke="#d0ecd0" stroke-width="1.2" opacity="0.5"/>
<path d="M1305,196.5l80.5,-19.5l12.5,123.5l-72,19z" fill="url(#gc1)" stroke="#bfe2bf" stroke-width="1.6" stroke-linejoin="round"/>
<path d="M1326.5,220.5l48.5,-12l7.5,74l-43.5,11.5z" fill="none" stroke="#d0ecd0" stroke-width="1.2" opacity="0.5"/>
<path d="M1398,263.5l38.5,2l2,52.5l-40.5,-17.5z" fill="url(#gc1)" stroke="#bfe2bf" stroke-width="1.6" stroke-linejoin="round"/>
<path d="M1397.5,153l78,-20l7.5,83l-65.5,12.5z" fill="url(#gc3)" stroke="#bfe2bf" stroke-width="1.6" stroke-linejoin="round"/>
<path d="M1418,168l46.5,-12l4.5,49.5l-39,7.5z" fill="none" stroke="#d0ecd0" stroke-width="1.2" opacity="0.5"/>
<path d="M1384,84.5l12,-14l40.5,33l-15.5,38.5l-39,-17.5z" fill="url(#gc1)" stroke="#bfe2bf" stroke-width="1.6" stroke-linejoin="round"/>
<path d="M1440.5,42.5l65,-6l38,64l-45.5,55l-50,-62.5z" fill="url(#gc3)" stroke="#bfe2bf" stroke-width="1.6" stroke-linejoin="round"/>
<path d="M1461,63l39.5,-4l22.5,38.5l-27.5,33l-30,-37.5z" fill="none" stroke="#d0ecd0" stroke-width="1.2" opacity="0.5"/>
<path d="M1520.5,36.5l48,0l-27.5,41l-15,-20z" fill="url(#gc1)" stroke="#bfe2bf" stroke-width="1.6" stroke-linejoin="round"/>
<path d="M1523.5,113l40,-7.5l2.5,42.5l-35,2.5z" fill="url(#gc1)" stroke="#bfe2bf" stroke-width="1.6" stroke-linejoin="round"/>
<path d="M1526,155.5l30,-5l0,25.5l-25,10z" fill="url(#gc1)" stroke="#bfe2bf" stroke-width="1.6" stroke-linejoin="round"/>
<path d="M1498,163l22.5,-2.5l0,40.5l-20,2.5z" fill="url(#gc2)" stroke="#bfe2bf" stroke-width="1.6" stroke-linejoin="round"/>
<path d="M1553.5,170.5l22.5,-22.5l30,22.5l-5,55.5l-45,-5z" fill="url(#gc2)" stroke="#bfe2bf" stroke-width="1.6" stroke-linejoin="round"/>
<path d="M1601,191l18,-25.5l35,35.5l-5,35l-43,-15z" fill="url(#gc1)" stroke="#bfe2bf" stroke-width="1.6" stroke-linejoin="round"/>
<path d="M1664,191l27.5,-35.5l62.5,45.5l0,78l-80,-28z" fill="url(#gc3)" stroke="#bfe2bf" stroke-width="1.6" stroke-linejoin="round"/>
<path d="M1683.5,203.5l16.5,-21l37.5,27l0,47l-48,-16.5z" fill="none" stroke="#d0ecd0" stroke-width="1.2" opacity="0.5"/>
<path d="M1515.5,263.5l15.5,-45l50,12.5l-2.5,54l-58,0z" fill="url(#gc2)" stroke="#bfe2bf" stroke-width="1.6" stroke-linejoin="round"/>
<path d="M1529.5,264l9,-27l30,7.5l-1.5,32l-34.5,0z" fill="none" stroke="#d0ecd0" stroke-width="1.2" opacity="0.5"/>
<path d="M1606,256l13,-17.5l57.5,22.5l-7.5,29l-58,-5z" fill="url(#gc1)" stroke="#bfe2bf" stroke-width="1.6" stroke-linejoin="round"/>
<path d="M1380,181l15,-5l22.5,104l-37.5,5z" fill="url(#gc1)" stroke="#bfe2bf" stroke-width="1.6" stroke-linejoin="round"/>
<path d="M1387.5,203.5l9,-3l13.5,62.5l-22.5,3z" fill="none" stroke="#d0ecd0" stroke-width="1.2" opacity="0.5"/>
<path d="M1371.5,321.5l30,-9l21,21l-5,21l-39,2z" fill="url(#gc1)" stroke="#bfe2bf" stroke-width="1.6" stroke-linejoin="round"/>
<path d="M1424.5,351l14,-14l14,21l-14,16z" fill="url(#gc1)" stroke="#bfe2bf" stroke-width="1.6" stroke-linejoin="round"/>
<path d="M1240.5,358l21,2l43.5,45.5l-40,49l-24.5,-19z" fill="url(#gc3)" stroke="#bfe2bf" stroke-width="1.6" stroke-linejoin="round"/>
<path d="M1251,379l12.5,1l26.5,27.5l-24,29.5l-15,-12z" fill="none" stroke="#d0ecd0" stroke-width="1.2" opacity="0.5"/>
<path d="M1408.5,417.5l24.5,-33l61.5,14l-2,96.5l-47,-9l-37,-19z" fill="url(#gc2)" stroke="#bfe2bf" stroke-width="1.6" stroke-linejoin="round"/>
<path d="M1426,430l14.5,-20l37,8.5l-1,58l-28.5,-5.5l-22,-11.5z" fill="none" stroke="#d0ecd0" stroke-width="1.2" opacity="0.5"/>
<path d="M1559.5,286.5l49,-49l59.5,28l-21,98l-91,-7z" fill="url(#gc2)" stroke="#bfe2bf" stroke-width="1.6" stroke-linejoin="round"/>
<path d="M1581,295.5l29,-29.5l36,17l-12.5,59l-55,-4.5z" fill="none" stroke="#d0ecd0" stroke-width="1.2" opacity="0.5"/>
<path d="M1605,279.5l28,-26.5l17.5,23l-28,35z" fill="url(#gc1)" stroke="#bfe2bf" stroke-width="1.6" stroke-linejoin="round"/>
<path d="M1524.5,370.5l14,-17.5l52.5,21l-7,35l-52.5,-17.5z" fill="url(#gc1)" stroke="#bfe2bf" stroke-width="1.6" stroke-linejoin="round"/>
<path d="M1570,426.5l38.5,-45.5l70,59.5l-17.5,66.5l-45.5,-21z" fill="url(#gc1)" stroke="#bfe2bf" stroke-width="1.6" stroke-linejoin="round"/>
<path d="M1594.5,438.5l23.5,-27.5l42,35.5l-10.5,40l-27.5,-12.5z" fill="none" stroke="#d0ecd0" stroke-width="1.2" opacity="0.5"/>
<path d="M1633,367l31.5,-21l35,28l-14,42l-52.5,-7z" fill="url(#gc3)" stroke="#bfe2bf" stroke-width="1.6" stroke-linejoin="round"/>
<path d="M1647,376l19,-12.5l21,17l-8.5,25l-31.5,-4z" fill="none" stroke="#d0ecd0" stroke-width="1.2" opacity="0.5"/>
<path d="M1719,381l30,-7l3,28l-24.5,7z" fill="url(#gc1)" stroke="#bfe2bf" stroke-width="1.6" stroke-linejoin="round"/>
<path d="M1670,419.5l29.5,-7l7,35l-31.5,7z" fill="url(#gc1)" stroke="#bfe2bf" stroke-width="1.6" stroke-linejoin="round"/>
<path d="M1692.5,437l38.5,-7l3.5,81l-35,0z" fill="url(#gc1)" stroke="#bfe2bf" stroke-width="1.6" stroke-linejoin="round"/>
<path d="M1496.5,454.5l35,-12l14,33l-35,10.5z" fill="url(#gc1)" stroke="#bfe2bf" stroke-width="1.6" stroke-linejoin="round"/>
<path d="M1496.5,496.5l70,-17.5l7,32l-77,0z" fill="url(#gc1)" stroke="#bfe2bf" stroke-width="1.6" stroke-linejoin="round"/>
<path d="M1531.5,290l31.5,-3.5l3.5,24.5l-31.5,0z" fill="url(#gc1)" stroke="#bfe2bf" stroke-width="1.6" stroke-linejoin="round"/>
<path d="M1400,228.5l20,0l0,20l-20,0z" fill="url(#gc1)" stroke="#bfe2bf" stroke-width="1.6" stroke-linejoin="round"/>
<path d="M1576,223.5l15,0l0,32.5l-15,0z" fill="url(#gc1)" stroke="#bfe2bf" stroke-width="1.6" stroke-linejoin="round"/>
<path d="M1240.5,470l11.5,10l-11.5,12z" fill="url(#gc1)" stroke="#bfe2bf" stroke-width="1.6" stroke-linejoin="round"/>
</g>
<g clip-path="url(#c2)">
<rect x="1237.5" y="511" width="515.5" height="479" filter="url(#n2)"/>
<path d="M1351,545l-1,2l-2,-1l0,-2l2,0zM1554,737l1,2l-1,2l-2,-2l0,-1zM1268,873l1,-3l4,1l0,3l-2,2zM1246,959l-1,2l-2,-1l0,-2l2,0zM1330,979l1,-4l3,2l1,3l-3,1zM1571,973l-2,1l-1,-2l0,-1l2,0zM1684,910l-1,3l-2,-2l-1,-2l3,-2zM1698,755l2,3l-1,2l-2,0l-1,-3zM1629,517l0,-2l3,0l1,3l-3,0zM1263,658l2,-2l2,2l-1,1l-2,0zM1337,783l1,3l-3,1l-1,-1l1,-2zM1415,574l1,-4l4,-1l1,4l-3,2zM1330,868l3,-1l0,3l-1,3l-4,-2zM1280,962l2,0l-1,2l-1,2l-2,-2zM1555,779l2,-2l2,1l0,3l-3,0zM1360,582l0,2l-2,2l-1,-2l1,-1zM1296,847l2,-1l1,1l0,2l-2,0zM1314,916l2,-1l0,2l-1,1l-2,0zM1368,711l3,-2l2,1l-1,3l-3,0zM1633,827l2,0l0,2l-1,2l-1,-2zM1365,783l3,1l0,2l-3,0l-2,-2zM1563,864l-3,0l0,-3l2,-2l2,2zM1524,806l0,-4l4,0l2,2l-2,3zM1471,779l1,1l0,2l-2,-1l-1,-2zM1408,630l0,1l-2,1l-1,-2l1,-1zM1519,689l3,0l-1,2l-2,1l-1,-2zM1708,944l0,-2l1,-1l2,1l-1,2zM1296,733l-1,1l-2,0l-1,-3l3,-1zM1557,884l1,-1l1,-2l1,2l0,2zM1568,970l1,-3l3,2l0,3l-3,1zM1398,889l1,2l-3,1l-2,-2l1,-3zM1382,606l-3,1l0,-2l1,-2l3,1zM1538,784l-1,-1l2,-3l3,2l-2,2zM1272,768l2,1l-1,2l-2,0l-1,-1zM1662,981l-1,-2l2,-2l3,2l-1,3zM1631,709l0,2l-3,0l-1,-1l2,-2zM1446,968l3,0l2,4l-4,1l-2,-2zM1690,743l-2,2l-2,-3l1,-2l3,0zM1708,650l-3,2l-3,-2l2,-2l2,-1zM1550,832l-4,0l-3,-1l3,-3l3,0zM1516,829l1,3l-1,1l-2,-1l-1,-2zM1628,982l-3,-1l1,-3l3,-1l0,3zM1600,857l-1,-1l1,-2l1,1l2,2zM1318,718l-3,1l-3,-2l2,-2l3,0zM1619,906l2,-1l3,1l-2,3l-2,-1zM1704,878l1,-2l2,0l0,2l-1,2zM1648,955l-1,2l-2,0l-1,-2l2,-2zM1738,683l2,-2l1,2l0,2l-2,-1zM1507,821l2,-1l2,-1l1,3l-3,1zM1374,739l-2,2l-2,-2l0,-2l2,-1zM1711,950l-2,0l-1,-1l0,-1l2,-1zM1569,883l-2,2l-1,-3l1,-1l2,0zM1719,884l-3,0l-1,-3l3,-1l3,1zM1266,524l2,-3l4,2l-2,4l-3,-1zM1265,969l1,-3l3,0l0,3l-1,1zM1299,725l1,2l-1,1l-1,-1l-1,-2zM1304,727l-1,2l-2,0l-1,-3l2,-1zM1633,643l1,-3l3,0l1,3l-3,2zM1570,833l0,3l-3,0l-1,-2l2,-1zM1529,538l2,2l-2,3l-3,-1l0,-4zM1258,884l1,-2l2,1l-1,2l-1,0zM1603,915l0,-3l3,0l1,2l-1,1zM1243,965l-2,3l-2,-1l-1,-2l3,-2zM1731,676l1,1l0,1l-2,0l-1,-2zM1578,895l0,-4l3,0l1,3l-2,2zM1341,769l-2,4l-3,-2l-1,-2l3,-1zM1681,628l2,-2l1,1l1,2l-3,1zM1337,661l-4,-1l0,-3l3,-2l1,3zM1297,886l-1,-2l2,-1l2,1l-1,2zM1593,661l-3,-1l-1,-3l2,-2l2,3zM1432,752l2,0l-1,3l-2,-1l-1,-1zM1469,947l-2,-1l0,-3l3,-1l1,3zM1529,978l0,-4l4,0l2,4l-4,2zM1692,693l1,-3l3,-2l0,4l-1,1zM1644,646l-2,1l-1,-3l2,-2l3,1zM1598,764l2,-2l3,1l-1,3l-2,-1zM1709,881l-1,1l-3,0l0,-3l3,0zM1248,758l2,1l0,3l-3,0l-1,-2zM1660,838l2,1l-1,2l-1,0l-1,-2zM1326,651l0,-1l1,-1l1,1l-1,1zM1559,832l0,-3l3,-1l2,3l-2,2zM1240,544l1,2l-1,2l-4,-1l1,-3zM1564,675l3,0l2,3l-3,2l-3,-2zM1411,763l1,-1l2,-1l1,2l-2,1zM1676,720l-1,-1l-1,-2l2,0l2,1zM1694,548l-2,-2l3,-2l2,2l0,2zM1292,866l-2,2l-2,-1l-1,-2l3,-1zM1588,841l1,1l-1,2l-2,-1l0,-3zM1255,925l-3,1l0,-4l2,-1l2,2zM1372,770l-1,-1l1,-2l2,1l0,2zM1579,756l2,2l-1,2l-3,0l-1,-3zM1266,920l1,0l1,2l-2,0l-1,-1zM1320,912l1,-3l2,-1l2,2l-1,3zM1303,624l3,0l1,3l-3,2l-2,-2zM1267,921l-2,2l-3,-1l0,-3l3,-1zM1627,954l1,3l-2,3l-3,-1l1,-3zM1413,904l-2,3l-2,-2l-1,-3l3,-1zM1514,778l-3,1l-2,-2l1,-2l2,1zM1466,788l-2,-2l2,-3l3,2l-1,2zM1272,658l-1,1l-1,-1l0,-1l1,0zM1308,813l2,1l0,2l-2,0l-2,-2zM1539,745l0,2l-2,1l-1,-1l1,-2zM1730,944l0,-2l1,-2l1,1l1,2zM1466,896l-3,-1l0,-3l2,-1l3,2zM1744,540l0,3l-2,0l-2,0l1,-2zM1574,981l2,1l-1,3l-3,-1l0,-2zM1516,604l-1,2l-1,-1l0,-2l1,0zM1600,966l-1,2l-2,0l0,-2l2,-1zM1271,784l1,3l-1,2l-2,-1l0,-2zM1484,985l3,1l2,2l-2,3l-3,-2zM1397,767l-1,0l-1,-1l2,-2l1,2zM1568,557l0,-2l2,-1l2,2l-2,2zM1739,543l-1,2l-2,1l0,-2l1,-1zM1714,968l1,-2l2,0l1,2l-2,2zM1264,914l0,-2l2,1l1,2l-2,1zM1407,917l1,2l-2,1l-2,-1l1,-3zM1550,922l1,2l-2,2l-2,-1l0,-3zM1496,865l-2,1l-2,-1l2,-2l2,0zM1503,935l2,2l-1,2l-2,0l-1,-2zM1503,636l1,2l-2,-1l-1,-1l1,-1zM1499,834l-1,-3l0,-3l3,1l0,3zM1688,843l-1,2l-2,0l-1,-2l2,-2zM1283,985l0,-3l2,0l1,1l-1,2zM1682,933l3,2l-3,2l-2,0l0,-3zM1722,666l3,1l0,2l-2,2l-3,-3zM1713,860l-1,3l-3,-2l1,-2l2,-1zM1489,669l-2,-2l1,-2l2,0l1,3zM1629,774l0,-3l2,-1l2,2l-2,1zM1683,926l1,-2l2,1l0,2l-3,1zM1236,637l1,-3l3,1l1,3l-4,2zM1445,593l-3,0l-1,-3l2,-1l2,2zM1237,891l0,-2l1,-2l2,2l-1,1zM1478,775l-1,2l-2,1l-1,-3l2,-1zM1343,625l3,1l-1,4l-3,0l-1,-3zM1453,616l-1,-2l1,-1l3,0l-2,2zM1573,936l2,1l-1,2l-2,0l0,-1zM1505,671l1,3l-2,2l-3,-2l2,-3zM1701,719l-1,2l-2,1l0,-2l1,-1zM1267,671l-2,-2l0,-3l3,-1l2,3zM1459,799l-2,3l-2,0l0,-2l1,-1zM1349,776l2,-1l2,2l-2,2l-2,-1zM1659,839l1,2l-1,4l-3,-2l0,-3zM1741,548l-2,1l-1,-2l1,-1l3,-1z" fill="#1e1a18"/>
<path d="M1282,589l-2,0l-1,-1l1,-1l2,0zM1378,979l3,1l-2,2l-3,1l0,-3zM1367,912l-1,-3l4,-1l2,3l-3,3zM1612,684l-2,0l-1,-3l2,0l2,1zM1501,833l0,2l-2,2l-1,-3l1,-2zM1462,926l0,-2l2,-1l2,1l-1,2zM1571,710l-4,-2l2,-3l2,1l3,2zM1742,627l0,-2l1,-1l2,1l-1,2zM1755,883l-1,2l-3,1l-1,-3l3,-2zM1458,560l-2,2l-2,-2l1,-3l3,1zM1390,754l-1,-2l1,-2l3,1l0,2zM1268,552l-1,2l-3,-1l1,-2l3,-2zM1604,555l-2,3l-3,-2l-1,-3l4,-1zM1266,889l3,1l1,2l-3,2l-2,-2zM1270,741l-1,3l-3,2l-2,-3l2,-3zM1425,919l0,-2l2,0l1,2l-2,1zM1487,986l-2,3l-3,-2l-1,-3l4,-1zM1664,868l0,3l-3,2l-2,-3l2,-2zM1263,663l3,1l-1,3l-2,1l-1,-3zM1386,617l2,1l-1,2l-3,0l0,-3zM1428,906l-3,-2l2,-3l3,0l0,3zM1389,769l1,-1l2,1l-1,2l-2,0zM1468,720l3,-2l1,2l1,3l-4,0zM1381,783l1,3l-3,1l-2,-3l2,-3zM1593,747l-1,-1l0,-2l2,1l0,1zM1583,809l-2,0l-1,-2l1,-2l3,1zM1339,987l1,-2l2,1l-1,2l-2,0zM1669,743l-1,3l-3,0l0,-2l2,-2zM1337,711l-3,0l0,-3l3,-2l2,3zM1467,978l-2,-1l1,-2l1,0l1,1zM1509,952l0,4l-3,0l-2,-1l1,-2zM1698,646l2,-1l1,1l0,2l-3,0zM1455,680l-1,-3l3,-2l3,1l-2,3zM1566,981l-2,-3l3,-2l2,2l0,3zM1278,749l0,-2l1,-1l2,1l-1,2zM1410,834l-3,-2l-1,-3l4,-1l2,3zM1269,602l-4,0l-1,-4l4,-1l2,2zM1431,656l0,2l-2,0l-1,-1l1,-1zM1651,853l2,3l-2,3l-3,-2l0,-3zM1575,981l-2,0l-1,-1l0,-2l2,0zM1633,906l1,-2l3,-1l1,3l-3,1zM1357,896l-3,1l-2,-1l1,-3l2,0zM1512,965l-2,2l-3,-1l1,-4l4,0zM1289,914l0,3l-3,1l0,-3l1,-2zM1532,805l2,0l2,2l-2,1l-2,-1zM1245,907l3,0l0,2l-2,1l-2,-1zM1643,561l-2,2l-3,-2l3,-3l3,0zM1713,629l-1,-1l-1,-2l2,-1l1,2zM1358,901l2,-1l2,1l-1,2l-3,0zM1548,976l-2,0l-1,-1l0,-2l2,1zM1668,976l-2,0l-1,-3l3,-2l2,3zM1503,714l3,-1l3,2l-3,2l-2,0zM1406,783l-1,-2l2,-2l3,1l-1,2zM1725,796l0,2l-1,1l-1,-2l0,-2zM1523,967l3,-1l2,2l-1,3l-3,0zM1420,610l-1,4l-4,-1l-1,-4l4,-2zM1269,625l2,0l0,2l-1,1l-1,-1zM1643,970l-2,-2l0,-2l2,-2l2,3zM1347,986l-2,1l-2,-1l0,-2l2,0zM1329,591l3,1l2,2l-3,1l-2,0zM1709,538l0,-1l1,-1l2,1l-1,2zM1281,614l2,1l0,3l-2,0l-3,-2zM1428,771l1,2l-2,1l-3,-1l2,-2zM1708,532l-2,1l-1,-1l1,-2l1,1zM1724,947l1,-4l3,1l1,4l-3,0zM1471,766l1,2l-1,2l-3,-1l0,-3zM1463,941l2,0l0,2l-1,0l-2,0zM1447,748l-2,-2l0,-2l3,-1l1,3zM1477,977l1,-3l3,-1l1,4l-2,2zM1408,969l-3,0l-1,-3l2,-2l3,2zM1292,767l2,2l-1,3l-3,0l-1,-3zM1621,601l0,-2l2,-1l0,2l-1,2zM1321,909l2,3l-1,4l-4,-1l-1,-4zM1551,629l1,1l-1,2l-2,0l0,-2zM1651,841l1,3l-3,2l-3,-2l1,-4zM1726,887l0,3l-3,1l-1,-2l1,-2zM1647,591l1,2l-2,1l-2,-1l1,-2zM1333,862l-1,0l0,-2l1,0l2,1zM1275,594l0,3l-3,0l-1,-2l1,-2zM1511,705l-2,2l-3,-2l1,-3l3,0zM1681,629l3,-2l2,3l-3,2l-2,0zM1409,703l-2,3l-4,-1l0,-3l3,-1zM1723,636l2,-1l0,2l0,1l-3,0zM1702,808l-1,2l-3,1l-1,-3l2,-2zM1727,709l0,2l-2,2l-2,-2l2,-2zM1354,805l-4,0l0,-3l2,-3l3,3zM1572,943l-2,-2l3,-1l3,0l-2,4zM1473,842l1,2l-2,2l-2,-2l1,-3zM1309,535l-3,0l-1,-3l2,-1l2,2zM1696,755l0,-2l2,0l1,2l-1,0zM1347,759l0,-2l1,0l2,0l-1,2zM1447,945l-1,-1l1,-1l2,0l0,2zM1283,639l1,3l-2,3l-3,-2l1,-3zM1406,729l-3,-3l2,-3l3,1l0,3zM1454,575l0,-2l1,-1l1,2l-1,1zM1432,552l-1,-2l2,0l1,0l0,2zM1425,837l2,0l1,3l-3,1l-2,-2zM1484,554l-2,0l0,-3l2,0l1,2zM1608,535l3,1l-2,3l-3,0l0,-2zM1625,925l2,-2l3,-1l0,4l-2,1zM1541,692l2,0l0,2l-2,1l-1,-2zM1367,769l-1,2l-2,-1l-1,-3l3,-1zM1260,603l-2,0l-2,0l1,-2l1,0zM1360,679l-2,0l-1,-3l2,-1l3,1zM1334,969l1,2l-2,2l-2,-2l1,-2zM1692,633l-2,2l-2,-1l0,-3l2,0zM1702,964l-1,-3l3,-1l2,1l-1,2zM1356,760l0,-2l1,0l1,1l-1,1zM1241,944l2,-1l2,1l-1,3l-2,-1zM1294,812l4,1l0,3l-3,1l-2,-1zM1403,898l-1,3l-2,1l-1,-3l1,-2zM1385,899l1,-2l4,0l-1,4l-3,1zM1679,852l-2,1l-2,-2l0,-3l4,1zM1639,542l1,-1l1,1l0,2l-2,0zM1512,615l-1,-3l4,-1l2,4l-3,3zM1605,891l-2,-2l1,-2l3,0l1,3zM1436,588l2,-2l2,1l-1,2l-2,0zM1427,784l-2,1l-1,-1l1,-1l2,0zM1402,624l0,4l-4,0l-1,-3l2,-2zM1417,708l0,1l-1,2l-1,-1l0,-2zM1330,521l-1,2l-2,1l-2,-3l3,-1zM1362,778l2,-2l1,-1l1,2l-1,2zM1407,715l2,2l-2,2l-3,0l1,-3zM1494,790l1,3l-1,2l-3,-1l-1,-3zM1426,546l-2,1l-2,-1l2,-2l2,0zM1692,703l1,3l-4,1l-1,-3l2,-2zM1667,701l0,-2l1,-1l2,1l-1,2zM1263,753l2,-2l3,0l1,4l-4,1zM1309,701l-4,-1l-1,-4l3,-1l3,2zM1521,748l-1,-3l2,-1l2,1l-1,2zM1683,863l2,3l0,2l-3,0l0,-2zM1637,868l2,1l0,1l-2,1l-1,-1zM1642,815l1,-3l3,1l0,3l-2,1zM1388,759l2,1l-1,2l-2,0l-1,-2zM1359,563l-2,-3l2,-3l4,1l0,4zM1624,848l1,-2l3,-1l1,3l-2,1zM1514,799l3,1l0,3l-3,1l-2,-3zM1733,762l1,2l0,3l-3,-1l-1,-3zM1431,839l1,2l-2,2l-2,-2l1,-2zM1254,597l3,1l1,3l-4,1l-2,-2zM1461,960l0,-4l3,0l3,2l-3,2zM1611,851l1,3l-3,2l-3,-1l2,-3zM1371,782l-3,0l0,-3l3,-1l2,2zM1599,559l-1,-2l1,-1l3,0l-1,3zM1303,539l2,-1l1,2l-1,2l-2,-1zM1719,725l0,-3l3,-1l1,3l-2,2zM1682,796l2,1l1,2l-3,1l-1,-2zM1672,937l2,2l1,3l-3,-1l-2,-2zM1591,578l1,4l-3,2l-3,-2l1,-3zM1726,915l-1,-1l1,-2l2,1l0,2zM1720,635l3,1l-1,3l-3,0l-1,-3zM1729,628l2,2l-3,2l-2,-2l1,-3zM1516,819l0,2l-1,1l-2,-2l1,-2z" fill="#4a443e"/>
<path d="M1618,689l-1,-2l1,-2l3,1l-1,2zM1335,680l-2,1l-2,-2l1,-2l2,0zM1450,544l2,-1l1,2l-1,1l-2,0zM1518,839l1,1l0,1l-2,0l-1,-2zM1671,524l0,-2l2,0l1,1l-1,1zM1721,581l-4,-1l0,-2l2,-2l2,1zM1722,736l-1,2l-3,0l0,-3l2,-1zM1270,864l0,2l-3,0l0,-2l2,-2zM1445,601l2,-1l3,0l-1,3l-2,1zM1365,908l2,-2l1,2l-1,2l-2,0zM1737,838l0,2l-2,-1l-1,-2l2,-1zM1296,588l-4,0l1,-3l2,-1l2,1zM1366,580l-2,-1l0,-2l3,-2l1,3zM1250,598l-2,-1l1,-2l1,-1l2,2zM1669,623l-1,2l-3,0l-1,-2l3,-2zM1615,702l-1,-2l2,-1l1,1l-1,2zM1256,813l2,0l1,2l-2,1l-1,-2zM1590,926l1,-3l4,1l0,3l-3,2zM1452,624l2,2l-3,2l-2,-2l1,-3zM1410,830l1,0l0,1l-1,2l-1,-2zM1664,545l-1,2l-1,-1l0,-2l2,0zM1348,540l-4,-1l2,-3l3,0l2,3zM1664,703l2,0l1,3l-2,1l-2,-1zM1266,936l3,0l0,2l-1,1l-2,0zM1453,790l-1,-2l1,-2l2,1l0,2zM1250,511l2,-2l3,1l-1,3l-3,1zM1603,660l3,0l0,3l-2,2l-2,-3zM1372,621l1,-3l2,1l2,2l-3,1zM1731,986l-3,0l1,-2l1,0l2,1zM1723,811l2,-2l3,1l-1,4l-3,-1zM1406,800l-2,2l-2,-1l0,-2l2,-1zM1668,870l-2,0l-2,-3l2,-1l3,1zM1500,689l-3,1l-1,-4l4,-2l2,3zM1515,840l1,3l-2,2l-2,-1l-1,-4zM1512,626l0,3l-4,0l0,-3l2,-1zM1387,827l-2,0l-1,-3l2,-2l1,2zM1283,780l1,-1l2,1l0,2l-3,0zM1248,581l1,2l-1,2l-2,-1l0,-3zM1614,638l1,1l-1,2l-2,0l-1,-3zM1508,762l2,2l-1,2l-2,0l-1,-3zM1317,906l1,1l1,3l-3,1l-1,-3zM1356,710l3,0l1,3l-3,1l-2,-1zM1340,792l3,1l-1,3l-3,0l-1,-3zM1370,831l0,2l-3,2l-2,-3l3,-3zM1453,838l-2,-1l0,-2l2,0l2,2zM1300,592l-2,2l-2,-1l-1,-2l3,-1zM1367,914l1,-3l3,0l0,3l-1,1zM1673,556l2,4l-2,3l-4,-1l2,-3zM1439,720l-2,-1l0,-2l3,-2l1,3zM1358,515l0,2l-2,1l-2,-2l2,-2zM1508,636l-2,-2l-2,-3l4,0l3,2zM1343,684l-1,-1l1,-1l1,-1l0,2zM1496,748l0,-3l2,-2l4,2l-2,4zM1518,840l1,-2l4,-2l1,4l-3,2zM1679,675l0,2l-1,0l-2,-1l1,-2zM1707,965l3,1l0,3l-4,1l0,-3zM1559,868l-4,0l0,-3l2,-1l3,0zM1743,966l2,-1l2,1l0,3l-4,0zM1460,667l2,-3l3,1l1,3l-4,3zM1614,514l2,-3l4,-1l0,4l-3,1zM1552,614l-1,2l-2,-1l-1,-3l3,-1zM1444,834l-3,-2l3,-3l2,1l1,3zM1616,844l-3,-2l1,-3l3,0l2,3zM1528,952l-1,3l-2,2l-2,-3l2,-2zM1688,561l-2,1l-2,0l1,-3l2,-1zM1258,605l0,3l-2,1l-1,-2l1,-1zM1376,906l-2,-2l0,-2l3,-1l2,3zM1727,782l3,2l0,2l-3,0l-1,-1zM1324,971l-2,0l1,-2l2,-1l0,2zM1689,804l2,1l-1,3l-2,-1l-1,-2zM1333,920l-2,-2l2,-2l3,0l0,3zM1447,604l1,-2l3,1l0,3l-3,0zM1595,804l1,-3l3,2l0,3l-3,1zM1578,549l0,2l-2,1l-2,-1l1,-3zM1601,924l-4,1l-3,-3l3,-3l3,1zM1415,867l-1,-2l2,0l2,0l-1,2zM1483,937l-2,2l-3,-1l1,-2l3,-2zM1427,818l2,-1l2,2l-1,3l-3,-1zM1411,752l-3,0l-1,-4l3,-1l3,2zM1240,792l-1,-4l4,-1l3,4l-3,2zM1603,670l1,-1l2,0l0,2l-2,0zM1533,638l-1,1l-1,1l-2,-2l2,-1zM1318,876l-3,0l-1,-4l3,-2l2,3zM1570,611l-3,-2l0,-3l3,0l2,2zM1369,717l0,-3l3,1l2,2l-3,1zM1390,983l2,-1l2,0l0,2l-2,1zM1498,787l-3,2l-3,1l0,-4l3,-1zM1475,545l0,-2l2,-2l3,2l-2,3zM1500,665l-1,-3l1,-2l3,1l-1,2zM1364,630l-3,-1l2,-3l3,1l0,2zM1396,820l4,0l0,5l-4,1l-2,-3zM1546,799l3,-2l3,3l-2,3l-3,-1zM1331,624l-3,-1l-1,-3l4,-2l1,3zM1567,832l0,2l-2,1l-3,-2l3,-2zM1491,589l-2,2l-3,-1l0,-4l4,0zM1445,528l2,4l-3,2l-2,-2l-1,-3zM1295,657l0,3l-3,2l-3,-3l2,-3zM1664,844l3,2l1,2l-3,2l-2,-3zM1543,771l2,1l0,1l-1,1l-1,-1zM1399,982l-2,1l-2,-2l2,-2l2,1zM1398,631l3,0l1,3l-2,1l-2,-2zM1624,563l-4,0l0,-3l2,-1l3,0zM1445,780l2,1l-1,3l-2,-1l-1,-2zM1448,602l-1,1l-2,-1l0,-2l3,0zM1301,766l1,-2l3,-1l0,3l-2,2zM1672,942l-2,0l-1,-2l2,-3l3,2zM1746,989l-1,1l-2,-1l1,-3l2,1zM1595,680l-3,1l-2,-4l3,-2l3,2zM1598,889l2,-1l3,0l0,3l-3,1zM1493,564l1,-2l2,-2l1,3l-1,1zM1349,947l-2,1l-2,-1l2,-2l2,0zM1548,673l0,-3l2,0l1,2l-1,2zM1458,713l-2,1l-2,-1l1,-2l2,0zM1412,968l-2,1l0,-3l2,0l1,1zM1275,770l0,-2l2,1l0,2l-1,0zM1435,881l1,-1l2,1l-1,2l-1,-1zM1286,689l1,2l0,3l-3,0l0,-3zM1492,674l1,-4l4,0l1,3l-2,4zM1447,937l-1,-3l2,-2l2,1l0,2zM1581,618l-2,-1l0,-2l2,0l2,2zM1355,953l-1,2l-2,-1l0,-2l2,-1zM1341,560l1,1l0,1l-2,0l-1,-2zM1265,529l2,-1l1,1l0,2l-2,0zM1371,651l-3,2l-2,-2l1,-2l3,-1zM1335,952l1,1l-1,2l-2,-1l1,-2zM1546,514l1,1l-1,1l-1,0l0,-2zM1268,873l1,-2l3,2l-1,2l-2,0zM1454,591l0,2l-2,1l-2,-2l2,-1zM1333,817l3,1l-1,3l-3,0l-2,-3zM1573,978l-1,2l-1,0l-1,-1l1,-2zM1340,528l0,-1l2,-1l1,1l-1,2zM1316,788l-1,-2l2,-2l2,1l0,2zM1515,623l4,0l0,4l-4,1l-1,-3zM1703,554l-2,1l-2,-1l2,-2l1,0zM1338,958l-2,1l-2,-2l2,-2l2,1zM1499,941l1,-2l1,0l1,2l-1,1zM1434,701l3,-2l3,3l-3,3l-3,-1zM1500,864l1,0l2,1l-1,2l-2,-1zM1267,589l3,1l1,3l-3,1l-3,-2zM1429,856l1,-2l2,-2l2,2l-2,2z" fill="#6a625a"/>
<path d="M1626,970l2,0l1,2l-2,1l-2,-1zM1404,884l-3,0l-3,-2l2,-3l4,1zM1674,592l-1,-2l2,-1l1,1l0,2zM1623,518l2,1l-1,3l-3,0l-1,-4zM1626,552l1,1l0,2l-2,0l0,-1zM1696,570l1,2l-2,2l-2,-1l0,-2zM1376,737l-1,2l-3,0l2,-3l1,0zM1597,568l3,2l-3,2l-2,-1l0,-3zM1712,589l1,1l-1,3l-2,-2l-1,-3zM1312,636l2,-1l2,1l-1,3l-3,-1zM1614,903l-1,2l-2,2l-1,-3l1,-2zM1680,798l-2,-1l-1,-2l3,-2l2,2zM1387,549l3,-1l2,2l-2,2l-3,0zM1420,661l0,-2l2,0l0,2l-2,1zM1674,726l0,3l-4,-1l1,-3l2,-2zM1502,915l0,2l-2,-1l-1,-2l2,-1zM1424,846l2,-1l0,2l0,2l-3,-1zM1264,587l1,-1l1,-1l0,1l0,2zM1331,766l-2,2l-2,0l0,-3l2,0zM1317,742l1,-1l1,2l-1,2l-2,0zM1685,618l3,-2l3,2l-2,3l-4,1zM1663,817l0,-1l2,0l1,1l-2,2zM1457,891l-2,-2l0,-4l4,0l1,4zM1414,635l2,0l2,1l-1,2l-2,0zM1252,638l-2,1l-2,0l1,-2l2,-1zM1637,807l-2,-2l1,-1l2,0l0,2zM1367,904l-2,3l-4,-3l2,-2l3,-1zM1337,907l1,1l1,2l-3,1l-1,-2zM1324,722l2,1l-2,2l-2,0l-1,-3zM1505,846l1,-4l3,2l0,3l-2,0zM1574,982l-1,-2l1,-2l2,1l-1,2zM1272,780l1,-4l4,1l0,4l-3,1zM1574,562l-1,-1l1,-1l2,0l-1,2zM1527,732l-2,-3l3,-3l2,3l0,3zM1677,651l1,2l-3,1l-1,-2l1,-2zM1574,757l2,-1l0,2l-1,1l-2,-1zM1321,534l3,-2l1,4l-2,1l-4,0zM1611,659l2,0l0,2l-2,2l-1,-2zM1672,565l1,0l2,2l-2,1l-2,-1zM1244,795l-2,-3l3,-3l3,2l0,4zM1275,962l-3,2l-2,0l-2,-4l4,0zM1671,643l-1,3l-2,-1l0,-2l2,-1zM1741,932l2,0l2,0l-1,2l-2,0zM1743,682l2,3l-3,2l-2,-1l0,-3zM1312,977l-1,2l-2,0l0,-2l2,-1zM1520,596l0,-2l2,1l1,2l-2,1zM1444,679l3,-1l2,2l-1,3l-3,0zM1615,713l3,-1l2,2l-2,2l-2,0zM1655,744l-1,-2l2,-1l0,2l0,1zM1506,872l-3,1l-1,-2l0,-2l2,1zM1574,642l-3,-1l0,-4l4,-1l2,3zM1696,659l3,0l1,2l-1,1l-2,0zM1347,843l-2,1l-1,-2l1,-2l3,1zM1745,962l-3,0l-1,-2l1,-3l2,2zM1703,581l3,1l-1,3l-3,1l-2,-3zM1495,615l2,0l1,2l-1,1l-2,0zM1446,863l-3,0l0,-3l2,-3l3,3zM1746,854l-2,0l-3,-1l3,-2l3,-1zM1404,567l-3,-1l1,-2l2,-1l0,2zM1246,966l-1,2l-2,0l0,-3l1,0zM1554,826l-1,2l-2,0l0,-2l2,-2zM1264,645l-1,2l-3,1l0,-3l2,-2zM1364,576l1,-3l3,0l0,3l-2,2zM1356,825l0,3l-2,1l-2,-1l0,-3zM1411,943l-3,0l0,-1l1,-2l1,1zM1559,925l-2,1l-1,-2l1,-2l2,0zM1587,623l-3,0l1,-3l2,0l1,2zM1392,698l-1,-1l1,-2l3,0l-1,3zM1553,737l1,-3l4,-1l1,4l-4,3zM1591,794l-2,3l-4,-1l0,-3l3,-3zM1457,534l4,-1l1,3l-2,3l-4,-1zM1264,903l-1,3l-3,-1l-1,-3l3,-1zM1408,707l2,1l0,3l-3,1l-2,-3zM1571,684l-1,2l-1,-2l0,-1l2,-1zM1492,937l3,1l-1,2l-2,1l-2,-2zM1637,719l1,3l-2,2l-2,-2l1,-2zM1344,848l-2,1l-2,-1l1,-2l2,0zM1424,524l2,3l-2,3l-3,-1l0,-3zM1545,670l1,2l-2,1l-2,-1l0,-2zM1345,733l2,1l-2,2l-2,-1l0,-2zM1404,624l4,1l1,4l-3,1l-4,-2zM1434,835l0,1l-1,2l-1,-2l1,-1zM1419,755l0,4l-2,1l-3,-2l2,-2zM1497,868l2,0l1,2l-1,1l-2,0zM1466,836l-1,1l-2,-1l1,-2l2,0zM1256,575l1,-2l1,-1l1,1l0,2zM1751,618l-1,-2l2,-2l1,3l0,2zM1564,572l0,-2l2,-1l1,2l-1,2zM1734,984l0,-3l3,-2l1,4l-1,2zM1381,632l0,-3l2,-2l2,2l-1,3zM1595,815l-2,-3l2,-2l3,-1l1,4zM1598,942l-1,2l-3,0l0,-3l3,-1zM1563,606l-1,2l-2,1l-1,-2l1,-2zM1475,542l-2,-1l0,-3l4,0l0,3zM1718,715l-4,1l-2,-2l2,-3l3,1zM1373,853l3,2l0,3l-3,1l-1,-3zM1307,752l1,-3l3,2l-1,2l-1,1zM1690,735l-2,0l0,-2l2,-1l1,2zM1711,563l-2,-2l1,-2l2,0l1,2zM1238,860l0,-3l3,-1l2,2l-2,3zM1576,938l-2,2l-2,-2l0,-3l3,1zM1346,972l-2,-2l3,-2l3,2l-1,3zM1657,810l0,2l-1,1l-2,-2l1,-2zM1510,671l2,-2l3,0l0,3l-3,2zM1617,930l2,2l-1,1l-2,0l-1,-2zM1602,664l1,-2l3,-1l1,3l-3,1zM1718,633l-2,-1l0,-2l2,-1l1,2zM1679,852l-2,1l-1,-3l1,-1l2,1zM1338,605l0,2l-1,2l-3,-1l2,-2zM1490,779l2,3l-3,2l-2,-3l1,-2zM1417,833l2,-2l1,1l0,2l-2,1zM1631,880l0,-5l4,-1l3,3l-2,3zM1621,641l2,1l0,2l-2,1l-2,-3zM1454,570l0,-2l2,-1l1,1l-1,2zM1325,886l0,3l-2,1l-1,-3l1,-1zM1558,781l1,-3l2,-1l1,2l-1,3zM1550,894l-2,2l-1,-2l0,-3l2,1zM1750,860l-1,-3l0,-4l4,1l0,4zM1359,909l1,-1l2,0l1,3l-3,1zM1674,918l2,1l0,2l-3,1l-1,-4zM1430,978l-1,1l-2,-1l1,-1l1,0zM1641,530l-2,-4l2,-3l4,1l0,4zM1729,668l-2,-2l0,-2l2,-1l1,2zM1683,906l3,-2l2,3l-2,3l-3,-1zM1553,898l2,1l1,2l-1,2l-2,-2zM1389,769l3,-2l3,2l-1,3l-3,0zM1527,977l2,0l0,2l-2,2l-2,-2zM1331,785l2,2l-2,3l-3,-2l1,-3zM1498,881l0,-3l3,-1l2,3l-3,2zM1422,952l-2,0l0,-2l1,-1l2,2zM1720,687l2,2l-1,2l-3,1l-1,-3zM1307,587l1,-2l1,0l1,1l-1,2zM1396,944l-3,-1l0,-3l2,-1l3,2zM1395,639l-1,1l-2,-1l1,-3l3,1zM1254,812l2,0l0,3l-1,0l-3,0zM1705,834l0,-3l2,-2l1,3l0,3zM1630,563l-1,2l-3,1l-2,-3l3,-2zM1461,875l1,2l-1,1l-1,-2l0,-1zM1516,819l-2,1l0,-2l1,-1l1,1zM1447,836l2,-1l2,1l-1,2l-2,-1zM1629,957l0,3l-2,-1l-1,-1l1,-1zM1524,988l1,2l-1,1l-2,-1l0,-2zM1599,714l-1,-1l0,-2l2,0l0,2zM1368,979l1,3l-2,2l-3,-2l1,-2zM1693,878l0,2l-2,0l-1,-1l2,-1zM1634,603l-4,0l0,-3l2,-3l3,3zM1393,706l2,1l0,2l-3,1l-1,-3zM1332,576l-4,0l0,-4l3,0l3,1zM1669,973l-1,2l-3,1l1,-3l1,-2zM1646,514l3,0l2,2l-1,4l-4,-2zM1387,599l-1,2l-2,-1l0,-2l2,-1zM1558,826l3,-2l2,1l0,4l-3,-1zM1637,530l-2,1l-1,-2l2,-2l1,1zM1571,685l1,2l-2,2l-1,-2l0,-2z" fill="#8e857c"/>
<path d="M1248,901l-2,-2l2,-1l2,0l-1,1zM1521,804l2,-1l1,2l-2,2l-2,-1zM1572,518l2,-1l2,1l-1,2l-2,0zM1705,919l-2,3l-3,-1l-1,-3l3,-1zM1643,674l-2,4l-3,0l-1,-3l2,-3zM1548,688l0,-2l2,-2l1,2l-1,2zM1635,929l-1,-1l-1,-1l2,-2l1,2zM1669,626l2,-2l3,1l-2,2l-2,1zM1751,610l-1,-2l0,-2l3,0l0,2zM1378,791l-1,2l-2,0l0,-2l1,-1zM1495,582l0,2l-2,1l-1,-2l1,-1zM1506,778l1,-2l2,0l1,2l-2,1zM1392,909l2,1l0,2l-3,1l-1,-3zM1264,621l-2,-1l1,-2l2,-1l1,3zM1329,950l2,0l1,3l-3,0l-2,-1zM1729,805l-2,-1l1,-1l2,-1l0,2zM1279,876l1,2l0,2l-3,0l1,-2zM1321,987l1,-3l2,0l3,1l-3,4zM1608,611l-2,-1l2,-2l2,1l-1,2zM1545,924l-2,2l-3,-1l1,-3l3,0zM1271,881l-1,3l-2,-2l-1,-3l3,0zM1312,803l3,1l-1,3l-4,1l0,-4zM1324,691l2,2l0,3l-4,0l-2,-3zM1340,630l-1,2l-3,-1l0,-2l3,-1zM1754,689l-3,0l-1,-2l2,-3l3,2zM1272,654l0,-3l2,0l2,3l-2,1zM1678,530l3,0l-1,3l-3,0l-2,-2zM1521,776l2,-1l2,3l-3,2l-3,-2zM1431,983l-2,2l-3,-1l0,-4l3,0zM1350,535l-1,2l-2,1l-1,-2l1,-2zM1363,988l-2,1l-3,0l1,-2l2,-1zM1677,680l-2,0l-1,-2l2,-1l1,1zM1736,562l-2,2l-3,-1l2,-3l3,0zM1285,523l0,4l-4,-2l-1,-4l4,0zM1296,730l2,1l0,2l-2,1l-1,-2zM1386,649l2,0l1,2l-2,1l-1,0zM1478,823l-2,0l-1,-2l2,-2l2,2zM1726,970l1,2l-2,0l-2,0l1,-3zM1620,663l-2,1l-1,-1l1,-2l1,0zM1346,989l2,-1l2,-1l0,2l-2,1zM1706,661l1,-4l4,0l1,3l-2,2zM1465,561l-1,-2l0,-2l3,1l0,2zM1339,748l2,-2l2,-1l1,3l-2,1zM1680,849l-4,0l0,-4l2,-1l2,2zM1364,759l-5,-1l1,-4l4,0l2,2zM1634,941l-2,4l-3,-2l-1,-2l3,-2zM1520,657l-2,3l-3,1l-2,-4l4,-1zM1711,835l-2,-1l-1,-3l3,-1l1,3zM1297,849l2,2l-3,2l-2,-2l1,-2zM1678,609l2,-1l2,1l1,3l-4,0zM1470,632l-3,-2l-2,-3l4,-1l2,2zM1592,823l-1,2l-2,-2l1,-2l2,0zM1285,515l3,-2l3,2l-1,2l-3,1zM1542,868l-2,-1l0,-4l4,1l1,3zM1293,962l-1,3l-3,1l-2,-3l3,-1zM1557,876l1,2l-1,3l-2,-1l0,-3zM1471,662l-2,-2l1,-2l3,-1l0,3zM1731,726l3,2l-1,3l-3,0l-1,-3zM1545,685l-2,1l-2,-2l1,-3l3,1zM1698,586l2,-2l1,0l2,2l-2,2zM1397,789l-2,1l-2,0l0,-3l2,0zM1613,633l-3,0l1,-3l2,-1l2,2zM1585,684l2,1l0,3l-3,0l-1,-3zM1506,936l0,3l-3,1l-1,-3l2,-1zM1271,552l2,-1l2,2l-2,2l-3,0zM1452,572l-2,2l-1,-1l0,-2l2,-1zM1249,714l-2,-3l2,-1l3,1l0,3zM1367,722l-1,2l-3,-1l1,-2l2,-1zM1542,510l2,2l-2,1l-2,-1l1,-1zM1285,643l0,2l-2,0l-1,-2l1,-1zM1533,725l3,0l0,3l-3,1l-1,-2zM1696,744l2,2l-2,1l-2,0l0,-3zM1361,532l-2,-1l1,-2l3,0l-1,2zM1750,809l-1,4l-2,1l-3,-2l2,-3zM1338,617l-1,2l-2,-1l0,-2l2,-1zM1619,592l1,-3l3,0l0,2l-1,3zM1686,816l2,0l0,1l-1,1l-2,-1zM1629,732l-1,-2l2,-2l2,2l-2,1zM1648,938l3,1l0,3l-2,1l-3,-2zM1300,833l-2,2l-4,0l1,-3l4,-3zM1288,568l-2,-1l-1,-2l2,-2l3,2zM1693,701l3,2l-2,3l-3,0l0,-3zM1308,737l0,-2l2,0l0,2l-1,1zM1286,780l3,-2l1,1l0,2l-2,1zM1649,927l-3,3l-3,-2l1,-5l5,0zM1315,617l-1,-3l2,-3l3,2l-1,2zM1411,847l-1,0l0,-2l1,0l1,1zM1482,592l3,-2l1,3l-1,2l-4,0zM1574,553l1,2l0,2l-4,0l1,-3zM1585,984l2,-1l1,2l0,1l-2,0zM1442,767l0,-2l2,0l1,1l-2,2zM1724,836l-1,1l-2,1l0,-2l1,-1zM1610,670l3,0l0,3l-3,2l-3,-3zM1322,593l2,0l1,1l-1,1l-2,0zM1691,579l3,1l0,2l-2,2l-2,-2zM1264,610l-2,-2l1,-2l3,0l0,3zM1686,816l-3,2l-2,-2l1,-3l4,-1zM1494,978l-2,-1l0,-3l4,0l0,3zM1750,711l-1,2l-1,1l-1,-1l1,-2zM1501,876l2,0l1,2l-2,1l-2,-1zM1607,761l2,1l0,1l-1,1l-2,-1zM1690,653l-2,-1l0,-2l2,0l1,1zM1449,986l4,-2l1,5l-3,1l-3,-2zM1278,666l-1,-3l0,-2l4,0l0,3zM1315,711l2,2l1,3l-3,0l-3,-2zM1522,630l2,1l-1,2l-2,0l0,-2zM1623,917l0,4l-2,2l-3,-2l2,-2zM1629,834l1,3l-3,1l-2,-2l1,-4zM1388,641l1,-1l2,0l0,2l-2,1zM1351,690l1,-1l2,0l1,1l-2,1zM1536,749l-4,0l-2,-2l3,-2l2,1zM1736,722l-3,1l1,-3l2,-2l3,2zM1676,951l-1,2l-3,0l0,-3l3,0zM1250,841l2,-3l3,0l2,3l-3,1zM1588,674l1,-1l2,1l-1,2l-1,-1zM1422,758l-1,3l-3,0l-1,-2l2,-1zM1390,986l1,-1l1,1l1,1l-2,0zM1337,726l-1,-2l2,-2l2,2l-1,2zM1689,618l-2,1l-1,-1l0,-2l3,-1zM1426,934l-2,2l-2,-2l1,-2l2,0zM1682,594l-3,-1l1,-4l3,0l2,3zM1608,717l-2,0l-1,-1l1,-2l3,1zM1363,630l1,-3l3,2l-1,3l-3,1zM1621,889l-2,0l-1,-1l1,-1l2,-1zM1247,621l1,-3l3,0l1,2l-2,2zM1457,896l-1,1l-2,-1l1,-2l2,0zM1291,696l0,-2l2,-1l2,3l-2,2zM1437,778l-1,-2l1,-1l1,0l0,2zM1320,530l3,1l0,3l-2,2l-3,-2zM1361,937l2,-1l2,1l0,3l-3,0zM1341,949l3,0l3,3l-4,2l-3,-2zM1703,605l-1,2l-2,0l-1,-2l2,-2zM1514,707l2,-2l3,0l0,3l-3,1zM1748,860l1,-3l3,0l1,2l-2,2zM1529,821l-3,-1l-1,-2l2,-2l2,2zM1575,825l-3,-2l2,-2l2,0l1,2zM1525,766l2,-1l1,0l0,2l-1,0zM1472,645l2,-1l1,0l1,3l-2,0zM1273,838l2,1l0,3l-3,-1l-1,-2zM1441,925l-2,-3l1,-2l4,0l-1,3zM1464,594l1,2l-2,2l-2,-1l1,-2zM1639,782l3,2l0,3l-4,1l-1,-4zM1377,602l0,-4l4,0l1,3l-2,2zM1572,858l1,-2l3,-1l1,2l-2,2zM1312,713l2,2l0,3l-2,1l-3,-3zM1245,647l1,3l-2,1l-2,-1l1,-3zM1285,686l0,-2l1,0l2,0l-1,2zM1466,674l2,0l0,2l-2,1l-1,-2zM1507,699l3,-1l2,1l-2,2l-2,0zM1401,840l2,2l-2,2l-3,-1l0,-3zM1654,801l-2,0l-3,-1l2,-3l3,1zM1439,727l-2,-1l-1,-1l2,-2l2,2zM1684,749l-1,-2l2,-1l2,1l-1,2z" fill="#7e746a"/>
<path d="M1276,829l0,-2l1,-2l2,1l-1,2zM1653,663l1,-2l3,0l0,2l-2,2zM1460,770l3,1l1,3l-3,1l-3,-2zM1650,546l-4,2l-1,-4l3,-2l3,1zM1310,847l-1,3l-4,-2l1,-3l2,0zM1631,580l-1,2l-2,0l0,-2l2,-1zM1746,568l2,2l-2,2l-3,-1l-1,-3zM1510,697l0,-2l2,-1l1,2l-1,2zM1459,679l-1,-2l3,-1l2,2l-2,2zM1246,593l-3,-2l1,-3l3,-2l2,5zM1352,842l-1,-1l0,-1l2,-1l1,2zM1365,917l1,-2l2,-2l1,2l-1,3zM1422,814l-3,-2l1,-2l3,-1l1,3zM1512,872l-4,-2l2,-3l3,-2l1,4zM1301,562l-2,-1l0,-2l2,0l0,2zM1336,754l3,-1l2,1l-1,2l-3,1zM1667,900l-1,-1l1,-2l2,0l0,2zM1744,758l0,2l-3,-1l0,-2l2,0zM1628,844l1,2l-1,2l-2,-1l-1,-3zM1489,626l3,1l-1,2l-2,2l-2,-3zM1237,939l2,1l0,2l-2,1l0,-2zM1288,796l0,3l-2,0l-1,-2l1,-1zM1647,915l2,-2l1,2l-1,2l-1,0zM1351,658l3,0l1,4l-4,0l-2,-1zM1714,667l-3,2l-2,-1l1,-3l3,0zM1594,736l0,3l-3,-1l-2,-3l4,-1zM1567,902l4,1l-1,3l-2,1l-3,-2zM1507,758l-2,-1l-1,-3l3,-1l2,2zM1253,869l-2,-1l1,-2l2,0l1,2zM1461,528l1,-2l2,0l0,3l-2,1zM1709,642l-1,-2l2,0l1,1l0,2zM1725,625l-2,4l-3,-2l-1,-3l4,-1zM1530,879l-2,-3l0,-3l3,1l1,2zM1663,720l-2,2l-2,-1l-1,-2l3,-1zM1543,859l3,0l2,3l-3,2l-3,-1zM1521,752l0,-2l1,-1l1,1l0,2zM1599,901l1,1l-1,1l-2,-1l1,-1zM1674,952l1,-1l0,2l-1,1l-1,-1zM1547,894l1,1l-1,1l-2,0l0,-2zM1285,815l-2,-2l1,-4l4,1l1,4zM1337,553l-2,-1l1,-3l3,1l0,2zM1736,824l-1,2l-3,0l1,-2l2,-2zM1317,982l4,3l-2,4l-4,0l-1,-4zM1611,973l-3,-1l-1,-4l4,-1l3,3zM1744,561l1,1l0,2l-2,0l-1,-2zM1569,662l2,0l3,2l-2,3l-3,-2zM1483,535l2,1l0,3l-3,0l-2,-2zM1640,780l0,-3l2,-1l2,1l-2,2zM1612,937l-1,-2l2,-1l2,1l-1,2zM1555,765l0,2l-2,2l-1,-2l0,-3zM1517,942l2,1l1,1l-2,1l-2,0zM1376,632l2,-1l1,2l-2,2l-1,-1zM1329,906l0,3l-3,1l0,-2l0,-3zM1303,741l-2,4l-4,-2l2,-3l3,-2zM1527,949l-1,3l-2,0l-1,-3l3,-2zM1425,729l1,-2l2,-1l0,3l-2,1zM1304,778l1,2l-1,2l-1,-1l-1,-2zM1305,930l4,2l-1,3l-3,2l-1,-3zM1589,645l-1,3l-3,1l-1,-3l1,-3zM1304,787l-3,0l-2,-1l1,-4l4,1zM1252,652l2,3l-1,2l-3,-1l-1,-3zM1720,535l2,0l-1,2l-1,0l-1,-1zM1390,546l1,-3l2,-1l2,3l-2,3zM1391,658l-2,0l-1,-1l1,-3l3,1zM1253,738l3,-1l0,3l-2,2l-2,-2zM1521,566l2,-1l1,2l-1,2l-3,-1zM1451,698l0,3l-3,0l-3,-1l3,-2zM1546,643l1,1l0,2l-2,0l-1,-2zM1245,895l2,0l1,1l-1,2l-3,0zM1253,755l-1,3l-2,1l-3,-2l2,-2zM1572,635l0,-3l4,0l1,3l-3,2zM1377,986l2,-1l0,2l-2,1l-1,-1zM1399,897l2,-1l0,2l0,1l-2,0zM1396,688l-2,-2l0,-4l3,1l1,3zM1641,802l2,3l-4,1l-3,-1l2,-4zM1737,939l3,-1l1,3l-2,3l-3,-2zM1277,808l3,2l1,2l-3,2l-1,-3zM1652,831l0,-2l3,0l1,3l-3,1zM1323,565l1,-1l1,1l0,1l-2,1zM1558,567l3,-1l0,3l-2,2l-1,-2zM1526,967l-3,0l-2,-2l3,-2l3,1zM1288,888l-1,-3l3,0l1,2l-1,3zM1327,675l2,3l-3,2l-3,0l1,-4zM1360,746l0,3l-2,-1l-1,-2l1,-2zM1536,849l-2,-1l1,-2l2,-1l1,3zM1253,602l3,-2l2,2l0,3l-4,1zM1394,776l0,-2l3,0l0,2l-2,2zM1455,791l1,3l-3,1l-1,-1l0,-3zM1609,511l1,2l-2,2l-1,-2l1,-2zM1484,616l2,-1l2,1l-2,3l-2,-1zM1580,901l-2,0l-1,-1l2,-2l1,2zM1560,575l-2,1l-1,-1l1,-2l2,0zM1236,546l-1,-3l3,-1l2,2l-1,2zM1464,891l2,1l1,3l-3,0l-1,-1zM1448,590l-3,1l-2,-2l2,-2l3,0zM1320,633l-2,0l-1,-1l1,-2l2,1zM1685,861l-2,3l-3,-2l0,-3l3,0zM1685,511l-2,3l-3,-1l0,-2l2,-2zM1651,677l-2,-1l1,-2l2,0l2,3zM1307,849l1,4l-4,1l-2,-2l1,-3zM1706,803l-2,-4l3,-1l3,0l0,4zM1396,982l3,0l0,2l-1,2l-2,-2zM1722,634l-3,-2l2,-3l3,1l1,4zM1718,757l1,2l-1,1l-2,-1l0,-2zM1280,666l2,2l-1,2l-3,0l-1,-2zM1366,971l-3,-1l-1,-3l2,0l2,1zM1522,624l-1,-3l3,-1l2,2l-1,2zM1704,590l-2,1l-1,0l-1,-3l3,0zM1546,532l-1,2l-3,0l0,-2l2,-2zM1674,888l2,3l-2,2l-3,1l1,-3zM1707,801l0,3l-2,1l-2,-2l1,-3zM1488,714l3,1l-1,4l-4,-1l0,-3zM1367,861l-1,2l-2,0l0,-2l1,-1zM1353,947l1,-2l1,0l3,2l-3,2zM1444,736l-2,2l-2,-2l-1,-2l4,-2zM1720,928l-2,2l-1,-2l1,-2l2,1zM1704,566l2,-1l2,1l-1,3l-3,-1zM1746,529l1,1l-2,2l-2,-1l1,-3zM1276,926l3,-2l3,3l-3,3l-2,-1zM1487,953l-3,0l1,-3l2,-2l3,3zM1533,726l0,-4l5,0l0,4l-2,3zM1742,727l2,2l-2,3l-2,-1l0,-3zM1579,909l-1,-3l1,-3l4,1l0,4zM1284,986l2,1l0,2l-1,0l-2,-1zM1524,972l2,-1l2,2l-1,2l-3,0zM1311,684l2,-1l1,1l0,2l-2,0zM1566,918l-2,-1l-1,-3l3,-1l2,3zM1732,836l0,2l-2,0l-2,-1l2,-2zM1351,732l2,0l0,1l-1,1l-2,-1zM1259,605l-2,1l-1,-1l0,-3l3,1zM1548,526l-2,-2l2,-2l2,0l1,3zM1702,529l0,2l-2,0l-1,-1l1,-2zM1253,837l1,3l-1,2l-3,0l0,-3zM1280,864l1,3l-2,4l-4,-2l1,-5zM1666,654l-2,-2l3,-3l3,2l-2,3zM1721,689l1,-2l2,0l1,3l-3,1zM1636,934l-3,1l-1,-2l2,-1l2,0zM1371,765l1,1l-2,1l-1,-1l1,-1zM1558,980l-2,2l-2,1l-2,-4l3,-1zM1406,964l-1,-3l3,-1l2,2l-1,2zM1526,867l-3,0l-1,-2l1,-3l3,2zM1476,911l0,-2l2,-2l2,3l-2,1zM1688,744l3,-2l1,4l-2,2l-4,-1zM1525,793l2,-1l1,1l0,2l-2,0zM1285,870l3,-2l2,0l1,4l-4,1zM1375,962l1,-3l2,1l1,2l-2,1zM1266,661l-2,1l-2,-2l1,-2l3,0zM1351,987l-1,-1l1,-2l2,1l0,1zM1414,649l-3,0l-1,-2l2,-2l3,1zM1576,854l-3,1l-3,-1l1,-3l4,0zM1304,929l1,-1l1,1l-1,1l-1,0zM1263,685l2,1l-1,3l-2,-1l-1,-2zM1574,987l-1,-2l1,-2l3,2l-1,2zM1639,686l-4,-1l2,-3l2,0l1,1zM1673,607l0,-3l3,-1l1,3l-2,1zM1576,806l1,3l-1,2l-3,-1l0,-3zM1461,929l-1,-2l1,-1l3,1l-1,2z" fill="#2a2522"/>
<g clip-path="url(#c2b)"><rect x="1237.5" y="511" width="515.5" height="479" filter="url(#n2b)"/></g>
<path d="M1721,836l-1,4l-3,3l-3,-4l2,-2zM1330,830l3,5l-5,1l-4,-1l1,-5zM1564,572l-1,-5l5,-2l2,3l-1,5zM1610,856l3,1l-1,3l-4,2l0,-4zM1514,808l-3,-1l-1,-2l2,-2l2,2zM1692,612l-2,-3l4,-3l2,4l-1,3zM1498,523l0,-1l3,0l0,2l-2,2zM1686,775l-2,-3l1,-3l3,1l0,3zM1660,740l0,3l-2,3l-3,-3l2,-2zM1523,897l2,2l0,3l-3,0l-1,-3zM1713,622l0,3l-2,2l-3,-2l1,-3zM1569,950l-3,-2l0,-3l2,0l3,2zM1670,968l-2,4l-5,0l0,-5l4,-3zM1515,871l2,4l-3,2l-4,0l0,-5zM1606,856l-2,-2l1,-2l3,0l1,3zM1548,607l0,-5l4,-1l3,3l-3,3zM1640,615l2,4l-3,2l-4,-1l1,-4zM1396,853l3,4l-1,4l-5,0l-1,-5zM1621,553l-3,3l-5,-2l1,-5l5,-1zM1589,628l-5,1l-4,-3l3,-6l4,3zM1508,733l-1,3l-4,0l0,-4l4,-1zM1520,544l0,-4l3,-2l3,4l-3,3zM1438,982l2,-2l3,1l0,3l-3,0zM1555,943l-2,-2l2,-2l2,1l1,3zM1481,807l-3,-2l0,-3l3,-1l2,2zM1643,944l-3,-5l5,-2l3,4l-2,3zM1242,711l2,3l0,4l-4,-2l-2,-3zM1654,910l1,-6l4,0l4,3l-4,3zM1582,728l0,-2l2,-1l2,2l-2,1zM1465,681l-5,-3l0,-4l4,-2l3,3zM1342,706l-1,-3l2,-2l2,2l0,2zM1668,615l-3,-4l4,-4l4,2l-1,4zM1255,797l-3,-1l-1,-4l4,0l2,2zM1493,593l-4,3l-2,-4l2,-4l5,1zM1447,520l-2,-2l0,-2l2,-2l2,3zM1717,737l-1,-2l1,-3l3,1l1,3zM1533,952l-1,2l-2,0l-2,-3l3,0zM1262,667l1,3l-3,0l-2,-1l1,-3zM1291,824l2,4l-4,1l-4,-1l2,-5zM1589,730l3,-2l3,3l-2,4l-4,-2zM1394,564l0,-3l3,0l0,2l-1,2zM1365,693l2,0l1,2l-2,2l-2,-1zM1754,846l-1,5l-5,-1l-1,-4l3,-3zM1425,577l1,4l-3,1l-2,-3l2,-2zM1672,637l3,-3l4,-1l1,5l-4,1zM1245,707l1,3l-1,2l-4,0l0,-3zM1419,585l-1,2l-2,0l-2,-1l2,-1zM1567,619l3,3l-4,4l-4,-4l2,-3zM1533,822l2,5l-2,4l-5,-1l0,-6zM1255,610l3,1l2,3l-3,2l-2,-3zM1297,776l3,-1l2,4l-3,2l-4,-2zM1653,662l-3,-3l4,-3l4,3l-2,3zM1325,745l1,3l-3,2l-3,-2l2,-4zM1335,636l-3,-1l0,-3l3,0l2,2zM1561,803l2,3l-2,2l-3,-1l0,-4zM1635,645l1,-2l3,2l-1,3l-3,0zM1649,711l5,-1l3,4l-3,4l-5,-2zM1655,758l-1,-3l2,-4l4,3l-1,4zM1638,534l4,-2l1,4l-2,3l-3,-2zM1449,957l1,5l-5,1l-2,-4l2,-2zM1433,984l3,0l2,4l-3,2l-4,-3zM1738,711l4,0l1,4l-4,1l-3,-2zM1281,670l5,0l3,5l-5,2l-3,-2zM1562,796l0,4l-4,0l-3,-3l4,-2zM1666,521l-3,-1l-1,-3l3,-2l2,3zM1612,650l3,3l0,3l-4,0l-1,-3zM1698,757l1,3l-1,2l-3,-1l-2,-3zM1269,718l3,0l0,4l-2,1l-3,-2zM1546,919l0,-4l3,-2l3,3l-1,6zM1685,552l-3,2l-3,-3l1,-3l6,-2zM1558,960l-2,3l-5,-2l1,-4l4,0zM1388,848l2,-4l3,-2l3,3l-3,3zM1534,887l-2,3l-4,0l-1,-4l4,-1zM1593,653l-2,4l-4,-2l0,-3l3,-3zM1528,832l-1,-4l4,-3l3,4l-3,3z" fill="#2c4660" opacity="0.85"/>
<path d="M1585,618l4,-2l1,4l-1,3l-5,-1zM1666,907l2,0l2,1l-2,2l-2,0zM1396,852l-1,-4l3,-3l3,2l0,5zM1480,560l-4,2l-1,-4l3,-2l3,1zM1720,926l-2,2l-3,0l1,-4l3,-2zM1473,937l-4,0l-1,-5l5,-1l2,3zM1691,593l-1,-4l4,-1l3,2l-2,3zM1524,584l-1,-4l2,-2l3,1l-1,3zM1421,586l-2,-4l3,-2l4,1l0,4zM1662,599l-3,1l-1,-2l1,-1l2,0zM1441,564l-3,-4l3,-3l4,1l0,4zM1298,705l2,-4l4,2l0,3l-4,3zM1607,597l5,3l-3,4l-4,-1l-2,-4zM1543,958l4,-1l2,3l-2,3l-3,-2zM1592,732l-3,-1l-1,-3l4,-1l3,2zM1643,650l-3,3l-3,-3l1,-4l3,1zM1369,740l-3,1l-2,-4l3,-2l3,2zM1600,642l-1,2l-3,0l0,-3l2,-1zM1671,810l2,2l-1,1l-2,1l0,-2zM1454,946l3,-3l3,0l0,3l-2,3zM1587,821l2,4l-3,2l-2,-2l0,-3zM1708,789l-4,0l-2,-2l2,-3l4,1zM1353,716l-5,-2l3,-4l4,-1l2,5zM1302,681l-2,-1l0,-2l2,0l1,1zM1513,837l2,4l-4,1l-3,-2l0,-4zM1655,564l0,-3l3,1l0,3l-2,2zM1441,962l4,2l0,4l-3,1l-4,-3zM1446,952l-1,3l-3,1l-1,-3l2,-2zM1346,731l0,2l-3,0l0,-2l1,-2zM1568,945l1,5l-3,2l-3,-2l1,-3zM1646,605l1,3l-3,1l-2,-2l1,-2zM1559,773l2,-2l2,2l-1,3l-3,1zM1342,703l4,1l-1,3l-3,3l-2,-3zM1349,796l-3,3l-3,-3l0,-4l4,1zM1697,634l2,2l-1,3l-2,0l-1,-2zM1375,727l5,3l0,4l-4,3l-4,-4zM1593,728l-2,1l-1,-2l1,-2l2,1zM1651,545l-4,-1l-3,-3l4,-2l5,1zM1430,945l-5,-1l0,-4l3,-2l4,2zM1661,543l-3,1l-2,-2l1,-2l3,-1zM1431,886l3,2l1,4l-4,1l-3,-3zM1316,718l3,-2l2,2l0,4l-4,-1zM1563,828l1,-2l2,0l0,2l-2,1zM1703,520l4,-4l4,1l-1,3l-3,3zM1612,713l3,-1l1,3l-2,4l-4,-2zM1468,685l-4,1l-2,-3l3,-3l4,1zM1339,630l3,2l1,2l-3,2l-3,-2zM1500,696l3,1l0,3l-2,1l-3,-2zM1592,684l3,2l-2,2l-3,0l-1,-3zM1394,564l1,2l-3,1l-1,-3l1,-2zM1399,890l-2,0l-2,-1l1,-3l3,1zM1271,676l3,-1l3,2l-2,4l-3,-2zM1629,538l3,3l-3,5l-5,-3l0,-5zM1343,798l2,0l-1,2l-2,0l-1,-1zM1614,860l3,0l2,4l-5,0l-3,-2zM1409,564l-2,-2l1,-3l4,1l0,4zM1664,959l-2,3l-3,1l-1,-2l2,-4zM1340,617l-2,4l-5,1l-1,-6l5,-2zM1721,519l2,2l-1,3l-3,0l-1,-3zM1545,562l1,2l-2,1l-2,-1l1,-2zM1254,665l1,-1l3,-1l0,4l-3,0zM1500,743l3,1l-1,3l-2,1l-1,-3zM1619,552l2,3l-2,2l-3,-1l0,-3zM1542,971l-1,-3l3,-2l1,2l0,2zM1568,686l3,-1l1,2l-1,3l-3,-1zM1342,655l2,3l-4,3l-4,-4l3,-3zM1649,635l3,3l-3,4l-5,-1l2,-4zM1602,575l2,-2l4,2l-2,4l-5,0z" fill="#bccfe0" opacity="0.85"/>
<path d="M1685,636l-3,-3l3,-3l5,1l-1,5zM1576,609l-2,1l-1,-2l1,-2l2,1zM1657,752l-3,2l-1,-3l1,-4l4,1zM1497,796l0,-5l4,-2l3,3l-2,4zM1584,578l-4,-3l2,-5l4,2l2,3zM1650,926l4,3l-2,4l-4,1l-3,-5zM1565,634l-1,-4l4,-1l2,1l-1,3zM1339,832l0,-2l2,-1l2,2l-2,2zM1443,956l-1,-3l2,-2l3,2l-2,3zM1666,768l3,-1l0,4l-3,1l-1,-2zM1702,961l1,2l-1,3l-2,-2l0,-2zM1596,799l1,4l-1,4l-3,-2l-2,-4zM1329,758l1,3l-3,2l-3,-3l2,-3zM1671,832l3,4l-3,2l-4,0l0,-4zM1493,592l1,2l-1,2l-3,-1l0,-3zM1436,980l3,0l1,3l-3,0l-2,0zM1730,617l1,-2l2,-2l2,3l-2,2zM1668,682l-3,-3l2,-5l5,2l0,4zM1545,647l3,3l-4,3l-3,-3l1,-4zM1593,670l3,-2l2,4l-1,2l-4,0zM1706,812l1,-4l4,0l1,3l-2,2zM1503,938l0,-2l3,-2l1,3l-2,3zM1337,638l2,1l0,3l-2,1l-1,-3zM1417,880l-3,-2l2,-3l3,1l2,3zM1545,684l1,2l-2,2l-2,-2l1,-3zM1242,733l3,1l1,3l-3,0l-1,-2zM1266,783l0,-1l1,-2l2,1l0,3zM1473,939l-3,2l-2,-3l2,-2l3,0zM1668,667l4,2l-1,5l-4,-1l-2,-3zM1644,675l-2,3l-4,0l1,-4l3,-3zM1275,777l4,-2l2,3l-2,3l-3,-1zM1646,535l3,0l-1,3l-3,0l-1,-2zM1507,935l2,-1l2,3l-2,1l-2,-1zM1621,587l-4,-3l-1,-5l5,-2l3,5zM1260,668l2,2l-2,2l-2,0l-1,-3zM1661,634l2,0l1,1l0,2l-3,0zM1294,687l1,-2l2,-1l1,2l-2,3zM1494,700l3,-2l3,3l-2,4l-3,-1zM1446,979l0,2l-1,1l-2,-1l0,-3zM1404,852l-3,3l-3,-3l2,-4l4,0zM1322,856l-2,0l0,-3l2,-1l2,2zM1528,713l-1,-1l1,-2l2,0l0,2zM1752,707l3,4l-1,3l-4,-1l-3,-3zM1712,969l-4,-2l2,-6l4,3l2,4zM1606,851l0,3l-3,2l-1,-3l1,-2zM1587,602l2,2l0,2l-2,-1l-1,-1zM1426,960l3,1l-1,3l-3,0l-1,-2zM1592,637l1,-3l3,0l1,3l-3,2zM1612,800l-3,3l-3,0l-1,-3l3,-3zM1417,538l2,6l-3,2l-5,0l2,-4zM1707,519l0,4l-4,-1l-2,-3l3,-3zM1506,896l-3,-4l5,-2l4,2l-2,4zM1714,542l-2,-2l2,-3l3,1l0,3zM1587,677l3,0l-1,4l-3,0l-2,-3zM1559,538l1,-3l3,-2l2,3l-3,3zM1373,788l-2,1l-3,0l1,-3l3,0zM1718,537l2,0l1,3l-3,1l-1,-2zM1522,521l3,0l1,3l-1,3l-3,-3zM1649,642l-3,0l-4,-3l4,-4l5,2zM1686,548l0,2l-2,2l-2,-3l1,-2zM1421,864l-3,2l-3,-3l2,-3l5,-1zM1282,752l-3,-2l-2,-5l5,1l3,3zM1720,838l1,-1l3,0l0,3l-3,1zM1427,911l3,-1l0,3l-2,2l-3,-1zM1534,887l5,-1l1,4l-2,3l-3,-2z" fill="#a4bed4" opacity="0.85"/>
<path d="M1252,741l-2,2l-4,1l1,-4l3,-1zM1563,518l3,-1l1,3l-2,2l-3,-1zM1588,727l1,-4l4,2l0,4l-4,0zM1477,540l-5,1l-2,-3l2,-4l3,2zM1744,551l4,-1l2,2l-1,3l-4,0zM1678,672l2,3l-3,2l-5,-1l2,-5zM1320,727l1,3l-3,0l-1,-2l2,-2zM1749,722l1,6l-2,4l-4,-3l1,-4zM1620,738l2,4l-4,3l-2,-3l0,-3zM1374,862l-4,-2l-2,-3l3,-2l4,2zM1738,794l3,5l-4,3l-3,-3l0,-3zM1372,766l2,0l0,3l-2,1l-2,-2zM1535,826l-2,2l-2,-3l0,-2l3,1zM1246,769l1,-4l5,-2l1,5l-3,4zM1575,943l4,4l-3,5l-4,-2l-1,-4zM1610,860l2,-1l2,1l-2,3l-2,-1zM1349,777l2,2l0,4l-3,-1l-2,-2zM1679,636l3,1l3,2l-4,2l-4,0zM1730,513l-1,3l-3,-1l0,-2l2,-2zM1517,718l2,1l-1,3l-2,0l-3,-3zM1636,799l1,2l-3,1l-3,-1l2,-4zM1365,858l4,-1l3,2l-2,3l-4,1zM1529,541l2,-2l3,0l0,3l-3,2zM1567,569l3,2l-2,4l-3,-1l-2,-3zM1518,908l1,3l-1,1l-3,0l1,-3zM1283,686l2,-2l3,1l1,4l-4,0zM1324,656l-2,4l-5,-2l2,-4l4,-2zM1492,540l3,-1l3,3l-3,2l-3,0zM1575,926l4,2l-3,4l-4,-1l-2,-4zM1399,731l-2,-2l2,-1l2,0l-1,2zM1545,660l-2,3l-2,-1l-1,-2l2,-2zM1556,884l-2,3l-5,-2l2,-4l5,-1zM1721,557l3,1l-1,3l-2,0l-1,-2zM1522,587l0,-4l2,-2l4,1l-1,5zM1741,608l-3,-3l2,-5l4,2l1,4zM1749,727l3,-1l1,2l-1,2l-3,0zM1656,913l-3,1l-1,-1l0,-2l3,-1zM1661,793l1,-2l3,0l0,3l-3,1zM1662,846l2,-1l2,2l-2,3l-2,-2zM1492,746l0,-3l3,0l1,2l-2,2zM1274,600l5,-2l3,3l-2,3l-4,0zM1575,921l-3,3l-3,-3l1,-4l3,1zM1646,620l0,3l-2,2l-3,-2l2,-2zM1608,712l0,-3l3,0l1,3l-3,2zM1645,841l2,-3l3,2l0,4l-3,-1zM1236,806l4,2l1,4l-3,1l-4,-2zM1623,662l4,3l-1,4l-4,1l-3,-3zM1605,571l3,0l2,3l-4,1l-3,-1zM1716,571l-1,5l-6,-1l0,-4l3,-4zM1567,611l-2,-2l0,-5l5,2l1,4zM1503,756l1,-2l3,0l1,3l-4,2zM1708,810l-1,-3l1,-2l3,1l-1,2zM1693,603l-3,0l-3,-2l3,-3l2,2zM1676,522l3,-1l3,2l-2,5l-5,-1zM1677,810l1,4l-5,2l-1,-4l1,-5zM1565,520l-2,-5l4,-4l3,4l0,4zM1693,809l-1,-3l3,0l2,1l-1,2zM1722,810l4,-2l3,2l-2,4l-5,0zM1256,658l-3,1l-4,-1l3,-3l2,1z" fill="#23384f" opacity="0.85"/>
<path d="M1715,795l-3,3l-4,-2l2,-4l4,-1zM1649,698l1,-2l3,2l-2,1l-1,1zM1724,717l2,-3l3,1l-1,3l-2,1zM1752,713l1,4l-1,2l-3,0l-1,-4zM1571,832l-4,2l-3,-4l2,-3l3,1zM1552,883l3,3l-3,2l-3,-1l0,-3zM1591,548l-3,1l-1,-3l2,-2l2,2zM1330,652l1,-2l2,0l1,2l-2,2zM1402,871l-1,2l-2,2l-2,-2l2,-2zM1627,839l2,2l-1,3l-2,-1l-1,-2zM1730,749l-1,1l-2,-1l0,-2l3,-1zM1650,713l0,-4l2,-2l3,2l-1,3zM1544,796l-5,2l-3,-4l3,-4l4,1zM1675,515l-1,2l-2,2l-1,-2l1,-2zM1270,675l-1,-3l0,-3l3,1l0,3zM1273,666l-1,3l-2,1l-1,-3l2,-1zM1543,754l1,-3l3,1l1,2l-3,1zM1488,784l3,-3l4,2l0,4l-4,0zM1290,786l3,-3l4,2l-2,4l-3,1zM1535,979l-4,0l-1,-4l3,-2l4,2zM1738,748l0,2l-2,0l-2,-2l2,-2zM1559,931l2,-5l4,2l1,4l-4,1zM1690,719l3,1l1,3l-4,3l-2,-4zM1567,916l3,-1l4,2l-2,4l-4,-1zM1675,790l3,-2l3,5l-4,2l-2,-2zM1243,735l-1,3l-3,2l-1,-4l2,-2zM1472,947l2,-4l3,1l2,3l-3,1zM1697,733l-5,1l1,-5l4,-3l3,4zM1639,673l5,1l-2,4l-3,0l-2,-2zM1652,578l1,2l-1,3l-4,-2l1,-3zM1564,919l-1,-2l2,-2l2,2l-1,2zM1645,854l-5,0l-4,-2l3,-5l4,3zM1382,727l-3,2l-3,-2l3,-3l3,0zM1674,813l2,-3l2,1l2,2l-3,2zM1651,660l2,2l-2,2l-2,-1l0,-2zM1453,941l-3,1l0,-3l2,-1l3,1zM1599,859l3,-3l4,4l-2,5l-4,-3zM1720,832l1,-4l3,1l2,4l-4,1zM1502,593l0,4l-4,2l-3,-3l3,-3zM1655,723l2,-4l3,0l3,4l-4,1zM1683,849l2,-3l3,2l0,3l-3,2zM1672,567l1,-3l3,-1l0,3l-2,3zM1558,918l2,2l-3,3l-2,-3l0,-2zM1636,598l4,2l2,4l-4,2l-5,-2zM1680,582l3,-2l2,1l1,2l-3,2zM1268,745l3,2l-1,4l-4,-1l-3,-4zM1584,743l-2,-4l4,-3l4,4l-3,3zM1324,737l0,-4l2,-3l4,2l-2,4zM1550,623l0,-4l3,0l4,3l-4,2zM1264,778l4,-2l2,2l0,3l-3,0zM1287,781l4,2l-1,4l-5,0l-1,-4zM1285,764l-1,-2l2,-3l3,3l-1,2zM1721,610l2,-4l3,0l1,4l-3,1zM1627,529l2,-4l3,1l2,3l-3,1zM1237,809l-2,-2l2,-1l2,0l0,2zM1290,646l-3,-1l0,-3l3,0l1,2zM1324,814l1,-2l2,2l-1,2l-3,1zM1555,567l2,-2l2,1l0,3l-2,1zM1288,832l-1,-2l0,-2l3,0l0,3zM1365,843l-4,2l-2,-3l0,-4l4,1zM1663,945l1,5l-4,2l-5,-4l5,-3zM1365,745l2,-5l4,2l2,5l-5,1zM1492,829l0,-3l3,-1l1,3l-1,2zM1449,969l0,-3l2,-2l2,2l-1,3zM1310,789l3,5l-5,3l-5,-3l3,-5zM1503,835l0,3l-3,1l-2,-3l2,-2zM1451,962l-2,2l-3,-2l2,-3l3,1zM1402,881l0,5l-5,0l-2,-3l2,-3zM1734,512l1,2l-2,2l-2,-1l0,-2zM1400,921l-4,2l-3,-4l2,-4l4,2zM1288,694l-5,0l-2,-3l2,-4l6,1zM1433,672l-4,-4l1,-5l6,0l0,5zM1363,765l-6,-1l-1,-4l3,-4l3,4zM1249,751l-1,-4l4,-4l4,4l-2,5zM1597,673l-2,1l-3,-2l2,-3l3,2zM1293,831l-1,-3l3,-2l2,3l-1,3zM1485,706l0,2l-2,1l-1,-2l1,-2zM1548,922l1,-2l3,-1l0,3l-2,3zM1288,678l-2,-3l1,-5l6,1l-1,5zM1473,685l-3,-1l1,-2l2,0l2,2zM1738,835l-1,4l-4,0l-3,-5l5,-2zM1437,967l-2,-3l2,-2l2,1l1,3z" fill="#8aa8c2" opacity="0.85"/>
<path d="M1657,698l-3,-2l-1,-5l4,1l3,3zM1650,636l3,-1l2,1l0,3l-3,0zM1372,851l-2,-2l-1,-3l3,0l1,2zM1480,702l4,-1l2,4l-3,3l-3,-2zM1726,809l4,-1l1,4l-2,1l-3,-1zM1671,699l-3,0l-1,-3l2,-2l2,2zM1659,584l-1,-2l0,-2l3,1l0,2zM1587,679l3,2l0,3l-4,2l-2,-4zM1624,715l5,3l-1,4l-4,2l-4,-5zM1664,821l-1,3l-2,-1l-1,-2l2,-1zM1526,580l4,-1l1,4l-2,2l-3,-2zM1359,783l2,3l-2,2l-3,-2l0,-3zM1701,908l2,2l-2,2l-3,0l1,-2zM1657,844l-2,-2l1,-2l1,0l2,1zM1255,647l1,3l-3,3l-3,-3l1,-4zM1448,568l-3,-1l1,-2l3,-1l0,3zM1426,539l4,0l0,4l-3,2l-2,-3zM1415,515l1,-2l2,1l0,2l-3,2zM1650,692l-1,1l-2,0l1,-3l2,-1zM1510,531l1,-3l4,-1l1,5l-4,2zM1426,911l-1,-4l3,-2l4,1l-1,5zM1492,596l-2,-3l3,-3l5,2l-3,3zM1706,594l-3,-3l2,-3l4,0l1,5zM1500,531l-1,-4l3,-1l4,2l-2,3zM1594,675l-2,2l-2,-2l2,-3l2,1zM1456,966l-1,4l-4,-2l1,-3l2,-2zM1668,946l-1,-2l3,-2l3,3l-2,3zM1272,706l2,3l0,3l-4,1l0,-4zM1548,682l3,5l-6,3l-4,-4l2,-6zM1362,771l0,-4l4,-2l2,4l-3,3zM1741,546l3,-4l4,-2l2,5l-4,3zM1507,530l2,-3l3,2l1,4l-4,-1zM1593,653l2,-1l1,2l-1,2l-3,-1zM1286,780l5,1l-1,5l-4,3l-3,-5zM1656,550l2,2l-2,3l-3,-1l0,-4zM1693,586l-2,0l0,-3l2,-1l3,2zM1551,954l2,2l1,3l-3,1l-1,-3zM1261,777l0,-2l2,-1l2,2l-2,2zM1613,656l-3,-2l0,-2l3,-1l2,3zM1445,517l-2,-3l2,-3l3,2l1,3zM1563,650l5,-3l3,5l-3,3l-5,0zM1746,714l3,-3l2,3l0,2l-3,0zM1521,872l0,5l-4,0l-2,-3l2,-4zM1648,589l1,1l-1,2l-1,-1l-1,-2zM1691,768l0,-3l2,-3l4,3l-2,2zM1692,732l2,-3l3,3l-3,3l-2,-1zM1579,811l2,2l-3,1l-3,0l1,-3zM1474,564l2,4l-2,4l-4,-3l0,-3zM1479,807l0,4l-3,2l-4,-3l2,-4zM1733,740l-2,-5l3,-4l4,3l0,4zM1508,876l-2,-3l1,-3l3,0l1,3zM1621,787l2,-3l4,0l0,5l-3,0zM1695,704l-1,3l-3,-2l0,-3l3,0zM1363,691l4,0l0,2l-1,2l-3,-1zM1624,585l1,2l-2,0l-1,-1l0,-2zM1360,837l3,-1l2,3l-2,4l-4,-2zM1263,662l-4,-2l1,-4l4,-1l1,4zM1337,631l-2,-3l3,-2l3,2l-1,4zM1245,635l3,3l-1,4l-5,0l0,-4zM1578,942l4,2l2,4l-4,1l-3,-2zM1344,793l4,-1l0,4l-3,1l-4,-2zM1437,692l2,2l-2,2l-4,0l2,-4zM1524,912l0,-2l2,-1l2,1l-1,2zM1664,709l3,-3l4,0l-1,3l-2,2zM1332,652l-2,-2l1,-2l2,1l1,2zM1404,559l2,-4l4,0l3,3l-4,3zM1693,625l4,2l-1,5l-4,-1l-2,-3zM1720,706l0,3l-4,2l-2,-5l4,-3zM1755,709l2,2l-3,2l-2,-2l1,-3zM1678,669l3,2l-1,3l-3,-1l-1,-2zM1649,688l-1,3l-2,0l-2,-2l2,-3z" fill="#7896b2" opacity="0.85"/>
</g>
<g clip-path="url(#c3)">
<rect x="1237.5" y="990" width="514.5" height="480.5" fill="#333333"/>
<rect x="1237.5" y="990" width="514.5" height="480.5" filter="url(#n3)"/>
<path d="M1702,1023l-5,8M1247,1395l-9,3M1615,1312l-3,10M1365,1287l9,1M1496,1190l-6,9M1559,1177l-8,0M1627,1007l-10,7M1670,1303l-2,8M1644,992l5,4M1515,1451l-3,8M1560,1188l-1,11M1735,1396l-7,2M1482,1215l-9,5M1654,1218l5,5M1713,1311l7,8M1273,996l9,8M1257,1255l8,7M1271,1175l-5,7M1555,1378l7,7M1259,1078l8,2M1654,1103l-10,3M1375,1156l-12,3M1450,1190l-1,10M1463,1410l11,1M1460,1081l-8,10M1349,1215l-2,7M1545,1390l9,7M1296,1405l-4,6M1595,1283l10,9M1723,1167l-4,11M1287,1018l10,3M1428,1168l-6,2M1550,1161l-3,7M1511,1011l-8,2M1308,1277l6,5M1599,1104l-11,0M1693,1116l-6,4M1274,1064l-8,9M1681,1056l2,8M1291,1020l1,8M1301,1367l-2,10M1329,1024l-11,3M1666,1429l-5,12M1435,994l-6,1M1694,1377l8,7M1456,1181l8,4M1265,1467l11,5M1558,1468l-6,2M1660,1162l-13,0M1707,1420l1,13M1374,1071l-4,5M1331,1200l-7,6M1601,1399l3,9M1686,1107l-2,7M1425,1234l-6,11M1436,1394l7,8M1614,1227l-10,8M1388,1255l7,3M1242,1041l-5,10M1315,1124l11,1M1554,1196l3,5M1280,1154l-10,5M1386,1176l12,2M1592,1441l-5,10M1395,1464l-9,6M1538,1427l-6,5M1636,1206l2,13M1451,1429l-11,2M1414,1237l9,9M1265,1430l-11,6M1715,1382l-1,7M1681,1044l10,5M1492,1181l-6,3M1523,1059l10,1M1574,1153l11,5M1482,1302l1,8M1413,1117l7,7M1252,1184l-7,10M1654,1264l-3,7M1498,1402l1,10M1597,993l-5,6M1322,1123l3,7M1319,1330l5,7M1579,1177l3,7M1692,1174l10,5M1424,995l-9,4M1297,1445l-3,6M1358,999l0,6M1440,1109l-2,11M1546,1196l-3,7M1503,1430l6,8M1717,1379l9,4M1446,1330l1,8M1596,1321l-10,6M1442,1118l3,11M1578,1391l11,0M1698,1221l-9,5M1473,1372l-8,8M1509,1407l5,7M1262,1233l5,6M1339,1372l7,9M1672,1024l-3,5M1359,1407l8,10M1584,1305l-3,10M1333,1415l-5,4M1448,1014l3,8M1599,1085l9,4M1249,1079l10,1M1491,1353l-9,7M1394,1242l-1,9M1270,1458l-6,10M1579,1018l-4,9M1465,1076l6,7M1398,1019l-7,1M1504,1325l-6,7M1459,991l-8,5M1631,1045l12,3M1288,1186l-6,6M1551,1340l6,2M1314,1457l-3,12M1722,1017l2,12M1479,1338l-7,5M1732,1358l10,6M1355,1117l-2,13M1292,1122l9,8M1504,1464l-4,5M1386,1395l-7,7M1296,1458l-6,1M1675,1393l-3,9M1486,1370l-10,7M1263,1141l7,0M1309,1240l8,1M1406,1134l2,6M1527,1329l-11,5M1409,1181l-8,1M1631,1291l2,7M1590,1033l-9,8M1362,1356l-6,2M1493,1303l-4,12M1581,1034l-6,7M1476,1022l-10,2M1301,1275l-7,2M1422,1349l-12,3M1690,1437l-5,6M1475,1016l4,7M1506,1150l12,2M1750,1311l-8,2M1327,1018l3,7M1661,1217l5,5M1483,1169l-8,0M1737,1135l4,6M1509,1326l11,3M1658,1145l5,4M1248,1248l-8,6M1665,1298l-3,12M1395,1306l12,2M1651,1200l-6,5M1666,1169l6,10M1363,1098l3,8M1407,1276l-9,6M1310,1105l-2,10M1675,1086l-7,11M1599,1116l7,5M1449,1054l3,8M1382,1468l-1,6M1326,1262l-7,7M1551,1431l-2,7M1640,1388l10,2M1728,1344l9,2M1248,1399l6,5M1698,1032l5,9M1479,1456l-2,8M1336,995l3,8M1686,1275l-4,9M1257,1303l11,2M1452,1047l6,1M1280,1201l3,7M1344,1031l9,7M1594,1195l8,4M1712,1044l6,10M1652,1262l-5,7M1494,1382l-5,11M1255,1462l-1,7M1264,1384l0,12M1409,1284l6,4M1484,1006l-5,3M1295,1451l4,11M1466,1029l-5,10M1546,1376l8,4M1262,1147l-4,6M1457,1435l-9,2M1750,1230l11,1M1595,995l-9,3M1692,1066l12,1M1577,1218l-11,1M1751,1002l-8,5M1335,1197l8,5M1248,1145l6,4M1714,1146l-5,6M1373,1131l5,7M1584,1190l8,1M1359,1431l4,9M1347,1404l13,0M1699,1217l-2,11M1619,1355l4,7M1620,1200l11,4M1288,1057l10,0M1345,1432l-8,6M1644,1208l1,12M1490,1440l7,8M1651,1211l4,5M1412,1327l-6,9M1256,1081l9,1M1565,1156l-4,11M1473,1131l6,5M1665,1088l6,0M1331,1296l-6,1M1565,1014l-4,10M1662,1366l6,2M1556,1072l-10,2M1704,1057l2,9M1449,1046l6,1M1409,1215l11,0M1579,999l1,11M1519,1110l5,7M1280,1167l-6,1M1747,1108l5,5M1290,1399l2,9M1496,1037l3,12M1741,1428l-6,2M1512,1091l9,6M1641,1008l7,5M1687,1010l-2,6M1634,1254l-3,6M1586,1100l8,2M1476,1036l7,9M1417,1189l4,6M1721,1201l3,13M1435,1000l12,2M1537,1063l-1,8M1314,1077l2,9" stroke="#505050" stroke-width="2.4" stroke-linecap="round" fill="none"/>
<path d="M1258,1015l11,7M1544,1308l-10,0M1310,1323l-7,10M1404,1010l2,10M1682,1315l-11,4M1453,1399l1,8M1722,1190l-11,5M1634,1021l-6,1M1687,1048l-9,6M1587,1464l-10,5M1547,1063l-5,6M1423,1378l5,10M1495,1372l1,11M1373,1441l-10,5M1398,1202l-12,4M1288,1310l-2,8M1289,1274l-6,0M1603,1231l-7,3M1442,1142l-5,4M1270,1132l-4,5M1431,1091l4,6M1584,1463l5,7M1654,1049l3,8M1614,1053l-4,6M1288,1128l-3,6M1496,1033l11,1M1611,1133l2,12M1541,1136l2,7M1504,1377l-1,11M1278,1155l8,5M1607,1427l6,6M1701,1316l-3,11M1455,1003l-5,4M1517,1162l7,9M1683,1267l-4,5M1527,1228l8,7M1640,1365l7,5M1305,1351l2,12M1383,1043l-8,3M1603,1457l6,5M1568,1044l-6,6M1541,1026l9,1M1697,1464l7,2M1525,1395l-9,4M1305,1061l-9,4M1448,1122l-1,10M1296,1310l0,12M1425,1422l9,0M1663,1466l1,11M1746,1384l-1,10M1277,1112l-3,7M1459,1470l12,4M1642,1307l4,7M1696,991l7,2M1491,1399l10,2M1566,1215l2,7M1446,1189l9,2M1729,1416l8,8M1408,1000l10,5M1711,1187l6,8M1570,1005l2,11M1303,1199l-6,6M1341,1101l-7,9M1738,1409l6,8M1719,1041l-11,3M1500,1441l2,7M1544,1082l-12,0M1733,1115l6,4M1413,1404l-5,8M1671,1424l0,10M1443,1263l-12,2M1315,1125l-10,7M1524,1157l0,11M1526,1085l-8,3M1476,1372l6,1M1323,1413l-3,6M1467,1119l-10,6M1337,1332l1,8M1577,1092l-8,6M1530,1317l0,6M1425,1068l7,5M1301,1438l-6,1M1629,997l-3,7M1670,1282l10,8M1509,1444l-11,1M1449,1176l-1,8M1256,1352l7,8M1715,1081l-7,9M1480,1326l-9,5M1533,1206l-7,1M1279,1252l-5,6M1473,1305l-7,10M1506,1157l-6,4M1545,1458l9,2M1653,1138l7,7M1567,1337l6,1M1545,1446l-5,4M1500,1113l-12,3M1738,1077l-7,4M1543,1051l-3,7M1720,1104l-10,5M1322,1128l-4,12M1666,1094l8,2M1689,1379l6,9M1586,1191l-6,2M1279,1015l-9,1M1355,1058l11,3M1445,1338l-12,0M1425,1403l1,9M1621,1112l-7,3M1479,1125l12,3M1720,1361l-4,7M1316,1302l-3,9M1251,1064l6,2M1661,1100l-4,12M1691,1160l7,1M1456,1409l-5,6M1651,1253l6,9M1367,1056l-6,6M1373,1287l9,6M1328,1023l-2,12M1304,1192l10,0M1662,1063l4,12M1706,1284l-11,6M1318,1395l-8,2M1422,1145l-9,8M1724,1411l-4,12M1750,1165l2,10M1563,1421l-4,9M1401,1109l-9,4M1441,1015l6,3M1629,1261l4,8M1359,1393l7,3M1584,1228l8,1M1632,1393l-12,3M1588,1452l8,1M1327,1062l7,3M1241,1269l-8,4M1372,1188l-3,11M1570,1253l-4,8M1574,1363l-3,7M1585,1020l-11,6M1477,1163l4,11M1650,1373l2,8M1416,1410l-5,6M1719,1101l0,10M1444,1166l-12,4M1680,1461l0,11M1468,1439l-1,8M1411,1238l12,1M1403,1402l-10,1M1395,1444l-6,5M1413,1255l8,8M1314,1394l-9,4M1465,1300l-11,6M1660,1327l4,11M1439,1276l2,7M1713,1005l-3,7M1633,1064l-8,8M1346,1007l-13,2M1723,1089l-1,6M1517,1399l10,3M1455,1241l-11,1M1437,1192l-7,9M1679,1192l-12,3M1729,1050l8,8M1505,1434l-5,5M1655,1131l-9,4M1442,1089l7,2M1599,1076l6,0M1743,1282l11,6M1301,1289l-3,7M1480,1118l6,4M1408,1019l-4,9M1660,1235l-3,6M1350,1284l-6,5M1283,1358l-7,6M1467,1028l-11,2M1248,1029l4,11M1268,993l2,8M1469,1353l-2,6M1495,1114l2,6M1334,1213l5,6M1748,1253l6,3M1250,1349l-7,4M1280,1194l8,10M1473,1112l7,5M1435,1056l6,7M1241,1242l8,10M1673,1390l-6,10M1271,1193l5,9M1242,1275l-6,5M1329,1420l-4,9M1320,1421l12,5M1624,1245l9,4M1288,1276l4,7M1454,1309l-2,7M1267,1275l4,9M1279,1412l5,8M1440,1437l3,7M1244,1008l2,12M1312,1117l-5,6M1494,1082l3,7M1477,1453l-3,8M1730,1315l5,4M1284,1445l-5,4M1351,1071l-2,7M1441,1160l12,2M1491,1104l8,6M1242,1302l10,5M1352,1126l2,6M1272,1340l-5,7M1677,1225l2,11M1625,1452l-2,7M1500,1169l-8,8M1301,1409l4,8M1590,1440l-2,6M1308,1156l-11,5M1565,1117l1,7M1395,1119l3,6M1642,1111l4,5M1491,1023l7,0M1485,1147l-9,7M1675,1133l-2,8M1372,1251l4,6M1518,1399l8,10M1557,1420l-8,0M1290,1051l-13,1M1746,1047l-7,2M1656,1240l-9,10M1554,1165l10,8M1413,1016l-5,5M1528,1147l-2,6M1289,1104l7,2" stroke="#3a3a3a" stroke-width="2.4" stroke-linecap="round" fill="none"/>
<path d="M1393,1274l-11,1M1456,1040l5,6M1440,1191l13,2M1611,1310l4,7M1711,1219l6,1M1245,1444l-2,7M1281,1257l2,7M1312,1176l2,10M1557,1280l9,9M1707,1424l-2,10M1622,1180l-1,6M1640,1169l-7,7M1729,1120l-1,13M1585,1441l-9,2M1666,1151l7,2M1244,1195l9,5M1360,1091l4,7M1391,1342l5,8M1288,1359l-8,8M1703,1029l4,5M1445,1019l-1,11M1591,1206l-11,2M1269,1453l9,5M1310,1043l10,4M1336,1456l-9,4M1399,1369l4,9M1657,1431l-10,5M1425,1076l-7,10M1461,995l4,12M1549,1182l-8,6M1603,1376l1,8M1749,1312l-4,7M1694,1220l-2,8M1598,1153l9,4M1284,1255l4,11M1328,1465l9,3M1512,1430l-6,0M1415,1318l-5,4M1735,1195l4,9M1565,1084l-6,3M1698,1451l4,8M1341,1361l1,8M1684,1059l-9,3M1455,1312l-11,0M1648,1098l-9,3M1742,1154l-3,11M1742,1178l0,9M1546,1162l-5,9M1680,1283l10,5M1241,1355l4,6M1571,1058l-5,12M1698,1299l11,3M1521,1126l6,4M1306,1116l5,4M1624,1442l7,3M1661,1344l-4,9M1284,1059l7,10M1585,1308l-6,4M1252,1045l-2,6M1265,1250l-7,3M1494,1289l6,4M1537,1113l2,12M1392,1296l6,7M1738,1312l4,5M1483,1325l-7,5M1541,1063l-12,5M1560,1424l-5,10M1606,1344l7,6M1698,1415l-9,8M1707,1408l-1,7M1655,1282l5,5M1618,1374l11,7M1423,1370l-5,6M1690,1119l11,3M1677,1289l-9,2M1488,1000l-5,7M1331,1356l2,9M1343,1267l-2,7M1583,1432l-5,9M1683,1260l-2,11M1358,1103l9,1M1518,1250l6,6M1429,1280l-4,10M1458,1226l8,1M1559,1438l-3,11M1398,1357l-6,11M1731,1154l-3,12M1356,1194l3,11M1321,1422l-6,8M1675,1378l-10,6M1430,1366l7,3M1730,1035l6,10M1625,1366l5,4M1481,1136l-11,6M1565,1016l5,5M1681,1419l10,5M1362,1224l4,6M1567,1208l-6,10M1534,1334l-2,9M1535,1328l-8,10M1472,1121l5,5M1535,1243l7,10M1322,1135l-8,7M1407,1158l0,8M1610,1429l-8,3M1587,1368l-1,13M1522,1375l-7,0M1307,1241l11,3M1579,1239l-6,9M1692,1420l7,0M1657,1141l-6,3M1432,1255l-10,8M1649,1049l-7,3M1606,1304l-6,3M1647,1011l9,5M1476,1314l0,12M1271,1283l-10,7M1439,1094l-7,8M1468,1194l1,11M1662,1286l12,0M1528,1032l-9,5M1423,1138l3,8M1553,1455l-1,7M1712,1388l9,3M1260,1068l7,3M1389,1375l-2,11M1368,1459l6,6M1615,1345l-6,4M1517,1054l9,7M1246,1365l-10,5M1409,1231l-6,9M1533,1095l10,6M1516,1020l-13,0M1298,1289l12,4M1450,1402l6,1M1416,1048l10,4M1625,1028l7,10M1558,1068l2,6M1485,997l12,1M1412,1189l-4,5M1278,1135l-2,7M1410,1075l5,6M1373,1030l-7,6M1714,1248l-6,8M1645,1064l-5,7M1711,1308l-3,9M1672,1405l-3,13M1552,1310l3,9M1626,1339l3,12M1548,1463l-6,7M1675,1038l4,5M1450,1011l-7,6M1266,1138l-7,3M1649,1133l3,7M1301,1358l-5,6M1457,1257l1,11M1279,1408l-10,1M1709,1227l-6,11M1477,1220l4,10M1587,1378l-10,4M1629,1319l-5,5M1520,1017l-11,5M1257,1347l4,5M1343,1054l-4,8M1391,1358l-12,2M1571,1460l-7,0M1291,1453l-10,5M1366,1129l-4,10M1667,1170l8,6M1545,1184l-4,10M1378,1120l-7,4M1630,1457l8,3M1436,1305l8,7M1679,1150l-6,4M1740,1262l0,7M1382,1094l-3,7M1571,1319l11,7M1587,1259l-2,9M1467,1052l-2,13M1391,1342l12,1M1268,1258l7,3M1331,1420l1,12M1295,1049l-5,6M1401,1124l10,2M1531,1106l7,0M1613,1305l10,1M1583,1190l4,6M1404,1301l-3,12M1270,1238l-1,8M1438,1237l-7,3M1311,1297l4,9M1676,1167l-1,9M1630,1132l-2,9M1298,1415l0,7M1282,1065l11,2M1297,1319l10,7M1337,1424l-8,2M1429,1354l6,11M1303,1130l-3,11M1544,1379l10,4M1440,1014l-9,1M1631,1349l-10,3M1350,1096l4,7M1438,1084l10,5M1622,1470l-5,4M1544,1460l4,6M1346,1467l-8,7M1523,1328l1,12M1501,1007l-11,5M1459,1357l-2,11M1541,1256l10,6M1519,1143l9,6M1637,1386l-11,3M1442,1385l12,0" stroke="#444" stroke-width="2.4" stroke-linecap="round" fill="none"/>
<path d="M1281,1456l-6,5M1625,1209l-4,8M1506,1407l-3,6M1352,1160l7,6M1374,1424l-7,5M1479,1174l-7,6M1448,1337l-13,0M1688,1003l5,5M1678,1312l9,6M1556,1343l2,11M1742,1427l11,2M1323,1120l-1,12M1433,1420l0,6M1742,1310l3,9M1704,1168l-7,5M1404,997l-4,9M1277,1149l1,7M1479,1443l-7,3M1238,1314l6,8M1394,1191l-10,4M1685,1284l5,6M1557,1460l-10,3M1676,1079l-8,2M1749,1431l-11,2M1327,1398l-7,8M1295,1423l9,6M1506,1047l-8,1M1696,1027l10,5M1478,1026l1,6M1541,1421l-7,8M1608,1287l7,4M1283,1265l9,2M1493,1215l10,2M1284,1275l-9,1M1653,1225l2,10M1593,1325l-2,8M1439,1343l-7,7M1734,1066l-1,10M1252,1010l9,5M1670,1060l3,6M1587,1463l-9,4M1684,1037l-3,6M1478,1097l1,12M1297,1025l2,6M1487,1144l-3,8M1568,1253l-2,8M1509,1258l0,12M1360,1324l-5,5M1386,1218l-6,8M1414,1444l11,1M1626,1225l-4,5M1456,1467l9,6M1642,1357l7,9M1330,1459l-2,9M1626,1055l-6,9M1687,1260l-11,4M1566,1352l3,7M1638,1201l-7,9M1692,1386l0,12M1390,1379l12,0M1602,1086l11,2M1426,1149l-12,2M1664,1009l4,9M1273,1400l4,5M1395,1058l0,9M1725,1218l-2,13M1738,1100l1,7M1507,1146l-6,9M1266,1030l-4,6M1539,1073l7,4M1412,1058l2,6M1239,1059l3,10M1518,1359l-2,10M1468,1453l-4,6M1302,1456l-6,10M1749,1290l1,10M1674,1326l-7,2M1401,1429l-11,0M1280,1287l-4,10M1432,1064l0,8M1434,1168l-4,12M1684,1022l2,8M1474,1398l2,6M1483,1244l3,7M1524,1470l-6,1M1334,1119l-9,7M1513,1367l6,3M1442,1092l8,0M1609,1183l7,10M1558,1310l5,11M1249,1362l10,7M1497,1389l-10,0M1487,1032l-9,6M1520,1172l0,8M1707,1262l4,12M1684,1287l2,9M1695,1392l-4,10M1276,1103l-8,0M1683,1008l6,8M1520,1183l4,6M1369,1130l-9,7M1249,1133l-10,8M1567,1173l-11,2M1338,1316l7,7M1669,1234l-1,6M1749,1175l-1,9M1515,1221l-5,5M1412,992l8,8M1478,1117l-5,4M1614,1421l9,0M1746,1195l-1,6M1269,1016l-12,1M1304,1305l3,11M1344,1196l6,6M1528,1295l-6,1M1740,1399l6,5M1326,1283l-6,8M1409,1248l7,5M1746,1391l-1,9M1285,1412l2,8M1353,1455l-7,0M1575,1222l-7,11M1502,1415l-8,6M1630,1001l1,8M1513,1421l2,7M1710,1204l-10,7M1344,1320l-1,8M1351,1118l10,2M1602,1175l12,0M1350,1311l10,2M1657,1218l-6,10M1238,1058l-8,9M1656,1101l-11,2M1548,1339l-9,3M1638,1332l0,6M1434,1315l-7,6M1650,1077l6,6M1658,1139l5,8M1256,1051l-12,4M1493,1334l7,7M1576,1206l8,5M1379,1164l12,5M1484,1087l-10,4M1675,1382l4,5M1651,1239l-11,5M1640,1340l9,5M1686,1076l-3,6M1679,1248l1,12M1699,1249l-6,9M1498,1339l12,2M1251,1426l12,3M1404,1012l6,3M1530,1447l8,3M1466,1081l-11,2M1623,1447l1,8M1326,1105l6,5M1468,1369l5,7M1304,1463l-3,9M1623,1401l-6,4M1424,1113l-8,6M1622,1208l7,2M1665,1402l7,9M1747,1032l7,10M1662,1208l3,10M1459,1083l6,3M1460,1200l-11,5M1630,1284l6,9M1359,1338l7,10M1432,1045l5,9M1737,1178l-4,11M1446,1060l-6,2M1499,991l-9,9M1278,1132l-4,12M1365,1258l4,9M1708,1025l7,2M1279,1037l-8,6M1505,1093l-5,5M1580,1425l4,7M1585,1448l4,8M1559,1351l-5,7M1495,1298l-3,6M1498,1154l-8,9M1492,1137l-4,7M1689,1251l0,10M1290,1130l8,8M1675,997l2,7M1427,1360l-3,11M1281,1301l10,2M1615,1269l-5,11M1312,1285l7,9M1746,1128l-6,11M1423,1120l-3,7M1617,1132l6,7M1246,1240l-3,6M1548,1155l-3,11M1427,1076l-2,6M1311,1082l-5,8M1537,1350l1,13M1708,1069l3,12M1470,1194l-10,8M1726,1079l7,2M1480,1097l-9,7M1684,1144l-10,5M1683,1096l5,9M1244,1092l1,6M1351,1287l3,9M1265,1246l-1,7M1364,1404l0,8M1455,1427l9,1M1317,1254l-12,5M1703,1014l-5,6" stroke="#1e1e1e" stroke-width="2.4" stroke-linecap="round" fill="none"/>
<path d="M1422,1197.5l2,-7.5l4.5,-6.5l3.5,-6.5l7,-4.5l3.5,-8.5l6,4l6.5,4l6,4l7.5,0.5l10,-2l9,3.5l1.5,9l6.5,5.5l3,9.5l9,-0.5l6.5,5.5l7.5,1.5l6,5.5l6,6l7,4.5l6.5,3.5l8.5,1l6,4l3,9l8.5,1l6,4l6.5,6.5l-2.5,8l0,7.5l0,8l4,6l-8,3l-8.5,6.5l2.5,7l3.5,7.5l2,7.5l2,7.5l-2,8.5l7,6.5l-2,8l-7.5,-1.5l-6.5,4.5l-6,5l-7.5,-1.5l-7.5,-1l-4,4l-3.5,7.5l-3.5,7.5l-7.5,5.5l-0.5,6l-7.5,2l-6.5,2l-6,6.5l-8,-0.5l-7,0.5l-6,3.5l-7,-4l-7,-3.5l-6.5,-4.5l-4,-8l-7,-3.5l-9,-2.5l2,-10l-6.5,-8l0,-12l-9.5,1.5l-4.5,-6l-6.5,-4l-5.5,-4.5l-7,-2.5l-5,-6l-8,-2l-4.5,-7.5l-6,-4l-3.5,-4l1.5,-6.5l1,-7l-3.5,-8.5l7,-5.5l-0.5,-5.5l6,-7.5l9,2l7.5,-4.5l6,-5l5.5,-5l9.5,-0.5l1.5,-9.5l7,-2.5l-3.5,-9.5l-1,-11.5l-6.5,-8z" fill="#121212" opacity="0.8"/>
<g clip-path="url(#c3p)"><rect x="1376.3" y="1156.9" width="208.8" height="234.9" filter="url(#n3p)"/></g>
<path d="M1418,1192.5l2,-7.5l4.5,-6.5l3.5,-6.5l7,-4.5l3.5,-8.5l6,4l6.5,4l6,4l7.5,0.5l10,-2l9,3.5l1.5,9l6.5,5.5l3,9.5l9,-0.5l6.5,5.5l7.5,1.5l6,5.5l6,6l7,4.5l6.5,3.5l8.5,1l6,4l3,9l8.5,1l6,4l6.5,6.5l-2.5,8l0,7.5l0,8l4,6l-8,3l-8.5,6.5l2.5,7l3.5,7.5l2,7.5l2,7.5l-2,8.5l7,6.5l-2,8l-7.5,-1.5l-6.5,4.5l-6,5l-7.5,-1.5l-7.5,-1l-4,4l-3.5,7.5l-3.5,7.5l-7.5,5.5l-0.5,6l-7.5,2l-6.5,2l-6,6.5l-8,-0.5l-7,0.5l-6,3.5l-7,-4l-7,-3.5l-6.5,-4.5l-4,-8l-7,-3.5l-9,-2.5l2,-10l-6.5,-8l0,-12l-9.5,1.5l-4.5,-6l-6.5,-4l-5.5,-4.5l-7,-2.5l-5,-6l-8,-2l-4.5,-7.5l-6,-4l-3.5,-4l1.5,-6.5l1,-7l-3.5,-8.5l7,-5.5l-0.5,-5.5l6,-7.5l9,2l7.5,-4.5l6,-5l5.5,-5l9.5,-0.5l1.5,-9.5l7,-2.5l-3.5,-9.5l-1,-11.5l-6.5,-8z" fill="none" stroke="#b8aad4" stroke-width="1.6" opacity="0.8"/>
<path d="M1499,1225.5l38.5,-7.5l42,30.5l4,30.5l-38.5,4l-38,-11.5z" fill="#6a5888" opacity="0.35" stroke="#c0b2de" stroke-width="1"/>
<path d="M1430,1195l34.5,-23l31,23l-27,30.5z" fill="#6a5888" opacity="0.35" stroke="#c0b2de" stroke-width="1"/>
<path d="M1449.5,1294.5l88,-7.5l30.5,38l-76.5,38.5z" fill="#6a5888" opacity="0.35" stroke="#c0b2de" stroke-width="1"/>
<path d="M1487.7,1056.7 1506.9,1052.9 1518.4,1102.7 1503,1106.6Z" fill="#8e7eaa" opacity="0.85"/>
<path d="M1698.7,1068.2 1721.7,1060.6 1717.8,1091.2 1698.7,1102.7Z" fill="#8e7eaa" opacity="0.85"/>
<path d="M1545.2,1160.3 1560.6,1164.1 1556.7,1198.6 1543.3,1198.6Z" fill="#8e7eaa" opacity="0.85"/>
</g>
<rect x="1230.3" y="24" width="150.5" height="94" fill="#fff"/>
<rect x="1230.3" y="509" width="150.5" height="89" fill="#fff"/>
<rect x="1230.3" y="988.5" width="150.5" height="92.0" fill="#fff"/>
<text x="1265" y="89" font-family="Liberation Sans, sans-serif" font-size="46" font-weight="bold" fill="#2a8c5c" text-anchor="start" >W1</text>
<text x="1265" y="572" font-family="Liberation Sans, sans-serif" font-size="46" font-weight="bold" fill="#1a6fbd" text-anchor="start" >W2</text>
<text x="1265" y="1053" font-family="Liberation Sans, sans-serif" font-size="46" font-weight="bold" fill="#7030a0" text-anchor="start" >W3</text>
<rect x="1630" y="1375" width="111" height="75" fill="#fff"/>
<path d="M1671,1386 V1410 M1702,1386 V1410 M1671,1398 H1702" stroke="#444" stroke-width="2.6" fill="none"/>
<text x="1684.5" y="1442" font-family="Liberation Sans, sans-serif" font-size="32" font-weight="normal" fill="#222" text-anchor="middle" textLength="106" lengthAdjust="spacingAndGlyphs">100 nm</text>
<line x1="163.6" y1="1024.4" x2="174.8" y2="1024.4" stroke="#1a1a1a" stroke-width="3" />
<line x1="163.6" y1="1070.9" x2="171.3" y2="1070.9" stroke="#1a1a1a" stroke-width="3" />
<line x1="163.6" y1="1117.4" x2="174.8" y2="1117.4" stroke="#1a1a1a" stroke-width="3" />
<line x1="163.6" y1="1163.9" x2="171.3" y2="1163.9" stroke="#1a1a1a" stroke-width="3" />
<line x1="163.6" y1="1210.4" x2="174.8" y2="1210.4" stroke="#1a1a1a" stroke-width="3" />
<line x1="163.6" y1="1256.9" x2="171.3" y2="1256.9" stroke="#1a1a1a" stroke-width="3" />
<line x1="163.6" y1="1303.4" x2="174.8" y2="1303.4" stroke="#1a1a1a" stroke-width="3" />
<line x1="163.6" y1="1349.9" x2="171.3" y2="1349.9" stroke="#1a1a1a" stroke-width="3" />
<line x1="163.6" y1="1396.4" x2="174.8" y2="1396.4" stroke="#1a1a1a" stroke-width="3" />
<line x1="163.6" y1="1442.9" x2="171.3" y2="1442.9" stroke="#1a1a1a" stroke-width="3" />
<line x1="163.6" y1="1489.4" x2="174.8" y2="1489.4" stroke="#1a1a1a" stroke-width="3" />
<line x1="212" y1="1512" x2="212" y2="1500.8" stroke="#1a1a1a" stroke-width="3" />
<line x1="255.6" y1="1512" x2="255.6" y2="1504.3" stroke="#1a1a1a" stroke-width="3" />
<line x1="299.2" y1="1512" x2="299.2" y2="1500.8" stroke="#1a1a1a" stroke-width="3" />
<line x1="342.8" y1="1512" x2="342.8" y2="1504.3" stroke="#1a1a1a" stroke-width="3" />
<line x1="386.4" y1="1512" x2="386.4" y2="1500.8" stroke="#1a1a1a" stroke-width="3" />
<line x1="430" y1="1512" x2="430" y2="1504.3" stroke="#1a1a1a" stroke-width="3" />
<line x1="473.6" y1="1512" x2="473.6" y2="1500.8" stroke="#1a1a1a" stroke-width="3" />
<line x1="517.2" y1="1512" x2="517.2" y2="1504.3" stroke="#1a1a1a" stroke-width="3" />
<line x1="560.8" y1="1512" x2="560.8" y2="1500.8" stroke="#1a1a1a" stroke-width="3" />
<line x1="604.4" y1="1512" x2="604.4" y2="1504.3" stroke="#1a1a1a" stroke-width="3" />
<line x1="648" y1="1512" x2="648" y2="1500.8" stroke="#1a1a1a" stroke-width="3" />
<line x1="691.6" y1="1512" x2="691.6" y2="1504.3" stroke="#1a1a1a" stroke-width="3" />
<line x1="735.2" y1="1512" x2="735.2" y2="1500.8" stroke="#1a1a1a" stroke-width="3" />
<line x1="778.8" y1="1512" x2="778.8" y2="1504.3" stroke="#1a1a1a" stroke-width="3" />
<line x1="822.4" y1="1512" x2="822.4" y2="1500.8" stroke="#1a1a1a" stroke-width="3" />
<rect x="163.6" y="1002.5" width="659.4" height="509.5" fill="none" stroke="#1a1a1a" stroke-width="4.4"/>
<text x="153.8" y="1040.4" font-family="Liberation Sans, sans-serif" font-size="34.5" font-weight="normal" fill="#303030" text-anchor="end" >0</text>
<text x="153.8" y="1133.4" font-family="Liberation Sans, sans-serif" font-size="34.5" font-weight="normal" fill="#303030" text-anchor="end" >− 5</text>
<text x="153.8" y="1226.4" font-family="Liberation Sans, sans-serif" font-size="34.5" font-weight="normal" fill="#303030" text-anchor="end" >−10</text>
<text x="153.8" y="1319.4" font-family="Liberation Sans, sans-serif" font-size="34.5" font-weight="normal" fill="#303030" text-anchor="end" >−15</text>
<text x="153.8" y="1412.4" font-family="Liberation Sans, sans-serif" font-size="34.5" font-weight="normal" fill="#303030" text-anchor="end" >−20</text>
<text x="153.8" y="1505.4" font-family="Liberation Sans, sans-serif" font-size="34.5" font-weight="normal" fill="#303030" text-anchor="end" >−25</text>
<text x="237.5" y="1550.6" font-family="Liberation Sans, sans-serif" font-size="34.5" font-weight="normal" fill="#303030" text-anchor="end" >−0.8</text>
<text x="324.7" y="1550.6" font-family="Liberation Sans, sans-serif" font-size="34.5" font-weight="normal" fill="#303030" text-anchor="end" >−0.7</text>
<text x="411.9" y="1550.6" font-family="Liberation Sans, sans-serif" font-size="34.5" font-weight="normal" fill="#303030" text-anchor="end" >−0.6</text>
<text x="499.1" y="1550.6" font-family="Liberation Sans, sans-serif" font-size="34.5" font-weight="normal" fill="#303030" text-anchor="end" >−0.5</text>
<text x="586.3" y="1550.6" font-family="Liberation Sans, sans-serif" font-size="34.5" font-weight="normal" fill="#303030" text-anchor="end" >−0.4</text>
<text x="673.5" y="1550.6" font-family="Liberation Sans, sans-serif" font-size="34.5" font-weight="normal" fill="#303030" text-anchor="end" >−0.3</text>
<text x="760.7" y="1550.6" font-family="Liberation Sans, sans-serif" font-size="34.5" font-weight="normal" fill="#303030" text-anchor="end" >−0.2</text>
<text x="847.9" y="1550.6" font-family="Liberation Sans, sans-serif" font-size="34.5" font-weight="normal" fill="#303030" text-anchor="end" >−0.1</text>
<text x="301" y="1599.4" font-family="Liberation Sans, sans-serif" font-size="38" font-weight="normal" fill="#303030" text-anchor="start" textLength="449" lengthAdjust="spacing">Potential (V vs Ag/AgCl)</text>
<text transform="translate(99.5,1290) rotate(-90)" x="0" y="0" text-anchor="middle" font-family="Liberation Sans, sans-serif" font-size="46" fill="#303030" textLength="249" lengthAdjust="spacingAndGlyphs">Current (μA)</text>
<text x="204" y="1033.7" font-family="Liberation Sans, sans-serif" font-size="33" fill="#3a3a3a" textLength="190" lengthAdjust="spacing">0 mM [NO<tspan font-size="22" dy="7">2</tspan><tspan font-size="22" dy="-19">-</tspan><tspan dy="12">]</tspan></text>
<text x="242" y="1485.5" font-family="Liberation Sans, sans-serif" font-size="33" fill="#3a3a3a" textLength="219" lengthAdjust="spacing">0.8 mM [NO<tspan font-size="22" dy="7">2</tspan><tspan font-size="22" dy="-19">-</tspan><tspan dy="12">]</tspan></text>
<text x="675" y="1466" font-family="Liberation Sans, sans-serif" font-size="36" font-weight="normal" fill="#7862b8" text-anchor="start" textLength="125" lengthAdjust="spacingAndGlyphs">W3/ITO</text>
<line x1="189.2" y1="1090" x2="189.2" y2="1482" stroke="#5555ee" stroke-width="2.8" />
<path d="M182,1097 L189.2,1087 L196.4,1097 M182,1475 L189.2,1485 L196.4,1475" stroke="#5555ee" stroke-width="2.8" fill="none"/>
<text x="196" y="1140" font-family="Liberation Sans, sans-serif" font-size="31" fill="#3535e8">Δ<tspan font-style="italic">I</tspan></text>
<ellipse cx="218" cy="1082" rx="11" ry="14" fill="none" stroke="#555" stroke-width="1.8"/>
<path d="M213,1090 C200,1075 198,1055 212,1048 C222,1044 224,1036 230,1032 M224,1036 L231,1031 L232,1040" fill="none" stroke="#555" stroke-width="1.8"/>
<ellipse cx="213.5" cy="1484.5" rx="12.5" ry="15.5" fill="none" stroke="#555" stroke-width="1.8"/>
<path d="M226,1494 C236,1506 252,1502 262,1490 M254,1489 L263,1488 L262,1497" fill="none" stroke="#555" stroke-width="1.8"/>
<path d="M213.1,1082.3 215.3,1080.9 218.2,1079 221.9,1076.7 226.5,1074.3 232,1072 238.2,1069.8 245.3,1067.5 253.3,1065.2 262.3,1062.9 272.4,1060.7 283.8,1058.6 296.4,1056.4 310,1054.4 324.5,1052.3 339.9,1050.4 356.4,1048.4 374.3,1046.5 392.8,1044.7 411.5,1043 429.8,1041.4 447.8,1039.9 465.8,1038.6 483.8,1037.3 501.8,1036.2 519.8,1035.1 538.1,1034 556.9,1033.1 575.4,1032.2 593.2,1031.3 609.7,1030.6 625.8,1029.9 641.6,1029.2 656.2,1028.7 668.4,1028.2 677.2,1027.9 677.2,1028.8 671.4,1029.4 663.5,1030.2 654,1031.2 643.4,1032.4 632.2,1033.7 620.5,1035.2 607.9,1036.9 594.5,1038.7 580.1,1040.7 564.8,1042.7 548.2,1045 530.4,1047.4 511.9,1050 493.2,1052.5 474.8,1054.9 456.8,1057.1 438.8,1059.2 420.9,1061.3 402.9,1063.3 384.9,1065.2 366.3,1067.1 347.2,1069.1 328.3,1070.9 310.6,1072.6 294.9,1074.2 281.4,1075.6 269.5,1076.8 258.9,1077.9 249.5,1079 241,1080.1 233.3,1081.2 226.6,1082.5 221,1083.7 216.4,1084.7 213.1,1085.5Z" fill="none" stroke="#000" stroke-width="3.6" stroke-linejoin="round"/>
<path d="M213.1,1089 217.6,1087.3 223.7,1084.8 231.2,1081.9 240,1079 249.9,1076.5 261.1,1074.3 273.7,1072.3 287.3,1070.3 302,1068.4 317.4,1066.6 334,1064.7 351.8,1062.9 370.3,1061.1 389,1059.4 407.4,1057.6 425.3,1055.8 443.3,1054 461.3,1052.3 479.3,1050.5 497.3,1048.6 515.7,1046.5 534.4,1044.4 552.9,1042.2 570.7,1040.1 587.3,1038.2 603.3,1036.4 619.1,1034.6 633.7,1033 645.9,1031.6 654.7,1030.6 654.7,1031.5 649,1032.5 641,1033.9 631.5,1035.7 620.9,1037.6 609.7,1039.6 598,1041.7 585.5,1044 572,1046.4 557.6,1049 542.3,1051.7 525.7,1054.7 507.9,1058 489.4,1061.3 470.7,1064.5 452.3,1067.5 434.3,1070.1 416.4,1072.5 398.4,1074.7 380.4,1076.8 362.4,1078.7 343.9,1080.5 324.9,1082.1 306.2,1083.6 288.5,1085 272.4,1086.4 257.7,1087.7 243.6,1089.1 231.1,1090.4 220.7,1091.4 213.1,1092.2Z" fill="none" stroke="#000" stroke-width="3.6" stroke-linejoin="round"/>
<path d="M213.1,1102.5 216.4,1101.1 221,1099.1 226.6,1096.7 233.3,1094.3 241,1092.2 249.5,1090.3 258.9,1088.6 269.5,1086.9 281.4,1085.1 294.9,1083.2 310.6,1081.1 328.3,1078.9 347.2,1076.6 366.3,1074.2 384.9,1072 402.9,1069.7 420.9,1067.6 438.8,1065.4 456.8,1063.1 474.8,1060.7 493.2,1058.1 511.9,1055.4 530.4,1052.6 548.2,1049.9 564.8,1047.2 580.8,1044.5 596.6,1041.7 611.2,1039 623.4,1036.7 632.2,1035.1 645.7,1035.1 641,1036.3 634.4,1038 626.5,1040.1 618.1,1042.5 609.7,1045 601.6,1047.6 593.3,1050.5 584.5,1053.7 575.1,1057 564.8,1060.7 553.5,1064.9 541.3,1069.7 528.5,1074.6 515.3,1079.3 501.8,1083.2 488.1,1086.4 474.1,1089.2 459.7,1091.5 445,1093.6 429.8,1095.3 414.2,1096.8 397.9,1097.8 381.4,1098.6 364.9,1099.3 348.9,1099.8 333,1100.3 317.2,1100.5 301.6,1100.6 286.6,1100.8 272.4,1101.2 258.5,1101.9 244.6,1102.8 231.7,1103.8 220.9,1104.6 213.1,1105.2Z" fill="none" stroke="#000" stroke-width="3.6" stroke-linejoin="round"/>
<path d="M211.7,1180.8 213.7,1178.3 216.3,1174.8 219.6,1170.8 223.3,1166.6 227.5,1162.8 231.9,1159.4 236.8,1156 242.1,1152.7 248,1149.4 254.4,1146.2 261.5,1143 269,1139.8 277.1,1136.7 285.7,1133.6 294.9,1130.4 304.7,1127.3 315.1,1124.1 326,1120.9 337.3,1117.8 348.9,1114.7 360.9,1111.7 373.4,1108.7 386.2,1105.7 399.1,1102.8 411.9,1099.8 424.4,1097 436.8,1094.3 449.3,1091.6 461.9,1088.7 474.8,1085.5 488.2,1081.8 501.9,1077.8 515.7,1073.6 529.3,1069.4 542.3,1065.2 554.8,1061 567,1056.7 578.8,1052.4 590.1,1048.4 600.7,1045 611.3,1042 621.9,1039.3 631.6,1037 639.8,1035.1 645.7,1033.7 645.7,1033.7 641.3,1034.2 635.4,1034.7 628.1,1035.5 619.5,1036.7 609.7,1038.7 598.3,1041.4 585,1044.8 570.8,1048.6 556.3,1052.9 542.3,1057.6 528.7,1062.6 515.1,1068 501.5,1073.8 488,1080 474.8,1086.4 461.6,1093.2 448.4,1100.5 435.4,1108 423.1,1115.4 411.9,1122.3 401.5,1129 391.8,1135.6 382.9,1141.9 375.1,1147.4 368.7,1152 364,1155.2 361.1,1157.3 359,1158.8 357.2,1160.1 354.7,1161.9 351.8,1164.1 348.8,1166.4 345.7,1168.7 342.5,1171.1 339,1173.6 335.1,1176.2 330.8,1179.1 326.4,1181.9 322.1,1184.5 318.3,1186.6 315.2,1188.3 312.5,1189.5 310,1190.5 307.2,1191.3 303.9,1192 300.2,1192.8 296.4,1193.4 292.1,1193.9 287.2,1194.2 281.4,1194.3 274.3,1194.1 266,1193.6 257.2,1192.9 248.6,1192.1 241,1191.1 233.9,1189.9 227,1188.4 220.8,1186.8 215.5,1185.4 211.7,1184.4Z" fill="none" stroke="#000" stroke-width="3.6" stroke-linejoin="round"/>
<path d="M211.7,1330.6 213.3,1327.1 215.5,1322.2 218.2,1316.4 221,1310.5 223.9,1304.9 226.7,1299.7 229.7,1294.5 232.8,1289.3 236.1,1284 239.6,1278.8 243.3,1273.7 247.2,1268.5 251.3,1263.3 255.4,1258.2 259.4,1253.2 263.4,1248.3 267.3,1243.3 271.3,1238.5 275.2,1233.8 279.2,1229.4 283.2,1225.2 287.2,1221.2 291.2,1217.4 295.1,1213.6 299,1209.6 302.6,1205.3 306.1,1200.9 309.6,1196.4 313.1,1192.2 317,1188.4 321.2,1185.2 325.8,1182.2 330.4,1179.6 334.9,1177 339,1174.5 342.6,1172 345.8,1169.6 348.9,1167.2 351.8,1165 354.7,1162.8 357.2,1161 359,1159.7 361.1,1158.2 364,1156.1 368.7,1152.9 375.1,1148.3 382.9,1142.8 391.8,1136.5 401.5,1129.9 411.9,1123.2 423.1,1116.3 435.4,1108.9 448.4,1101.4 461.6,1094.1 474.8,1087.2 488,1080.9 501.5,1074.7 515.1,1068.9 528.7,1063.5 542.3,1058.5 556.3,1053.8 570.8,1049.6 585,1045.7 598.3,1042.3 609.7,1039.6 619.5,1037.5 628.1,1036.2 635.4,1035.3 641.3,1034.7 645.7,1034.2 645.7,1034.6 637.9,1036.1 627,1038.1 614.1,1040.6 600.5,1043.8 587.3,1047.7 574.2,1052.4 560.6,1058 546.8,1064.1 533.1,1070.6 519.8,1077.4 507.1,1084.4 494.6,1091.8 482.4,1099.5 470.3,1107.3 458.2,1115.1 446.1,1122.6 434.1,1130 422.2,1137.5 410.3,1145.6 398.4,1154.7 386.2,1165.2 373.7,1176.9 361.3,1189 349.6,1201.1 339,1212.3 329.4,1223.2 320.4,1234.1 312.3,1244.5 305.1,1253.6 299,1260.9 294.2,1265.6 290.8,1268.4 288.2,1269.9 285.9,1271.2 283.2,1273 280.4,1275.3 277.8,1277.5 275.2,1279.7 272.4,1282.1 269.3,1284.7 265.7,1287.7 261.8,1290.9 257.7,1294.3 253.5,1297.7 249.5,1300.9 245.5,1303.7 241.5,1306.4 237.5,1309 233.6,1311.7 229.7,1314.8 225.7,1318.6 221.5,1322.9 217.5,1327.3 214.1,1331.1 211.7,1333.7Z" fill="none" stroke="#000" stroke-width="3.6" stroke-linejoin="round"/>
<path d="M211.7,1387.7 229,1360.5 246.3,1334.2 263.6,1309 280.9,1284.7 298.2,1261.4 315.6,1239.1 332.9,1217.9 350.2,1197.7 367.5,1178.6 384.8,1160.5 402.1,1143.5 419.4,1127.6 436.7,1112.8 454,1099.1 471.3,1086.6 488.6,1075.3 505.9,1065.2 523.2,1056.4 540.5,1048.9 557.8,1042.8 575.1,1038.1 592.4,1035 609.7,1033.7 641.2,1032.4 641.2,1033.3 609.7,1033.7 592.4,1039.8 575.1,1048.7 557.8,1059 540.5,1070.5 523.2,1082.9 505.9,1096.1 488.6,1109.9 471.3,1124.3 454,1139.3 436.7,1154.8 419.4,1170.8 402.1,1187.2 384.8,1204 367.5,1221.3 350.2,1238.8 332.9,1256.8 315.6,1275.1 298.2,1293.7 280.9,1312.6 263.6,1331.9 246.3,1351.4 229,1371.2 211.7,1391.3Z" fill="none" stroke="#000" stroke-width="3.6" stroke-linejoin="round"/>
<path d="M211.7,1398.9 229,1371.3 246.3,1344.6 263.6,1318.9 280.9,1294.1 298.2,1270.4 315.6,1247.6 332.9,1225.8 350.2,1205.1 367.5,1185.4 384.8,1166.8 402.1,1149.2 419.4,1132.7 436.7,1117.3 454,1103.1 471.3,1090.1 488.6,1078.2 505.9,1067.6 523.2,1058.2 540.5,1050.2 557.8,1043.7 575.1,1038.6 592.4,1035.2 609.7,1033.7 641.2,1032.4 641.2,1033.3 609.7,1033.7 592.4,1040 575.1,1049.1 557.8,1059.8 540.5,1071.7 523.2,1084.5 505.9,1098 488.6,1112.3 471.3,1127.2 454,1142.6 436.7,1158.6 419.4,1175.1 402.1,1192 384.8,1209.4 367.5,1227.1 350.2,1245.3 332.9,1263.8 315.6,1282.7 298.2,1301.9 280.9,1321.4 263.6,1341.2 246.3,1361.4 229,1381.8 211.7,1402.5Z" fill="none" stroke="#000" stroke-width="3.6" stroke-linejoin="round"/>
<path d="M211.7,1410.2 229,1382.1 246.3,1355.1 263.6,1328.9 280.9,1303.7 298.2,1279.5 315.6,1256.2 332.9,1233.9 350.2,1212.7 367.5,1192.4 384.8,1173.2 402.1,1155.1 419.4,1138 436.7,1122.1 454,1107.3 471.3,1093.7 488.6,1081.2 505.9,1070.1 523.2,1060.2 540.5,1051.7 557.8,1044.6 575.1,1039.1 592.4,1035.3 609.7,1033.7 641.2,1032.4 641.2,1033.3 609.7,1033.7 592.4,1040.2 575.1,1049.6 557.8,1060.6 540.5,1072.8 523.2,1086 505.9,1100 488.6,1114.7 471.3,1130 454,1146 436.7,1162.4 419.4,1179.4 402.1,1196.9 384.8,1214.7 367.5,1233 350.2,1251.7 332.9,1270.8 315.6,1290.3 298.2,1310.1 280.9,1330.2 263.6,1350.6 246.3,1371.4 229,1392.4 211.7,1413.8Z" fill="none" stroke="#000" stroke-width="3.6" stroke-linejoin="round"/>
<path d="M211.7,1421.4 229,1393 246.3,1365.6 263.6,1339 280.9,1313.4 298.2,1288.7 315.6,1264.9 332.9,1242.2 350.2,1220.4 367.5,1199.6 384.8,1179.9 402.1,1161.2 419.4,1143.6 436.7,1127 454,1111.7 471.3,1097.4 488.6,1084.4 505.9,1072.7 523.2,1062.3 540.5,1053.2 557.8,1045.6 575.1,1039.7 592.4,1035.5 609.7,1033.7 641.2,1032.4 641.2,1033.3 609.7,1033.7 592.4,1040.4 575.1,1050.1 557.8,1061.4 540.5,1074 523.2,1087.5 505.9,1101.9 488.6,1117.1 471.3,1132.9 454,1149.3 436.7,1166.2 419.4,1183.7 402.1,1201.7 384.8,1220.1 367.5,1238.9 350.2,1258.2 332.9,1277.8 315.6,1297.9 298.2,1318.2 280.9,1339 263.6,1360 246.3,1381.4 229,1403 211.7,1425Z" fill="none" stroke="#000" stroke-width="3.6" stroke-linejoin="round"/>
<path d="M211.7,1432.7 229,1403.9 246.3,1376.1 263.6,1349.2 280.9,1323.1 298.2,1298 315.6,1273.8 332.9,1250.6 350.2,1228.3 367.5,1207 384.8,1186.7 402.1,1167.5 419.4,1149.3 436.7,1132.2 454,1116.2 471.3,1101.4 488.6,1087.8 505.9,1075.5 523.2,1064.5 540.5,1054.8 557.8,1046.8 575.1,1040.3 592.4,1035.8 609.7,1033.7 641.2,1032.4 641.2,1033.3 609.7,1033.7 592.4,1040.6 575.1,1050.6 557.8,1062.2 540.5,1075.2 523.2,1089.1 505.9,1103.9 488.6,1119.5 471.3,1135.7 454,1152.6 436.7,1170 419.4,1188 402.1,1206.5 384.8,1225.5 367.5,1244.8 350.2,1264.6 332.9,1284.9 315.6,1305.5 298.2,1326.4 280.9,1347.7 263.6,1369.4 246.3,1391.4 229,1413.6 211.7,1436.2Z" fill="none" stroke="#000" stroke-width="3.6" stroke-linejoin="round"/>
<path d="M211.7,1446.1 229,1417 246.3,1388.7 263.6,1361.2 280.9,1334.6 298.2,1309 315.6,1284.2 332.9,1260.3 350.2,1237.4 367.5,1215.5 384.8,1194.6 402.1,1174.7 419.4,1155.8 436.7,1138.1 454,1121.4 471.3,1105.9 488.6,1091.7 505.9,1078.6 523.2,1067 540.5,1056.7 557.8,1048 575.1,1041.1 592.4,1036.1 609.7,1033.7 641.2,1032.4 641.2,1033.3 609.7,1033.7 592.4,1040.8 575.1,1051.1 557.8,1063.2 540.5,1076.5 523.2,1090.9 505.9,1106.3 488.6,1122.3 471.3,1139.1 454,1156.6 436.7,1174.6 419.4,1193.2 402.1,1212.3 384.8,1231.9 367.5,1251.9 350.2,1272.4 332.9,1293.3 315.6,1314.6 298.2,1336.2 280.9,1358.2 263.6,1380.6 246.3,1403.3 229,1426.4 211.7,1449.7Z" fill="none" stroke="#000" stroke-width="3.6" stroke-linejoin="round"/>
<path d="M211.7,1464.1 229,1434.2 246.3,1405.2 263.6,1376.9 280.9,1349.6 298.2,1323.1 315.6,1297.5 332.9,1272.8 350.2,1249.1 367.5,1226.3 384.8,1204.5 402.1,1183.8 419.4,1164 436.7,1145.4 454,1127.9 471.3,1111.5 488.6,1096.4 505.9,1082.5 523.2,1070.1 540.5,1059 557.8,1049.6 575.1,1042 592.4,1036.4 609.7,1033.7 641.2,1032.4 641.2,1033.3 609.7,1033.7 592.4,1041.1 575.1,1051.9 557.8,1064.5 540.5,1078.4 523.2,1093.4 505.9,1109.4 488.6,1126.2 471.3,1143.7 454,1161.9 436.7,1180.7 419.4,1200.1 402.1,1220 384.8,1240.4 367.5,1261.4 350.2,1282.7 332.9,1304.5 315.6,1326.7 298.2,1349.3 280.9,1372.3 263.6,1395.6 246.3,1419.3 229,1443.4 211.7,1467.7Z" fill="none" stroke="#000" stroke-width="3.6" stroke-linejoin="round"/>
<path d="M211.7,1479.9 229,1449.4 246.3,1419.8 263.6,1391 280.9,1363 298.2,1335.9 315.6,1309.6 332.9,1284.3 350.2,1259.8 367.5,1236.3 384.8,1213.8 402.1,1192.3 419.4,1171.8 436.7,1152.4 454,1134.1 471.3,1117 488.6,1101 505.9,1086.4 523.2,1073.1 540.5,1061.4 557.8,1051.2 575.1,1042.9 592.4,1036.8 609.7,1033.7 641.2,1032.4 641.2,1033.3 609.7,1033.7 592.4,1041.4 575.1,1052.5 557.8,1065.6 540.5,1080 523.2,1095.6 505.9,1112.1 488.6,1129.5 471.3,1147.7 454,1166.5 436.7,1186 419.4,1206.1 402.1,1226.8 384.8,1247.9 367.5,1269.6 350.2,1291.7 332.9,1314.3 315.6,1337.3 298.2,1360.7 280.9,1384.6 263.6,1408.8 246.3,1433.3 229,1458.2 211.7,1483.5Z" fill="none" stroke="#000" stroke-width="3.6" stroke-linejoin="round"/>
<path d="M627.7,1029.7 L699.7,1023.5 L821,1023.6" fill="none" stroke="#000" stroke-width="3"/>
<path d="M627.7,1030.9 L699.7,1025.5 L821,1025.2" fill="none" stroke="#000" stroke-width="3"/>
<path d="M627.7,1032.1 L699.7,1027.5 L821,1026.8" fill="none" stroke="#000" stroke-width="3"/>
<path d="M627.7,1033.3 L699.7,1029.5 L821,1028.4" fill="none" stroke="#000" stroke-width="3"/>
<line x1="115.9" y1="2825.5" x2="115.9" y2="2809.5" stroke="#111" stroke-width="3" />
<text x="117.4" y="2885" font-family="Liberation Sans, sans-serif" font-size="41.5" font-weight="normal" fill="#222" text-anchor="middle" >300</text>
<line x1="168" y1="2825.5" x2="168" y2="2816.5" stroke="#111" stroke-width="3" />
<line x1="220.1" y1="2825.5" x2="220.1" y2="2809.5" stroke="#111" stroke-width="3" />
<text x="221.6" y="2885" font-family="Liberation Sans, sans-serif" font-size="41.5" font-weight="normal" fill="#222" text-anchor="middle" >400</text>
<line x1="272.2" y1="2825.5" x2="272.2" y2="2816.5" stroke="#111" stroke-width="3" />
<line x1="324.3" y1="2825.5" x2="324.3" y2="2809.5" stroke="#111" stroke-width="3" />
<text x="325.8" y="2885" font-family="Liberation Sans, sans-serif" font-size="41.5" font-weight="normal" fill="#222" text-anchor="middle" >500</text>
<line x1="376.4" y1="2825.5" x2="376.4" y2="2816.5" stroke="#111" stroke-width="3" />
<line x1="428.4" y1="2825.5" x2="428.4" y2="2809.5" stroke="#111" stroke-width="3" />
<text x="429.9" y="2885" font-family="Liberation Sans, sans-serif" font-size="41.5" font-weight="normal" fill="#222" text-anchor="middle" >600</text>
<line x1="480.5" y1="2825.5" x2="480.5" y2="2816.5" stroke="#111" stroke-width="3" />
<line x1="532.6" y1="2825.5" x2="532.6" y2="2809.5" stroke="#111" stroke-width="3" />
<text x="534.1" y="2885" font-family="Liberation Sans, sans-serif" font-size="41.5" font-weight="normal" fill="#222" text-anchor="middle" >700</text>
<line x1="584.7" y1="2825.5" x2="584.7" y2="2816.5" stroke="#111" stroke-width="3" />
<line x1="636.8" y1="2825.5" x2="636.8" y2="2809.5" stroke="#111" stroke-width="3" />
<text x="638.3" y="2885" font-family="Liberation Sans, sans-serif" font-size="41.5" font-weight="normal" fill="#222" text-anchor="middle" >800</text>
<line x1="688.9" y1="2825.5" x2="688.9" y2="2816.5" stroke="#111" stroke-width="3" />
<line x1="741" y1="2825.5" x2="741" y2="2809.5" stroke="#111" stroke-width="3" />
<text x="742.5" y="2885" font-family="Liberation Sans, sans-serif" font-size="41.5" font-weight="normal" fill="#222" text-anchor="middle" >900</text>
<line x1="793.1" y1="2825.5" x2="793.1" y2="2816.5" stroke="#111" stroke-width="3" />
<line x1="845.2" y1="2825.5" x2="845.2" y2="2809.5" stroke="#111" stroke-width="3" />
<text x="846.7" y="2885" font-family="Liberation Sans, sans-serif" font-size="41.5" font-weight="normal" fill="#222" text-anchor="middle" >1000</text>
<rect x="97.5" y="1753.4" width="747.7" height="1072.1" fill="none" stroke="#111" stroke-width="3.6"/>
<text x="304" y="2951.5" font-family="Liberation Sans, sans-serif" font-size="43.5" font-weight="bold" fill="#111">Raman shift (cm<tspan font-size="26" dy="-20">–1</tspan><tspan dy="20">)</tspan></text>
<text transform="translate(75,2280) rotate(-90)" x="0" y="0" text-anchor="middle" font-family="Liberation Sans, sans-serif" font-size="48" fill="#111" stroke="#111" stroke-width="0.8" textLength="337" lengthAdjust="spacingAndGlyphs">Intensity (a.u.)</text>
<polyline points="97.1,2095.5 97.7,2096.1 98.2,2096.2 98.7,2095.8 99.2,2097.2 99.8,2097.3 100.3,2097.1 100.8,2098 101.3,2098.2 101.8,2098.4 102.4,2098.6 102.9,2099.1 103.4,2098.7 103.9,2099.2 104.4,2099.3 105,2100 105.5,2099.9 106,2099.9 106.5,2099.8 107,2100.2 107.6,2100.4 108.1,2100.4 108.6,2101.3 109.1,2101.2 109.6,2099.4 110.2,2099.8 110.7,2100.7 111.2,2100.6 111.7,2100.9 112.3,2100.8 112.8,2101.7 113.3,2100 113.8,2100.3 114.3,2101.4 114.9,2100.6 115.4,2100.4 115.9,2099.7 116.4,2098.9 116.9,2099.7 117.5,2099.4 118,2098.6 118.5,2098.6 119,2098.7 119.5,2098 120.1,2098.2 120.6,2098 121.1,2097.7 121.6,2097.2 122.2,2097.4 122.7,2097.3 123.2,2096.7 123.7,2095.8 124.2,2096.3 124.8,2095.4 125.3,2095.8 125.8,2094.5 126.3,2095.2 126.8,2094.4 127.4,2093.5 127.9,2093.6 128.4,2093.5 128.9,2093.3 129.4,2092.4 130,2092 130.5,2092.3 131,2091.6 131.5,2091.5 132,2091.3 132.6,2089.6 133.1,2090 133.6,2089.9 134.1,2088.6 134.7,2087.8 135.2,2088 135.7,2087.1 136.2,2086.9 136.7,2085.7 137.3,2084.6 137.8,2084.7 138.3,2084 138.8,2084.1 139.3,2083.4 139.9,2082 140.4,2081.8 140.9,2082.5 141.4,2082.1 141.9,2081.2 142.5,2081.3 143,2081.3 143.5,2081.3 144,2081.4 144.5,2081.2 145.1,2081.3 145.6,2081.7 146.1,2082.8 146.6,2081.8 147.2,2083.6 147.7,2084.5 148.2,2084.6 148.7,2086.4 149.2,2086.9 149.8,2088.7 150.3,2089.2 150.8,2090.6 151.3,2091.8 151.8,2092.4 152.4,2092.6 152.9,2093.2 153.4,2095.6 153.9,2095.3 154.4,2095.6 155,2096.5 155.5,2096.7 156,2097.4 156.5,2097.2 157.1,2097.3 157.6,2097.1 158.1,2097.9 158.6,2097.3 159.1,2098.3 159.7,2098.8 160.2,2097.5 160.7,2097.1 161.2,2098.8 161.7,2099.9 162.3,2098.2 162.8,2098.2 163.3,2099.3 163.8,2098.6 164.3,2098.9 164.9,2099.1 165.4,2099.6 165.9,2099.2 166.4,2099.7 166.9,2099.5 167.5,2099.3 168,2099.6 168.5,2099.3 169,2099.9 169.6,2099.4 170.1,2099.5 170.6,2100.8 171.1,2100.1 171.6,2100.1 172.2,2100.4 172.7,2100 173.2,2100.1 173.7,2100.5 174.2,2100.4 174.8,2099.7 175.3,2100.8 175.8,2100.1 176.3,2099.9 176.8,2100 177.4,2100.2 177.9,2101.3 178.4,2099.9 178.9,2100.6 179.4,2099.4 180,2100.5 180.5,2101 181,2100.5 181.5,2100.3 182.1,2100.7 182.6,2101 183.1,2101 183.6,2101.6 184.1,2100.8 184.7,2100.4 185.2,2100.7 185.7,2100.7 186.2,2100.8 186.7,2100.8 187.3,2100.9 187.8,2100 188.3,2101.2 188.8,2100.5 189.3,2100.3 189.9,2101.2 190.4,2101.5 190.9,2101.1 191.4,2101 192,2100.5 192.5,2102.4 193,2101.4 193.5,2100.4 194,2100.6 194.6,2101 195.1,2100.2 195.6,2101.1 196.1,2100.8 196.6,2101.7 197.2,2101.5 197.7,2099.7 198.2,2101.1 198.7,2100.3 199.2,2101.7 199.8,2101.2 200.3,2101.4 200.8,2100.6 201.3,2102.1 201.8,2102.2 202.4,2100.6 202.9,2101.4 203.4,2100.8 203.9,2101.2 204.5,2100.6 205,2102.1 205.5,2100.7 206,2101.1 206.5,2101.5 207.1,2100.9 207.6,2101.1 208.1,2101 208.6,2101.2 209.1,2100.7 209.7,2101.1 210.2,2101.2 210.7,2101.1 211.2,2101.3 211.7,2101.2 212.3,2101.7 212.8,2101.2 213.3,2101.3 213.8,2101 214.4,2101.1 214.9,2100.7 215.4,2101.6 215.9,2100.8 216.4,2101 217,2101.5 217.5,2101.6 218,2101.2 218.5,2100.4 219,2101.6 219.6,2101.5 220.1,2100.7 220.6,2101.8 221.1,2101 221.6,2100.8 222.2,2101.4 222.7,2101.3 223.2,2101.5 223.7,2100.6 224.2,2102.3 224.8,2101.1 225.3,2100.6 225.8,2101.7 226.3,2101.2 226.9,2101.6 227.4,2101.2 227.9,2101.4 228.4,2101.5 228.9,2101 229.5,2101.7 230,2101.1 230.5,2100.9 231,2101.3 231.5,2101.4 232.1,2101 232.6,2100.7 233.1,2101.4 233.6,2100.1 234.1,2100.4 234.7,2100.9 235.2,2100.1 235.7,2100.7 236.2,2100.6 236.7,2101 237.3,2100 237.8,2100.1 238.3,2100.5 238.8,2099 239.4,2101.7 239.9,2099.7 240.4,2099.6 240.9,2100.3 241.4,2099.7 242,2098.7 242.5,2099.8 243,2099.9 243.5,2099.1 244,2099.1 244.6,2099.4 245.1,2098.6 245.6,2099.2 246.1,2098.9 246.6,2098.4 247.2,2098 247.7,2098.4 248.2,2098 248.7,2098.9 249.3,2098.4 249.8,2098.6 250.3,2098.2 250.8,2098.2 251.3,2097.6 251.9,2098.2 252.4,2098.7 252.9,2097.6 253.4,2097.4 253.9,2097.6 254.5,2097.3 255,2097.2 255.5,2097.5 256,2097.2 256.5,2098 257.1,2097.2 257.6,2097.3 258.1,2097.6 258.6,2096.9 259.1,2097.7 259.7,2096.6 260.2,2096.4 260.7,2096.6 261.2,2096.6 261.8,2095.9 262.3,2096.6 262.8,2095.7 263.3,2097.2 263.8,2096.4 264.4,2096 264.9,2095.9 265.4,2096.1 265.9,2096.1 266.4,2095.7 267,2095.7 267.5,2096.1 268,2095.9 268.5,2096.6 269,2096.7 269.6,2096.1 270.1,2096.3 270.6,2095.5 271.1,2096.5 271.6,2096.3 272.2,2096.6 272.7,2097.3 273.2,2095.4 273.7,2096.9 274.3,2096.3 274.8,2097.3 275.3,2096.5 275.8,2097.1 276.3,2097.7 276.9,2098.1 277.4,2098 277.9,2097.8 278.4,2098.1 278.9,2099 279.5,2098.7 280,2098.1 280.5,2099.6 281,2099.5 281.5,2100 282.1,2099.5 282.6,2100.3 283.1,2099.5 283.6,2100.5 284.2,2100.1 284.7,2100.8 285.2,2101 285.7,2100.3 286.2,2100.7 286.8,2100.8 287.3,2101.4 287.8,2101.2 288.3,2100.2 288.8,2101 289.4,2101.2 289.9,2101.9 290.4,2100 290.9,2100.5 291.4,2101.5 292,2100.1 292.5,2100.2 293,2101.1 293.5,2101.3 294,2100.5 294.6,2101.1 295.1,2100.8 295.6,2101.5 296.1,2100.8 296.7,2101.3 297.2,2100.3 297.7,2100.7 298.2,2100.7 298.7,2101.3 299.3,2101.1 299.8,2100.4 300.3,2101.1 300.8,2101.1 301.3,2100.7 301.9,2100.6 302.4,2100.6 302.9,2099.9 303.4,2100.8 303.9,2100.8 304.5,2100.3 305,2101.1 305.5,2100 306,2100.4 306.5,2100.5 307.1,2101.7 307.6,2099.9 308.1,2101 308.6,2101.2 309.2,2100.9 309.7,2101.3 310.2,2100.2 310.7,2099.5 311.2,2101 311.8,2100 312.3,2100.5 312.8,2100 313.3,2101.2 313.8,2101.1 314.4,2100.3 314.9,2101.1 315.4,2100.7 315.9,2100.5 316.4,2100.6 317,2100.5 317.5,2100.9 318,2100.7 318.5,2100.4 319.1,2101 319.6,2100.2 320.1,2100.7 320.6,2100.7 321.1,2101.3 321.7,2100.3 322.2,2101.4 322.7,2100.6 323.2,2100.4 323.7,2100.1 324.3,2100.8 324.8,2100.5 325.3,2099.9 325.8,2099.9 326.3,2100.1 326.9,2100.1 327.4,2100.9 327.9,2101.1 328.4,2100.8 328.9,2100.6 329.5,2100.1 330,2100.4 330.5,2100.8 331,2101.4 331.6,2100.8 332.1,2100.2 332.6,2100.3 333.1,2100 333.6,2099.9 334.2,2100.2 334.7,2100.3 335.2,2101.1 335.7,2100.2 336.2,2100.9 336.8,2101 337.3,2100.2 337.8,2100.9 338.3,2100.4 338.8,2099.8 339.4,2100.1 339.9,2100 340.4,2099.8 340.9,2099.8 341.4,2099.9 342,2100.1 342.5,2099.4 343,2099.8 343.5,2099 344.1,2099.8 344.6,2099.9 345.1,2099.7 345.6,2099.7 346.1,2099.8 346.7,2099.1 347.2,2099.3 347.7,2099.6 348.2,2099.8 348.7,2099.5 349.3,2100.5 349.8,2099.1 350.3,2099.6 350.8,2099.7 351.3,2098.9 351.9,2098.5 352.4,2098.3 352.9,2098.9 353.4,2099.4 354,2098.9 354.5,2098.8 355,2098.5 355.5,2098.9 356,2097.5 356.6,2098.6 357.1,2098.5 357.6,2097.7 358.1,2099.4 358.6,2097.6 359.2,2097.7 359.7,2097.6 360.2,2098.7 360.7,2097.7 361.2,2098.4 361.8,2098.3 362.3,2098.1 362.8,2097.2 363.3,2097.5 363.8,2098.6 364.4,2097.1 364.9,2097.3 365.4,2097.5 365.9,2098 366.5,2097.6 367,2097.8 367.5,2096.9 368,2097.8 368.5,2097.6 369.1,2096.4 369.6,2097.9 370.1,2098.2 370.6,2096.6 371.1,2097 371.7,2097.6 372.2,2096.1 372.7,2095.8 373.2,2096.1 373.7,2096.4 374.3,2096.3 374.8,2096.8 375.3,2096.6 375.8,2095.8 376.4,2096.6 376.9,2097.2 377.4,2096.8 377.9,2096.6 378.4,2096.1 379,2096.5 379.5,2095.4 380,2096.2 380.5,2095.7 381,2096.3 381.6,2095.9 382.1,2095 382.6,2095.6 383.1,2096 383.6,2094.8 384.2,2095 384.7,2094.8 385.2,2094.4 385.7,2095.5 386.2,2095.7 386.8,2095.3 387.3,2095 387.8,2094.8 388.3,2094.8 388.9,2094.3 389.4,2095 389.9,2095 390.4,2094.9 390.9,2094.1 391.5,2094.3 392,2094.1 392.5,2095 393,2094.2 393.5,2093.1 394.1,2094.1 394.6,2094.8 395.1,2094.1 395.6,2094.2 396.1,2093.7 396.7,2092.6 397.2,2092.6 397.7,2092.8 398.2,2093.3 398.7,2093.5 399.3,2093.6 399.8,2093 400.3,2093.6 400.8,2092.9 401.4,2092.6 401.9,2093.3 402.4,2092.4 402.9,2091.4 403.4,2092.2 404,2092.7 404.5,2091 405,2092.3 405.5,2092.3 406,2091.6 406.6,2091.6 407.1,2092 407.6,2091.9 408.1,2092.7 408.6,2092.2 409.2,2091.2 409.7,2091.5 410.2,2092.2 410.7,2092.7 411.3,2091.9 411.8,2091.8 412.3,2092.6 412.8,2091.6 413.3,2091.4 413.9,2090.7 414.4,2091.1 414.9,2092.4 415.4,2090.6 415.9,2091.2 416.5,2090.5 417,2091.2 417.5,2091.5 418,2090.9 418.5,2091.3 419.1,2091.2 419.6,2091 420.1,2091.6 420.6,2091.1 421.1,2090.5 421.7,2090.2 422.2,2090.1 422.7,2090.7 423.2,2090.2 423.8,2091.7 424.3,2091.2 424.8,2090.1 425.3,2090 425.8,2090.9 426.4,2089.1 426.9,2089.8 427.4,2090.4 427.9,2089.4 428.4,2089.6 429,2089.6 429.5,2090 430,2089.7 430.5,2089.8 431,2089.8 431.6,2089.5 432.1,2090 432.6,2089 433.1,2088.6 433.6,2088.4 434.2,2088.4 434.7,2088.9 435.2,2089.6 435.7,2089.1 436.3,2088.7 436.8,2088.4 437.3,2088.6 437.8,2088.6 438.3,2088.5 438.9,2088 439.4,2088.4 439.9,2089.1 440.4,2087.5 440.9,2088.4 441.5,2087.4 442,2088.5 442.5,2088 443,2087.3 443.5,2088.3 444.1,2089.1 444.6,2088.2 445.1,2088.7 445.6,2088.1 446.2,2087 446.7,2088.3 447.2,2087.8 447.7,2087.2 448.2,2088.3 448.8,2088 449.3,2087.5 449.8,2088.2 450.3,2087.3 450.8,2088 451.4,2087.2 451.9,2087.9 452.4,2087 452.9,2088.3 453.4,2087.6 454,2088.2 454.5,2087 455,2087.2 455.5,2087.8 456,2086 456.6,2086.8 457.1,2087.8 457.6,2087.5 458.1,2087.8 458.7,2087.1 459.2,2087.5 459.7,2086.8 460.2,2086.5 460.7,2086.3 461.3,2086.9 461.8,2086.9 462.3,2086.8 462.8,2085.3 463.3,2086.1 463.9,2086.8 464.4,2087.2 464.9,2086.7 465.4,2086.6 465.9,2085.8 466.5,2088 467,2086.4 467.5,2087.8 468,2087.7 468.5,2087 469.1,2086.6 469.6,2086.9 470.1,2086.2 470.6,2086.9 471.2,2086.8 471.7,2087 472.2,2087.2 472.7,2087.5 473.2,2086.4 473.8,2087.1 474.3,2086.2 474.8,2086.1 475.3,2086.2 475.8,2086 476.4,2086.9 476.9,2086.8 477.4,2087 477.9,2086.3 478.4,2086.4 479,2085.9 479.5,2085.6 480,2086.3 480.5,2086.2 481.1,2085.4 481.6,2086.1 482.1,2084.8 482.6,2085.5 483.1,2085.1 483.7,2084.9 484.2,2084.4 484.7,2085.2 485.2,2084.8 485.7,2084.9 486.3,2084.1 486.8,2083.1 487.3,2083.3 487.8,2082.5 488.3,2083 488.9,2083.1 489.4,2082.3 489.9,2081.5 490.4,2081.3 490.9,2081.2 491.5,2080 492,2080.5 492.5,2080.1 493,2079.4 493.6,2079.1 494.1,2079 494.6,2078.1 495.1,2077.8 495.6,2078.2 496.2,2077.6 496.7,2077.9 497.2,2076.2 497.7,2075.5 498.2,2076.5 498.8,2076.2 499.3,2075 499.8,2074.3 500.3,2074.7 500.8,2073.5 501.4,2073.9 501.9,2072.6 502.4,2073.3 502.9,2072 503.4,2072.6 504,2073.2 504.5,2072 505,2072.2 505.5,2071.1 506.1,2070.7 506.6,2070 507.1,2070.9 507.6,2070 508.1,2070.5 508.7,2068.7 509.2,2068.8 509.7,2068.5 510.2,2068.7 510.7,2068.5 511.3,2066.8 511.8,2066.1 512.3,2065.3 512.8,2066.4 513.3,2065.1 513.9,2064.3 514.4,2064.1 514.9,2062.2 515.4,2062.1 516,2062.8 516.5,2061.8 517,2061 517.5,2059.7 518,2059.7 518.6,2059.3 519.1,2056.7 519.6,2056.2 520.1,2054.7 520.6,2053.8 521.2,2052.2 521.7,2050.6 522.2,2048.7 522.7,2047.5 523.2,2045.5 523.8,2044 524.3,2042.3 524.8,2040.9 525.3,2038.4 525.8,2036.7 526.4,2035.5 526.9,2033 527.4,2031.1 527.9,2029.8 528.5,2027.6 529,2025.7 529.5,2023.9 530,2021.4 530.5,2020.4 531.1,2018.8 531.6,2016.4 532.1,2013.3 532.6,2012 533.1,2009.2 533.7,2007.3 534.2,2005.3 534.7,2002.3 535.2,2001.4 535.7,1998.4 536.3,1996.7 536.8,1994.5 537.3,1992.7 537.8,1990.7 538.3,1987.4 538.9,1986.4 539.4,1983.6 539.9,1982.7 540.4,1981.4 541,1979.6 541.5,1977.9 542,1975.3 542.5,1973.9 543,1972.1 543.6,1971.3 544.1,1970.2 544.6,1968.3 545.1,1969.8 545.6,1967.6 546.2,1967.5 546.7,1968.2 547.2,1968.8 547.7,1969.3 548.2,1969.5 548.8,1971.6 549.3,1972 549.8,1973.9 550.3,1975.1 550.9,1975.2 551.4,1976.8 551.9,1978.3 552.4,1980.5 552.9,1981.9 553.5,1983.6 554,1984.6 554.5,1986.9 555,1989.3 555.5,1990 556.1,1992.9 556.6,1995.6 557.1,1998 557.6,2000.7 558.1,2004.5 558.7,2007.1 559.2,2009.9 559.7,2012 560.2,2016.5 560.7,2018.4 561.3,2020.8 561.8,2023.7 562.3,2026.3 562.8,2030.2 563.4,2031.6 563.9,2033.8 564.4,2035 564.9,2038.8 565.4,2040.2 566,2042.5 566.5,2045.7 567,2047.2 567.5,2050.3 568,2052.6 568.6,2053.3 569.1,2056.2 569.6,2057.5 570.1,2060.2 570.6,2062.6 571.2,2063.3 571.7,2066.6 572.2,2067.1 572.7,2068.2 573.3,2070.2 573.8,2072.1 574.3,2072.5 574.8,2074.7 575.3,2075.4 575.9,2078.1 576.4,2078.9 576.9,2079.9 577.4,2081.9 577.9,2081.9 578.5,2083.5 579,2085.7 579.5,2085.7 580,2087.3 580.5,2087.5 581.1,2087.7 581.6,2088.5 582.1,2089.1 582.6,2089.3 583.1,2089.5 583.7,2089.9 584.2,2089.9 584.7,2091.1 585.2,2091.6 585.8,2092.1 586.3,2091.2 586.8,2092.8 587.3,2092.7 587.8,2092.3 588.4,2093.3 588.9,2093.9 589.4,2093.9 589.9,2094.2 590.4,2094.5 591,2094.6 591.5,2094.2 592,2093.3 592.5,2094 593,2094.6 593.6,2094.1 594.1,2094.7 594.6,2094.7 595.1,2094.2 595.6,2095.1 596.2,2093.5 596.7,2094.3 597.2,2093.5 597.7,2093.2 598.3,2093.7 598.8,2092.8 599.3,2093.4 599.8,2092.1 600.3,2092.5 600.9,2091.7 601.4,2091.8 601.9,2091.4 602.4,2090.7 602.9,2091.3 603.5,2090 604,2089.8 604.5,2090.4 605,2090.1 605.5,2089.5 606.1,2089 606.6,2089.5 607.1,2087.2 607.6,2086.7 608.2,2085.8 608.7,2085.9 609.2,2084.6 609.7,2083.9 610.2,2082.7 610.8,2080.9 611.3,2079.4 611.8,2077.9 612.3,2078.1 612.8,2076.1 613.4,2074.4 613.9,2072.4 614.4,2070.9 614.9,2069.3 615.4,2067.7 616,2064.9 616.5,2064.3 617,2062.2 617.5,2060.4 618,2058.2 618.6,2056.2 619.1,2053.4 619.6,2051.2 620.1,2046.8 620.7,2044.8 621.2,2043.2 621.7,2038.7 622.2,2036 622.7,2033.1 623.3,2028.9 623.8,2026.1 624.3,2021.3 624.8,2017 625.3,2012.7 625.9,2007.4 626.4,2002.8 626.9,1996.8 627.4,1990.9 627.9,1983.7 628.5,1978.7 629,1970.4 629.5,1963.3 630,1956.3 630.5,1948.6 631.1,1941 631.6,1934 632.1,1927 632.6,1918.4 633.2,1909.3 633.7,1898.7 634.2,1888.8 634.7,1880.6 635.2,1870.8 635.8,1863.6 636.3,1857.8 636.8,1853.8 637.3,1848.4 637.8,1844.8 638.4,1841.1 638.9,1837.6 639.4,1833.4 639.9,1831.6 640.4,1827.7 641,1827.2 641.5,1825.8 642,1824.8 642.5,1823.4 643.1,1824.7 643.6,1824.8 644.1,1826.2 644.6,1828.5 645.1,1831.3 645.7,1834.9 646.2,1838.7 646.7,1841 647.2,1845.7 647.7,1850.4 648.3,1854.1 648.8,1858.5 649.3,1862.7 649.8,1870.2 650.3,1875.9 650.9,1884.2 651.4,1892.6 651.9,1900.8 652.4,1907.9 652.9,1915.6 653.5,1921.8 654,1928.2 654.5,1934.7 655,1939.8 655.6,1945.3 656.1,1950.2 656.6,1956.5 657.1,1962.1 657.6,1966.7 658.2,1972 658.7,1978 659.2,1982.2 659.7,1986.6 660.2,1990.7 660.8,1995.3 661.3,1999.6 661.8,2004.2 662.3,2006.9 662.8,2011.4 663.4,2013.1 663.9,2016.4 664.4,2019.9 664.9,2022.2 665.4,2024.7 666,2027.8 666.5,2030.7 667,2032.2 667.5,2035.4 668.1,2037.9 668.6,2040.1 669.1,2042.9 669.6,2044.4 670.1,2046.5 670.7,2048.6 671.2,2050.8 671.7,2052 672.2,2054.5 672.7,2054.7 673.3,2057.2 673.8,2057.3 674.3,2058.7 674.8,2059.9 675.3,2061.7 675.9,2061.9 676.4,2062 676.9,2063.6 677.4,2063.6 678,2063.9 678.5,2065.1 679,2065.6 679.5,2066.6 680,2066.3 680.6,2067.3 681.1,2068 681.6,2068.4 682.1,2068.7 682.6,2068.9 683.2,2070.3 683.7,2070.5 684.2,2071.2 684.7,2071.4 685.2,2072.2 685.8,2072.2 686.3,2073.4 686.8,2074.3 687.3,2074.6 687.8,2075.6 688.4,2075.9 688.9,2077 689.4,2076.9 689.9,2076.7 690.5,2078.4 691,2078.6 691.5,2078.8 692,2080.2 692.5,2080.6 693.1,2081.2 693.6,2081.4 694.1,2082.2 694.6,2082.8 695.1,2084.1 695.7,2083.4 696.2,2084.2 696.7,2084.9 697.2,2084.3 697.7,2084.8 698.3,2087.2 698.8,2085.6 699.3,2087.2 699.8,2086.9 700.3,2087.3 700.9,2087.1 701.4,2087.9 701.9,2089.1 702.4,2088.3 703,2089.6 703.5,2089.8 704,2090.9 704.5,2089.9 705,2091.1 705.6,2091.2 706.1,2090.8 706.6,2090.4 707.1,2092.3 707.6,2091.1 708.2,2091.8 708.7,2092.7 709.2,2093 709.7,2092.3 710.2,2092.9 710.8,2093 711.3,2094 711.8,2094.9 712.3,2092.9 712.9,2094.5 713.4,2092.8 713.9,2094.4 714.4,2094 714.9,2095.7 715.5,2095 716,2094.7 716.5,2095 717,2095.1 717.5,2095.6 718.1,2095.6 718.6,2096.2 719.1,2096.7 719.6,2096.4 720.1,2095.6 720.7,2095.5 721.2,2096 721.7,2097 722.2,2096.4 722.7,2096.4 723.3,2096.9 723.8,2096.2 724.3,2096.4 724.8,2097.4 725.4,2097.1 725.9,2097.1 726.4,2097.6 726.9,2097.2 727.4,2097.3 728,2097.5 728.5,2098.1 729,2097.9 729.5,2097.4 730,2097.9 730.6,2098.5 731.1,2099.2 731.6,2097.7 732.1,2098.6 732.6,2098.3 733.2,2099 733.7,2098.9 734.2,2099.5 734.7,2099.1 735.3,2098.6 735.8,2098.7 736.3,2099.2 736.8,2099.3 737.3,2100.4 737.9,2100.1 738.4,2098.7 738.9,2099.6 739.4,2098.8 739.9,2098.7 740.5,2100 741,2099.9 741.5,2099.2 742,2100.6 742.5,2099.3 743.1,2099.3 743.6,2100.3 744.1,2100.1 744.6,2100 745.1,2100.1 745.7,2100.3 746.2,2100.1 746.7,2100.2 747.2,2099.4 747.8,2099.7 748.3,2100.7 748.8,2100.1 749.3,2100.7 749.8,2101.1 750.4,2100.4 750.9,2100.7 751.4,2101.7 751.9,2101 752.4,2101.6 753,2101.5 753.5,2101.1 754,2100.7 754.5,2100.4 755,2100.3 755.6,2101.1 756.1,2101.1 756.6,2100.8 757.1,2101.3 757.6,2100.6 758.2,2101.5 758.7,2100.9 759.2,2100.9 759.7,2100.9 760.3,2100.9 760.8,2102.2 761.3,2100.2 761.8,2101.1 762.3,2101.6 762.9,2101.4 763.4,2100.9 763.9,2101.9 764.4,2100.5 764.9,2100.4 765.5,2101.3 766,2100.3 766.5,2099.9 767,2101.5 767.5,2101.5 768.1,2101.5 768.6,2100.9 769.1,2101.2 769.6,2100.6 770.2,2102 770.7,2101.5 771.2,2101.5 771.7,2100.2 772.2,2101.6 772.8,2101.9 773.3,2101.8 773.8,2101.6 774.3,2101.2 774.8,2101 775.4,2101.5 775.9,2101.4 776.4,2101.3 776.9,2101 777.4,2102.1 778,2100.6 778.5,2101.2 779,2100.9 779.5,2101.7 780,2101.9 780.6,2101.9 781.1,2101.6 781.6,2100.5 782.1,2102.3 782.7,2101.5 783.2,2101.2 783.7,2101.3 784.2,2101.1 784.7,2101.5 785.3,2101.4 785.8,2101.1 786.3,2100 786.8,2101.3 787.3,2101.5 787.9,2101.6 788.4,2101.2 788.9,2101.5 789.4,2101.8 789.9,2101.1 790.5,2102.1 791,2100.4 791.5,2100.7 792,2100.9 792.5,2100.1 793.1,2100.9 793.6,2102 794.1,2102 794.6,2101.4 795.2,2102.2 795.7,2101.5 796.2,2101.1 796.7,2101.5 797.2,2101.3 797.8,2101.8 798.3,2100.7 798.8,2101.9 799.3,2101.2 799.8,2101.9 800.4,2100.7 800.9,2101.2 801.4,2101.5 801.9,2101.9 802.4,2100.9 803,2102.3 803.5,2101.7 804,2101.2 804.5,2102.1 805.1,2101.6 805.6,2102.1 806.1,2102.7 806.6,2101.9 807.1,2101.3 807.7,2101.4 808.2,2101.9 808.7,2101.7 809.2,2101.2 809.7,2101.3 810.3,2102 810.8,2102.8 811.3,2100.3 811.8,2102 812.3,2101.6 812.9,2102.1 813.4,2102.1 813.9,2101.7 814.4,2101.2 814.9,2101 815.5,2100.8 816,2102.4 816.5,2101.7 817,2101.5 817.6,2101.7 818.1,2101.1 818.6,2102 819.1,2102.5 819.6,2102.4 820.2,2101.1 820.7,2102.6 821.2,2101.5 821.7,2100.9 822.2,2101.3 822.8,2101.4 823.3,2101.9 823.8,2101.4 824.3,2101.2 824.8,2101.9 825.4,2103 825.9,2101.7 826.4,2102.3 826.9,2102.1 827.4,2103.4 828,2101.1 828.5,2102.6 829,2101.5 829.5,2101.8 830.1,2102.1 830.6,2103.7 831.1,2101.8 831.6,2101.2 832.1,2102.8 832.7,2101.8 833.2,2102.1 833.7,2102.2 834.2,2102.3 834.7,2102.2 835.3,2102.4 835.8,2102.5 836.3,2102.7 836.8,2102.1 837.3,2102 837.9,2101.8 838.4,2102.7 838.9,2102.4 839.4,2102.7 840,2102.7 840.5,2103.3 841,2102.6 841.5,2102.9 842,2101.9 842.6,2102 843.1,2102.4 843.6,2101.9 844.1,2102.9 844.6,2101.9 845.2,2102.6" fill="none" stroke="#1f9a1f" stroke-width="3.8" stroke-linejoin="round" stroke-linecap="round" />
<polyline points="96.1,2449.9 96.6,2448.8 97.1,2448.9 97.7,2445.7 98.2,2452.4 98.7,2451.3 99.2,2448.9 99.8,2450.6 100.3,2449.8 100.8,2448.4 101.3,2450.7 101.8,2448.6 102.4,2448.5 102.9,2447.7 103.4,2449.6 103.9,2448.6 104.4,2449.5 105,2447.5 105.5,2448.6 106,2446.8 106.5,2449.5 107,2448.3 107.6,2448.4 108.1,2448.4 108.6,2446 109.1,2448.7 109.6,2450.6 110.2,2444.5 110.7,2444.2 111.2,2444.4 111.7,2448 112.3,2446.7 112.8,2447.9 113.3,2447.1 113.8,2446 114.3,2445.9 114.9,2444.8 115.4,2446.2 115.9,2442.6 116.4,2443.4 116.9,2444.1 117.5,2446.2 118,2441.7 118.5,2440.7 119,2441.1 119.5,2443.1 120.1,2440.7 120.6,2442.7 121.1,2437.1 121.6,2441.4 122.2,2440.7 122.7,2436.3 123.2,2438.3 123.7,2439.4 124.2,2437.1 124.8,2438 125.3,2439.6 125.8,2435.6 126.3,2434.2 126.8,2432.8 127.4,2434.5 127.9,2432.5 128.4,2431.9 128.9,2431.4 129.4,2432 130,2428.6 130.5,2427.1 131,2424.8 131.5,2429.6 132,2426.8 132.6,2428 133.1,2424.4 133.6,2422 134.1,2422.8 134.7,2420.6 135.2,2417.4 135.7,2416.7 136.2,2419.7 136.7,2416.2 137.3,2415 137.8,2412.7 138.3,2410.8 138.8,2412.3 139.3,2409.6 139.9,2407.6 140.4,2407.7 140.9,2405.6 141.4,2406.7 141.9,2407.6 142.5,2404 143,2407.2 143.5,2403.7 144,2405 144.5,2403.6 145.1,2405.2 145.6,2406.6 146.1,2407 146.6,2408 147.2,2409.6 147.7,2411 148.2,2411.6 148.7,2415.6 149.2,2418.5 149.8,2421.1 150.3,2422.4 150.8,2426.9 151.3,2424.9 151.8,2424.9 152.4,2429.6 152.9,2426.1 153.4,2430.4 153.9,2428.4 154.4,2431.6 155,2429 155.5,2434.7 156,2434 156.5,2433.7 157.1,2438.9 157.6,2438.3 158.1,2438 158.6,2437.4 159.1,2439.2 159.7,2439.5 160.2,2441.2 160.7,2441.6 161.2,2439.3 161.7,2439.6 162.3,2439.6 162.8,2438.4 163.3,2439.6 163.8,2440.5 164.3,2441.7 164.9,2442.8 165.4,2439.4 165.9,2441.6 166.4,2440.1 166.9,2444.1 167.5,2440.8 168,2441.7 168.5,2439.4 169,2439.6 169.6,2441.3 170.1,2440.4 170.6,2441.6 171.1,2438.6 171.6,2442.1 172.2,2439.7 172.7,2443.9 173.2,2440.7 173.7,2442.9 174.2,2439 174.8,2441.9 175.3,2439.8 175.8,2440.5 176.3,2441.3 176.8,2440.8 177.4,2441.8 177.9,2442.5 178.4,2442.4 178.9,2441.2 179.4,2439.2 180,2440.1 180.5,2441.1 181,2438.1 181.5,2442.7 182.1,2441.1 182.6,2441.1 183.1,2443 183.6,2442.6 184.1,2441.9 184.7,2439.9 185.2,2442.1 185.7,2442.1 186.2,2440.2 186.7,2443.3 187.3,2442.4 187.8,2438.5 188.3,2441.8 188.8,2439.6 189.3,2443.4 189.9,2442.9 190.4,2439.9 190.9,2440.2 191.4,2441.8 192,2441.3 192.5,2444.1 193,2442.9 193.5,2441.2 194,2442.6 194.6,2438.4 195.1,2442.2 195.6,2443.1 196.1,2441.4 196.6,2440.6 197.2,2442.6 197.7,2444.8 198.2,2442 198.7,2439.9 199.2,2444 199.8,2438.7 200.3,2442.5 200.8,2440.8 201.3,2443.2 201.8,2440.3 202.4,2443.8 202.9,2442.1 203.4,2438.9 203.9,2438.5 204.5,2441.1 205,2443.6 205.5,2441.7 206,2441.6 206.5,2441.1 207.1,2442.6 207.6,2442 208.1,2441.8 208.6,2439.7 209.1,2443.1 209.7,2443.3 210.2,2439 210.7,2444.7 211.2,2442.1 211.7,2440.1 212.3,2437.8 212.8,2441.8 213.3,2441.6 213.8,2439.6 214.4,2437.6 214.9,2442.2 215.4,2439.4 215.9,2439.5 216.4,2444.7 217,2443.4 217.5,2441.4 218,2439.1 218.5,2440.8 219,2436 219.6,2439.7 220.1,2438.2 220.6,2437.2 221.1,2436.6 221.6,2439.9 222.2,2439.1 222.7,2439 223.2,2440 223.7,2437.2 224.2,2436.4 224.8,2435.4 225.3,2437.6 225.8,2439.2 226.3,2437.6 226.9,2438.8 227.4,2435.7 227.9,2436.7 228.4,2436.1 228.9,2435.2 229.5,2440 230,2438.3 230.5,2435.5 231,2435.4 231.5,2436.4 232.1,2434 232.6,2436.9 233.1,2433.9 233.6,2435.3 234.1,2434.1 234.7,2434.8 235.2,2433.3 235.7,2432.7 236.2,2433.5 236.7,2433.8 237.3,2434.3 237.8,2434.7 238.3,2436.9 238.8,2435.6 239.4,2433.7 239.9,2435.2 240.4,2432.7 240.9,2436 241.4,2434.3 242,2431.1 242.5,2434.2 243,2434 243.5,2428.1 244,2430.9 244.6,2431.1 245.1,2428.4 245.6,2429.4 246.1,2429.3 246.6,2431.3 247.2,2430.6 247.7,2433.9 248.2,2428.7 248.7,2430.9 249.3,2428.8 249.8,2428.8 250.3,2426.2 250.8,2424.6 251.3,2426.2 251.9,2428.3 252.4,2429.4 252.9,2427.6 253.4,2427.2 253.9,2424.9 254.5,2428.5 255,2428.1 255.5,2425 256,2425.7 256.5,2424.2 257.1,2428.2 257.6,2426.5 258.1,2425.8 258.6,2426.6 259.1,2426.8 259.7,2425.5 260.2,2424.4 260.7,2424.4 261.2,2423.9 261.8,2427.6 262.3,2430.6 262.8,2424.5 263.3,2427.7 263.8,2428.4 264.4,2426.4 264.9,2428.6 265.4,2426.8 265.9,2430.8 266.4,2428.2 267,2429.6 267.5,2430.9 268,2429.4 268.5,2427.6 269,2429.9 269.6,2432.3 270.1,2431.3 270.6,2432.2 271.1,2430.5 271.6,2432.8 272.2,2434.1 272.7,2433.4 273.2,2436.7 273.7,2433.7 274.3,2432.7 274.8,2432.2 275.3,2437 275.8,2435.4 276.3,2437.5 276.9,2437 277.4,2439.2 277.9,2439 278.4,2436.7 278.9,2438.1 279.5,2439.7 280,2436.3 280.5,2440.9 281,2440.9 281.5,2440.8 282.1,2439.2 282.6,2440.3 283.1,2438.3 283.6,2440.4 284.2,2439.6 284.7,2440.9 285.2,2440.2 285.7,2441.6 286.2,2443.3 286.8,2439.4 287.3,2443.2 287.8,2438.6 288.3,2438.5 288.8,2441.8 289.4,2442.1 289.9,2442.9 290.4,2439.6 290.9,2442.1 291.4,2442.4 292,2444.2 292.5,2442 293,2442.9 293.5,2440.5 294,2441.7 294.6,2441.2 295.1,2442.9 295.6,2440.1 296.1,2440.3 296.7,2442.4 297.2,2444.2 297.7,2441.8 298.2,2441.6 298.7,2440.4 299.3,2442.5 299.8,2441.5 300.3,2443.2 300.8,2440.8 301.3,2438.5 301.9,2438.9 302.4,2438.1 302.9,2437.4 303.4,2441.3 303.9,2440.3 304.5,2436.8 305,2441.4 305.5,2438.8 306,2436.6 306.5,2438.5 307.1,2437.6 307.6,2436.2 308.1,2434.1 308.6,2437 309.2,2437.2 309.7,2432.4 310.2,2437.2 310.7,2437 311.2,2435.1 311.8,2435.8 312.3,2434.9 312.8,2433.8 313.3,2434.3 313.8,2436.8 314.4,2432.1 314.9,2434.6 315.4,2434.3 315.9,2432.7 316.4,2432.9 317,2431.2 317.5,2431.9 318,2433.1 318.5,2433.4 319.1,2431.2 319.6,2437.4 320.1,2431.4 320.6,2432.4 321.1,2431.7 321.7,2431.3 322.2,2433.9 322.7,2430.9 323.2,2433.7 323.7,2433.3 324.3,2429.7 324.8,2433 325.3,2430.2 325.8,2435.6 326.3,2430.5 326.9,2429.6 327.4,2428 327.9,2429 328.4,2430.2 328.9,2429.7 329.5,2429.5 330,2430.7 330.5,2431.8 331,2434.8 331.6,2430.2 332.1,2432.5 332.6,2432.4 333.1,2432 333.6,2433 334.2,2434.1 334.7,2437.2 335.2,2436.3 335.7,2436.3 336.2,2438.7 336.8,2438.6 337.3,2438.3 337.8,2439.7 338.3,2438.1 338.8,2440.8 339.4,2440.8 339.9,2439.6 340.4,2438.4 340.9,2442.8 341.4,2440.6 342,2445.3 342.5,2439.4 343,2441.8 343.5,2439.7 344.1,2440.8 344.6,2441.7 345.1,2439.1 345.6,2440.2 346.1,2440.6 346.7,2440.5 347.2,2441.3 347.7,2442 348.2,2441.7 348.7,2440.8 349.3,2439.8 349.8,2438.5 350.3,2439.1 350.8,2439.5 351.3,2441.4 351.9,2439.7 352.4,2438.3 352.9,2441.3 353.4,2439 354,2439 354.5,2439.9 355,2441 355.5,2436.3 356,2438.4 356.6,2440.4 357.1,2439.6 357.6,2438.8 358.1,2439.3 358.6,2442.3 359.2,2439.4 359.7,2441.2 360.2,2441.3 360.7,2439.3 361.2,2440.7 361.8,2439.3 362.3,2439 362.8,2438.2 363.3,2441.3 363.8,2439.3 364.4,2439 364.9,2438.1 365.4,2442.7 365.9,2441 366.5,2439.6 367,2438.7 367.5,2437.3 368,2440.2 368.5,2440.2 369.1,2437.4 369.6,2441.5 370.1,2440.9 370.6,2438.1 371.1,2438.7 371.7,2438.9 372.2,2439.8 372.7,2439.2 373.2,2436.8 373.7,2441.8 374.3,2439.9 374.8,2441.4 375.3,2441.3 375.8,2439 376.4,2439.8 376.9,2440.4 377.4,2440.4 377.9,2438.9 378.4,2438.1 379,2439.2 379.5,2437.8 380,2438.1 380.5,2435.8 381,2439.1 381.6,2437.3 382.1,2438 382.6,2438.7 383.1,2439.2 383.6,2441.6 384.2,2438.8 384.7,2436.1 385.2,2438.4 385.7,2437.1 386.2,2438.6 386.8,2436.7 387.3,2436.5 387.8,2436.6 388.3,2436.3 388.9,2434.2 389.4,2435.8 389.9,2436.7 390.4,2438.4 390.9,2435.8 391.5,2435.4 392,2436.7 392.5,2436.4 393,2437.9 393.5,2436 394.1,2434.8 394.6,2436.7 395.1,2436.8 395.6,2433.3 396.1,2434.1 396.7,2430.9 397.2,2432.7 397.7,2431.6 398.2,2432.4 398.7,2431.7 399.3,2431.9 399.8,2431.8 400.3,2432.4 400.8,2431.8 401.4,2430.2 401.9,2428.8 402.4,2432.5 402.9,2432.6 403.4,2429.3 404,2430.6 404.5,2427 405,2426.7 405.5,2428.5 406,2431 406.6,2426.7 407.1,2426.8 407.6,2430.5 408.1,2424.6 408.6,2428.5 409.2,2428 409.7,2426.6 410.2,2427 410.7,2430.7 411.3,2424.5 411.8,2425.6 412.3,2425.5 412.8,2424.6 413.3,2423.3 413.9,2427.9 414.4,2425.5 414.9,2422.1 415.4,2423.6 415.9,2425.2 416.5,2425 417,2421.9 417.5,2423.9 418,2424.3 418.5,2424.4 419.1,2424.2 419.6,2420.5 420.1,2426.2 420.6,2423.4 421.1,2425.8 421.7,2427.3 422.2,2422.3 422.7,2420.5 423.2,2423.7 423.8,2421.8 424.3,2421.2 424.8,2420.1 425.3,2424.3 425.8,2420.8 426.4,2419.1 426.9,2420.4 427.4,2419.1 427.9,2421.1 428.4,2420 429,2418.8 429.5,2421.3 430,2419.1 430.5,2421.1 431,2421.8 431.6,2419 432.1,2418.4 432.6,2419.5 433.1,2420.4 433.6,2418.8 434.2,2418.8 434.7,2418.4 435.2,2418.7 435.7,2419 436.3,2416.6 436.8,2416.8 437.3,2417.4 437.8,2416 438.3,2417.1 438.9,2417.5 439.4,2416.3 439.9,2415.1 440.4,2414.6 440.9,2418.3 441.5,2416.6 442,2413.1 442.5,2413.2 443,2417.2 443.5,2416.3 444.1,2413.7 444.6,2415 445.1,2410.4 445.6,2412.4 446.2,2413.2 446.7,2408.6 447.2,2409.9 447.7,2412 448.2,2412.2 448.8,2409 449.3,2410 449.8,2411.6 450.3,2408 450.8,2406.1 451.4,2407.7 451.9,2406.7 452.4,2409 452.9,2406.8 453.4,2404.8 454,2409.5 454.5,2404.4 455,2405.6 455.5,2405.5 456,2405.2 456.6,2403.9 457.1,2404.1 457.6,2402.7 458.1,2400.1 458.7,2401.7 459.2,2401.3 459.7,2401 460.2,2401.2 460.7,2399.6 461.3,2402.4 461.8,2402.5 462.3,2396.1 462.8,2399.4 463.3,2397.9 463.9,2394.6 464.4,2399.2 464.9,2397.3 465.4,2397.4 465.9,2396.7 466.5,2399.3 467,2399.3 467.5,2397.5 468,2398 468.5,2396.5 469.1,2396.7 469.6,2395.1 470.1,2396.1 470.6,2394.7 471.2,2396.2 471.7,2396.8 472.2,2395.7 472.7,2396.9 473.2,2399.1 473.8,2391.2 474.3,2394.4 474.8,2393.2 475.3,2393.2 475.8,2391.5 476.4,2393.5 476.9,2392.7 477.4,2391.8 477.9,2392.2 478.4,2391.3 479,2388.2 479.5,2393.4 480,2390.8 480.5,2389.4 481.1,2391 481.6,2389.1 482.1,2386.2 482.6,2390.6 483.1,2386.1 483.7,2387.9 484.2,2387.9 484.7,2389.3 485.2,2388.5 485.7,2386.3 486.3,2384.2 486.8,2384.1 487.3,2385.9 487.8,2386.4 488.3,2383.8 488.9,2381.3 489.4,2383.3 489.9,2380.4 490.4,2379.7 490.9,2379.3 491.5,2380.1 492,2379 492.5,2379.5 493,2379.4 493.6,2377.5 494.1,2372.4 494.6,2372.8 495.1,2375.3 495.6,2374.4 496.2,2377.4 496.7,2373.4 497.2,2372.7 497.7,2373.9 498.2,2373.6 498.8,2371 499.3,2371.7 499.8,2368.6 500.3,2368.4 500.8,2371.4 501.4,2366.7 501.9,2369.9 502.4,2369 502.9,2368.6 503.4,2368.3 504,2367.3 504.5,2362.4 505,2363.7 505.5,2363.8 506.1,2365.6 506.6,2361.8 507.1,2361.9 507.6,2361.8 508.1,2363.9 508.7,2358.8 509.2,2358.2 509.7,2360.6 510.2,2355.5 510.7,2358.6 511.3,2356.5 511.8,2353.9 512.3,2354.9 512.8,2353.2 513.3,2354.2 513.9,2353.7 514.4,2354.6 514.9,2351.4 515.4,2350.8 516,2348.9 516.5,2349 517,2350 517.5,2344.6 518,2348 518.6,2345.5 519.1,2345.9 519.6,2345.8 520.1,2346.2 520.6,2344.7 521.2,2343.3 521.7,2344 522.2,2343 522.7,2342.2 523.2,2342.4 523.8,2343.1 524.3,2341.5 524.8,2341.1 525.3,2338.4 525.8,2339.8 526.4,2336.7 526.9,2340.5 527.4,2337.5 527.9,2340.7 528.5,2343.2 529,2337.5 529.5,2340 530,2338.3 530.5,2336.6 531.1,2336 531.6,2338.2 532.1,2339.5 532.6,2337.8 533.1,2334.8 533.7,2335.7 534.2,2337.1 534.7,2339.9 535.2,2338.4 535.7,2338.8 536.3,2340.6 536.8,2338.7 537.3,2339.4 537.8,2339.7 538.3,2337.7 538.9,2341.8 539.4,2342.3 539.9,2343.8 540.4,2341 541,2342.2 541.5,2345.7 542,2345.4 542.5,2347.8 543,2344.9 543.6,2347.5 544.1,2347.2 544.6,2350 545.1,2350.1 545.6,2353.2 546.2,2355.7 546.7,2356.8 547.2,2354.7 547.7,2361.1 548.2,2362.3 548.8,2362 549.3,2364.3 549.8,2367.9 550.3,2370.9 550.9,2371.4 551.4,2371.7 551.9,2376.8 552.4,2378.7 552.9,2384.4 553.5,2380.3 554,2388.3 554.5,2388.8 555,2388.1 555.5,2391.7 556.1,2390.7 556.6,2393.6 557.1,2392.3 557.6,2395 558.1,2394.7 558.7,2395.2 559.2,2398.7 559.7,2399.4 560.2,2402.8 560.7,2405.2 561.3,2404.2 561.8,2405.9 562.3,2407.4 562.8,2405.6 563.4,2410 563.9,2410.7 564.4,2411.8 564.9,2411.2 565.4,2410.9 566,2414.7 566.5,2416.6 567,2419.2 567.5,2419.8 568,2421.2 568.6,2420.4 569.1,2422.5 569.6,2421.2 570.1,2423.4 570.6,2424.8 571.2,2428.5 571.7,2425.5 572.2,2424 572.7,2429.1 573.3,2426.5 573.8,2428.5 574.3,2429 574.8,2428.8 575.3,2433.2 575.9,2432.8 576.4,2431.6 576.9,2433.4 577.4,2433.3 577.9,2435.7 578.5,2434.7 579,2434.7 579.5,2435.4 580,2436.2 580.5,2437.8 581.1,2436.3 581.6,2438 582.1,2439.1 582.6,2442.4 583.1,2440.2 583.7,2434.2 584.2,2438.2 584.7,2438.4 585.2,2439.4 585.8,2441.4 586.3,2439.9 586.8,2434.9 587.3,2438.8 587.8,2438.3 588.4,2438.5 588.9,2439.7 589.4,2435.5 589.9,2438.6 590.4,2433.8 591,2436.1 591.5,2436.2 592,2438.7 592.5,2433.4 593,2431.3 593.6,2434.6 594.1,2431.8 594.6,2434.8 595.1,2430.5 595.6,2429.6 596.2,2432.3 596.7,2429.8 597.2,2430.6 597.7,2426 598.3,2430.2 598.8,2425.8 599.3,2427.3 599.8,2423.6 600.3,2422 600.9,2423.3 601.4,2423 601.9,2424.2 602.4,2421 602.9,2420.3 603.5,2418.7 604,2421 604.5,2413.1 605,2414.6 605.5,2410.4 606.1,2409.1 606.6,2405.7 607.1,2406.3 607.6,2400.2 608.2,2397.9 608.7,2397.3 609.2,2393.4 609.7,2393.9 610.2,2391.8 610.8,2386.7 611.3,2386.6 611.8,2381.8 612.3,2380.2 612.8,2377.7 613.4,2378.2 613.9,2372.5 614.4,2368.2 614.9,2365.3 615.4,2365.6 616,2357.9 616.5,2356.5 617,2353.3 617.5,2346.6 618,2346.2 618.6,2345 619.1,2340.1 619.6,2334.6 620.1,2333.4 620.7,2329.4 621.2,2328.1 621.7,2319.8 622.2,2316.6 622.7,2313.5 623.3,2309.5 623.8,2306.1 624.3,2302.1 624.8,2297.5 625.3,2292.3 625.9,2290.3 626.4,2285.2 626.9,2282 627.4,2279 627.9,2276.9 628.5,2273.6 629,2266.7 629.5,2265 630,2261.8 630.5,2256.6 631.1,2250.1 631.6,2245.3 632.1,2246 632.6,2242.2 633.2,2237.1 633.7,2231 634.2,2230.9 634.7,2226.5 635.2,2220 635.8,2214.7 636.3,2206.6 636.8,2205.4 637.3,2195.9 637.8,2193.9 638.4,2188.6 638.9,2182.4 639.4,2180 639.9,2172.8 640.4,2170.8 641,2168.5 641.5,2165.9 642,2164.3 642.5,2167.1 643.1,2166.4 643.6,2166.4 644.1,2167.7 644.6,2169.7 645.1,2175 645.7,2173.6 646.2,2175.3 646.7,2176.4 647.2,2178.8 647.7,2180.4 648.3,2186.6 648.8,2189.1 649.3,2190.2 649.8,2192.3 650.3,2197 650.9,2199.4 651.4,2200.9 651.9,2206.6 652.4,2209.6 652.9,2212.7 653.5,2217.6 654,2219.1 654.5,2226.2 655,2226.4 655.6,2232.9 656.1,2237.3 656.6,2240.1 657.1,2245.3 657.6,2247 658.2,2250.9 658.7,2257.3 659.2,2260.6 659.7,2266.9 660.2,2270.1 660.8,2275.1 661.3,2278.5 661.8,2282.3 662.3,2286.3 662.8,2289.7 663.4,2293.7 663.9,2301.9 664.4,2300.1 664.9,2306.9 665.4,2313 666,2316.3 666.5,2322 667,2324.7 667.5,2325.8 668.1,2331.2 668.6,2333.2 669.1,2340.7 669.6,2344.9 670.1,2345.3 670.7,2350 671.2,2351.5 671.7,2352.7 672.2,2357.2 672.7,2358.1 673.3,2362.5 673.8,2366.4 674.3,2369.9 674.8,2373.4 675.3,2373.2 675.9,2376.6 676.4,2379.3 676.9,2381.8 677.4,2378.6 678,2384 678.5,2388.6 679,2387.6 679.5,2391.7 680,2394.4 680.6,2391.8 681.1,2396.2 681.6,2398.6 682.1,2399.8 682.6,2398.9 683.2,2403.4 683.7,2403.4 684.2,2407.1 684.7,2407.9 685.2,2407.8 685.8,2410.3 686.3,2410.2 686.8,2411.5 687.3,2411.3 687.8,2414.7 688.4,2417.6 688.9,2417.6 689.4,2418.5 689.9,2418.6 690.5,2419.9 691,2422.9 691.5,2420.3 692,2426.9 692.5,2424.4 693.1,2428.9 693.6,2428.1 694.1,2426.4 694.6,2429.1 695.1,2429.1 695.7,2430.3 696.2,2431.6 696.7,2430.3 697.2,2431 697.7,2432.1 698.3,2431.4 698.8,2434 699.3,2435.5 699.8,2436.3 700.3,2437 700.9,2436.8 701.4,2439.4 701.9,2435.6 702.4,2438.9 703,2439.6 703.5,2442.2 704,2442.5 704.5,2443.3 705,2442.6 705.6,2444.6 706.1,2441.9 706.6,2444.1 707.1,2441 707.6,2447.5 708.2,2447.7 708.7,2444.5 709.2,2444.4 709.7,2442.6 710.2,2443.7 710.8,2446.5 711.3,2446.1 711.8,2444.1 712.3,2445.7 712.9,2445.5 713.4,2447.4 713.9,2447.9 714.4,2446.5 714.9,2447.1 715.5,2447 716,2443.7 716.5,2447.4 717,2447.1 717.5,2448.4 718.1,2444.4 718.6,2448.6 719.1,2446.4 719.6,2447.9 720.1,2449.5 720.7,2445.2 721.2,2445.5 721.7,2449.3 722.2,2445.9 722.7,2446.3 723.3,2448.8 723.8,2447.6 724.3,2449.2 724.8,2448.5 725.4,2448 725.9,2449.6 726.4,2451.6 726.9,2448 727.4,2450.6 728,2450 728.5,2448.4 729,2449 729.5,2446.8 730,2447.4 730.6,2448.8 731.1,2448.4 731.6,2450.5 732.1,2446.4 732.6,2448 733.2,2447.5 733.7,2448.3 734.2,2450.4 734.7,2446.7 735.3,2450 735.8,2447.7 736.3,2448.1 736.8,2450.3 737.3,2448.2 737.9,2449.8 738.4,2448.9 738.9,2448.5 739.4,2448.2 739.9,2446 740.5,2447.6 741,2449 741.5,2449.1 742,2446.4 742.5,2450.4 743.1,2449.7 743.6,2446.7 744.1,2447.1 744.6,2449.6 745.1,2445.9 745.7,2447.5 746.2,2448.6 746.7,2448.4 747.2,2448.5 747.8,2449.1 748.3,2447.1 748.8,2447.5 749.3,2451.4 749.8,2445.8 750.4,2447.2 750.9,2447.9 751.4,2446.6 751.9,2449.4 752.4,2447.4 753,2448.3 753.5,2442.8 754,2448.7 754.5,2448.4 755,2445.2 755.6,2448.3 756.1,2446.4 756.6,2447.3 757.1,2448.5 757.6,2445.6 758.2,2443.6 758.7,2445 759.2,2442.7 759.7,2443.3 760.3,2443.1 760.8,2443 761.3,2445.8 761.8,2445.1 762.3,2442.1 762.9,2445.2 763.4,2440.5 763.9,2441.9 764.4,2442.6 764.9,2444.5 765.5,2443.6 766,2443 766.5,2444.2 767,2443.1 767.5,2444 768.1,2440.4 768.6,2438.8 769.1,2440.7 769.6,2442.6 770.2,2441.5 770.7,2442.4 771.2,2442 771.7,2441.5 772.2,2441.9 772.8,2439.3 773.3,2442 773.8,2438.5 774.3,2439.8 774.8,2437.6 775.4,2440.5 775.9,2437.1 776.4,2441.7 776.9,2437.1 777.4,2439.5 778,2438.7 778.5,2437.4 779,2440.7 779.5,2437.8 780,2440.7 780.6,2436.6 781.1,2436.8 781.6,2434.8 782.1,2438.7 782.7,2439.2 783.2,2437.9 783.7,2437.2 784.2,2435.8 784.7,2440.9 785.3,2438.2 785.8,2434 786.3,2436.3 786.8,2432.5 787.3,2439.1 787.9,2439.6 788.4,2438.7 788.9,2436.1 789.4,2435.2 789.9,2433.8 790.5,2436.8 791,2434.7 791.5,2435.2 792,2434.7 792.5,2435.1 793.1,2437 793.6,2438.2 794.1,2435.7 794.6,2435.4 795.2,2433.5 795.7,2433.3 796.2,2433.5 796.7,2436.6 797.2,2435.6 797.8,2436.7 798.3,2435.8 798.8,2434.5 799.3,2433.1 799.8,2434.5 800.4,2432.8 800.9,2438.4 801.4,2435.6 801.9,2434.6 802.4,2438.5 803,2434.7 803.5,2436.3 804,2435.2 804.5,2436.1 805.1,2435 805.6,2436.5 806.1,2438 806.6,2433.8 807.1,2432.4 807.7,2438.2 808.2,2436.4 808.7,2437.7 809.2,2435.9 809.7,2439 810.3,2439.5 810.8,2434.8 811.3,2437.9 811.8,2436 812.3,2434.5 812.9,2436.8 813.4,2438.3 813.9,2435.3 814.4,2435.6 814.9,2439.8 815.5,2438 816,2438.8 816.5,2436.4 817,2437.4 817.6,2438.8 818.1,2439.1 818.6,2439.1 819.1,2441.6 819.6,2439.5 820.2,2436.9 820.7,2438.1 821.2,2439.6 821.7,2441.9 822.2,2438.9 822.8,2439.5 823.3,2440.3 823.8,2439.3 824.3,2439.3 824.8,2440.4 825.4,2442.5 825.9,2441.8 826.4,2440.7 826.9,2442 827.4,2439.4 828,2443.2 828.5,2443 829,2442.4 829.5,2439.4 830.1,2445.5 830.6,2437.7 831.1,2441 831.6,2441.2 832.1,2444 832.7,2440.6 833.2,2443.6 833.7,2443.2 834.2,2443.1 834.7,2445.1 835.3,2446.2 835.8,2444.8 836.3,2443.9 836.8,2440.8 837.3,2447 837.9,2444.4 838.4,2442 838.9,2445.5 839.4,2447.8 840,2445.4 840.5,2443.9 841,2449.7 841.5,2447.2 842,2447 842.6,2448.3 843.1,2443.3 843.6,2446.9 844.1,2447 844.6,2451.1 845.2,2446.7" fill="none" stroke="#1874c4" stroke-width="4.6" stroke-linejoin="round" stroke-linecap="round" />
<polyline points="96.1,2811.1 96.6,2807 97.1,2809.7 97.7,2808.8 98.2,2808.8 98.7,2809 99.2,2807.4 99.8,2809 100.3,2808.4 100.8,2812.1 101.3,2809.3 101.8,2808.7 102.4,2808.7 102.9,2808.3 103.4,2807.9 103.9,2808.4 104.4,2809.1 105,2808.4 105.5,2809.4 106,2808.3 106.5,2808.4 107,2809.7 107.6,2808.8 108.1,2807.7 108.6,2807.9 109.1,2808.5 109.6,2809.7 110.2,2807.6 110.7,2807.5 111.2,2808.5 111.7,2806.8 112.3,2807.2 112.8,2808.2 113.3,2807.8 113.8,2807.2 114.3,2807.7 114.9,2804.4 115.4,2807.8 115.9,2805.9 116.4,2805.2 116.9,2806.8 117.5,2807 118,2805.9 118.5,2805.1 119,2805.9 119.5,2805.7 120.1,2806.8 120.6,2806 121.1,2805.2 121.6,2805.8 122.2,2804.4 122.7,2803.5 123.2,2804.6 123.7,2804.3 124.2,2803.3 124.8,2802.5 125.3,2803.1 125.8,2800.4 126.3,2802.9 126.8,2802.5 127.4,2800.2 127.9,2801.5 128.4,2800.2 128.9,2801.5 129.4,2798.7 130,2799.4 130.5,2800.5 131,2800.6 131.5,2797.4 132,2798.6 132.6,2799 133.1,2797.9 133.6,2799.6 134.1,2796.9 134.7,2798 135.2,2796.5 135.7,2798.5 136.2,2797 136.7,2796.5 137.3,2795.1 137.8,2797.9 138.3,2796.9 138.8,2796.8 139.3,2797 139.9,2796.2 140.4,2795.2 140.9,2795 141.4,2794.9 141.9,2796.8 142.5,2794.3 143,2795.1 143.5,2795.4 144,2795.9 144.5,2796.3 145.1,2794.8 145.6,2794.5 146.1,2796.2 146.6,2797.5 147.2,2797.3 147.7,2797 148.2,2796.8 148.7,2797.6 149.2,2797.4 149.8,2798.7 150.3,2797.5 150.8,2798.7 151.3,2798.8 151.8,2799.7 152.4,2799.8 152.9,2802.2 153.4,2801.6 153.9,2802 154.4,2799.2 155,2801.1 155.5,2801.2 156,2802.6 156.5,2800.4 157.1,2803.9 157.6,2804.2 158.1,2802.4 158.6,2803 159.1,2803.5 159.7,2804.6 160.2,2805.5 160.7,2807 161.2,2805.3 161.7,2806.5 162.3,2806.2 162.8,2807.9 163.3,2807.2 163.8,2808 164.3,2806 164.9,2806.9 165.4,2806.5 165.9,2808.8 166.4,2808.1 166.9,2807.3 167.5,2807.3 168,2808.2 168.5,2807.2 169,2807.1 169.6,2808.5 170.1,2810.3 170.6,2808 171.1,2807.8 171.6,2807.3 172.2,2807.2 172.7,2809 173.2,2809.4 173.7,2808.7 174.2,2809 174.8,2808.9 175.3,2809 175.8,2807.6 176.3,2808.6 176.8,2809.2 177.4,2808.5 177.9,2808.8 178.4,2808.6 178.9,2809.1 179.4,2810.2 180,2809.2 180.5,2809.4 181,2810.4 181.5,2810.3 182.1,2811.3 182.6,2807.9 183.1,2810.7 183.6,2809.5 184.1,2810.1 184.7,2810.8 185.2,2811.1 185.7,2811.1 186.2,2810.3 186.7,2811.7 187.3,2810 187.8,2810.2 188.3,2811.1 188.8,2809.9 189.3,2812.4 189.9,2811.4 190.4,2812.5 190.9,2810.5 191.4,2810.3 192,2810.8 192.5,2811.3 193,2810.2 193.5,2811.1 194,2810.7 194.6,2812.2 195.1,2810.2 195.6,2811.7 196.1,2810.2 196.6,2810 197.2,2810.2 197.7,2809.8 198.2,2811 198.7,2811.8 199.2,2811 199.8,2811.5 200.3,2812.4 200.8,2811.1 201.3,2811.1 201.8,2810.6 202.4,2809.4 202.9,2811.5 203.4,2809.2 203.9,2811.3 204.5,2810.6 205,2811.6 205.5,2810.4 206,2809.6 206.5,2810.6 207.1,2809.7 207.6,2809.9 208.1,2810 208.6,2809.7 209.1,2809.6 209.7,2808.9 210.2,2809.3 210.7,2807.4 211.2,2809.1 211.7,2808 212.3,2810 212.8,2810 213.3,2807 213.8,2808.8 214.4,2808.4 214.9,2807.4 215.4,2808.8 215.9,2807.8 216.4,2806.5 217,2807.7 217.5,2807.8 218,2807.9 218.5,2806.6 219,2808.2 219.6,2808.3 220.1,2806.5 220.6,2806.9 221.1,2807.4 221.6,2807 222.2,2809.1 222.7,2807.7 223.2,2806.6 223.7,2806.8 224.2,2807.5 224.8,2809.6 225.3,2807.3 225.8,2807.6 226.3,2808 226.9,2807.5 227.4,2809.6 227.9,2807 228.4,2808.2 228.9,2807.7 229.5,2808.1 230,2806.5 230.5,2809.1 231,2807.4 231.5,2807.6 232.1,2806.7 232.6,2806.9 233.1,2808.1 233.6,2808.5 234.1,2808.3 234.7,2808.7 235.2,2808.2 235.7,2807.6 236.2,2808.4 236.7,2808.2 237.3,2807.5 237.8,2808.3 238.3,2808.8 238.8,2807.9 239.4,2807.4 239.9,2808.3 240.4,2809.4 240.9,2807.5 241.4,2807.6 242,2807.6 242.5,2808.8 243,2806.1 243.5,2808.1 244,2808.8 244.6,2807.1 245.1,2809.1 245.6,2808.3 246.1,2807.3 246.6,2808 247.2,2806.5 247.7,2807.3 248.2,2809.5 248.7,2807.1 249.3,2809.6 249.8,2807.8 250.3,2808.8 250.8,2808 251.3,2805.9 251.9,2807.4 252.4,2808.1 252.9,2807 253.4,2806.8 253.9,2808.4 254.5,2807.5 255,2806.5 255.5,2807.4 256,2808.9 256.5,2807.7 257.1,2809 257.6,2809.5 258.1,2808.2 258.6,2807.1 259.1,2807 259.7,2808.2 260.2,2809 260.7,2808.5 261.2,2808.7 261.8,2807.8 262.3,2808.5 262.8,2807.9 263.3,2808 263.8,2807.1 264.4,2806.9 264.9,2807.9 265.4,2807.4 265.9,2807.5 266.4,2809 267,2808.3 267.5,2811 268,2809.3 268.5,2807.9 269,2809.2 269.6,2808.8 270.1,2807.9 270.6,2809.5 271.1,2807.8 271.6,2805.8 272.2,2809.3 272.7,2808 273.2,2809.9 273.7,2808 274.3,2807.6 274.8,2810 275.3,2807.7 275.8,2808.9 276.3,2810 276.9,2808.8 277.4,2808.6 277.9,2808.8 278.4,2809.5 278.9,2808 279.5,2809.3 280,2809.3 280.5,2810.9 281,2808.5 281.5,2808 282.1,2809.5 282.6,2808.5 283.1,2809.2 283.6,2809 284.2,2810 284.7,2808.4 285.2,2808.9 285.7,2806.7 286.2,2808.2 286.8,2810.4 287.3,2808.4 287.8,2808.4 288.3,2808 288.8,2809.6 289.4,2809.3 289.9,2808.1 290.4,2809.8 290.9,2809.4 291.4,2809.9 292,2808.7 292.5,2810.8 293,2809.7 293.5,2809.2 294,2808.9 294.6,2809.1 295.1,2810.2 295.6,2809.2 296.1,2810.4 296.7,2810 297.2,2810.7 297.7,2810.3 298.2,2809.5 298.7,2807.9 299.3,2809.9 299.8,2810.3 300.3,2809.8 300.8,2810.2 301.3,2809.3 301.9,2809.4 302.4,2808.9 302.9,2811 303.4,2810 303.9,2809.4 304.5,2808.7 305,2809.8 305.5,2811.2 306,2810.4 306.5,2809.3 307.1,2811.3 307.6,2811.3 308.1,2810.9 308.6,2810.8 309.2,2811.2 309.7,2810.6 310.2,2810.9 310.7,2809.5 311.2,2811.6 311.8,2810.5 312.3,2812.1 312.8,2808.5 313.3,2811 313.8,2811.3 314.4,2810.1 314.9,2810.8 315.4,2811.1 315.9,2811 316.4,2810 317,2810.4 317.5,2811.5 318,2811.7 318.5,2810.7 319.1,2810.7 319.6,2810.8 320.1,2811.6 320.6,2809.8 321.1,2809.5 321.7,2810.9 322.2,2809.8 322.7,2810.3 323.2,2810.9 323.7,2811.3 324.3,2809.9 324.8,2811.6 325.3,2809.3 325.8,2811.4 326.3,2809.5 326.9,2809.8 327.4,2811.6 327.9,2810.7 328.4,2810.3 328.9,2810.7 329.5,2811.5 330,2811 330.5,2811.1 331,2812.1 331.6,2810.5 332.1,2810.7 332.6,2810.7 333.1,2812.2 333.6,2812.1 334.2,2812.4 334.7,2811.2 335.2,2811.1 335.7,2812 336.2,2810.9 336.8,2812 337.3,2812 337.8,2810.7 338.3,2811.2 338.8,2811.2 339.4,2812.9 339.9,2813.7 340.4,2811.3 340.9,2811.4 341.4,2809.3 342,2811.6 342.5,2811.4 343,2810.4 343.5,2812.1 344.1,2810 344.6,2811.2 345.1,2811.5 345.6,2810.3 346.1,2812.2 346.7,2812.3 347.2,2810.2 347.7,2810.1 348.2,2811.9 348.7,2811.4 349.3,2810.3 349.8,2811.1 350.3,2811.3 350.8,2811.2 351.3,2812.1 351.9,2811.7 352.4,2812.9 352.9,2812.6 353.4,2811.9 354,2812.3 354.5,2812.5 355,2811.9 355.5,2810.2 356,2812 356.6,2811.3 357.1,2812.7 357.6,2811.3 358.1,2811.7 358.6,2811.5 359.2,2812.7 359.7,2811.3 360.2,2810.9 360.7,2811.4 361.2,2810.7 361.8,2811.2 362.3,2811 362.8,2811.3 363.3,2812.7 363.8,2810.6 364.4,2811 364.9,2810.7 365.4,2811.5 365.9,2809.8 366.5,2810.2 367,2810.8 367.5,2811.3 368,2810.7 368.5,2810.3 369.1,2809.9 369.6,2811.1 370.1,2811.9 370.6,2810.9 371.1,2810.7 371.7,2810.9 372.2,2809.6 372.7,2810.1 373.2,2810.2 373.7,2810.6 374.3,2810.3 374.8,2809.2 375.3,2811.3 375.8,2811.7 376.4,2809.9 376.9,2810.5 377.4,2810.3 377.9,2810.7 378.4,2808.7 379,2811.4 379.5,2809.5 380,2811 380.5,2809.9 381,2809.4 381.6,2809.6 382.1,2810.5 382.6,2808.9 383.1,2809.2 383.6,2809.1 384.2,2807.9 384.7,2810.6 385.2,2809.9 385.7,2809.3 386.2,2810.3 386.8,2808.4 387.3,2809.1 387.8,2810.6 388.3,2809.8 388.9,2806.9 389.4,2805.7 389.9,2807.7 390.4,2809.4 390.9,2807.9 391.5,2808 392,2808.6 392.5,2807.1 393,2807.9 393.5,2808.2 394.1,2807.7 394.6,2807.5 395.1,2806.4 395.6,2807.2 396.1,2806.1 396.7,2807.4 397.2,2808.3 397.7,2805.1 398.2,2803.6 398.7,2804.9 399.3,2805.4 399.8,2805.8 400.3,2805.5 400.8,2803.6 401.4,2803.3 401.9,2804.9 402.4,2802.5 402.9,2804.2 403.4,2802.7 404,2803.4 404.5,2803 405,2802.8 405.5,2802.6 406,2800.7 406.6,2801.6 407.1,2801 407.6,2801 408.1,2801.6 408.6,2799.9 409.2,2799.3 409.7,2799 410.2,2799.1 410.7,2799.8 411.3,2798.1 411.8,2799.6 412.3,2798.6 412.8,2797.8 413.3,2796.6 413.9,2797.7 414.4,2797.9 414.9,2795.4 415.4,2797.8 415.9,2797.9 416.5,2796.5 417,2796.3 417.5,2797.8 418,2796.4 418.5,2794.2 419.1,2794.7 419.6,2794.3 420.1,2794 420.6,2791.7 421.1,2794.2 421.7,2792.7 422.2,2793.1 422.7,2792.5 423.2,2793.1 423.8,2791.8 424.3,2791 424.8,2791.9 425.3,2792.4 425.8,2790.5 426.4,2791.7 426.9,2790.4 427.4,2789.4 427.9,2790.9 428.4,2788.4 429,2789.8 429.5,2788.1 430,2788.6 430.5,2786.8 431,2786.8 431.6,2788.2 432.1,2787 432.6,2786.6 433.1,2785.8 433.6,2786.3 434.2,2784.3 434.7,2784.2 435.2,2784.7 435.7,2783.7 436.3,2783.5 436.8,2783.7 437.3,2783.3 437.8,2782.9 438.3,2784.2 438.9,2783.3 439.4,2783.2 439.9,2781.7 440.4,2780.9 440.9,2779.7 441.5,2780.3 442,2778.4 442.5,2779.4 443,2780.3 443.5,2780.7 444.1,2779.7 444.6,2777.7 445.1,2778.5 445.6,2777 446.2,2778.1 446.7,2776.9 447.2,2777.4 447.7,2778.6 448.2,2776.7 448.8,2777.6 449.3,2775.3 449.8,2774.4 450.3,2775.5 450.8,2775.5 451.4,2773.1 451.9,2773.2 452.4,2771.5 452.9,2772.2 453.4,2772.8 454,2771.5 454.5,2770.6 455,2769.5 455.5,2770.7 456,2770.6 456.6,2770 457.1,2769.3 457.6,2767.5 458.1,2769.8 458.7,2767.8 459.2,2767.3 459.7,2767.6 460.2,2764.6 460.7,2766 461.3,2765.5 461.8,2765.6 462.3,2766 462.8,2764.7 463.3,2762.2 463.9,2763.1 464.4,2763.2 464.9,2762.6 465.4,2760.9 465.9,2760.1 466.5,2761.7 467,2761 467.5,2760.2 468,2758.3 468.5,2761 469.1,2756.3 469.6,2758.1 470.1,2759.9 470.6,2757.4 471.2,2757.2 471.7,2755.5 472.2,2757.3 472.7,2754.4 473.2,2755.3 473.8,2754.7 474.3,2753.1 474.8,2754.3 475.3,2751.7 475.8,2751.8 476.4,2751.9 476.9,2750.9 477.4,2751.2 477.9,2751 478.4,2749.3 479,2748.4 479.5,2747.8 480,2747.3 480.5,2747.7 481.1,2746.1 481.6,2746 482.1,2744.8 482.6,2743.3 483.1,2744 483.7,2741.4 484.2,2741.4 484.7,2741.7 485.2,2738.3 485.7,2738.2 486.3,2735.7 486.8,2735.6 487.3,2733.6 487.8,2733.4 488.3,2732.1 488.9,2731.5 489.4,2731.7 489.9,2729.3 490.4,2728.5 490.9,2726.7 491.5,2725.4 492,2723.8 492.5,2721.8 493,2722.5 493.6,2722.9 494.1,2720.9 494.6,2719 495.1,2720.1 495.6,2717.4 496.2,2716.4 496.7,2715.1 497.2,2714.4 497.7,2714.2 498.2,2715.3 498.8,2712.5 499.3,2710.8 499.8,2710.3 500.3,2709.8 500.8,2707.7 501.4,2708.5 501.9,2708.3 502.4,2707.3 502.9,2706.9 503.4,2704.6 504,2703.7 504.5,2705.9 505,2705.4 505.5,2702.8 506.1,2704.2 506.6,2703.9 507.1,2704.4 507.6,2704.3 508.1,2703.8 508.7,2704.8 509.2,2705.2 509.7,2705.5 510.2,2704.4 510.7,2704 511.3,2706.6 511.8,2706.6 512.3,2709 512.8,2710.2 513.3,2710.7 513.9,2710.9 514.4,2712.2 514.9,2714.1 515.4,2713.2 516,2715.6 516.5,2716.3 517,2716.7 517.5,2718.6 518,2717.5 518.6,2719.8 519.1,2719 519.6,2720.1 520.1,2720.8 520.6,2723.2 521.2,2723 521.7,2725 522.2,2725.1 522.7,2728.2 523.2,2730 523.8,2729.7 524.3,2732.2 524.8,2732.4 525.3,2735 525.8,2734.3 526.4,2734 526.9,2737.9 527.4,2737.5 527.9,2737.8 528.5,2739.3 529,2739.4 529.5,2741.8 530,2742 530.5,2745.2 531.1,2745.4 531.6,2744.1 532.1,2745.1 532.6,2746.7 533.1,2746.3 533.7,2748.7 534.2,2749.6 534.7,2749.7 535.2,2750.7 535.7,2752.4 536.3,2754 536.8,2754.8 537.3,2754.2 537.8,2755.7 538.3,2754.9 538.9,2756.6 539.4,2756.1 539.9,2758.3 540.4,2757.1 541,2758 541.5,2759.5 542,2760.6 542.5,2759.3 543,2760.7 543.6,2761.8 544.1,2762.4 544.6,2762 545.1,2763.3 545.6,2763.4 546.2,2765.3 546.7,2765 547.2,2763.7 547.7,2763.3 548.2,2765.8 548.8,2767.2 549.3,2766.7 549.8,2767.8 550.3,2767 550.9,2766.6 551.4,2768.9 551.9,2768.7 552.4,2769.7 552.9,2768.2 553.5,2770 554,2769.6 554.5,2771.3 555,2770.4 555.5,2770.7 556.1,2771.1 556.6,2773.1 557.1,2772.3 557.6,2771.8 558.1,2771.9 558.7,2772.1 559.2,2774.6 559.7,2771.9 560.2,2773 560.7,2774.5 561.3,2775.2 561.8,2774.1 562.3,2775.1 562.8,2775.2 563.4,2775.5 563.9,2774.7 564.4,2776.2 564.9,2774.9 565.4,2776.1 566,2773.7 566.5,2775.5 567,2773.5 567.5,2773.2 568,2774.9 568.6,2773.6 569.1,2774.7 569.6,2773.2 570.1,2775.5 570.6,2773.9 571.2,2772.7 571.7,2773.7 572.2,2774.2 572.7,2772.5 573.3,2773.5 573.8,2774.7 574.3,2773.4 574.8,2772.4 575.3,2771.7 575.9,2772.5 576.4,2770.4 576.9,2768.8 577.4,2770.7 577.9,2770.1 578.5,2772.4 579,2770.7 579.5,2769.4 580,2769 580.5,2770.3 581.1,2768.8 581.6,2768.8 582.1,2768.9 582.6,2768.8 583.1,2768.6 583.7,2768.3 584.2,2769.1 584.7,2769.2 585.2,2765.9 585.8,2769.5 586.3,2767 586.8,2767.7 587.3,2765.6 587.8,2766.2 588.4,2765.8 588.9,2765.4 589.4,2765.7 589.9,2765.1 590.4,2763.3 591,2763.7 591.5,2764 592,2763.6 592.5,2762.3 593,2761.9 593.6,2761.5 594.1,2760.2 594.6,2759.6 595.1,2761.7 595.6,2759.4 596.2,2759.4 596.7,2758.1 597.2,2759.4 597.7,2759.3 598.3,2757 598.8,2757.1 599.3,2755.4 599.8,2757 600.3,2755.7 600.9,2753.5 601.4,2754.7 601.9,2753.2 602.4,2752.6 602.9,2751.8 603.5,2750.2 604,2749.5 604.5,2749.7 605,2748.2 605.5,2746.5 606.1,2748.3 606.6,2745.3 607.1,2743.9 607.6,2742.7 608.2,2742.9 608.7,2742 609.2,2740.1 609.7,2739.4 610.2,2735.9 610.8,2735.6 611.3,2734.1 611.8,2733 612.3,2731.9 612.8,2727.9 613.4,2730.5 613.9,2724.7 614.4,2723.4 614.9,2721.2 615.4,2718.5 616,2715 616.5,2709.1 617,2707.6 617.5,2706 618,2701.1 618.6,2697.5 619.1,2692.9 619.6,2692.6 620.1,2688.4 620.7,2683.6 621.2,2680.7 621.7,2676.9 622.2,2672 622.7,2668.6 623.3,2664.7 623.8,2660.6 624.3,2656.7 624.8,2651 625.3,2645.9 625.9,2642 626.4,2636.4 626.9,2631.1 627.4,2628.7 627.9,2622.7 628.5,2618.7 629,2614.7 629.5,2608.7 630,2605.6 630.5,2600.7 631.1,2595.4 631.6,2591.1 632.1,2585.2 632.6,2579.1 633.2,2576.1 633.7,2570.9 634.2,2568 634.7,2563.1 635.2,2558.3 635.8,2555 636.3,2552.5 636.8,2549 637.3,2545.4 637.8,2542.5 638.4,2539 638.9,2536.2 639.4,2533.9 639.9,2530.4 640.4,2528 641,2523.9 641.5,2520.8 642,2518.3 642.5,2517 643.1,2516.4 643.6,2514.3 644.1,2510.6 644.6,2508.6 645.1,2509.4 645.7,2508.1 646.2,2505.8 646.7,2507.7 647.2,2507 647.7,2508.5 648.3,2508.5 648.8,2510.3 649.3,2511.5 649.8,2512.4 650.3,2515.3 650.9,2517.4 651.4,2521.6 651.9,2522.9 652.4,2525.5 652.9,2530.7 653.5,2534.5 654,2538.1 654.5,2541.2 655,2542.2 655.6,2546.4 656.1,2550.3 656.6,2555.1 657.1,2558 657.6,2565 658.2,2570.7 658.7,2575.2 659.2,2582 659.7,2588.8 660.2,2593.7 660.8,2600.4 661.3,2606.1 661.8,2611.1 662.3,2616.4 662.8,2621 663.4,2627.8 663.9,2631.7 664.4,2636.9 664.9,2643.6 665.4,2647.8 666,2654.2 666.5,2660 667,2664.3 667.5,2669.4 668.1,2675.1 668.6,2679.7 669.1,2682.1 669.6,2686.7 670.1,2693.5 670.7,2697.1 671.2,2699.3 671.7,2704.3 672.2,2709.9 672.7,2713.3 673.3,2718.8 673.8,2722.5 674.3,2726.9 674.8,2729.2 675.3,2734.5 675.9,2739.3 676.4,2740.2 676.9,2745.2 677.4,2747.9 678,2750.3 678.5,2752.1 679,2753.3 679.5,2755.6 680,2759.1 680.6,2761.3 681.1,2763.5 681.6,2765.2 682.1,2767 682.6,2767.6 683.2,2768.7 683.7,2771.7 684.2,2773.7 684.7,2775 685.2,2775.2 685.8,2777.6 686.3,2778.3 686.8,2781.2 687.3,2781.5 687.8,2783.7 688.4,2785.5 688.9,2786.6 689.4,2788.9 689.9,2787.9 690.5,2788 691,2791.9 691.5,2793.4 692,2794.4 692.5,2794.3 693.1,2795.4 693.6,2795.8 694.1,2795.3 694.6,2796.7 695.1,2798.3 695.7,2797.9 696.2,2800.7 696.7,2798.2 697.2,2799.8 697.7,2801.7 698.3,2800.8 698.8,2800.8 699.3,2801.2 699.8,2802.3 700.3,2804.8 700.9,2804.4 701.4,2805 701.9,2804.6 702.4,2806.3 703,2806.1 703.5,2805.6 704,2806.5 704.5,2807.6 705,2808.9 705.6,2808.2 706.1,2809.1 706.6,2810.9 707.1,2808.7 707.6,2808.7 708.2,2811.1 708.7,2810.9 709.2,2810.8 709.7,2811.4 710.2,2811.2 710.8,2812.2 711.3,2811.7 711.8,2813 712.3,2811.4 712.9,2811.9 713.4,2813 713.9,2812.6 714.4,2813.8 714.9,2813.3 715.5,2812.9 716,2813.7 716.5,2813.1 717,2812.2 717.5,2812.6 718.1,2812.9 718.6,2813.2 719.1,2813.7 719.6,2814.4 720.1,2814 720.7,2815.1 721.2,2814.6 721.7,2813.2 722.2,2814.8 722.7,2814.3 723.3,2812.7 723.8,2813.3 724.3,2813.9 724.8,2813 725.4,2813.6 725.9,2812.9 726.4,2813 726.9,2812 727.4,2812.4 728,2811.6 728.5,2812.4 729,2810.1 729.5,2811.7 730,2812.3 730.6,2811.5 731.1,2810.8 731.6,2811.1 732.1,2809.7 732.6,2809.5 733.2,2809.7 733.7,2809.6 734.2,2810.4 734.7,2808.5 735.3,2810 735.8,2807.4 736.3,2807.9 736.8,2808.3 737.3,2809.1 737.9,2807.3 738.4,2805.6 738.9,2807.7 739.4,2807 739.9,2805.8 740.5,2805.5 741,2805.4 741.5,2805.7 742,2805.6 742.5,2803.1 743.1,2805.8 743.6,2803 744.1,2802 744.6,2802.1 745.1,2800.7 745.7,2801.8 746.2,2799.7 746.7,2797.4 747.2,2796.4 747.8,2795.2 748.3,2794.3 748.8,2794.1 749.3,2791.8 749.8,2792.7 750.4,2790.1 750.9,2788.9 751.4,2788.8 751.9,2785 752.4,2784.8 753,2785.1 753.5,2783.4 754,2782.3 754.5,2781.6 755,2779.7 755.6,2779.1 756.1,2777 756.6,2775.7 757.1,2777.6 757.6,2774.8 758.2,2774.1 758.7,2775.3 759.2,2774.3 759.7,2772.2 760.3,2771.7 760.8,2771.6 761.3,2770.4 761.8,2771.4 762.3,2770.7 762.9,2770.5 763.4,2770.8 763.9,2770.5 764.4,2771.3 764.9,2770.7 765.5,2767.6 766,2769.7 766.5,2767.7 767,2767.2 767.5,2768.9 768.1,2767.4 768.6,2767.6 769.1,2768.6 769.6,2766.8 770.2,2766.5 770.7,2767.4 771.2,2768 771.7,2767.2 772.2,2765.2 772.8,2765.8 773.3,2766.1 773.8,2767.9 774.3,2766.8 774.8,2766.6 775.4,2766.8 775.9,2765.4 776.4,2766 776.9,2765.9 777.4,2764.5 778,2765.3 778.5,2765.7 779,2764.2 779.5,2765.8 780,2765.8 780.6,2766 781.1,2764.3 781.6,2765.1 782.1,2766.4 782.7,2765.8 783.2,2764.5 783.7,2765.5 784.2,2766.8 784.7,2765.6 785.3,2766.3 785.8,2768.5 786.3,2766.5 786.8,2766.7 787.3,2766.2 787.9,2766.9 788.4,2769.2 788.9,2768.2 789.4,2767.6 789.9,2768.3 790.5,2769.6 791,2770.7 791.5,2769.8 792,2771.6 792.5,2771 793.1,2772.3 793.6,2772.9 794.1,2773.5 794.6,2773 795.2,2773.8 795.7,2774.9 796.2,2773.7 796.7,2775.5 797.2,2776.3 797.8,2777.2 798.3,2776.7 798.8,2777 799.3,2777.7 799.8,2777.4 800.4,2778.2 800.9,2779.1 801.4,2779.4 801.9,2778.5 802.4,2779.5 803,2778.2 803.5,2781.2 804,2780.3 804.5,2781.3 805.1,2780.4 805.6,2781.7 806.1,2782.5 806.6,2783.3 807.1,2781.5 807.7,2783.7 808.2,2783.1 808.7,2782.9 809.2,2784.3 809.7,2784 810.3,2784.3 810.8,2784.2 811.3,2785.3 811.8,2785.5 812.3,2785.6 812.9,2785.2 813.4,2785.9 813.9,2787 814.4,2788.1 814.9,2787.3 815.5,2788.9 816,2787.9 816.5,2787.3 817,2789.1 817.6,2788 818.1,2789.6 818.6,2790.5 819.1,2789.6 819.6,2790.2 820.2,2792.8 820.7,2791.2 821.2,2791.5 821.7,2792.4 822.2,2791.9 822.8,2792.3 823.3,2793.1 823.8,2791 824.3,2794.8 824.8,2793 825.4,2793.4 825.9,2795.2 826.4,2795.2 826.9,2794.4 827.4,2796.2 828,2795.4 828.5,2796.2 829,2795.9 829.5,2796.9 830.1,2798.5 830.6,2798.7 831.1,2799.3 831.6,2800.3 832.1,2799.8 832.7,2799.7 833.2,2800.5 833.7,2802.7 834.2,2801.7 834.7,2802.5 835.3,2802.6 835.8,2803.3 836.3,2804 836.8,2804.1 837.3,2804.4 837.9,2804.3 838.4,2804.8 838.9,2806.4 839.4,2807.2 840,2807.9 840.5,2807.6 841,2807.3 841.5,2809.1 842,2809.6 842.6,2808.2 843.1,2810.8 843.6,2811.1 844.1,2812.6 844.6,2810.6 845.2,2811" fill="none" stroke="#7030a0" stroke-width="3.8" stroke-linejoin="round" stroke-linecap="round" />
<path d="M546,1969 V2152.5 H532.8 V2337" fill="none" stroke="#000" stroke-width="4"/>
<path d="M642.6,1824 V2343.5 H647 V2506.7" fill="none" stroke="#000" stroke-width="4"/>
<path d="M507.6,2362 V2703.9" fill="none" stroke="#000" stroke-width="4"/>
<path d="M464,2399.5 V2763.6" fill="none" stroke="#000" stroke-width="4"/>
<text x="158.8" y="2070" font-family="Liberation Sans, sans-serif" font-size="29" font-weight="bold" fill="#2a9a2a" text-anchor="start" textLength="51" lengthAdjust="spacingAndGlyphs">328</text>
<text x="550.9" y="1968" font-family="Liberation Sans, sans-serif" font-size="29" font-weight="bold" fill="#2a9a2a" text-anchor="start" textLength="51" lengthAdjust="spacingAndGlyphs">713</text>
<text x="656.3" y="1825.6" font-family="Liberation Sans, sans-serif" font-size="29" font-weight="bold" fill="#2a9a2a" text-anchor="start" textLength="51" lengthAdjust="spacingAndGlyphs">806</text>
<text x="156.2" y="2390.4" font-family="Liberation Sans, sans-serif" font-size="29" font-weight="bold" fill="#1c70bb" text-anchor="start" textLength="51" lengthAdjust="spacingAndGlyphs">327</text>
<text x="413.4" y="2390.4" font-family="Liberation Sans, sans-serif" font-size="29" font-weight="bold" fill="#1c70bb" text-anchor="start" textLength="51" lengthAdjust="spacingAndGlyphs">627</text>
<text x="550.9" y="2348.6" font-family="Liberation Sans, sans-serif" font-size="29" font-weight="bold" fill="#1c70bb" text-anchor="start" textLength="51" lengthAdjust="spacingAndGlyphs">700</text>
<text x="656" y="2173" font-family="Liberation Sans, sans-serif" font-size="29" font-weight="bold" fill="#1c70bb" text-anchor="start" textLength="51" lengthAdjust="spacingAndGlyphs">805</text>
<text x="780" y="2422.5" font-family="Liberation Sans, sans-serif" font-size="29" font-weight="bold" fill="#1c70bb" text-anchor="start" textLength="51" lengthAdjust="spacingAndGlyphs">953</text>
<text x="156.2" y="2788.7" font-family="Liberation Sans, sans-serif" font-size="29" font-weight="bold" fill="#7135a0" text-anchor="start" textLength="51" lengthAdjust="spacingAndGlyphs">327</text>
<text x="522.9" y="2712.3" font-family="Liberation Sans, sans-serif" font-size="29" font-weight="bold" fill="#7135a0" text-anchor="start" textLength="51" lengthAdjust="spacingAndGlyphs">676</text>
<text x="665.5" y="2557.4" font-family="Liberation Sans, sans-serif" font-size="29" font-weight="bold" fill="#7135a0" text-anchor="start" textLength="51" lengthAdjust="spacingAndGlyphs">809</text>
<text x="764.8" y="2756.4" font-family="Liberation Sans, sans-serif" font-size="29" font-weight="bold" fill="#7135a0" text-anchor="start" textLength="51" lengthAdjust="spacingAndGlyphs">934</text>
<text x="137" y="1821.5" font-family="Liberation Sans, sans-serif" font-size="39" font-weight="bold" fill="#2a9a2a" text-anchor="start" textLength="61" lengthAdjust="spacingAndGlyphs">W1</text>
<text x="137" y="2260" font-family="Liberation Sans, sans-serif" font-size="39" font-weight="bold" fill="#1c70bb" text-anchor="start" textLength="61" lengthAdjust="spacingAndGlyphs">W2</text>
<text x="137" y="2613" font-family="Liberation Sans, sans-serif" font-size="39" font-weight="bold" fill="#7135a0" text-anchor="start" textLength="61" lengthAdjust="spacingAndGlyphs">W3</text>
<line x1="1056.7" y1="2828" x2="1056.7" y2="2813" stroke="#111" stroke-width="3" />
<text x="1072.2" y="2879.6" font-family="Liberation Sans, sans-serif" font-size="43" font-weight="normal" fill="#222" text-anchor="middle" >1300</text>
<line x1="1159.1" y1="2828" x2="1159.1" y2="2820" stroke="#111" stroke-width="3" />
<line x1="1261.5" y1="2828" x2="1261.5" y2="2813" stroke="#111" stroke-width="3" />
<text x="1277" y="2879.6" font-family="Liberation Sans, sans-serif" font-size="43" font-weight="normal" fill="#222" text-anchor="middle" >1400</text>
<line x1="1363.9" y1="2828" x2="1363.9" y2="2820" stroke="#111" stroke-width="3" />
<line x1="1466.3" y1="2828" x2="1466.3" y2="2813" stroke="#111" stroke-width="3" />
<text x="1481.8" y="2879.6" font-family="Liberation Sans, sans-serif" font-size="43" font-weight="normal" fill="#222" text-anchor="middle" >1500</text>
<line x1="1568.7" y1="2828" x2="1568.7" y2="2820" stroke="#111" stroke-width="3" />
<line x1="1671.1" y1="2828" x2="1671.1" y2="2813" stroke="#111" stroke-width="3" />
<text x="1686.6" y="2879.6" font-family="Liberation Sans, sans-serif" font-size="43" font-weight="normal" fill="#222" text-anchor="middle" >1600</text>
<line x1="1773.5" y1="2828" x2="1773.5" y2="2820" stroke="#111" stroke-width="3" />
<rect x="1016" y="1751.5" width="798.5" height="1076.5" fill="none" stroke="#111" stroke-width="4"/>
<text x="1243" y="2950" font-family="Liberation Sans, sans-serif" font-size="46" font-weight="bold" fill="#111">Raman shift (cm<tspan font-size="27" dy="-21">–1</tspan><tspan dy="21">)</tspan></text>
<text transform="translate(983,2290) rotate(-90)" x="0" y="0" text-anchor="middle" font-family="Liberation Sans, sans-serif" font-size="43" font-weight="bold" fill="#111" textLength="269" lengthAdjust="spacingAndGlyphs">Intensity (a.u.)</text>
<path d="M1015.5,2010.5l1.5,11l1,4l1,-20l1,0l1,24l1,-23l1,3l1,29.5l1,-13.5l1,-6.5l1,4l1,6l1,-10l1,-5.5l1,18.5l1,-7l1,-6.5l1,9l1,-8l1,15l1,-24.5l1.5,9.5l1,-2l1,-4l1,8.5l1,-13.5l1,20l1,3.5l1,-28l1,6l1,-2.5l1,-3l1,25.5l1,-15l1,-7.5l1,17l1,-16l1,18l1,-15.5l1,-0.5l1,7.5l1,2l1.5,2.5l1,6.5l1,-5.5l1,-12l1,-8.5l1,0.5l1,26l1,-13l1,8l1,-17.5l1,-2l1,25.5l1,-10l1,-3.5l1,-3l1,-11l1,0.5l1,2.5l1,27.5l1,-12l1.5,-10l1,20.5l1,-14.5l1,-5l1,17.5l1,7.5l1,-25.5l1,22.5l1,-18l1,0l1,1l1,10l1,12.5l1,-4.5l1,9.5l1,-17l1,1l1,-2.5l1,20.5l1,-2.5l1,-16.5l1.5,2.5l1,-5.5l1,10l1,-24.5l1,2.5l1,8.5l1,-7.5l1,18.5l1,-5.5l1,-7.5l1,4l1,3l1,5.5l1,1l1,-21.5l1,15.5l1,-10l1,9.5l1,8.5l1,0l1,-3.5l1.5,-19.5l1,8.5l1,-4l1,26l1,-24.5l1,0.5l1,8l1,-10.5l1,26.5l1,-12.5l1,-11l1,11l1,-11.5l1,15.5l1,-15l1,-6.5l1,-1.5l1,16l1,-3l1,-10l1,11.5l1.5,-6l1,-4l1,4.5l1,1.5l1,12.5l1,-28.5l1,-3.5l1,16l1,15.5l1,2l1,-8l1,-17.5l1,24l1,0.5l1,-21.5l1,10l1,-13.5l1,20.5l1,-9l1,-2.5l1,-1l1.5,-18.5l1,17.5l1,-18.5l1,-10l1,5l1,-1.5l1,-10l1,-1.5l1,-3l1,-17.5l1,8l1,-15.5l1,3.5l1,-21l1,9.5l1,-11l1,-5.5l1,-6l1,-14l1,-12.5l1,14.5l1.5,-33.5l1,3.5l1,1.5l1,-20l1,-6.5l1,12.5l1,-7l1,-11l1,4l1,-9l1,-13l1,5.5l1,-10.5l1,11l1,-14l1,-8.5l1,15l1,-9.5l1,0.5l1,-7.5l1.5,6.5l1,-11.5l1,5.5l1,-13l1,15l1,2.5l1,-1l1,2.5l1,-6.5l1,15l1,-21.5l1,26l1,-11.5l1,-5.5l1,24l1,-4.5l1,4.5l1,19l1,-15.5l1,19l1,4.5l1.5,11.5l1,11l1,-5.5l1,18.5l1,17.5l1,-19l1,4l1,6l1,22l1,22.5l1,-24l1,28l1,-11l1,-4l1,20.5l1,-1l1,14.5l1,-6.5l1,-4l1,4l1,26l1.5,0l1,-9.5l1,1l1,8.5l1,10l1,-23.5l1,6l1,8.5l1,3l1,-11.5l1,-6l1,3l1,5.5l1,17l1,-2.5l1,-18.5l1,1l1,10.5l1,7.5l1,3.5l1,-11l1.5,21l1,-5l1,-20.5l1,13.5l1,-12l1,-3.5l1,9l1,-11.5l1,18.5l1,4.5l1,7l1,-17.5l1,-12.5l1,20l1,1l1,4l1,-11l1,0l1,-12l1,-4l1,7l1.5,18l1,-12.5l1,7l1,-11l1,-1l1,16l1,-20.5l1,9l1,-6.5l1,25l1,-8l1,-3l1,-5.5l1,12.5l1,-5l1,-7l1,-6.5l1,11l1,6.5l1,-3.5l1,11.5l1.5,0.5l1,7l1,-7.5l1,-11l1,0l1,-5l1,-0.5l1,-13l1,25l1,-16l1,-3l1,10.5l1,11l1,-5.5l1,0l1,11.5l1,-15.5l1,1l1,16l1,-1l1.5,5.5l1,-11.5l1,12.5l1,-17.5l1,0l1,16l1,-9.5l1,-2l1,6.5l1,9.5l1,-2.5l1,3l1,8.5l1,-16.5l1,-7.5l1,12l1,-18l1,12.5l1,-3.5l1,6.5l1,-10l1.5,15.5l1,-2l1,0.5l1,3l1,-14.5l1,10.5l1,-6l1,-6l1,23l1,-5l1,2l1,-5l1,4.5l1,-23.5l1,-3.5l1,8.5l1,8l1,7.5l1,-10l1,0l1,9.5l1.5,-18l1,18l1,-23.5l1,6.5l1,16.5l1,1l1,-10.5l1,-6.5l1,15.5l1,-19.5l1,-4l1,8l1,-11.5l1,23l1,-20.5l1,32.5l1,-22.5l1,4l1,8.5l1,-6.5l1,-1.5l1.5,-15l1,5.5l1,-10.5l1,10l1,22.5l1,-19.5l1,-2.5l1,7.5l1,4l1,-14.5l1,0l1,13.5l1,-1l1,-6l1,-15.5l1,5l1,20.5l1,1l1,6l1,-5l1,-10.5l1.5,-10l1,26.5l1,-9.5l1,-3.5l1,4l1,-8l1,0.5l1,6.5l1,-3l1,5.5l1,3.5l1,-3.5l1,-14.5l1,-4.5l1,23l1,-19l1,15.5l1,-24.5l1,14.5l1,-2l1,9.5l1.5,-1.5l1,-23l1,14l1,-0.5l1,-19l1,12.5l1,-18.5l1,9l1,-21l1,15l1,-10l1,4l1,-5.5l1,-5.5l1,-5l1,0.5l1,-6l1,10.5l1,-11l1,-1.5l1.5,-6l1,-2.5l1,21.5l1,-21.5l1,16l1,-0.5l1,9.5l1,-21.5l1,17.5l1,-6l1,-7.5l1,8l1,4.5l1,-4.5l1,8l1,-11.5l1,-2l1,22.5l1,-2l1,16l1,-19l1.5,21l1,3.5l1,0.5l1,5.5l1,-22l1,-1.5l1,2.5l1,3.5l1,-5l1,-0.5l1,2.5l1,29.5l1,-15.5l1,10l1,-1l1,16.5l1,2l1,-14.5l1,2.5l1,-10l1,8.5l1.5,-3.5l1,3l1,0.5l1,8.5l1,-9.5l1,-0.5l1,19l1,-26l1,0l1,0l1,24l1,-10l1,2.5l1,10l1,-18l1,22l1,-23l1,7l1,4.5l1,4l1,-19l1.5,1l1,-10.5l1,5.5l1,23l1,-3l1,-11.5l1,1l1,1.5l1,-15.5l1,20.5l1,-16.5l1,-9l1,12l1,1.5l1,1l1,-3l1,-22l1,17.5l1,6l1,-6.5l1,8l1.5,-8l1,8l1,-19l1,17.5l1,-12.5l1,12.5l1,-17.5l1,5l1,7.5l1,-4.5l1,-0.5l1,7l1,-27.5l1,-1.5l1,14.5l1,11.5l1,-14.5l1,-18.5l1,-4.5l1,14.5l1,3.5l1.5,-4.5l1,2.5l1,-11.5l1,21.5l1,-16.5l1,-8l1,5.5l1,10.5l1,-20l1,3.5l1,25l1,-18l1,11.5l1,-26l1,20l1,-22l1,-2l1,17l1,11l1,-2.5l1.5,-6l1,6.5l1,-1l1,-17.5l1,-12.5l1,22.5l1,-11.5l1,-4.5l1,4l1,-14l1,0.5l1,5l1,13l1,2l1,9.5l1,-7.5l1,6.5l1,-10.5l1,5l1,-4.5l1,-13l1.5,-1.5l1,16l1,-27l1,12.5l1,-10l1,-11l1,11l1,-10.5l1,-16.5l1,0l1,-6l1,-4.5l1,10.5l1,-21l1,8l1,-3.5l1,7l1,-26.5l1,-5.5l1,1.5l1,-1.5l1.5,-2l1,-8l1,2.5l1,2l1,9.5l1,1l1,-7l1,-0.5l1,1l1,13.5l1,-0.5l1,15l1,17.5l1,0l1,-15.5l1,-1l1,4.5l1,18.5l1,-1.5l1,12.5l1,-13l1.5,12l1,19l1,2.5l1,0l1,19l1,-17l1,5l1,17l1,6.5l1,15.5l1,1l1,-9l1,7.5l1,3.5l1,-15l1,12.5l1,-9l1,1.5l1,0l1,-1l1,24.5l1.5,-1.5l1,0l1,-12.5l1,4.5l1,-11l1,17.5l1,6.5l1,-1l1,-1.5l1,-20.5l1,14.5l1,-13l1,14l1,-8l1,12.5l1,2.5l1,-7l1,1l1,6l1,-6l1,-1l1.5,2l1,4l1,18l1,4.5l1,-22l1,13.5l1,-2.5l1,-16l1,0.5l1,5.5l1,-12l1,16l1,-11l1,8l1,-1l1,-16l1,21.5l1,-19.5l1,-7l1,-2.5l1.5,13l1,3l1,-14.5l1,22l1,-19.5l1,16.5l1,-30.5l1,2.5l1,-8l1,7.5l1,-2.5l1,2.5l1,12.5l1,-16l1,-2.5l1,-8l1,13.5l1,-10l1,2.5l1,6.5l1,-9.5l1.5,-0.5l1,-10.5l1,22.5l1,-7l1,6l1,-14l1,11.5l1,14l1,-21.5l1,15l1,-1l1,-1.5l1,9l1,-7.5l1,19l1,3l1,-14l1,8.5l1,16.5l1,-22l1,9.5l1.5,8.5l1,-4.5l1,-10.5l1,28l1,-3l1,-10l1,-10l1,9l1,-5l1,-5l1,-3.5l1,0l1,3l1,1l1,11l1,1.5l1,-1.5l1,8.5l1,-25l1,6.5l1,-11.5l1.5,12l1,-10l1,-1.5l1,0.5l1,15l1,14l1,-11l1,14l1,-13l1,-3l1,6l1,-6.5l1,13.5l1,5.5l1,3l1,-25.5l1,19l1,-9l1,-1.5l1,-15l1,25.5l1.5,-19l1,6l1,-1l1,10.5l1,-10l1,10.5l1,-20" fill="none" stroke="#129912" stroke-width="1.9" stroke-linejoin="round"/>
<path d="M1015.5,2362l1.5,21.5l1,-25l1,-2l1,5l1,0l1,13l1,-18l1,23l1,-1l1,-28l1,18.5l1,-11l1,9l1,4l1,-1l1,-1l1,16l1,-20l1,0l1,13l1,11l1.5,-2l1,0.5l1,-26.5l1,25.5l1,-11.5l1,7l1,-15.5l1,-4l1,19.5l1,-5l1,3.5l1,-19.5l1,-4l1,18.5l1,-24.5l1,29.5l1,-24.5l1,12l1,-4l1,-0.5l1,-6l1.5,16l1,0.5l1,-0.5l1,-1.5l1,3.5l1,-6l1,0.5l1,9l1,-18.5l1,-4l1,22.5l1,5l1,-11.5l1,9.5l1,-3l1,6.5l1,-24.5l1,23.5l1,-12l1,0.5l1.5,11l1,-1.5l1,-8l1,-6l1,19.5l1,0.5l1,-21.5l1,11.5l1,10.5l1,5.5l1,-3.5l1,-21.5l1,15.5l1,-3.5l1,-18l1,7.5l1,-2l1,-1l1,17.5l1,-9.5l1,9l1.5,-17.5l1,24l1,-7.5l1,1.5l1,-5.5l1,-9l1,-8l1,21l1,-24l1,8l1,-8.5l1,4.5l1,22.5l1,1.5l1,-9l1,8l1,6l1,-10.5l1,6.5l1,-9l1,-1.5l1.5,-3.5l1,-10l1,5l1,24l1,7.5l1,-28l1,21.5l1,1.5l1,-3l1,-8l1,-2l1,8.5l1,-12.5l1,20.5l1,-19l1,-2.5l1,22.5l1,-26l1,3l1,-4.5l1,-3l1.5,4.5l1,24.5l1,-6.5l1,-12.5l1,-14.5l1,23l1,-8.5l1,13l1,-10.5l1,-12l1,-3l1,17.5l1,-19.5l1,-2.5l1,5l1,-8.5l1,2l1,16.5l1,-9.5l1,8.5l1,-25.5l1.5,-1l1,14.5l1,-19.5l1,13l1,-11l1,-2.5l1,7l1,-24.5l1,2.5l1,-1l1,-20.5l1,-4l1,-6l1,-12.5l1,9.5l1,-9l1,-18.5l1,-7.5l1,-24.5l1,-4l1,9.5l1.5,-27l1,14.5l1,-5l1,-23.5l1,-3l1,-12l1,10l1,-12.5l1,-9l1,3l1,-2.5l1,16l1,-15.5l1,-6l1,-4l1,3.5l1,15l1,-19l1,-12.5l1,4l1.5,-1l1,8.5l1,17.5l1,-9.5l1,18l1,4l1,-19l1,25.5l1,3l1,16.5l1,-23.5l1,13.5l1,-11.5l1,0.5l1,9l1,26.5l1,-9l1,1l1,22l1,9.5l1,9.5l1.5,-21.5l1,32l1,-7.5l1,9l1,5l1,13l1,10.5l1,3l1,-10.5l1,16.5l1,-18.5l1,10.5l1,5.5l1,6.5l1,21.5l1,3.5l1,-0.5l1,-4l1,6l1,-20.5l1,4l1.5,14l1,-5l1,1.5l1,7.5l1,-17l1,22.5l1,-6.5l1,-24.5l1,9l1,12l1,-18l1,-10.5l1,8l1,10l1,-10.5l1,-3.5l1,0.5l1,19l1,4l1,-23.5l1,8.5l1.5,6.5l1,-17.5l1,23l1,-4l1,-8l1,-4l1,10.5l1,2l1,-17.5l1,-3l1,29.5l1,-11l1,1.5l1,14.5l1,-8l1,0l1,1.5l1,2l1,-2.5l1,14l1,-3l1.5,-2.5l1,-1.5l1,-20.5l1,31l1,-2.5l1,-20.5l1,20.5l1,-3l1,-4l1,-7l1,11.5l1,-11l1,8l1,3.5l1,-2.5l1,-1l1,15.5l1,2l1,1.5l1,-15l1,-8.5l1.5,-7l1,22l1,0.5l1,-15.5l1,5l1,23.5l1,-6l1,9.5l1,-12l1,3l1,5.5l1,-8l1,-9.5l1,12.5l1,8l1,-10l1,20l1,2.5l1,-21.5l1,4.5l1.5,11l1,-10.5l1,20.5l1,-22l1,17l1,-22l1,13.5l1,-21.5l1,22.5l1,-1.5l1,-2l1,-8.5l1,2.5l1,-7l1,8.5l1,4l1,-4.5l1,-2l1,12l1,-18l1,18l1.5,4l1,-17l1,-11l1,20l1,-6l1,-8.5l1,14.5l1,-15l1,13l1,-2l1,-3l1,12l1,-17l1,1l1,4l1,13.5l1,-5l1,-24l1,17.5l1,-16.5l1,8.5l1.5,11.5l1,-19l1,-2.5l1,27l1,-20l1,15l1,-9.5l1,19l1,-4.5l1,0.5l1,-20.5l1,4.5l1,15l1,-15.5l1,-3l1,25l1,-22l1,6.5l1,-16l1,-0.5l1,8l1.5,4.5l1,7l1,1.5l1,-12.5l1,-0.5l1,-8l1,16.5l1,-17l1,-15.5l1,5.5l1,-3.5l1,18.5l1,-8.5l1,8.5l1,3.5l1,14l1,-11.5l1,-1.5l1,3l1,-4.5l1,15.5l1.5,-4.5l1,7l1,-18.5l1,17.5l1,-7.5l1,15l1,0l1,-28l1,15l1,-14l1,11.5l1,-18.5l1,16l1,7l1,-2.5l1,-11l1,8l1,-1l1,-18.5l1,-4l1,8.5l1.5,-5l1,-2.5l1,16l1,-21l1,-7.5l1,-1l1,13.5l1,-10l1,1l1,4.5l1,-16.5l1,-5l1,22l1,-21l1,0.5l1,-10l1,14.5l1,-14l1,13l1,-10l1.5,14l1,-13.5l1,14l1,-17.5l1,9.5l1,-3.5l1,-1.5l1,-1l1,4l1,20l1,-29.5l1,13l1,13.5l1,-14l1,1.5l1,-2l1,-6l1,7l1,18l1,-6.5l1,-10.5l1.5,5l1,18.5l1,-21l1,24.5l1,7.5l1,-5.5l1,-6.5l1,12.5l1,10l1,-4.5l1,6l1,-9.5l1,-8l1,5l1,25.5l1,-6l1,9l1,-3.5l1,-3.5l1,1l1,8l1.5,-23.5l1,6l1,11.5l1,0.5l1,-6l1,3l1,-3l1,18l1,-20l1,12.5l1,-13l1,-2l1,-5.5l1,11l1,18l1,3.5l1,-11l1,7l1,-5l1,10l1,-24l1.5,-1l1,-3.5l1,14.5l1,6l1,-2.5l1,7.5l1,-28.5l1,-1.5l1,-2l1,6.5l1,1.5l1,0.5l1,-13.5l1,11l1,5l1,5l1,-22.5l1,22.5l1,-18l1,4.5l1,12.5l1.5,-26l1,12.5l1,-3l1,-9l1,-2.5l1,7.5l1,12l1,-15.5l1,3l1,24.5l1,-15l1,-6l1,16l1,-10.5l1,-12l1,12.5l1,-26.5l1,4.5l1,23l1,-16.5l1,-14.5l1.5,-8l1,28.5l1,-15.5l1,17l1,-20l1,9.5l1,-14l1,20l1,0.5l1,6.5l1,-11l1,4.5l1,-22.5l1,12l1,6l1,-2.5l1,-14.5l1,-5.5l1,24.5l1,6.5l1.5,-8.5l1,-12.5l1,3.5l1,-6l1,20l1,-10l1,-3.5l1,2.5l1,9l1,-2l1,-31.5l1,0.5l1,30l1,-19l1,11.5l1,-13l1,8.5l1,-4l1,-14.5l1,13.5l1,-23.5l1.5,-2l1,12l1,11.5l1,2l1,-30.5l1,7l1,-8l1,19.5l1,-19l1,-3.5l1,1.5l1,-3.5l1,0.5l1,-20.5l1,-5l1,0l1,-9l1,21.5l1,-27l1,18.5l1,-23.5l1.5,13l1,-31.5l1,13.5l1,2.5l1,-15.5l1,17l1,-4.5l1,10.5l1,-7.5l1,7l1,-7l1,15.5l1,12l1,-3.5l1,6.5l1,-1.5l1,-11.5l1,28.5l1,-16.5l1,16.5l1,15l1.5,-2.5l1,-10l1,4.5l1,14.5l1,-3l1,-7l1,8l1,21.5l1,-1l1,6.5l1,-9.5l1,-2.5l1,30.5l1,-7l1,-9.5l1,7l1,9l1,-3l1,-7l1,-4l1,27l1.5,3l1,-18.5l1,24.5l1,-20.5l1,24l1,-11l1,-2.5l1,13l1,-4l1,-6l1,11l1,-13l1,-4l1,21l1,4l1,-8.5l1,-10.5l1,20.5l1,-2.5l1,-21l1,15.5l1.5,-1l1,-13.5l1,18l1,-20l1,19l1,-3l1,7l1,-19l1,8.5l1,3l1,-21.5l1,1.5l1,12.5l1,6.5l1,-13l1,18.5l1,-3l1,-19.5l1,-6.5l1,10.5l1.5,-2l1,8l1,-24l1,22.5l1,-13l1,-2.5l1,0l1,-8.5l1,-1l1,17l1,-15.5l1,18.5l1,-7.5l1,-5l1,-3l1,5.5l1,-8.5l1,-13l1,-8.5l1,22.5l1,-9.5l1.5,12l1,4.5l1,-12l1,-3.5l1,20l1,-4.5l1,1l1,-16l1,18l1,-10l1,-3l1,-5.5l1,10.5l1,2l1,-7l1,13l1,-2.5l1,-15.5l1,12l1,-16l1,12.5l1.5,-0.5l1,11l1,0l1,-0.5l1,-16l1,4.5l1,12l1,5.5l1,-23l1,23.5l1,-4l1,7l1,-14.5l1,9.5l1,13.5l1,-21.5l1,0.5l1,12.5l1,0.5l1,-10l1,1.5l1.5,19.5l1,-18.5l1,3l1,-5l1,-0.5l1,22.5l1,-18l1,13.5l1,-12l1,17.5l1,-8l1,-21l1,11l1,-4.5l1,-13l1,26.5l1,-16.5l1,14l1,-15.5l1,16l1,-2l1.5,7.5l1,-12l1,-7.5l1,5l1,-10l1,29l1,-16.5" fill="none" stroke="#1a78c8" stroke-width="1.9" stroke-linejoin="round"/>
<path d="M1015.5,2774l1.5,-0.5l1,-3.5l1,-20.5l1,-7.5l1,23.5l1,-8.5l1,-17.5l1,34l1,3l1,-26.5l1,15.5l1,-24l1,14.5l1,8l1,-12l1,1l1,-15l1,24l1,-12.5l1,-6l1,13l1.5,12l1,-14l1,7l1,9.5l1,-32.5l1,17.5l1,7.5l1,-28l1,0.5l1,8.5l1,2.5l1,-4.5l1,4.5l1,-11.5l1,21l1,-17.5l1,-12l1,26l1,-13.5l1,-5l1,8.5l1.5,-3.5l1,-12.5l1,17l1,3.5l1,1.5l1,-10l1,10l1,2.5l1,0l1,-18l1,-8l1,1l1,5.5l1,-9.5l1,17l1,-4l1,-13l1,6l1,1l1,16l1.5,-26.5l1,22l1,-0.5l1,-13.5l1,-11l1,16.5l1,-15l1,4.5l1,13l1,-6.5l1,-1.5l1,-6.5l1,-7.5l1,10.5l1,16.5l1,1.5l1,-20l1,18l1,-8l1,4l1,16.5l1.5,-2l1,-8.5l1,0l1,11.5l1,-14l1,12.5l1,-1.5l1,1.5l1,-5.5l1,7.5l1,5l1,-19.5l1,15.5l1,-10.5l1,3.5l1,-4.5l1,-1l1,10l1,-7l1,-8l1,20l1.5,-12.5l1,10l1,10.5l1,-9l1,-6l1,-5l1,14.5l1,6l1,-10.5l1,0l1,-13l1,3.5l1,4l1,3.5l1,11l1,-12l1,-0.5l1,16l1,-8.5l1,3.5l1,-11.5l1.5,17l1,-13.5l1,9l1,1l1,-7.5l1,12l1,-31.5l1,23.5l1,-13.5l1,-3l1,-3l1,11.5l1,3l1,-5l1,-18.5l1,2.5l1,-9.5l1,7l1,-6l1,-8.5l1,5.5l1.5,18l1,-15.5l1,-13.5l1,-8.5l1,17l1,-25l1,-4.5l1,-3.5l1,12l1,0.5l1,-30l1,13.5l1,-9l1,-13.5l1,-24l1,12l1,-11.5l1,12l1,-2.5l1,-15l1,-26.5l1.5,-8l1,0l1,-2l1,-17l1,-5.5l1,3.5l1,6.5l1,-23.5l1,16.5l1,-3l1,-5.5l1,-13.5l1,12.5l1,-8.5l1,-20l1,-1.5l1,5.5l1,6.5l1,-6l1,7l1.5,18l1,-2l1,4.5l1,0l1,-8l1,7l1,11.5l1,-1l1,8l1,7.5l1,7.5l1,3l1,-9l1,0l1,8.5l1,18l1,-6.5l1,17.5l1,1l1,10.5l1,-14.5l1.5,25.5l1,-17l1,20l1,3l1,2l1,3l1,6l1,6.5l1,-5l1,10.5l1,-5l1,13.5l1,5.5l1,-3.5l1,7l1,2l1,2l1,-5.5l1,4l1,-1.5l1,22l1.5,-15.5l1,9.5l1,-16l1,6.5l1,-7l1,-3l1,1.5l1,7l1,12l1,4l1,1.5l1,-16l1,5l1,12l1,-2l1,7l1,-27l1,20.5l1,-12.5l1,11.5l1,-7.5l1.5,1.5l1,8.5l1,-14l1,-0.5l1,29l1,-16.5l1,-2l1,-5.5l1,12l1,2l1,7l1,-15.5l1,-7l1,16.5l1,-9.5l1,11l1,4.5l1,3.5l1,-23l1,0.5l1,6l1.5,13l1,-7.5l1,0l1,15.5l1,-22l1,-1l1,2.5l1,14.5l1,-5l1,6l1,2l1,0l1,2l1,-5l1,19.5l1,-5.5l1,-8l1,-9.5l1,25l1,-26l1,23.5l1.5,-8.5l1,-10.5l1,6.5l1,-0.5l1,-13l1,14.5l1,10.5l1,-7.5l1,-14l1,2l1,20.5l1,-22.5l1,20l1,-9l1,1l1,0.5l1,2l1,-11.5l1,24l1,-13l1.5,14.5l1,-16l1,21.5l1,-9.5l1,-12l1,14.5l1,-5l1,-17.5l1,-2l1,21.5l1,-23l1,29l1,-1.5l1,-26l1,20.5l1,-22l1,15l1,3.5l1,-20l1,7l1,17.5l1.5,-5.5l1,0l1,-12l1,15l1,-19.5l1,8.5l1,-0.5l1,-6l1,9.5l1,-15l1,30l1,-12.5l1,10.5l1,-6l1,-12.5l1,5.5l1,-15.5l1,12.5l1,7l1,-13.5l1,23l1.5,-8l1,-18l1,10l1,14.5l1,-19.5l1,-4l1,0.5l1,5.5l1,0.5l1,0l1,8.5l1,-5l1,4.5l1,9.5l1,-10.5l1,-17l1,1.5l1,7l1,23.5l1,-27l1,13.5l1.5,-10l1,-6.5l1,9.5l1,4.5l1,-2l1,-16l1,3.5l1,6l1,1l1,-0.5l1,4.5l1,-6.5l1,13.5l1,13l1,-4.5l1,-22.5l1,23.5l1,-14.5l1,-9l1,0.5l1,-8l1.5,4l1,7l1,-10.5l1,26.5l1,-19.5l1,4l1,-8l1,21.5l1,-0.5l1,-13.5l1,-11.5l1,23l1,-11l1,-8.5l1,6.5l1,11.5l1,-3.5l1,-21.5l1,26l1,-16l1,6.5l1.5,-16.5l1,15l1,4.5l1,-25.5l1,26l1,-13l1,-7.5l1,-28l1,21.5l1,0l1,5.5l1,-21l1,-12l1,22l1,-7l1,-5l1,9l1,-21l1,1l1,31l1.5,-3.5l1,-4.5l1,-9.5l1,-5l1,-5.5l1,-6.5l1,22.5l1,-17l1,14.5l1,-19.5l1,7.5l1,7l1,-2.5l1,-4.5l1,19l1,-21.5l1,16.5l1,-1.5l1,1l1,-6.5l1,20l1.5,9.5l1,-4l1,1.5l1,1l1,1l1,5.5l1,0l1,-3l1,21l1,-13l1,-5.5l1,22l1,11l1,-23.5l1,-7.5l1,13.5l1,1l1,-1.5l1,6l1,4.5l1,-4.5l1.5,7l1,-3.5l1,0l1,-11.5l1,24l1,-3l1,2.5l1,-4.5l1,24.5l1,-8l1,2.5l1,-7l1,0l1,3l1,-17.5l1,0l1,12.5l1,-13.5l1,-9.5l1,13.5l1,9.5l1.5,-12.5l1,4.5l1,10l1,-23.5l1,-0.5l1,-7l1,9.5l1,-6.5l1,9.5l1,-8.5l1,-4.5l1,18.5l1,-3l1,-3l1,-19.5l1,3l1,3.5l1,11l1,5l1,-17.5l1,-4.5l1.5,1.5l1,-3l1,13.5l1,-7l1,-17l1,16l1,3l1,-5l1,4.5l1,-28l1,13.5l1,-19.5l1,23.5l1,-8l1,6.5l1,-23l1,1.5l1,23.5l1,-23.5l1,7.5l1,13l1.5,-0.5l1,-19.5l1,-3l1,20.5l1,-12l1,1.5l1,-9.5l1,8l1,11.5l1,-6.5l1,-16.5l1,0.5l1,22.5l1,-11.5l1,-10.5l1,14.5l1,6.5l1,-4l1,-7l1,-18.5l1.5,21l1,-2.5l1,7.5l1,-8l1,8l1,-1l1,-16.5l1,-7l1,14.5l1,-16.5l1,7l1,-5.5l1,6l1,4l1,8l1,-7l1,-15.5l1,12l1,-1.5l1,-12.5l1,-16l1.5,22.5l1,-1.5l1,-17.5l1,8l1,7l1,-7l1,-14.5l1,4l1,-9.5l1,18.5l1,-5.5l1,-16.5l1,1l1,8.5l1,-8.5l1,-17.5l1,9.5l1,-12l1,-24l1,23l1,-16.5l1.5,-2.5l1,5l1,2l1,-17l1,-15l1,4.5l1,19.5l1,-7.5l1,-1.5l1,1.5l1,1l1,15l1,5l1,-17l1,-3.5l1,8l1,10.5l1,7l1,10l1,5l1,2.5l1.5,21l1,-17l1,12.5l1,13.5l1,2l1,2l1,9l1,-19l1,21l1,-1.5l1,14l1,-15.5l1,10.5l1,22l1,-19l1,17.5l1,5.5l1,-10.5l1,-3l1,3.5l1,-8.5l1.5,12l1,6.5l1,0.5l1,-9l1,5l1,-10l1,2.5l1,27l1,-17l1,4.5l1,1l1,-13l1,6l1,11l1,-1.5l1,4.5l1,-5.5l1,-2.5l1,7l1,-6.5l1,-16.5l1.5,11l1,12l1,-5l1,-8.5l1,3.5l1,-13l1,14l1,-7l1,5l1,10.5l1,-11l1,8l1,-27l1,10l1,10l1,-8.5l1,11l1,-8l1,5.5l1,-10.5l1.5,20.5l1,-16l1,4.5l1,-7l1,4l1,-1.5l1,19l1,-6.5l1,-3l1,-18.5l1,4.5l1,15.5l1,1l1,-22.5l1,11l1,3.5l1,-12l1,-9l1,-2.5l1,13l1,-9l1.5,13.5l1,-23l1,12.5l1,8l1,-23.5l1,-1l1,27l1,-15l1,13.5l1,-22l1,16.5l1,2.5l1,-6l1,9.5l1,1.5l1,2.5l1,-4l1,12l1,0.5l1,-12.5l1,27l1.5,-15l1,7l1,10l1,-8.5l1,-9.5l1,9l1,-18l1,-6.5l1,19.5l1,-2l1,12.5l1,-24l1,16l1,-9.5l1,-11.5l1,18.5l1,14.5l1,-3l1,-7l1,-2.5l1,8l1.5,6.5l1,-11.5l1,-13.5l1,17.5l1,-16l1,-1l1,9.5l1,0.5l1,-15.5l1,17.5l1,4.5l1,6.5l1,-15l1,14.5l1,-19.5l1,7.5l1,-5.5l1,5l1,-3l1,19l1,0l1.5,-11l1,-12l1,5l1,-1l1,3.5l1,3l1,-1" fill="none" stroke="#7030a0" stroke-width="1.9" stroke-linejoin="round"/>
<text x="1113.4" y="1829.3" font-family="Liberation Sans, sans-serif" font-size="33" font-weight="bold" fill="#111" text-anchor="start" textLength="75" lengthAdjust="spacingAndGlyphs">1360</text>
<text x="1232" y="1851.8" font-family="Liberation Sans, sans-serif" font-size="33" font-weight="bold" fill="#111" text-anchor="start" textLength="75" lengthAdjust="spacingAndGlyphs">1373</text>
<text x="1438.9" y="1937" font-family="Liberation Sans, sans-serif" font-size="33" font-weight="bold" fill="#111" text-anchor="start" textLength="75" lengthAdjust="spacingAndGlyphs">1504</text>
<text x="1588.9" y="1853.9" font-family="Liberation Sans, sans-serif" font-size="33" font-weight="bold" fill="#111" text-anchor="start" textLength="75" lengthAdjust="spacingAndGlyphs">1587</text>
<text x="1708.3" y="1948.3" font-family="Liberation Sans, sans-serif" font-size="33" font-weight="bold" fill="#111" text-anchor="start" textLength="75" lengthAdjust="spacingAndGlyphs">1635</text>
<text x="1051" y="1895.5" font-family="Liberation Sans, sans-serif" font-size="38" font-weight="bold" fill="#1f9a1f" text-anchor="start" textLength="57" lengthAdjust="spacingAndGlyphs">W1</text>
<text x="1051" y="2226.7" font-family="Liberation Sans, sans-serif" font-size="38" font-weight="bold" fill="#1a78c8" text-anchor="start" textLength="57" lengthAdjust="spacingAndGlyphs">W2</text>
<text x="1051" y="2616" font-family="Liberation Sans, sans-serif" font-size="38" font-weight="bold" fill="#7030a0" text-anchor="start" textLength="57" lengthAdjust="spacingAndGlyphs">W3</text>
</svg>
</body></html>
